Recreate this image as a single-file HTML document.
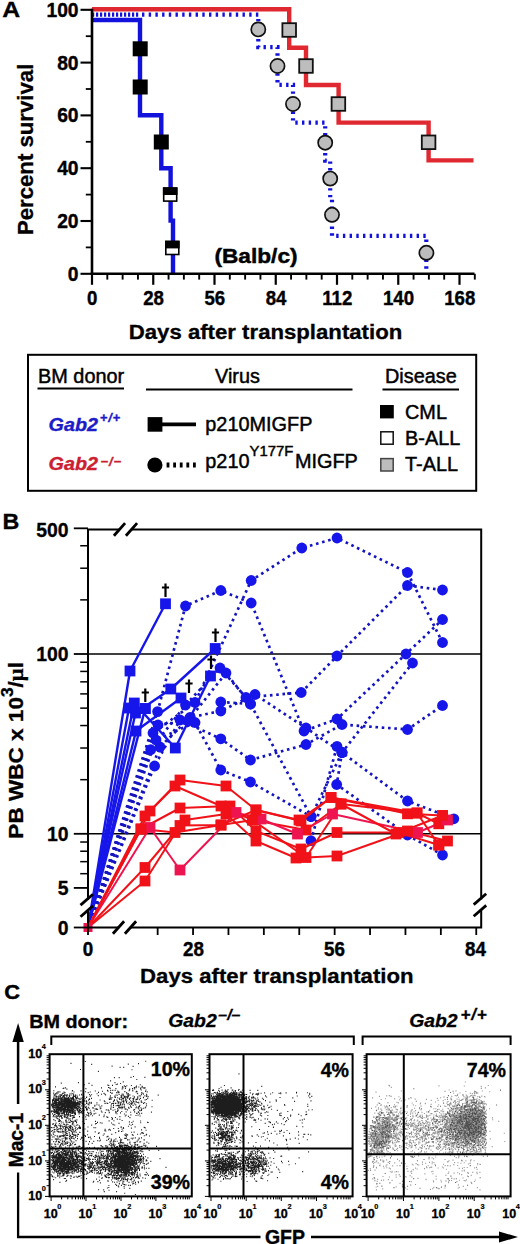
<!DOCTYPE html>
<html><head><meta charset="utf-8"><title>Figure</title>
<style>
html,body{margin:0;padding:0;background:#fff;}
body{width:520px;height:1244px;overflow:hidden;font-family:"Liberation Sans",sans-serif;}
svg{display:block;font-family:"Liberation Sans",sans-serif;}
</style></head><body>
<svg width="520" height="1244" viewBox="0 0 520 1244">
<rect x="0" y="0" width="520" height="1244" fill="#fff"/>
<g id="panelA">
<text transform="translate(2.3,17.4) scale(1.17,1)" font-size="21.2" font-weight="bold" text-anchor="start" fill="#000" stroke="#000" stroke-width="0.3" >A</text>
<path d="M92.0,20 H140 V115.3 H161.3 V168.2 H170.6 V220.6 H173 V273.8" fill="none" stroke="#1212dc" stroke-width="4.4" stroke-linejoin="miter"/>
<path d="M92.0,14.6 H140" fill="none" stroke="#1212dc" stroke-width="4.4" stroke-dasharray="2.2 1.8"/>
<path d="M142,14.6 H258.3 V47.2 H277.5 V84.9 H293 V122.6 H325.2 V160.6 H330.2 V199 H332 V235.8 H426.3 V273.8" fill="none" stroke="#1212dc" stroke-width="4.2" stroke-dasharray="2.4 4.3"/>
<path d="M92.0,9.3 H289.2 V47.8 H306 V85 H338.6 V122.6 H428.6 V160.4 H473.5" fill="none" stroke="#e02830" stroke-width="4.4" stroke-linejoin="miter"/>
<rect x="132.7" y="41.3" width="15" height="15" fill="#000" stroke="#000" stroke-width="0"/>
<rect x="132.7" y="79.5" width="15" height="15" fill="#000" stroke="#000" stroke-width="0"/>
<rect x="153.8" y="134.5" width="15" height="15" fill="#000" stroke="#000" stroke-width="0"/>
<rect x="163.7" y="188.1" width="13" height="13" fill="#fff" stroke="#000" stroke-width="1.6"/>
<rect x="162.9" y="187.3" width="14.6" height="7.7" fill="#000"/>
<rect x="165.8" y="241.5" width="13" height="13" fill="#fff" stroke="#000" stroke-width="1.6"/>
<rect x="165.0" y="240.7" width="14.6" height="7.7" fill="#000"/>
<rect x="282.4" y="23.2" width="13.6" height="13.6" fill="#bdbdbd" stroke="#111" stroke-width="1.8"/>
<rect x="299.2" y="59.2" width="13.6" height="13.6" fill="#bdbdbd" stroke="#111" stroke-width="1.8"/>
<rect x="331.6" y="97.2" width="13.6" height="13.6" fill="#bdbdbd" stroke="#111" stroke-width="1.8"/>
<rect x="421.8" y="135.5" width="13.6" height="13.6" fill="#bdbdbd" stroke="#111" stroke-width="1.8"/>
<circle cx="258.3" cy="29.4" r="7.1" fill="#bdbdbd" stroke="#111" stroke-width="1.7"/>
<circle cx="277.5" cy="66" r="7.1" fill="#bdbdbd" stroke="#111" stroke-width="1.7"/>
<circle cx="293" cy="104" r="7.1" fill="#bdbdbd" stroke="#111" stroke-width="1.7"/>
<circle cx="325.2" cy="142.7" r="7.1" fill="#bdbdbd" stroke="#111" stroke-width="1.7"/>
<circle cx="330.2" cy="178.6" r="7.1" fill="#bdbdbd" stroke="#111" stroke-width="1.7"/>
<circle cx="332" cy="214.8" r="7.1" fill="#bdbdbd" stroke="#111" stroke-width="1.7"/>
<circle cx="426.4" cy="252.8" r="7.1" fill="#bdbdbd" stroke="#111" stroke-width="1.7"/>
<line x1="92.0" y1="8.8" x2="92.0" y2="275.1" stroke="#000" stroke-width="2.6" />
<line x1="90.7" y1="273.8" x2="474.5" y2="273.8" stroke="#000" stroke-width="2.6" />
<line x1="80.5" y1="273.8" x2="92.0" y2="273.8" stroke="#000" stroke-width="2.1" />
<text transform="translate(78.6,280.7) scale(0.95,1)" font-size="20.3" font-weight="bold" text-anchor="end" fill="#000" stroke="#000" stroke-width="0.4" >0</text>
<line x1="85.8" y1="247.4" x2="92.0" y2="247.4" stroke="#000" stroke-width="1.8" />
<line x1="80.5" y1="221.0" x2="92.0" y2="221.0" stroke="#000" stroke-width="2.1" />
<text transform="translate(78.6,227.9) scale(0.95,1)" font-size="20.3" font-weight="bold" text-anchor="end" fill="#000" stroke="#000" stroke-width="0.4" >20</text>
<line x1="85.8" y1="194.60000000000002" x2="92.0" y2="194.60000000000002" stroke="#000" stroke-width="1.8" />
<line x1="80.5" y1="168.20000000000002" x2="92.0" y2="168.20000000000002" stroke="#000" stroke-width="2.1" />
<text transform="translate(78.6,175.10000000000002) scale(0.95,1)" font-size="20.3" font-weight="bold" text-anchor="end" fill="#000" stroke="#000" stroke-width="0.4" >40</text>
<line x1="85.8" y1="141.8" x2="92.0" y2="141.8" stroke="#000" stroke-width="1.8" />
<line x1="80.5" y1="115.4" x2="92.0" y2="115.4" stroke="#000" stroke-width="2.1" />
<text transform="translate(78.6,122.30000000000001) scale(0.95,1)" font-size="20.3" font-weight="bold" text-anchor="end" fill="#000" stroke="#000" stroke-width="0.4" >60</text>
<line x1="85.8" y1="89.0" x2="92.0" y2="89.0" stroke="#000" stroke-width="1.8" />
<line x1="80.5" y1="62.60000000000002" x2="92.0" y2="62.60000000000002" stroke="#000" stroke-width="2.1" />
<text transform="translate(78.6,69.50000000000003) scale(0.95,1)" font-size="20.3" font-weight="bold" text-anchor="end" fill="#000" stroke="#000" stroke-width="0.4" >80</text>
<line x1="85.8" y1="36.20000000000002" x2="92.0" y2="36.20000000000002" stroke="#000" stroke-width="1.8" />
<line x1="80.5" y1="9.800000000000011" x2="92.0" y2="9.800000000000011" stroke="#000" stroke-width="2.1" />
<text transform="translate(78.6,16.70000000000001) scale(0.95,1)" font-size="20.3" font-weight="bold" text-anchor="end" fill="#000" stroke="#000" stroke-width="0.4" >100</text>
<line x1="92.0" y1="273.8" x2="92.0" y2="284.8" stroke="#000" stroke-width="2.2" />
<text transform="translate(92.3,304.8) scale(0.92,1)" font-size="20.3" font-weight="bold" text-anchor="middle" fill="#000" stroke="#000" stroke-width="0.4" >0</text>
<line x1="107.3125" y1="273.8" x2="107.3125" y2="279.6" stroke="#000" stroke-width="1.9" />
<line x1="122.625" y1="273.8" x2="122.625" y2="279.6" stroke="#000" stroke-width="1.9" />
<line x1="137.9375" y1="273.8" x2="137.9375" y2="279.6" stroke="#000" stroke-width="1.9" />
<line x1="153.25" y1="273.8" x2="153.25" y2="284.8" stroke="#000" stroke-width="2.2" />
<text transform="translate(153.55,304.8) scale(0.92,1)" font-size="20.3" font-weight="bold" text-anchor="middle" fill="#000" stroke="#000" stroke-width="0.4" >28</text>
<line x1="168.5625" y1="273.8" x2="168.5625" y2="279.6" stroke="#000" stroke-width="1.9" />
<line x1="183.875" y1="273.8" x2="183.875" y2="279.6" stroke="#000" stroke-width="1.9" />
<line x1="199.1875" y1="273.8" x2="199.1875" y2="279.6" stroke="#000" stroke-width="1.9" />
<line x1="214.5" y1="273.8" x2="214.5" y2="284.8" stroke="#000" stroke-width="2.2" />
<text transform="translate(214.8,304.8) scale(0.92,1)" font-size="20.3" font-weight="bold" text-anchor="middle" fill="#000" stroke="#000" stroke-width="0.4" >56</text>
<line x1="229.8125" y1="273.8" x2="229.8125" y2="279.6" stroke="#000" stroke-width="1.9" />
<line x1="245.125" y1="273.8" x2="245.125" y2="279.6" stroke="#000" stroke-width="1.9" />
<line x1="260.4375" y1="273.8" x2="260.4375" y2="279.6" stroke="#000" stroke-width="1.9" />
<line x1="275.75" y1="273.8" x2="275.75" y2="284.8" stroke="#000" stroke-width="2.2" />
<text transform="translate(276.05,304.8) scale(0.92,1)" font-size="20.3" font-weight="bold" text-anchor="middle" fill="#000" stroke="#000" stroke-width="0.4" >84</text>
<line x1="291.0625" y1="273.8" x2="291.0625" y2="279.6" stroke="#000" stroke-width="1.9" />
<line x1="306.375" y1="273.8" x2="306.375" y2="279.6" stroke="#000" stroke-width="1.9" />
<line x1="321.6875" y1="273.8" x2="321.6875" y2="279.6" stroke="#000" stroke-width="1.9" />
<line x1="337.0" y1="273.8" x2="337.0" y2="284.8" stroke="#000" stroke-width="2.2" />
<text transform="translate(337.3,304.8) scale(0.92,1)" font-size="20.3" font-weight="bold" text-anchor="middle" fill="#000" stroke="#000" stroke-width="0.4" >112</text>
<line x1="352.3125" y1="273.8" x2="352.3125" y2="279.6" stroke="#000" stroke-width="1.9" />
<line x1="367.625" y1="273.8" x2="367.625" y2="279.6" stroke="#000" stroke-width="1.9" />
<line x1="382.9375" y1="273.8" x2="382.9375" y2="279.6" stroke="#000" stroke-width="1.9" />
<line x1="398.25" y1="273.8" x2="398.25" y2="284.8" stroke="#000" stroke-width="2.2" />
<text transform="translate(398.55,304.8) scale(0.92,1)" font-size="20.3" font-weight="bold" text-anchor="middle" fill="#000" stroke="#000" stroke-width="0.4" >140</text>
<line x1="413.5625" y1="273.8" x2="413.5625" y2="279.6" stroke="#000" stroke-width="1.9" />
<line x1="428.875" y1="273.8" x2="428.875" y2="279.6" stroke="#000" stroke-width="1.9" />
<line x1="444.1875" y1="273.8" x2="444.1875" y2="279.6" stroke="#000" stroke-width="1.9" />
<line x1="459.5" y1="273.8" x2="459.5" y2="284.8" stroke="#000" stroke-width="2.2" />
<text transform="translate(459.8,304.8) scale(0.92,1)" font-size="20.3" font-weight="bold" text-anchor="middle" fill="#000" stroke="#000" stroke-width="0.4" >168</text>
<line x1="474.8125" y1="273.8" x2="474.8125" y2="279.6" stroke="#000" stroke-width="1.9" />
<text transform="translate(33.0,149.4) rotate(-90)" font-size="22.2" stroke="#000" stroke-width="0.3" font-weight="bold" text-anchor="middle">Percent survival</text>
<text transform="translate(265.5,338.6) scale(1.072,1)" font-size="20.7" font-weight="bold" text-anchor="middle" fill="#000" stroke="#000" stroke-width="0.3" >Days after transplantation</text>
<text transform="translate(256,263.2) scale(1.09,1)" font-size="20.8" font-weight="bold" text-anchor="middle" fill="#000" stroke="#000" stroke-width="0.45" >(Balb/c)</text>
</g>
<g id="legend">
<rect x="28" y="354.8" width="448.2" height="136" fill="none" stroke="#000" stroke-width="2"/>
<text transform="translate(38,382.5) scale(1.02,1)" font-size="19.5" font-weight="normal" text-anchor="start" fill="#000" stroke="#000" stroke-width="0.45" >BM donor</text>
<line x1="37.5" y1="388.6" x2="124" y2="388.6" stroke="#000" stroke-width="2" />
<text transform="translate(215,382.5) scale(1.02,1)" font-size="19.5" font-weight="normal" text-anchor="start" fill="#000" stroke="#000" stroke-width="0.45" >Virus</text>
<line x1="146" y1="389.4" x2="352.5" y2="389.4" stroke="#000" stroke-width="2" />
<text transform="translate(385,382.5) scale(1.02,1)" font-size="19.5" font-weight="normal" text-anchor="start" fill="#000" stroke="#000" stroke-width="0.45" >Disease</text>
<line x1="382.5" y1="389.4" x2="459" y2="389.4" stroke="#000" stroke-width="2" />
<text transform="translate(48.6,430.8) scale(1.04,1)" font-size="19" font-weight="bold" font-style="italic" fill="#1c1cc8" stroke="#1c1cc8" stroke-width="0.35">Gab2<tspan dy="-8.7" dx="1.8" font-size="12.5" letter-spacing="0.7">+/+</tspan></text>
<text transform="translate(48.6,470.2) scale(1.04,1)" font-size="19" font-weight="bold" font-style="italic" fill="#cc2030" stroke="#cc2030" stroke-width="0.35">Gab2<tspan dy="-4.2" dx="2.4" font-size="12.5" letter-spacing="0.9">&#8722;/&#8722;</tspan></text>
<rect x="147.6" y="417.1" width="14.8" height="14.6" fill="#000"/>
<line x1="160" y1="424.3" x2="196" y2="424.3" stroke="#000" stroke-width="3.8" />
<text transform="translate(205.3,430.8) scale(1.02,1)" font-size="19.5" font-weight="normal" text-anchor="start" fill="#000" stroke="#000" stroke-width="0.45" >p210MIGFP</text>
<circle cx="154.9" cy="465" r="7.6" fill="#000"/>
<line x1="166.6" y1="465.1" x2="196.2" y2="465.1" stroke="#000" stroke-width="5" stroke-dasharray="2.8 3.8"/>
<text transform="translate(205.3,468.3) scale(1.02,1)" font-size="19.5" font-weight="normal" stroke="#000" stroke-width="0.45">p210<tspan dy="-12.8" font-size="14.6">Y177F</tspan><tspan dy="12.8" dx="1.5">MIGFP</tspan></text>
<rect x="380" y="405" width="13.8" height="13.4" fill="#000"/>
<text transform="translate(405,418.8) scale(1.02,1)" font-size="19.5" font-weight="normal" text-anchor="start" fill="#000" stroke="#000" stroke-width="0.45" >CML</text>
<rect x="380.8" y="431.8" width="12.4" height="12.4" fill="#fff" stroke="#111" stroke-width="1.5"/>
<text transform="translate(405,445) scale(1.02,1)" font-size="19.5" font-weight="normal" text-anchor="start" fill="#000" stroke="#000" stroke-width="0.45" >B-ALL</text>
<rect x="380.8" y="458.6" width="12.4" height="12.4" fill="#bdbdbd" stroke="#444" stroke-width="1.5"/>
<text transform="translate(405,470.7) scale(1.02,1)" font-size="19.5" font-weight="normal" text-anchor="start" fill="#000" stroke="#000" stroke-width="0.45" >T-ALL</text>
</g>
<g id="panelB">
<text transform="translate(2.6,528.6) scale(1.1,1)" font-size="21.2" font-weight="bold" text-anchor="start" fill="#000" stroke="#000" stroke-width="0.3" >B</text>
<line x1="88.0" y1="654.0" x2="481.2" y2="654.0" stroke="#000" stroke-width="1.5" />
<line x1="88.0" y1="833.8" x2="481.2" y2="833.8" stroke="#000" stroke-width="1.5" />
<path d="M88.0,927.5 L157.6,711.6 L185.5,606.0 L220.8,590.5 L251.2,603.0 L304.0,731.0 L337.0,719.0 L406.0,654.0 L442.5,619.5" fill="none" stroke="#1414c0" stroke-width="2.7" stroke-dasharray="2.6 3.7" stroke-linejoin="round"/>
<path d="M88.0,927.5 L153.0,733.0 L195.0,702.5 L251.2,580.5 L301.8,548.0 L337.0,538.0 L407.5,572.5 L442.5,642.5" fill="none" stroke="#1414c0" stroke-width="2.7" stroke-dasharray="2.6 3.7" stroke-linejoin="round"/>
<path d="M88.0,927.5 L150.7,749.7 L185.5,705.0 L220.0,668.0 L246.0,697.5 L301.2,692.5 L337.0,656.0 L407.5,585.5 L442.5,590.0" fill="none" stroke="#1414c0" stroke-width="2.7" stroke-dasharray="2.6 3.7" stroke-linejoin="round"/>
<path d="M88.0,927.5 L160.0,747.0 L190.0,717.5 L220.8,711.0 L255.0,694.5 L306.0,728.0 L342.0,752.5 L412.5,663.0" fill="none" stroke="#1414c0" stroke-width="2.7" stroke-dasharray="2.6 3.7" stroke-linejoin="round"/>
<path d="M88.0,927.5 L154.6,766.0 L180.0,720.0 L220.8,738.8 L250.5,760.0 L306.0,744.5 L342.0,724.5 L407.5,729.5 L442.5,705.5" fill="none" stroke="#1414c0" stroke-width="2.7" stroke-dasharray="2.6 3.7" stroke-linejoin="round"/>
<path d="M88.0,927.5 L156.0,740.0 L195.0,722.5 L220.8,770.0 L250.5,782.0 L311.0,816.5 L342.0,752.5 L407.5,801.0 L453.8,818.8" fill="none" stroke="#1414c0" stroke-width="2.7" stroke-dasharray="2.6 3.7" stroke-linejoin="round"/>
<path d="M88.0,927.5 L158.0,725.0 L188.0,721.0 L226.0,673.0 L250.5,704.0 L311.0,816.5" fill="none" stroke="#1414c0" stroke-width="2.7" stroke-dasharray="2.6 3.7" stroke-linejoin="round"/>
<path d="M311.0,840.7 L337.0,746.4" fill="none" stroke="#1414c0" stroke-width="2.7" stroke-dasharray="2.6 3.7" stroke-linejoin="round"/>
<path d="M342.0,752.5 L336.7,784.5 L407.5,835.0 L442.5,855.0" fill="none" stroke="#1414c0" stroke-width="2.7" stroke-dasharray="2.6 3.7" stroke-linejoin="round"/>
<path d="M220.8,702.0 L250.5,704.0" fill="none" stroke="#1414c0" stroke-width="2.7" stroke-dasharray="2.6 3.7" stroke-linejoin="round"/>
<circle cx="157.6" cy="711.6" r="5.4" fill="#1616ea"/>
<circle cx="185.5" cy="606.0" r="5.4" fill="#1616ea"/>
<circle cx="220.8" cy="590.5" r="5.4" fill="#1616ea"/>
<circle cx="251.2" cy="603.0" r="5.4" fill="#1616ea"/>
<circle cx="304.0" cy="731.0" r="5.4" fill="#1616ea"/>
<circle cx="337.0" cy="719.0" r="5.4" fill="#1616ea"/>
<circle cx="406.0" cy="654.0" r="5.4" fill="#1616ea"/>
<circle cx="442.5" cy="619.5" r="5.4" fill="#1616ea"/>
<circle cx="153.0" cy="733.0" r="5.4" fill="#1616ea"/>
<circle cx="195.0" cy="702.5" r="5.4" fill="#1616ea"/>
<circle cx="251.2" cy="580.5" r="5.4" fill="#1616ea"/>
<circle cx="301.8" cy="548.0" r="5.4" fill="#1616ea"/>
<circle cx="337.0" cy="538.0" r="5.4" fill="#1616ea"/>
<circle cx="407.5" cy="572.5" r="5.4" fill="#1616ea"/>
<circle cx="442.5" cy="642.5" r="5.4" fill="#1616ea"/>
<circle cx="150.7" cy="749.7" r="5.4" fill="#1616ea"/>
<circle cx="185.5" cy="705.0" r="5.4" fill="#1616ea"/>
<circle cx="220.0" cy="668.0" r="5.4" fill="#1616ea"/>
<circle cx="246.0" cy="697.5" r="5.4" fill="#1616ea"/>
<circle cx="301.2" cy="692.5" r="5.4" fill="#1616ea"/>
<circle cx="337.0" cy="656.0" r="5.4" fill="#1616ea"/>
<circle cx="407.5" cy="585.5" r="5.4" fill="#1616ea"/>
<circle cx="442.5" cy="590.0" r="5.4" fill="#1616ea"/>
<circle cx="160.0" cy="747.0" r="5.4" fill="#1616ea"/>
<circle cx="190.0" cy="717.5" r="5.4" fill="#1616ea"/>
<circle cx="220.8" cy="711.0" r="5.4" fill="#1616ea"/>
<circle cx="255.0" cy="694.5" r="5.4" fill="#1616ea"/>
<circle cx="306.0" cy="728.0" r="5.4" fill="#1616ea"/>
<circle cx="342.0" cy="752.5" r="5.4" fill="#1616ea"/>
<circle cx="412.5" cy="663.0" r="5.4" fill="#1616ea"/>
<circle cx="154.6" cy="766.0" r="5.4" fill="#1616ea"/>
<circle cx="180.0" cy="720.0" r="5.4" fill="#1616ea"/>
<circle cx="220.8" cy="738.8" r="5.4" fill="#1616ea"/>
<circle cx="250.5" cy="760.0" r="5.4" fill="#1616ea"/>
<circle cx="306.0" cy="744.5" r="5.4" fill="#1616ea"/>
<circle cx="342.0" cy="724.5" r="5.4" fill="#1616ea"/>
<circle cx="407.5" cy="729.5" r="5.4" fill="#1616ea"/>
<circle cx="442.5" cy="705.5" r="5.4" fill="#1616ea"/>
<circle cx="156.0" cy="740.0" r="5.4" fill="#1616ea"/>
<circle cx="195.0" cy="722.5" r="5.4" fill="#1616ea"/>
<circle cx="220.8" cy="770.0" r="5.4" fill="#1616ea"/>
<circle cx="250.5" cy="782.0" r="5.4" fill="#1616ea"/>
<circle cx="311.0" cy="816.5" r="5.4" fill="#1616ea"/>
<circle cx="342.0" cy="752.5" r="5.4" fill="#1616ea"/>
<circle cx="407.5" cy="801.0" r="5.4" fill="#1616ea"/>
<circle cx="453.8" cy="818.8" r="5.4" fill="#1616ea"/>
<circle cx="158.0" cy="725.0" r="5.4" fill="#1616ea"/>
<circle cx="188.0" cy="721.0" r="5.4" fill="#1616ea"/>
<circle cx="226.0" cy="673.0" r="5.4" fill="#1616ea"/>
<circle cx="250.5" cy="704.0" r="5.4" fill="#1616ea"/>
<circle cx="311.0" cy="816.5" r="5.4" fill="#1616ea"/>
<circle cx="311.0" cy="840.7" r="5.4" fill="#1616ea"/>
<circle cx="337.0" cy="746.4" r="5.4" fill="#1616ea"/>
<circle cx="342.0" cy="752.5" r="5.4" fill="#1616ea"/>
<circle cx="336.7" cy="784.5" r="5.4" fill="#1616ea"/>
<circle cx="407.5" cy="835.0" r="5.4" fill="#1616ea"/>
<circle cx="442.5" cy="855.0" r="5.4" fill="#1616ea"/>
<circle cx="220.8" cy="702.0" r="5.4" fill="#1616ea"/>
<circle cx="250.5" cy="704.0" r="5.4" fill="#1616ea"/>
<path d="M88.0,927.5 L130.0,671.0 L165.5,603.8" fill="none" stroke="#1616ea" stroke-width="2.4" stroke-linejoin="round"/>
<path d="M88.0,927.5 L129.0,708.0 L145.2,708.6" fill="none" stroke="#1616ea" stroke-width="2.4" stroke-linejoin="round"/>
<path d="M88.0,927.5 L145.2,708.6" fill="none" stroke="#1616ea" stroke-width="2.4" stroke-linejoin="round"/>
<path d="M88.0,927.5 L134.3,703.0 L175.3,748.0 L210.5,676.0" fill="none" stroke="#1616ea" stroke-width="2.4" stroke-linejoin="round"/>
<path d="M88.0,927.5 L135.5,713.0 L170.8,689.0 L215.2,648.5" fill="none" stroke="#1616ea" stroke-width="2.4" stroke-linejoin="round"/>
<path d="M88.0,927.5 L136.0,731.0 L181.0,698.0" fill="none" stroke="#1616ea" stroke-width="2.4" stroke-linejoin="round"/>
<rect x="124.6" y="665.6" width="10.8" height="10.8" fill="#1616ea"/>
<rect x="160.1" y="598.4" width="10.8" height="10.8" fill="#1616ea"/>
<rect x="123.6" y="702.6" width="10.8" height="10.8" fill="#1616ea"/>
<rect x="139.8" y="703.2" width="10.8" height="10.8" fill="#1616ea"/>
<rect x="139.8" y="703.2" width="10.8" height="10.8" fill="#1616ea"/>
<rect x="128.9" y="697.6" width="10.8" height="10.8" fill="#1616ea"/>
<rect x="169.9" y="742.6" width="10.8" height="10.8" fill="#1616ea"/>
<rect x="205.1" y="670.6" width="10.8" height="10.8" fill="#1616ea"/>
<rect x="130.1" y="707.6" width="10.8" height="10.8" fill="#1616ea"/>
<rect x="165.4" y="683.6" width="10.8" height="10.8" fill="#1616ea"/>
<rect x="209.8" y="643.1" width="10.8" height="10.8" fill="#1616ea"/>
<rect x="130.6" y="725.6" width="10.8" height="10.8" fill="#1616ea"/>
<rect x="175.6" y="692.6" width="10.8" height="10.8" fill="#1616ea"/>
<path d="M165.5,583.5 V597.0 M161.9,587.5 H169.1" fill="none" stroke="#000" stroke-width="2.2"/>
<path d="M215.5,628.5 V642.0 M211.9,632.5 H219.1" fill="none" stroke="#000" stroke-width="2.2"/>
<path d="M211,655.5 V669.0 M207.4,659.5 H214.6" fill="none" stroke="#000" stroke-width="2.2"/>
<path d="M189,679.5 V693.0 M185.4,683.5 H192.6" fill="none" stroke="#000" stroke-width="2.2"/>
<path d="M145.3,688.5 V702.0 M141.70000000000002,692.5 H148.9" fill="none" stroke="#000" stroke-width="2.2"/>
<path d="M88.0,927.5 L150.0,811.0 L180.0,780.0 L226.0,786.0 L256.0,810.0 L301.0,821.0 L331.0,797.5 L407.5,813.8 L442.5,815.5" fill="none" stroke="#f01218" stroke-width="2.0" stroke-linejoin="round"/>
<path d="M88.0,927.5 L145.0,816.0 L175.0,786.0 L221.0,806.0 L252.5,820.0 L306.0,830.0 L341.0,804.0 L417.0,813.0 L438.8,823.8" fill="none" stroke="#f01218" stroke-width="2.0" stroke-linejoin="round"/>
<path d="M88.0,927.5 L141.0,829.0 L180.0,808.0 L230.0,806.0 L256.0,831.0 L301.0,849.0 L337.0,832.5 L398.8,832.5 L438.8,845.0" fill="none" stroke="#f01218" stroke-width="2.0" stroke-linejoin="round"/>
<path d="M88.0,927.5 L150.0,827.5 L180.0,870.0 L236.0,812.5 L261.0,819.0 L297.5,834.0 L332.5,814.0 L417.5,832.5 L447.5,820.0" fill="none" stroke="#ee1450" stroke-width="2.0" stroke-linejoin="round"/>
<path d="M88.0,927.5 L145.0,867.5 L185.0,820.0 L226.0,814.0 L256.0,841.0 L296.0,858.0 L337.0,856.0 L407.5,831.0 L447.5,841.0" fill="none" stroke="#f01218" stroke-width="2.0" stroke-linejoin="round"/>
<path d="M88.0,927.5 L145.0,881.0 L180.0,825.5 L221.0,825.0 L252.5,820.0 L306.0,857.5 L341.0,804.0 L396.0,834.0 L442.5,815.5" fill="none" stroke="#f01218" stroke-width="2.0" stroke-linejoin="round"/>
<path d="M88.0,927.5 L141.0,829.0 L175.0,832.5 L221.0,825.0 L256.0,810.0 L299.0,820.0 L331.0,797.5 L417.0,813.0 L438.8,845.0" fill="none" stroke="#f01218" stroke-width="2.0" stroke-linejoin="round"/>
<rect x="144.6" y="805.6" width="10.8" height="10.8" fill="#f01218"/>
<rect x="174.6" y="774.6" width="10.8" height="10.8" fill="#f01218"/>
<rect x="220.6" y="780.6" width="10.8" height="10.8" fill="#f01218"/>
<rect x="250.6" y="804.6" width="10.8" height="10.8" fill="#f01218"/>
<rect x="295.6" y="815.6" width="10.8" height="10.8" fill="#f01218"/>
<rect x="325.6" y="792.1" width="10.8" height="10.8" fill="#f01218"/>
<rect x="402.1" y="808.4" width="10.8" height="10.8" fill="#f01218"/>
<rect x="437.1" y="810.1" width="10.8" height="10.8" fill="#f01218"/>
<rect x="139.6" y="810.6" width="10.8" height="10.8" fill="#f01218"/>
<rect x="169.6" y="780.6" width="10.8" height="10.8" fill="#f01218"/>
<rect x="215.6" y="800.6" width="10.8" height="10.8" fill="#f01218"/>
<rect x="247.1" y="814.6" width="10.8" height="10.8" fill="#f01218"/>
<rect x="300.6" y="824.6" width="10.8" height="10.8" fill="#f01218"/>
<rect x="335.6" y="798.6" width="10.8" height="10.8" fill="#f01218"/>
<rect x="411.6" y="807.6" width="10.8" height="10.8" fill="#f01218"/>
<rect x="433.4" y="818.4" width="10.8" height="10.8" fill="#f01218"/>
<rect x="135.6" y="823.6" width="10.8" height="10.8" fill="#f01218"/>
<rect x="174.6" y="802.6" width="10.8" height="10.8" fill="#f01218"/>
<rect x="224.6" y="800.6" width="10.8" height="10.8" fill="#f01218"/>
<rect x="250.6" y="825.6" width="10.8" height="10.8" fill="#f01218"/>
<rect x="295.6" y="843.6" width="10.8" height="10.8" fill="#f01218"/>
<rect x="331.6" y="827.1" width="10.8" height="10.8" fill="#f01218"/>
<rect x="393.4" y="827.1" width="10.8" height="10.8" fill="#f01218"/>
<rect x="433.4" y="839.6" width="10.8" height="10.8" fill="#f01218"/>
<rect x="144.6" y="822.1" width="10.8" height="10.8" fill="#ee1450"/>
<rect x="174.6" y="864.6" width="10.8" height="10.8" fill="#ee1450"/>
<rect x="230.6" y="807.1" width="10.8" height="10.8" fill="#ee1450"/>
<rect x="255.6" y="813.6" width="10.8" height="10.8" fill="#ee1450"/>
<rect x="292.1" y="828.6" width="10.8" height="10.8" fill="#ee1450"/>
<rect x="327.1" y="808.6" width="10.8" height="10.8" fill="#ee1450"/>
<rect x="412.1" y="827.1" width="10.8" height="10.8" fill="#ee1450"/>
<rect x="442.1" y="814.6" width="10.8" height="10.8" fill="#ee1450"/>
<rect x="139.6" y="862.1" width="10.8" height="10.8" fill="#f01218"/>
<rect x="179.6" y="814.6" width="10.8" height="10.8" fill="#f01218"/>
<rect x="220.6" y="808.6" width="10.8" height="10.8" fill="#f01218"/>
<rect x="250.6" y="835.6" width="10.8" height="10.8" fill="#f01218"/>
<rect x="290.6" y="852.6" width="10.8" height="10.8" fill="#f01218"/>
<rect x="331.6" y="850.6" width="10.8" height="10.8" fill="#f01218"/>
<rect x="402.1" y="825.6" width="10.8" height="10.8" fill="#f01218"/>
<rect x="442.1" y="835.6" width="10.8" height="10.8" fill="#f01218"/>
<rect x="139.6" y="875.6" width="10.8" height="10.8" fill="#f01218"/>
<rect x="174.6" y="820.1" width="10.8" height="10.8" fill="#f01218"/>
<rect x="215.6" y="819.6" width="10.8" height="10.8" fill="#f01218"/>
<rect x="247.1" y="814.6" width="10.8" height="10.8" fill="#f01218"/>
<rect x="300.6" y="852.1" width="10.8" height="10.8" fill="#f01218"/>
<rect x="335.6" y="798.6" width="10.8" height="10.8" fill="#f01218"/>
<rect x="390.6" y="828.6" width="10.8" height="10.8" fill="#f01218"/>
<rect x="437.1" y="810.1" width="10.8" height="10.8" fill="#f01218"/>
<rect x="135.6" y="823.6" width="10.8" height="10.8" fill="#f01218"/>
<rect x="169.6" y="827.1" width="10.8" height="10.8" fill="#f01218"/>
<rect x="215.6" y="819.6" width="10.8" height="10.8" fill="#f01218"/>
<rect x="250.6" y="804.6" width="10.8" height="10.8" fill="#f01218"/>
<rect x="293.6" y="814.6" width="10.8" height="10.8" fill="#f01218"/>
<rect x="325.6" y="792.1" width="10.8" height="10.8" fill="#f01218"/>
<rect x="411.6" y="807.6" width="10.8" height="10.8" fill="#f01218"/>
<rect x="433.4" y="839.6" width="10.8" height="10.8" fill="#f01218"/>
<rect x="83.5" y="923.0" width="9" height="9" fill="#ee1450"/>
<path d="M88.0,927.5 V529.4 H481.2 V927.5 H87.0" fill="none" stroke="#000" stroke-width="2"/>
<rect x="119.5" y="527.4" width="12" height="4" fill="#fff"/>
<line x1="113.9" y1="535.6999999999999" x2="125.1" y2="523.1" stroke="#000" stroke-width="2.8" />
<line x1="125.9" y1="535.6999999999999" x2="137.1" y2="523.1" stroke="#000" stroke-width="2.8" />
<rect x="118.5" y="925.5" width="12" height="4" fill="#fff"/>
<line x1="112.9" y1="933.8" x2="124.1" y2="921.2" stroke="#000" stroke-width="2.8" />
<line x1="124.9" y1="933.8" x2="136.1" y2="921.2" stroke="#000" stroke-width="2.8" />
<rect x="86.0" y="900.0" width="4" height="11" fill="#fff"/>
<line x1="80.5" y1="905.1" x2="93.0" y2="894.3000000000001" stroke="#000" stroke-width="2.8" />
<line x1="80.5" y1="916.6999999999999" x2="93.0" y2="905.9" stroke="#000" stroke-width="2.8" />
<rect x="479.2" y="899.5" width="4" height="11" fill="#fff"/>
<line x1="473.7" y1="904.6" x2="486.2" y2="893.8000000000001" stroke="#000" stroke-width="2.8" />
<line x1="473.7" y1="916.1999999999999" x2="486.2" y2="905.4" stroke="#000" stroke-width="2.8" />
<line x1="73.8" y1="528.3251932203839" x2="88.0" y2="528.3251932203839" stroke="#000" stroke-width="1.8" />
<text transform="translate(68.6,537.0251932203839) scale(0.98,1)" font-size="19.8" font-weight="bold" text-anchor="end" fill="#000" stroke="#000" stroke-width="0.3" >500</text>
<line x1="73.8" y1="654.0" x2="88.0" y2="654.0" stroke="#000" stroke-width="1.8" />
<text transform="translate(68.6,661.2) scale(0.98,1)" font-size="19.8" font-weight="bold" text-anchor="end" fill="#000" stroke="#000" stroke-width="0.3" >100</text>
<line x1="73.8" y1="833.8" x2="88.0" y2="833.8" stroke="#000" stroke-width="1.8" />
<text transform="translate(68.6,841.0) scale(0.98,1)" font-size="19.8" font-weight="bold" text-anchor="end" fill="#000" stroke="#000" stroke-width="0.3" >10</text>
<line x1="73.8" y1="887.9251932203838" x2="88.0" y2="887.9251932203838" stroke="#000" stroke-width="1.8" />
<text transform="translate(68.6,895.1251932203838) scale(0.98,1)" font-size="19.8" font-weight="bold" text-anchor="end" fill="#000" stroke="#000" stroke-width="0.3" >5</text>
<line x1="80.2" y1="545.7496135592323" x2="88.0" y2="545.7496135592323" stroke="#000" stroke-width="1.5" />
<line x1="80.2" y1="568.2135984014046" x2="88.0" y2="568.2135984014046" stroke="#000" stroke-width="1.5" />
<line x1="80.2" y1="599.8748067796162" x2="88.0" y2="599.8748067796162" stroke="#000" stroke-width="1.5" />
<line x1="80.2" y1="662.2271968028094" x2="88.0" y2="662.2271968028094" stroke="#000" stroke-width="1.5" />
<line x1="80.2" y1="671.4244203388486" x2="88.0" y2="671.4244203388486" stroke="#000" stroke-width="1.5" />
<line x1="80.2" y1="681.8513724054366" x2="88.0" y2="681.8513724054366" stroke="#000" stroke-width="1.5" />
<line x1="80.2" y1="693.8884051810209" x2="88.0" y2="693.8884051810209" stroke="#000" stroke-width="1.5" />
<line x1="80.2" y1="708.1251932203838" x2="88.0" y2="708.1251932203838" stroke="#000" stroke-width="1.5" />
<line x1="80.2" y1="725.5496135592323" x2="88.0" y2="725.5496135592323" stroke="#000" stroke-width="1.5" />
<line x1="80.2" y1="748.0135984014047" x2="88.0" y2="748.0135984014047" stroke="#000" stroke-width="1.5" />
<line x1="80.2" y1="779.6748067796161" x2="88.0" y2="779.6748067796161" stroke="#000" stroke-width="1.5" />
<line x1="80.2" y1="842.0271968028094" x2="88.0" y2="842.0271968028094" stroke="#000" stroke-width="1.5" />
<line x1="80.2" y1="851.2244203388486" x2="88.0" y2="851.2244203388486" stroke="#000" stroke-width="1.5" />
<line x1="80.2" y1="861.6513724054366" x2="88.0" y2="861.6513724054366" stroke="#000" stroke-width="1.5" />
<line x1="80.2" y1="873.6884051810209" x2="88.0" y2="873.6884051810209" stroke="#000" stroke-width="1.5" />
<line x1="73.8" y1="927.5" x2="88.0" y2="927.5" stroke="#000" stroke-width="1.8" />
<text transform="translate(68.6,934.7) scale(0.98,1)" font-size="19.8" font-weight="bold" text-anchor="end" fill="#000" stroke="#000" stroke-width="0.3" >0</text>
<line x1="88" y1="927.5" x2="88" y2="935.0" stroke="#000" stroke-width="1.8" />
<text transform="translate(88,955.8) scale(0.95,1)" font-size="19.8" font-weight="bold" text-anchor="middle" fill="#000" stroke="#000" stroke-width="0.4" >0</text>
<line x1="476.25" y1="927.5" x2="476.25" y2="935.0" stroke="#000" stroke-width="1.8" />
<line x1="440.85" y1="927.5" x2="440.85" y2="935.0" stroke="#000" stroke-width="1.8" />
<line x1="405.45" y1="927.5" x2="405.45" y2="935.0" stroke="#000" stroke-width="1.8" />
<line x1="370.05" y1="927.5" x2="370.05" y2="935.0" stroke="#000" stroke-width="1.8" />
<line x1="334.65" y1="927.5" x2="334.65" y2="935.0" stroke="#000" stroke-width="1.8" />
<line x1="299.25" y1="927.5" x2="299.25" y2="935.0" stroke="#000" stroke-width="1.8" />
<line x1="263.85" y1="927.5" x2="263.85" y2="935.0" stroke="#000" stroke-width="1.8" />
<line x1="228.45000000000002" y1="927.5" x2="228.45000000000002" y2="935.0" stroke="#000" stroke-width="1.8" />
<line x1="193.05" y1="927.5" x2="193.05" y2="935.0" stroke="#000" stroke-width="1.8" />
<line x1="157.65000000000003" y1="927.5" x2="157.65000000000003" y2="935.0" stroke="#000" stroke-width="1.8" />
<text transform="translate(193.5,955.8) scale(0.95,1)" font-size="19.8" font-weight="bold" text-anchor="middle" fill="#000" stroke="#000" stroke-width="0.4" >28</text>
<text transform="translate(334.5,955.8) scale(0.95,1)" font-size="19.8" font-weight="bold" text-anchor="middle" fill="#000" stroke="#000" stroke-width="0.4" >56</text>
<text transform="translate(475.5,955.8) scale(0.95,1)" font-size="19.8" font-weight="bold" text-anchor="middle" fill="#000" stroke="#000" stroke-width="0.4" >84</text>
<text transform="translate(276.8,983) scale(1.072,1)" font-size="20.7" font-weight="bold" text-anchor="middle" fill="#000" stroke="#000" stroke-width="0.3" >Days after transplantation</text>
<text transform="translate(22.6,750.3) rotate(-90) scale(1.085,1)" font-size="20.8" font-weight="bold" text-anchor="middle" stroke="#000" stroke-width="0.3">PB WBC x 10<tspan dy="-9.5" font-size="16">3</tspan><tspan dy="9.5">/</tspan><tspan font-family="Liberation Serif, serif" font-size="21">&#956;</tspan><tspan>l</tspan></text>
</g>
<g id="panelC">
<text transform="translate(4.3,999) scale(1.04,1)" font-size="21" font-weight="bold" text-anchor="start" fill="#000" stroke="#000" stroke-width="0.4" >C</text>
<text transform="translate(29.2,1027.6) scale(1.03,1)" font-size="19.2" font-weight="bold" text-anchor="start" fill="#000" stroke="#000" stroke-width="0.35" >BM donor:</text>
<text transform="translate(168.3,1027.2) scale(1.03,1)" font-size="18.8" font-weight="bold" font-style="italic" stroke="#000" stroke-width="0.3">Gab2<tspan dy="-7" dx="1.5" font-size="15.5">&#8211;/&#8211;</tspan></text>
<text transform="translate(409.2,1026.8) scale(1.03,1)" font-size="18.8" font-weight="bold" font-style="italic" stroke="#000" stroke-width="0.3">Gab2<tspan dy="-7.3" dx="2.8" font-size="16.5" letter-spacing="0.8">+/+</tspan></text>
<path d="M51.3,1045 V1036.5 H353.8 V1045" fill="none" stroke="#000" stroke-width="2"/>
<path d="M362.6,1045 V1036.5 H510.6 V1045" fill="none" stroke="#000" stroke-width="2"/>
<path d="M53.4 1107.1h1M74.5 1102.2h1M52.4 1104.6h1M69.5 1111.0h1M53.4 1097.9h1M71.7 1107.6h1M79.6 1110.4h1M64.0 1103.5h1M89.4 1103.4h1M57.5 1098.7h1M65.9 1105.8h1M61.7 1104.7h1M67.6 1108.8h1M75.4 1106.2h1M51.5 1104.1h1M51.0 1105.0h1M57.6 1106.2h1M96.4 1104.7h1M73.0 1097.7h1M62.3 1108.6h1M64.1 1107.0h1M66.0 1099.5h1M70.4 1100.5h1M82.8 1102.2h1M71.5 1105.0h1M74.0 1101.7h1M74.5 1104.3h1M77.0 1108.4h1M66.3 1100.7h1M72.3 1107.6h1M80.6 1102.9h1M70.3 1107.8h1M67.7 1106.1h1M66.7 1101.7h1M55.4 1102.8h1M70.6 1113.3h1M74.3 1110.8h1M72.4 1108.8h1M66.7 1109.2h1M81.8 1103.2h1M58.4 1115.8h1M67.3 1110.3h1M73.3 1098.8h1M88.1 1114.8h1M66.7 1109.1h1M66.2 1100.1h1M63.9 1107.1h1M75.6 1108.9h1M65.6 1112.5h1M57.8 1109.4h1M75.6 1103.4h1M67.3 1107.9h1M79.7 1099.5h1M65.0 1108.6h1M63.5 1092.0h1M72.7 1117.7h1M74.5 1100.0h1M61.1 1106.2h1M88.6 1108.4h1M66.1 1113.6h1M64.2 1115.2h1M58.5 1102.4h1M71.8 1112.8h1M71.2 1106.7h1M59.2 1102.1h1M70.6 1103.2h1M72.5 1105.5h1M61.8 1105.6h1M69.1 1109.7h1M60.5 1103.7h1M52.0 1113.8h1M78.8 1104.0h1M60.5 1098.2h1M66.6 1106.1h1M85.7 1106.4h1M57.6 1091.6h1M78.4 1106.0h1M75.6 1108.1h1M63.3 1093.2h1M63.8 1096.4h1M70.7 1093.2h1M56.4 1111.7h1M80.6 1098.5h1M73.1 1099.6h1M58.4 1101.2h1M53.7 1101.3h1M76.9 1108.8h1M84.5 1104.5h1M63.7 1099.6h1M63.8 1097.8h1M78.7 1109.6h1M77.7 1106.4h1M58.2 1105.5h1M61.4 1098.9h1M64.9 1105.8h1M60.5 1112.9h1M66.7 1108.2h1M76.6 1100.5h1M58.5 1112.2h1M68.2 1110.5h1M72.3 1093.6h1M71.8 1101.3h1M57.8 1102.6h1M72.3 1109.9h1M74.6 1095.9h1M59.4 1091.9h1M64.0 1108.3h1M57.7 1106.3h1M67.2 1110.5h1M57.2 1100.4h1M57.7 1114.6h1M75.4 1104.3h1M67.1 1105.6h1M66.9 1103.9h1M61.8 1098.1h1M58.9 1114.1h1M70.1 1105.4h1M63.0 1105.3h1M68.4 1101.4h1M66.9 1106.3h1M57.9 1100.7h1M55.5 1099.2h1M73.5 1092.0h1M62.5 1101.6h1M59.1 1105.5h1M75.7 1105.4h1M63.7 1101.6h1M63.8 1110.0h1M61.3 1098.7h1M53.0 1098.9h1M51.8 1111.0h1M68.4 1103.7h1M78.9 1101.4h1M72.2 1109.4h1M56.2 1110.0h1M77.3 1098.2h1M75.0 1102.9h1M61.3 1102.0h1M61.9 1095.0h1M55.5 1098.2h1M69.7 1116.5h1M91.0 1103.1h1M56.1 1115.9h1M70.4 1101.0h1M73.9 1107.9h1M62.7 1105.1h1M66.3 1103.1h1M66.8 1101.8h1M56.5 1113.3h1M68.4 1107.4h1M72.8 1097.9h1M75.4 1102.9h1M68.8 1104.3h1M67.1 1111.6h1M61.2 1113.6h1M57.6 1099.9h1M71.8 1099.1h1M61.5 1110.0h1M76.5 1095.2h1M69.8 1115.4h1M76.4 1103.7h1M59.3 1103.4h1M54.0 1103.5h1M63.2 1104.2h1M76.2 1103.7h1M51.2 1110.8h1M54.8 1102.5h1M63.7 1103.1h1M55.5 1103.6h1M85.7 1101.7h1M63.7 1111.2h1M72.1 1109.2h1M73.2 1094.2h1M56.8 1105.7h1M69.7 1112.1h1M69.5 1103.7h1M65.4 1103.8h1M67.3 1108.7h1M61.8 1100.5h1M56.9 1111.0h1M77.2 1110.5h1M73.1 1109.6h1M65.0 1108.7h1M55.0 1103.9h1M58.0 1109.0h1M59.5 1104.4h1M68.8 1112.5h1M57.5 1099.8h1M72.8 1098.9h1M69.3 1101.9h1M64.0 1095.0h1M71.8 1102.2h1M56.5 1116.4h1M71.8 1124.3h1M68.9 1103.1h1M66.0 1113.8h1M64.7 1107.5h1M69.9 1100.0h1M66.2 1102.2h1M53.2 1109.8h1M71.3 1105.4h1M56.4 1094.0h1M69.6 1104.5h1M66.4 1107.0h1M67.1 1105.9h1M54.2 1102.9h1M60.1 1103.7h1M67.6 1108.4h1M80.5 1090.9h1M68.8 1103.9h1M86.6 1110.1h1M60.1 1110.5h1M55.0 1104.4h1M63.8 1104.5h1M59.5 1094.9h1M69.4 1110.5h1M64.4 1099.4h1M66.9 1108.1h1M63.3 1104.9h1M78.4 1098.8h1M59.7 1094.5h1M58.4 1100.9h1M55.9 1101.2h1M82.1 1103.9h1M63.9 1117.1h1M64.4 1095.5h1M68.8 1099.8h1M80.6 1098.1h1M59.5 1096.2h1M65.9 1099.4h1M64.4 1102.9h1M59.2 1110.2h1M73.9 1105.3h1M56.4 1099.1h1M67.6 1118.1h1M60.7 1100.7h1M58.4 1099.0h1M55.8 1103.9h1M78.6 1105.0h1M60.1 1096.1h1M67.0 1104.9h1M53.3 1099.0h1M64.6 1110.6h1M71.0 1106.1h1M61.9 1106.8h1M64.9 1117.0h1M54.2 1103.0h1M77.0 1103.5h1M78.5 1104.8h1M66.4 1103.0h1M51.9 1099.7h1M86.0 1108.5h1M70.8 1110.2h1M70.4 1110.6h1M62.5 1103.8h1M74.3 1103.1h1M52.4 1103.8h1M59.8 1108.4h1M58.2 1099.2h1M61.8 1113.5h1M64.5 1105.9h1M65.1 1106.6h1M73.8 1112.7h1M65.0 1103.2h1M87.8 1104.1h1M83.5 1110.3h1M55.2 1107.7h1M72.0 1104.3h1M63.2 1098.9h1M82.3 1103.7h1M61.3 1103.4h1M57.6 1100.7h1M65.9 1106.7h1M60.2 1104.5h1M51.8 1107.9h1M57.9 1106.2h1M56.4 1102.2h1M67.0 1098.3h1M88.5 1104.8h1M64.3 1101.0h1M80.2 1112.6h1M67.8 1097.5h1M60.2 1108.4h1M60.1 1098.5h1M53.7 1100.8h1M65.1 1101.4h1M65.2 1120.4h1M81.8 1099.3h1M68.3 1105.5h1M63.7 1110.7h1M61.8 1103.2h1M61.4 1104.4h1M77.2 1109.3h1M52.3 1102.6h1M57.4 1109.5h1M67.1 1109.9h1M64.4 1094.5h1M69.3 1106.3h1M69.8 1097.8h1M65.8 1101.2h1M58.5 1106.9h1M68.3 1100.1h1M59.5 1111.2h1M64.5 1092.6h1M56.8 1107.3h1M80.9 1111.4h1M68.5 1106.1h1M54.9 1102.5h1M61.8 1100.7h1M65.6 1102.8h1M68.2 1112.9h1M72.0 1107.3h1M62.7 1096.6h1M63.9 1108.0h1M55.4 1111.9h1M61.8 1107.0h1M61.9 1098.1h1M84.6 1098.6h1M73.7 1101.9h1M67.7 1100.6h1M61.0 1110.1h1M83.5 1100.3h1M65.1 1110.2h1M59.0 1108.9h1M57.5 1108.3h1M69.1 1111.7h1M68.5 1098.4h1M71.3 1098.9h1M72.1 1113.3h1M70.7 1102.0h1M76.3 1105.9h1M53.2 1103.0h1M78.5 1103.3h1M66.2 1103.1h1M68.4 1106.1h1M63.3 1093.3h1M76.6 1109.0h1M74.7 1112.2h1M60.8 1101.7h1M68.0 1114.2h1M58.2 1108.1h1M78.9 1103.4h1M53.2 1105.3h1M62.3 1096.5h1M73.4 1102.1h1M71.5 1097.8h1M75.4 1097.1h1M75.0 1095.0h1M78.1 1102.9h1M68.2 1099.6h1M60.3 1106.5h1M63.4 1088.1h1M60.9 1107.3h1M67.8 1110.5h1M58.4 1119.0h1M72.6 1106.7h1M75.3 1110.2h1M66.0 1101.6h1M74.7 1107.3h1M69.4 1105.6h1M67.7 1108.5h1M66.4 1113.7h1M59.4 1102.8h1M68.1 1109.1h1M72.5 1113.2h1M60.5 1111.4h1M69.4 1099.3h1M63.7 1116.5h1M72.5 1102.4h1M58.3 1105.4h1M86.9 1109.1h1M68.0 1099.9h1M53.7 1103.9h1M60.6 1121.5h1M61.2 1101.6h1M75.7 1105.4h1M53.3 1112.1h1M62.0 1097.7h1M68.1 1107.7h1M61.8 1108.8h1M72.8 1100.1h1M63.8 1111.8h1M74.5 1112.7h1M82.6 1105.1h1M75.0 1096.6h1M71.5 1107.2h1M64.1 1102.6h1M54.4 1105.8h1M77.1 1103.0h1M70.0 1101.3h1M67.4 1099.5h1M68.6 1103.8h1M68.0 1101.7h1M53.8 1103.2h1M74.8 1113.7h1M61.9 1109.4h1M72.2 1107.2h1M55.8 1111.5h1M72.5 1108.4h1M71.6 1098.0h1M74.2 1105.4h1M63.3 1101.1h1M55.3 1102.6h1M94.3 1106.1h1M67.0 1101.4h1M59.1 1102.0h1M56.6 1109.8h1M62.4 1109.8h1M54.0 1110.1h1M64.7 1108.7h1M64.0 1100.1h1M76.5 1102.6h1M63.6 1100.1h1M66.9 1102.9h1M67.7 1106.9h1M58.5 1097.2h1M69.1 1110.0h1M71.6 1098.7h1M70.7 1107.1h1M67.7 1107.4h1M61.9 1106.2h1M73.8 1102.2h1M51.3 1104.4h1M66.9 1094.9h1M58.6 1108.2h1M63.6 1105.5h1M53.0 1110.0h1M81.7 1103.9h1M58.0 1098.6h1M73.5 1105.6h1M57.5 1111.7h1M72.3 1108.3h1M70.9 1098.3h1M73.8 1112.9h1M74.8 1101.0h1M58.3 1110.2h1M74.4 1111.8h1M76.4 1104.5h1M61.1 1094.8h1M72.4 1117.5h1M60.6 1102.4h1M71.2 1107.1h1M52.0 1101.1h1M54.6 1116.1h1M58.2 1109.7h1M83.2 1115.4h1M78.5 1114.0h1M53.3 1103.1h1M58.1 1103.4h1M89.9 1095.8h1M70.3 1098.2h1M77.7 1112.1h1M60.1 1116.4h1M65.7 1112.2h1M68.0 1101.9h1M61.4 1104.4h1M70.9 1105.7h1M87.4 1103.9h1M60.6 1101.0h1M57.6 1097.1h1M55.6 1110.0h1M65.6 1104.1h1M68.3 1110.9h1M70.8 1109.3h1M59.7 1103.6h1M57.6 1104.5h1M57.2 1103.0h1M63.3 1103.8h1M62.5 1102.3h1M77.4 1103.1h1M55.4 1106.1h1M54.7 1099.1h1M65.8 1095.8h1M74.8 1095.8h1M56.5 1108.2h1M53.6 1103.9h1M63.6 1106.7h1M61.9 1093.3h1M63.6 1097.6h1M65.1 1100.3h1M62.0 1103.8h1M72.3 1109.2h1M55.5 1104.9h1M78.9 1107.7h1M58.1 1104.3h1M61.7 1110.2h1M65.3 1107.1h1M86.0 1097.4h1M55.4 1095.5h1M67.8 1114.0h1M78.7 1110.7h1M73.4 1109.8h1M65.3 1104.9h1M65.3 1109.6h1M63.5 1106.8h1M78.8 1098.8h1M57.9 1108.1h1M62.5 1104.1h1M84.9 1107.3h1M61.0 1111.0h1M88.9 1098.9h1M58.6 1105.6h1M59.0 1116.9h1M70.0 1102.8h1M69.7 1100.6h1M59.3 1105.6h1M87.7 1092.6h1M69.0 1112.4h1M72.0 1115.6h1M69.3 1105.8h1M63.8 1100.3h1M80.5 1098.5h1M63.8 1102.1h1M57.5 1092.8h1M61.4 1105.8h1M66.4 1109.6h1M63.5 1101.5h1M67.9 1108.7h1M56.4 1096.6h1M55.3 1110.8h1M74.5 1100.1h1M66.1 1109.6h1M77.6 1101.4h1M62.7 1112.7h1M87.9 1113.4h1M54.2 1107.5h1M62.2 1104.7h1M58.7 1102.4h1M64.9 1114.9h1M71.6 1107.3h1M65.3 1100.9h1M62.8 1111.8h1M72.9 1115.8h1M67.5 1104.9h1M59.0 1105.0h1M52.2 1102.3h1M56.2 1111.2h1M67.4 1098.5h1M60.4 1098.9h1M70.6 1104.0h1M66.1 1101.8h1M59.6 1102.5h1M68.8 1095.5h1M66.0 1111.3h1M67.2 1112.1h1M62.5 1105.0h1M52.7 1100.0h1M67.3 1107.9h1M76.1 1105.7h1M55.6 1107.4h1M63.6 1114.8h1M83.6 1110.3h1M54.2 1102.1h1M66.8 1101.1h1M70.0 1108.8h1M73.0 1106.3h1M56.6 1100.4h1M63.8 1112.3h1M80.0 1110.4h1M68.4 1108.7h1M72.8 1112.1h1M73.1 1096.6h1M74.1 1107.1h1M60.6 1107.9h1M67.7 1104.7h1M70.3 1104.7h1M71.8 1106.0h1M69.0 1103.1h1M58.7 1107.9h1M61.6 1106.0h1M95.9 1108.9h1M66.3 1096.1h1M65.9 1109.2h1M58.3 1103.7h1M59.3 1108.8h1M78.0 1104.1h1M74.4 1106.4h1M63.1 1103.5h1M56.9 1112.1h1M73.4 1099.5h1M73.0 1101.0h1M50.7 1111.6h1M52.8 1111.5h1M66.9 1110.0h1M69.9 1111.4h1M68.3 1108.2h1M67.4 1111.0h1M61.3 1110.6h1M79.3 1104.7h1M69.2 1102.2h1M62.3 1106.4h1M61.8 1100.1h1M64.7 1106.1h1M68.1 1108.9h1M63.4 1100.8h1M61.5 1107.4h1M73.3 1103.0h1M66.5 1096.2h1M66.6 1104.4h1M60.9 1109.9h1M82.0 1110.7h1M57.6 1113.4h1M61.8 1104.8h1M59.5 1107.5h1M70.3 1105.8h1M63.0 1104.2h1M61.2 1110.3h1M60.1 1104.2h1M63.0 1100.9h1M62.8 1096.9h1M68.9 1108.0h1M62.2 1113.5h1M57.2 1108.0h1M69.5 1102.1h1M62.7 1109.9h1M65.6 1106.5h1M78.2 1106.2h1M72.9 1104.3h1M54.8 1094.2h1M68.1 1113.2h1M53.2 1093.1h1M69.7 1102.0h1M62.2 1103.2h1M56.5 1107.4h1M73.7 1107.0h1M59.7 1110.7h1M64.0 1108.2h1M56.2 1108.6h1M72.0 1112.0h1M65.3 1107.4h1M59.6 1109.8h1M72.3 1110.9h1M61.4 1098.3h1M64.4 1103.9h1M58.0 1108.3h1M73.9 1107.2h1M75.5 1107.2h1M55.8 1101.8h1M61.7 1108.7h1M73.7 1105.7h1M74.5 1100.5h1M63.9 1113.1h1M69.2 1110.7h1M56.9 1110.5h1M80.3 1101.7h1M55.8 1099.5h1M56.7 1108.0h1M62.1 1115.2h1M71.8 1101.3h1M67.2 1104.2h1M72.4 1109.9h1M61.8 1109.9h1M70.4 1104.5h1M67.4 1108.7h1M62.0 1101.4h1M76.9 1105.0h1M59.5 1107.5h1M51.2 1105.3h1M52.3 1102.7h1M73.4 1104.0h1M53.7 1114.4h1M59.2 1113.0h1M60.1 1097.1h1M82.3 1102.7h1M72.1 1111.5h1M52.8 1105.4h1M59.7 1108.3h1M64.9 1098.2h1M65.6 1109.2h1M62.3 1108.1h1M60.1 1104.8h1M68.3 1105.8h1M76.9 1110.1h1M72.9 1108.9h1M66.5 1098.8h1M75.0 1114.4h1M67.2 1103.7h1M64.7 1111.5h1M67.7 1099.7h1M63.5 1100.9h1M63.2 1100.2h1M56.9 1113.0h1M74.8 1096.4h1M56.0 1102.6h1M61.5 1097.6h1M73.3 1096.4h1M71.5 1108.8h1M61.7 1101.5h1M65.6 1105.8h1M70.0 1104.5h1M61.2 1099.7h1M58.5 1100.9h1M91.0 1098.3h1M79.3 1107.6h1M67.1 1106.1h1M61.5 1113.7h1M69.8 1104.9h1M63.9 1106.1h1M54.5 1103.3h1M59.3 1108.4h1M70.7 1095.0h1M63.0 1110.4h1M53.1 1098.7h1M74.4 1104.3h1M60.9 1098.5h1M66.7 1102.1h1M67.1 1107.3h1M71.6 1103.3h1M60.2 1105.2h1M64.2 1106.0h1M60.2 1103.8h1M59.6 1101.9h1M66.5 1111.2h1M60.1 1108.2h1M68.3 1105.6h1M71.4 1102.0h1M70.3 1106.7h1M70.6 1115.6h1M55.2 1105.6h1M68.3 1099.8h1M76.2 1107.5h1M57.7 1098.6h1M61.2 1117.8h1M85.1 1091.7h1M64.1 1101.6h1M70.7 1105.6h1M67.7 1106.5h1M54.9 1112.1h1M60.8 1111.1h1M71.5 1105.2h1M66.4 1104.8h1M69.1 1096.3h1M51.2 1110.9h1M72.6 1096.7h1M69.4 1104.8h1M74.2 1103.3h1M63.0 1101.0h1M66.7 1104.4h1M59.0 1103.2h1M58.0 1108.4h1M55.4 1096.6h1M56.1 1110.9h1M60.3 1108.5h1M71.9 1102.3h1M72.1 1107.8h1M64.7 1101.2h1M64.5 1098.1h1M62.5 1101.9h1M69.2 1106.9h1M59.1 1109.7h1M76.2 1105.4h1M58.1 1107.8h1M70.5 1115.9h1M58.1 1113.3h1M86.9 1115.2h1M66.8 1110.5h1M63.4 1101.7h1M62.9 1113.2h1M72.9 1103.4h1M68.6 1109.7h1M70.4 1104.8h1M58.9 1101.0h1M60.9 1102.0h1M73.3 1098.9h1M52.7 1104.8h1M78.6 1111.9h1M61.1 1099.4h1M60.0 1100.1h1M59.9 1107.6h1M55.0 1100.8h1M62.6 1104.9h1M57.8 1100.7h1M54.4 1100.9h1M70.0 1103.7h1M64.4 1100.2h1M62.6 1088.5h1M85.2 1116.9h1M58.1 1105.2h1M72.4 1098.3h1M81.5 1101.1h1M68.4 1098.7h1M68.5 1104.9h1M75.3 1098.7h1M64.9 1115.0h1M53.7 1106.9h1M69.2 1102.3h1M62.5 1112.8h1M75.8 1108.1h1M67.6 1098.8h1M65.9 1114.9h1M75.0 1097.5h1M66.6 1102.0h1M62.1 1106.9h1M73.5 1106.2h1M76.9 1097.2h1M69.5 1107.3h1M50.9 1111.9h1M90.4 1112.1h1M68.6 1112.5h1M75.9 1098.8h1M69.6 1112.7h1M63.5 1105.4h1M60.6 1109.0h1M59.7 1101.8h1M53.3 1099.9h1M67.1 1107.6h1M61.3 1099.2h1M68.2 1107.0h1M77.2 1102.3h1M61.1 1107.8h1M79.6 1104.7h1M64.2 1099.8h1M61.4 1110.2h1M73.1 1111.2h1M56.2 1108.3h1M56.6 1112.1h1M66.2 1112.2h1M60.8 1115.9h1M60.8 1115.5h1M60.3 1099.6h1M73.6 1102.8h1M64.5 1097.5h1M61.7 1105.6h1M58.3 1107.2h1M61.1 1113.2h1M61.7 1101.4h1M60.7 1106.5h1M70.7 1102.4h1M57.4 1107.4h1M72.9 1095.3h1M54.9 1101.3h1M81.4 1111.9h1M72.7 1107.8h1M54.3 1111.3h1M60.8 1100.6h1M83.6 1097.0h1M78.3 1106.1h1M56.2 1106.0h1M56.9 1106.1h1M58.8 1098.4h1M90.6 1102.2h1M74.5 1104.7h1M71.5 1098.0h1M55.0 1086.8h1M74.7 1107.5h1M53.7 1109.7h1M70.7 1121.3h1M67.3 1110.1h1M70.9 1109.3h1M64.8 1102.7h1M71.9 1111.9h1M53.8 1098.7h1M64.6 1115.0h1M63.0 1095.6h1M72.8 1109.2h1M83.7 1106.1h1M84.0 1101.0h1M73.7 1105.8h1M53.6 1103.5h1M77.8 1111.2h1M61.4 1111.2h1M73.7 1110.0h1M67.8 1106.7h1M57.1 1104.6h1M66.2 1100.9h1M62.3 1105.9h1M67.1 1110.9h1M55.2 1102.8h1M67.6 1102.9h1M68.2 1102.4h1M76.4 1103.8h1M54.1 1109.2h1M81.1 1094.3h1M63.8 1105.4h1M75.0 1113.4h1M63.5 1096.4h1M71.5 1110.6h1M69.5 1105.5h1M57.2 1118.6h1M53.5 1096.7h1M74.4 1106.6h1M71.5 1107.0h1M81.3 1113.0h1M59.8 1110.6h1M53.8 1095.5h1M76.6 1102.6h1M58.7 1107.9h1M64.5 1100.8h1M58.2 1109.3h1M56.1 1105.8h1M55.6 1107.5h1M82.2 1108.2h1M75.8 1107.5h1M55.8 1103.4h1M65.7 1107.5h1M59.3 1108.4h1M58.2 1105.4h1M65.0 1098.6h1M74.7 1105.3h1M66.1 1104.9h1M56.5 1110.6h1M59.5 1108.4h1M55.2 1100.4h1M60.6 1110.9h1M69.0 1105.8h1M64.9 1109.4h1M67.8 1099.4h1M71.1 1100.7h1M61.8 1113.1h1M88.5 1113.1h1M69.2 1100.7h1M57.8 1114.3h1M68.2 1097.3h1M80.1 1108.3h1M77.7 1107.3h1M63.7 1104.1h1M79.5 1101.3h1M64.1 1104.7h1M64.2 1099.3h1M53.3 1090.7h1M68.2 1103.9h1M67.0 1099.2h1M65.1 1099.6h1M55.4 1106.9h1M71.2 1108.3h1M64.6 1102.9h1M78.4 1111.9h1M59.0 1099.0h1M68.6 1106.8h1M56.3 1117.7h1M67.4 1110.5h1M78.8 1112.8h1M62.6 1105.2h1M56.6 1107.2h1M55.0 1093.8h1M52.4 1111.2h1M77.3 1110.6h1M71.3 1111.3h1M67.6 1109.8h1M69.5 1109.4h1M55.3 1101.4h1M55.5 1109.6h1M69.9 1100.7h1M55.6 1101.8h1M73.4 1104.4h1M62.8 1101.2h1M63.9 1113.9h1M58.5 1103.1h1M81.3 1109.0h1M54.2 1111.1h1M53.0 1108.1h1M73.8 1101.7h1M58.1 1105.3h1M65.1 1102.4h1M58.6 1115.0h1M79.4 1106.9h1M54.1 1102.1h1M62.3 1107.7h1M80.4 1102.2h1M66.5 1102.7h1M66.4 1101.2h1M68.7 1111.5h1M61.3 1103.2h1M66.2 1097.8h1M82.4 1097.6h1M61.6 1100.1h1M79.4 1102.3h1M60.2 1115.5h1M63.9 1100.7h1M65.0 1106.1h1M57.9 1104.0h1M63.1 1109.0h1M72.4 1109.7h1M63.9 1109.5h1M63.0 1111.5h1M68.9 1102.7h1M76.9 1096.7h1M55.8 1100.6h1M63.8 1098.2h1M53.6 1094.6h1M66.2 1100.8h1M86.0 1109.3h1M54.1 1112.4h1M66.1 1111.0h1M54.5 1111.5h1M75.6 1102.7h1M56.9 1102.9h1M67.6 1118.4h1M82.4 1113.3h1M63.0 1103.2h1M68.6 1103.5h1M60.6 1103.9h1M73.2 1104.7h1M67.3 1103.6h1M63.2 1103.2h1M77.1 1106.3h1M79.4 1104.1h1M75.2 1097.4h1M61.2 1104.7h1M59.0 1104.4h1M56.2 1104.1h1M58.7 1105.0h1M62.2 1099.5h1M61.2 1105.2h1M52.9 1105.6h1M77.0 1103.8h1M70.3 1108.5h1M57.4 1112.4h1M89.1 1099.4h1M85.6 1101.1h1M79.0 1095.0h1M75.9 1105.8h1M52.8 1100.5h1M55.1 1100.1h1M68.7 1104.0h1M69.5 1105.5h1M81.2 1094.9h1M67.4 1105.2h1M72.0 1097.6h1M52.6 1104.1h1M65.8 1095.0h1M68.6 1105.0h1M72.1 1090.6h1M69.9 1100.1h1M60.5 1109.4h1M81.2 1105.9h1M64.0 1112.3h1M56.5 1104.2h1M60.2 1099.6h1M66.9 1116.3h1M67.4 1107.8h1M64.8 1111.3h1M66.8 1100.2h1M66.0 1113.0h1M64.3 1111.7h1M64.4 1116.3h1M67.8 1108.7h1M62.3 1109.7h1M62.9 1096.9h1M68.0 1098.4h1M79.2 1109.4h1M65.2 1108.9h1M58.9 1108.7h1M89.6 1096.1h1M61.1 1106.9h1M69.1 1095.7h1M56.2 1113.3h1M59.3 1108.1h1M52.0 1100.0h1M76.1 1105.6h1M62.5 1106.4h1M69.5 1103.4h1M70.4 1115.8h1M86.3 1101.9h1M53.0 1115.6h1M74.5 1111.8h1M70.9 1103.8h1M74.4 1111.2h1M76.3 1099.0h1M74.9 1103.1h1M61.7 1107.0h1M61.8 1117.9h1M70.5 1106.5h1M63.3 1106.4h1M62.9 1108.3h1M73.3 1109.7h1M53.1 1103.2h1M65.9 1098.3h1M68.7 1104.3h1M65.6 1107.2h1M59.1 1113.7h1M75.0 1102.0h1M69.5 1109.2h1M57.8 1103.1h1M71.8 1090.8h1M52.5 1106.9h1M71.0 1099.9h1M73.3 1117.3h1M67.1 1104.8h1M65.8 1099.5h1M70.4 1106.1h1M72.2 1113.0h1M65.5 1106.1h1M68.2 1114.7h1M51.2 1105.0h1M59.1 1105.8h1M73.1 1105.4h1M72.1 1106.1h1M58.3 1101.4h1M51.9 1106.3h1M61.3 1109.7h1M74.3 1100.2h1M54.7 1108.4h1M56.7 1106.2h1M70.9 1102.9h1M82.1 1100.8h1M69.2 1102.8h1M63.6 1108.3h1M63.8 1101.0h1M60.2 1103.4h1M72.3 1103.5h1M76.9 1109.8h1M58.0 1110.8h1M55.8 1104.5h1M76.1 1105.1h1M63.5 1112.1h1M57.8 1100.5h1M74.4 1108.5h1M51.5 1105.9h1M72.6 1104.2h1M61.3 1105.8h1M67.1 1101.2h1M73.1 1096.4h1M64.4 1116.9h1M55.0 1104.9h1M54.1 1105.4h1M60.4 1115.2h1M56.3 1104.9h1M67.2 1108.6h1M73.6 1096.4h1M86.0 1103.4h1M58.3 1096.0h1M60.9 1095.3h1M66.9 1101.8h1M68.2 1100.7h1M65.8 1117.3h1M76.3 1105.9h1M55.7 1113.1h1M77.4 1101.7h1M78.0 1108.2h1M85.8 1114.9h1M70.7 1101.6h1M70.7 1112.8h1M66.4 1089.1h1M61.5 1103.0h1M64.5 1103.1h1M76.0 1098.0h1M69.3 1094.1h1M57.9 1100.1h1M58.4 1108.4h1M70.6 1105.5h1M66.9 1101.2h1M55.7 1097.2h1M61.1 1098.8h1M61.9 1109.0h1M70.3 1112.3h1M56.2 1092.9h1M54.5 1116.0h1M71.7 1102.6h1M77.6 1102.7h1M79.9 1159.9h1M60.2 1167.1h1M53.1 1161.4h1M82.5 1165.4h1M53.5 1160.9h1M63.8 1157.6h1M67.9 1170.6h1M64.5 1168.3h1M66.8 1163.4h1M56.9 1168.8h1M76.9 1159.6h1M55.7 1165.9h1M65.0 1169.8h1M68.7 1161.7h1M50.8 1166.5h1M64.9 1154.3h1M69.9 1159.7h1M57.9 1161.8h1M64.3 1160.3h1M71.0 1169.2h1M61.9 1172.8h1M62.8 1156.9h1M65.5 1153.2h1M61.1 1155.6h1M59.9 1163.8h1M66.5 1161.1h1M70.8 1164.7h1M60.5 1155.9h1M70.9 1167.4h1M52.7 1167.9h1M58.5 1154.3h1M78.3 1165.4h1M66.2 1164.1h1M62.3 1162.7h1M72.5 1165.4h1M59.6 1163.1h1M81.8 1158.9h1M51.4 1163.2h1M53.1 1179.6h1M69.9 1166.3h1M67.5 1175.3h1M54.2 1162.1h1M63.2 1174.0h1M61.3 1155.7h1M57.2 1167.7h1M56.1 1164.1h1M57.0 1157.8h1M58.6 1173.1h1M53.7 1164.5h1M71.6 1157.6h1M80.5 1160.8h1M52.5 1168.1h1M63.5 1157.1h1M60.2 1146.8h1M56.1 1154.5h1M51.3 1166.3h1M66.4 1173.5h1M55.8 1171.1h1M73.8 1163.2h1M64.8 1157.5h1M58.9 1159.5h1M70.9 1176.1h1M75.7 1165.7h1M71.8 1151.3h1M54.2 1168.0h1M60.2 1151.8h1M63.7 1154.0h1M63.9 1172.7h1M53.0 1159.4h1M69.1 1162.2h1M65.6 1156.8h1M60.6 1146.7h1M62.1 1170.8h1M53.1 1161.2h1M70.6 1170.4h1M75.0 1156.5h1M59.8 1173.9h1M59.3 1164.3h1M55.7 1158.0h1M54.4 1171.3h1M71.1 1165.0h1M58.8 1153.2h1M68.4 1156.9h1M62.7 1168.6h1M62.0 1162.2h1M54.2 1169.2h1M68.9 1167.0h1M79.4 1151.6h1M64.0 1166.6h1M67.0 1164.4h1M68.3 1152.3h1M63.0 1170.0h1M63.2 1161.0h1M71.9 1150.8h1M67.6 1172.3h1M61.3 1156.9h1M68.8 1159.3h1M55.9 1163.4h1M52.2 1158.7h1M70.7 1162.1h1M66.3 1171.4h1M78.4 1176.1h1M58.5 1168.4h1M76.3 1157.5h1M68.2 1167.9h1M62.2 1158.1h1M78.3 1153.6h1M65.3 1168.6h1M66.0 1172.8h1M78.0 1165.4h1M80.8 1167.3h1M51.9 1160.2h1M66.4 1163.6h1M68.1 1163.7h1M78.6 1163.8h1M67.4 1167.1h1M56.7 1153.8h1M59.3 1169.1h1M61.0 1170.6h1M58.5 1167.3h1M64.1 1167.9h1M63.9 1163.7h1M59.3 1170.6h1M63.5 1165.7h1M70.1 1156.5h1M55.8 1162.1h1M76.1 1155.4h1M54.0 1155.9h1M60.0 1155.3h1M55.9 1165.9h1M53.3 1162.3h1M52.5 1161.1h1M68.8 1149.2h1M64.3 1163.9h1M63.2 1164.1h1M67.8 1153.8h1M62.6 1166.6h1M76.3 1153.4h1M58.1 1153.4h1M63.6 1155.3h1M54.4 1167.5h1M85.4 1148.8h1M79.6 1156.3h1M70.4 1164.7h1M75.7 1161.0h1M55.9 1162.0h1M71.4 1156.5h1M67.8 1162.3h1M65.6 1162.5h1M69.6 1167.7h1M61.1 1160.1h1M53.5 1157.8h1M68.9 1168.9h1M75.5 1156.8h1M66.1 1169.4h1M55.7 1160.9h1M52.1 1158.2h1M70.7 1163.0h1M60.3 1158.7h1M78.4 1167.4h1M52.0 1176.6h1M59.9 1161.4h1M59.2 1158.7h1M70.0 1152.9h1M64.2 1160.3h1M80.6 1165.0h1M68.0 1165.9h1M69.6 1163.2h1M60.8 1167.0h1M66.9 1158.8h1M55.3 1155.8h1M66.6 1161.7h1M55.4 1160.0h1M67.2 1158.1h1M62.7 1158.4h1M64.5 1167.7h1M76.4 1157.7h1M69.6 1164.2h1M64.6 1167.9h1M72.3 1154.1h1M78.0 1161.3h1M57.5 1157.9h1M61.7 1155.1h1M74.3 1165.2h1M55.3 1167.8h1M66.2 1163.0h1M73.1 1161.8h1M61.4 1165.7h1M68.7 1169.4h1M57.6 1160.6h1M69.6 1172.2h1M80.8 1168.6h1M70.0 1163.4h1M52.5 1155.2h1M65.1 1152.1h1M80.8 1166.4h1M67.4 1165.6h1M66.2 1162.9h1M70.7 1158.1h1M66.5 1163.5h1M71.3 1155.2h1M66.3 1161.6h1M69.9 1166.0h1M65.7 1165.5h1M68.2 1171.4h1M66.8 1165.9h1M55.0 1161.1h1M71.3 1169.3h1M54.6 1162.2h1M61.3 1162.8h1M59.3 1159.7h1M63.3 1163.3h1M73.6 1156.9h1M54.8 1167.6h1M68.7 1161.2h1M52.9 1169.3h1M53.7 1169.8h1M66.3 1161.5h1M62.3 1167.8h1M64.0 1151.1h1M57.3 1148.5h1M67.7 1168.5h1M73.7 1153.7h1M84.2 1174.3h1M62.9 1149.5h1M55.6 1169.3h1M83.6 1158.9h1M82.2 1162.4h1M70.0 1167.7h1M59.4 1161.1h1M64.7 1160.2h1M58.7 1158.7h1M58.3 1170.5h1M67.7 1169.1h1M81.4 1147.5h1M63.3 1168.7h1M61.9 1158.5h1M67.7 1159.0h1M55.9 1160.4h1M64.4 1162.5h1M72.5 1162.6h1M59.4 1182.3h1M61.7 1160.7h1M62.5 1157.9h1M77.8 1150.6h1M56.7 1165.2h1M57.4 1165.9h1M63.4 1155.3h1M61.8 1159.1h1M69.1 1145.9h1M67.8 1171.1h1M65.3 1164.0h1M58.8 1164.6h1M62.5 1154.1h1M52.6 1147.3h1M68.0 1163.6h1M74.3 1164.1h1M70.5 1153.7h1M60.8 1164.8h1M62.6 1161.3h1M64.3 1164.1h1M65.8 1164.5h1M59.1 1161.8h1M61.3 1165.2h1M56.7 1153.3h1M73.0 1157.0h1M52.6 1146.7h1M60.2 1173.4h1M56.8 1157.1h1M74.8 1163.0h1M62.9 1171.3h1M52.7 1162.0h1M68.7 1163.7h1M52.7 1156.4h1M80.8 1161.8h1M61.4 1169.4h1M54.5 1163.2h1M55.1 1163.3h1M66.9 1162.5h1M60.9 1164.1h1M61.6 1159.2h1M69.9 1168.0h1M51.1 1155.9h1M56.5 1164.4h1M64.3 1163.5h1M72.2 1157.6h1M67.5 1165.1h1M76.2 1155.6h1M77.1 1166.3h1M66.3 1169.4h1M61.6 1161.2h1M71.9 1160.2h1M74.2 1171.4h1M66.0 1163.6h1M57.8 1156.5h1M77.6 1155.8h1M64.8 1164.4h1M55.5 1158.1h1M57.3 1176.3h1M67.5 1171.5h1M83.3 1169.1h1M76.5 1159.6h1M57.5 1171.9h1M77.9 1155.9h1M74.9 1164.4h1M71.6 1168.8h1M82.1 1158.5h1M64.1 1170.7h1M61.6 1166.1h1M63.4 1151.5h1M58.9 1168.3h1M58.9 1152.6h1M59.4 1163.2h1M68.8 1164.7h1M69.1 1155.7h1M58.4 1157.6h1M60.0 1165.5h1M76.8 1161.1h1M74.2 1169.8h1M53.3 1157.3h1M65.6 1153.7h1M81.9 1150.5h1M52.6 1167.7h1M57.1 1167.2h1M54.9 1169.5h1M58.7 1167.3h1M73.7 1152.9h1M55.8 1151.3h1M53.7 1168.6h1M63.9 1168.2h1M77.7 1169.4h1M71.1 1159.9h1M60.6 1164.7h1M72.5 1169.7h1M67.1 1160.8h1M63.5 1173.5h1M66.9 1175.7h1M57.5 1168.4h1M66.4 1167.6h1M57.2 1164.9h1M63.7 1160.9h1M53.0 1153.5h1M61.1 1166.3h1M66.8 1164.3h1M67.4 1154.0h1M74.4 1163.2h1M57.2 1159.2h1M73.7 1164.0h1M72.4 1156.2h1M76.1 1170.9h1M74.2 1167.0h1M67.4 1164.1h1M59.3 1164.5h1M76.5 1162.1h1M83.0 1152.7h1M64.7 1153.1h1M61.3 1159.2h1M54.4 1161.2h1M59.4 1154.7h1M68.3 1150.7h1M68.4 1164.5h1M69.4 1163.6h1M71.9 1161.1h1M54.1 1165.2h1M56.9 1160.4h1M65.5 1156.8h1M73.7 1152.8h1M76.0 1162.6h1M80.4 1169.9h1M70.8 1164.7h1M65.5 1153.9h1M59.1 1156.7h1M57.6 1161.9h1M56.9 1163.7h1M62.0 1159.7h1M68.1 1165.8h1M51.7 1160.7h1M92.0 1162.9h1M68.7 1157.0h1M73.6 1172.7h1M69.9 1161.9h1M64.7 1150.5h1M70.0 1160.8h1M68.1 1165.2h1M66.4 1176.4h1M73.1 1158.6h1M70.2 1166.9h1M64.8 1171.9h1M60.9 1151.5h1M54.3 1165.3h1M55.1 1163.8h1M62.0 1156.9h1M59.1 1161.0h1M73.0 1164.3h1M62.5 1163.8h1M72.8 1165.8h1M80.9 1158.1h1M72.1 1163.6h1M58.4 1166.6h1M72.3 1169.1h1M68.9 1157.1h1M66.0 1165.2h1M80.1 1163.6h1M65.8 1172.9h1M65.0 1159.9h1M67.1 1167.7h1M65.8 1152.0h1M60.6 1169.2h1M57.4 1168.3h1M66.0 1157.6h1M71.9 1148.9h1M69.4 1161.0h1M70.3 1162.3h1M65.6 1159.4h1M60.7 1169.1h1M71.6 1154.2h1M69.8 1175.8h1M71.5 1156.7h1M71.4 1164.2h1M61.4 1169.0h1M76.0 1159.4h1M65.5 1160.2h1M64.4 1173.0h1M60.3 1166.4h1M66.8 1163.3h1M53.8 1166.8h1M54.1 1167.4h1M63.6 1163.7h1M60.1 1157.3h1M54.8 1162.8h1M63.6 1164.6h1M61.7 1167.7h1M65.7 1163.6h1M62.1 1162.7h1M70.5 1158.3h1M53.1 1165.2h1M68.3 1163.0h1M66.7 1154.4h1M55.3 1162.8h1M64.1 1154.8h1M68.7 1150.6h1M76.0 1156.0h1M59.1 1156.1h1M51.8 1160.7h1M66.0 1160.8h1M64.2 1153.5h1M74.3 1164.8h1M70.2 1169.7h1M73.8 1171.1h1M57.1 1175.1h1M70.8 1162.7h1M62.0 1149.2h1M65.3 1157.4h1M77.0 1167.5h1M63.6 1160.2h1M74.7 1159.3h1M74.6 1164.1h1M61.7 1165.1h1M80.7 1152.5h1M71.3 1167.5h1M61.9 1172.1h1M70.6 1166.2h1M54.9 1166.4h1M52.3 1166.0h1M84.5 1157.0h1M78.9 1155.8h1M65.0 1167.3h1M50.8 1164.8h1M57.1 1158.8h1M72.2 1162.2h1M68.1 1162.8h1M67.9 1172.7h1M65.5 1160.9h1M64.6 1167.3h1M68.6 1149.0h1M63.6 1165.5h1M88.8 1158.9h1M61.8 1155.3h1M63.7 1151.4h1M56.5 1162.2h1M57.9 1170.8h1M79.3 1176.3h1M65.6 1167.0h1M86.5 1158.6h1M80.3 1156.9h1M74.2 1152.7h1M60.6 1161.5h1M61.9 1150.2h1M65.5 1160.8h1M78.3 1166.5h1M74.3 1162.1h1M57.7 1153.9h1M60.8 1156.7h1M61.7 1160.6h1M76.3 1156.4h1M67.4 1155.7h1M66.9 1169.3h1M58.9 1155.1h1M64.6 1162.9h1M58.3 1165.4h1M65.0 1167.1h1M51.4 1167.6h1M76.2 1157.4h1M82.9 1164.2h1M52.1 1155.8h1M57.3 1158.5h1M62.1 1164.6h1M62.4 1160.6h1M55.2 1149.5h1M57.6 1154.8h1M72.6 1147.1h1M75.1 1144.3h1M62.4 1162.8h1M53.8 1156.4h1M72.5 1155.7h1M63.4 1163.0h1M70.5 1154.5h1M76.7 1161.7h1M73.8 1153.6h1M74.6 1162.1h1M71.6 1158.6h1M72.4 1162.9h1M58.0 1165.7h1M62.4 1159.8h1M60.7 1168.6h1M73.1 1168.7h1M67.9 1170.0h1M64.2 1163.6h1M57.6 1175.6h1M61.2 1169.8h1M56.6 1161.7h1M60.6 1162.0h1M59.5 1166.8h1M70.5 1152.3h1M60.1 1154.2h1M74.4 1154.6h1M68.7 1163.7h1M63.8 1150.1h1M80.4 1161.7h1M70.7 1169.5h1M54.8 1156.3h1M80.6 1175.3h1M56.5 1162.2h1M73.3 1161.7h1M76.8 1166.6h1M63.6 1167.1h1M59.8 1170.9h1M58.0 1171.2h1M88.1 1151.3h1M80.4 1153.1h1M63.6 1174.6h1M74.6 1167.1h1M67.9 1163.9h1M68.7 1161.4h1M61.6 1154.7h1M80.9 1162.6h1M82.4 1167.6h1M68.6 1155.6h1M61.9 1163.0h1M63.2 1160.8h1M61.9 1159.6h1M61.3 1152.6h1M56.2 1172.3h1M55.4 1159.3h1M56.5 1161.7h1M59.4 1175.8h1M54.4 1171.6h1M59.9 1165.6h1M88.4 1162.6h1M64.3 1144.1h1M61.1 1161.3h1M65.6 1164.3h1M53.9 1156.6h1M71.7 1161.0h1M64.7 1167.1h1M65.4 1163.7h1M54.1 1162.8h1M57.1 1173.7h1M59.7 1161.9h1M76.8 1164.1h1M66.1 1161.0h1M61.9 1158.0h1M57.1 1151.1h1M63.0 1157.7h1M77.8 1176.6h1M82.6 1155.1h1M61.0 1162.0h1M71.3 1164.7h1M82.9 1166.0h1M61.6 1164.6h1M60.0 1165.9h1M52.0 1166.2h1M61.7 1160.0h1M60.8 1162.0h1M62.6 1174.5h1M64.4 1169.0h1M64.2 1162.0h1M52.9 1159.8h1M58.9 1147.1h1M61.7 1158.2h1M67.4 1169.6h1M61.6 1170.6h1M76.4 1167.8h1M61.4 1163.5h1M80.1 1173.0h1M75.4 1151.6h1M71.4 1171.7h1M70.1 1160.9h1M68.9 1162.6h1M78.8 1168.4h1M55.5 1157.9h1M74.2 1168.6h1M67.3 1165.1h1M52.7 1157.3h1M69.6 1150.9h1M69.3 1166.7h1M70.8 1168.4h1M82.8 1164.8h1M56.8 1151.8h1M73.1 1152.0h1M66.3 1158.2h1M62.2 1164.3h1M65.0 1155.2h1M71.8 1162.0h1M79.7 1160.4h1M79.9 1152.6h1M62.2 1171.4h1M77.2 1166.3h1M74.8 1160.2h1M71.5 1169.2h1M73.7 1165.4h1M72.7 1165.8h1M70.4 1152.8h1M70.4 1156.8h1M61.0 1163.3h1M67.0 1154.3h1M59.5 1164.5h1M60.7 1163.1h1M66.8 1164.3h1M59.4 1164.1h1M70.1 1154.6h1M72.1 1156.4h1M68.1 1166.9h1M70.7 1155.2h1M55.8 1155.2h1M70.1 1163.8h1M75.9 1159.5h1M63.8 1164.5h1M54.9 1160.1h1M69.9 1160.6h1M64.5 1163.6h1M81.0 1164.6h1M67.8 1159.8h1M76.4 1163.3h1M64.3 1171.5h1M77.4 1156.8h1M61.6 1171.2h1M60.1 1173.1h1M63.0 1175.6h1M55.3 1150.2h1M50.7 1175.8h1M57.6 1160.0h1M59.1 1158.0h1M66.0 1163.7h1M58.6 1159.4h1M77.3 1169.1h1M74.0 1171.0h1M62.7 1168.6h1M80.3 1157.5h1M77.5 1146.8h1M55.0 1156.5h1M59.8 1168.2h1M57.5 1160.4h1M52.1 1152.4h1M62.7 1157.9h1M72.9 1163.6h1M53.0 1160.2h1M54.5 1157.4h1M58.7 1155.0h1M57.4 1161.0h1M71.3 1167.4h1M81.4 1152.2h1M60.7 1170.7h1M53.6 1161.7h1M71.3 1172.8h1M69.9 1164.9h1M62.9 1166.8h1M65.3 1165.0h1M58.2 1161.9h1M56.0 1155.6h1M56.3 1157.3h1M58.0 1159.0h1M67.3 1172.8h1M55.1 1157.0h1M64.9 1157.2h1M57.0 1167.5h1M62.5 1152.2h1M73.3 1177.3h1M75.0 1161.6h1M77.2 1162.2h1M61.0 1164.3h1M76.6 1163.4h1M61.4 1153.7h1M66.1 1155.7h1M63.4 1153.7h1M56.0 1156.4h1M57.9 1155.3h1M76.0 1167.8h1M61.1 1155.9h1M74.7 1161.1h1M69.7 1169.2h1M60.4 1165.5h1M68.5 1159.9h1M62.6 1158.6h1M80.0 1169.3h1M90.1 1163.2h1M72.7 1158.6h1M57.2 1157.0h1M68.6 1167.7h1M72.9 1167.8h1M52.1 1164.0h1M67.4 1154.0h1M53.5 1177.0h1M57.9 1159.5h1M77.1 1165.2h1M56.2 1162.9h1M67.7 1166.5h1M54.8 1165.1h1M57.9 1159.4h1M56.2 1157.5h1M68.9 1151.2h1M66.1 1180.3h1M55.8 1160.8h1M63.6 1172.8h1M50.7 1166.3h1M63.3 1175.4h1M62.3 1175.6h1M55.1 1165.0h1M53.8 1158.8h1M52.4 1160.0h1M78.9 1159.2h1M87.6 1173.1h1M67.1 1162.7h1M67.2 1157.8h1M69.8 1163.2h1M69.7 1163.0h1M67.1 1162.7h1M59.6 1169.4h1M77.5 1160.7h1M71.8 1155.6h1M76.0 1157.3h1M64.6 1168.8h1M59.5 1162.9h1M73.7 1159.1h1M67.4 1169.7h1M66.6 1157.6h1M60.5 1161.0h1M64.3 1166.7h1M66.1 1172.3h1M72.6 1162.3h1M74.5 1162.3h1M58.1 1162.3h1M75.8 1167.3h1M66.0 1163.5h1M74.3 1166.6h1M66.5 1167.3h1M65.1 1155.5h1M72.6 1170.3h1M77.2 1162.2h1M52.9 1165.2h1M58.7 1150.6h1M65.6 1157.7h1M64.8 1159.5h1M71.8 1168.1h1M68.9 1170.1h1M59.2 1177.7h1M73.8 1160.1h1M65.3 1155.0h1M60.1 1164.5h1M52.3 1150.2h1M60.8 1157.3h1M55.2 1161.5h1M51.3 1169.6h1M74.9 1162.8h1M58.7 1162.2h1M63.2 1157.6h1M58.1 1165.3h1M55.7 1158.5h1M60.0 1156.2h1M66.5 1154.5h1M72.7 1167.1h1M63.9 1168.0h1M74.3 1160.1h1M63.6 1158.7h1M60.7 1160.1h1M64.9 1165.8h1M84.5 1164.7h1M72.9 1161.1h1M79.4 1163.3h1M62.5 1160.8h1M64.4 1160.1h1M65.8 1173.7h1M64.7 1157.8h1M54.8 1157.7h1M65.4 1164.7h1M68.4 1169.8h1M55.3 1158.4h1M56.0 1156.2h1M58.0 1157.2h1M70.4 1155.8h1M84.3 1149.5h1M71.7 1152.6h1M59.6 1154.8h1M64.1 1165.5h1M60.2 1158.3h1M54.9 1157.2h1M56.1 1158.2h1M64.5 1168.0h1M57.5 1149.7h1M60.5 1167.6h1M54.5 1164.7h1M53.3 1154.4h1M65.9 1150.7h1M60.1 1145.3h1M54.2 1164.7h1M59.2 1157.9h1M68.7 1156.6h1M53.2 1159.7h1M63.1 1163.2h1M62.1 1169.8h1M68.9 1161.4h1M84.9 1152.5h1M66.0 1157.4h1M83.4 1164.1h1M71.3 1164.8h1M77.2 1158.9h1M72.0 1151.5h1M68.9 1169.4h1M71.7 1166.0h1M60.6 1171.8h1M68.6 1166.4h1M75.7 1165.6h1M51.1 1157.2h1M61.9 1154.2h1M68.2 1159.6h1M60.8 1170.4h1M62.7 1160.7h1M74.0 1160.0h1M68.4 1173.1h1M51.1 1153.3h1M57.1 1160.9h1M53.5 1163.8h1M56.5 1169.4h1M68.3 1166.5h1M65.6 1163.5h1M53.2 1156.5h1M59.4 1176.1h1M53.4 1172.8h1M64.9 1178.5h1M61.6 1158.8h1M63.4 1158.7h1M57.0 1166.7h1M59.4 1167.8h1M69.1 1168.1h1M78.1 1168.9h1M54.9 1170.7h1M74.8 1155.5h1M75.4 1150.4h1M72.9 1159.7h1M61.0 1161.1h1M58.4 1166.9h1M63.2 1161.9h1M64.1 1159.9h1M54.3 1166.0h1M71.3 1154.8h1M72.4 1170.2h1M65.2 1171.5h1M56.8 1164.1h1M55.2 1177.7h1M59.9 1166.5h1M67.6 1161.5h1M56.7 1171.6h1M62.1 1160.0h1M69.6 1163.8h1M62.0 1166.4h1M62.9 1165.6h1M75.4 1163.8h1M64.3 1158.7h1M76.7 1168.4h1M68.6 1164.2h1M56.0 1162.8h1M66.5 1155.0h1M54.9 1161.6h1M81.4 1164.6h1M71.9 1166.8h1M58.7 1161.6h1M83.9 1169.3h1M106.0 1150.8h1M55.3 1158.1h1M70.4 1170.7h1M71.7 1163.9h1M76.2 1169.7h1M56.3 1163.2h1M66.3 1154.8h1M61.6 1168.8h1M67.4 1162.5h1M87.6 1166.3h1M72.6 1156.9h1M75.0 1159.6h1M62.1 1159.7h1M52.0 1166.0h1M52.4 1167.6h1M56.3 1170.4h1M66.9 1169.8h1M53.6 1166.0h1M70.7 1164.1h1M62.8 1158.7h1M52.1 1155.8h1M67.3 1145.6h1M56.7 1166.7h1M64.1 1161.0h1M56.6 1163.5h1M71.3 1156.6h1M62.6 1160.0h1M52.2 1149.9h1M55.7 1157.5h1M54.2 1162.0h1M66.7 1166.4h1M67.2 1155.0h1M76.7 1164.6h1M70.7 1154.3h1M73.9 1177.0h1M68.7 1169.5h1M58.5 1163.5h1M63.4 1166.7h1M65.4 1164.1h1M55.4 1154.9h1M63.8 1178.5h1M54.7 1165.8h1M76.3 1158.4h1M63.5 1156.9h1M78.0 1167.0h1M63.8 1153.7h1M75.6 1169.7h1M71.7 1172.9h1M54.3 1156.1h1M72.1 1165.3h1M63.5 1159.4h1M73.5 1164.1h1M72.1 1155.2h1M64.5 1165.2h1M73.5 1151.8h1M62.0 1158.3h1M64.0 1161.6h1M67.9 1167.5h1M66.5 1162.0h1M72.2 1171.5h1M64.6 1157.4h1M80.5 1168.4h1M84.4 1159.9h1M60.3 1161.4h1M63.1 1153.1h1M71.9 1152.9h1M54.0 1164.2h1M53.1 1153.8h1M61.3 1176.2h1M70.3 1158.4h1M76.7 1164.1h1M64.3 1158.6h1M58.9 1156.4h1M65.6 1167.6h1M53.9 1170.5h1M56.1 1160.7h1M79.7 1166.4h1M64.4 1150.1h1M64.8 1160.2h1M61.9 1169.6h1M58.8 1174.1h1M64.5 1163.6h1M61.1 1163.1h1M76.8 1164.1h1M54.6 1157.5h1M75.0 1166.1h1M56.0 1161.7h1M64.9 1166.2h1M55.0 1163.2h1M51.8 1157.5h1M61.9 1171.3h1M63.2 1173.2h1M67.6 1170.9h1M62.5 1150.9h1M80.8 1161.5h1M59.3 1166.5h1M60.5 1160.1h1M65.9 1165.1h1M58.5 1157.3h1M79.2 1156.9h1M55.5 1161.3h1M62.7 1164.4h1M78.8 1171.0h1M63.6 1163.3h1M73.2 1161.7h1M65.6 1155.4h1M67.8 1162.0h1M85.0 1164.7h1M56.5 1170.8h1M67.4 1163.8h1M78.3 1168.4h1M83.8 1157.4h1M59.9 1162.0h1M65.9 1154.9h1M66.7 1153.5h1M58.7 1160.9h1M66.4 1164.6h1M56.9 1164.7h1M66.9 1161.9h1M64.3 1159.2h1M81.1 1171.4h1M66.4 1171.1h1M55.7 1159.2h1M60.9 1165.4h1M60.9 1156.6h1M72.9 1165.6h1M50.7 1174.5h1M59.4 1159.5h1M62.4 1162.8h1M60.4 1162.3h1M71.3 1168.4h1M57.6 1161.4h1M56.9 1159.7h1M63.1 1160.5h1M69.6 1156.5h1M67.7 1167.3h1M61.1 1160.4h1M69.7 1160.1h1M60.9 1163.8h1M66.3 1166.3h1M51.0 1159.8h1M68.2 1166.1h1M58.4 1159.6h1M78.4 1164.2h1M75.7 1153.8h1M68.0 1159.0h1M59.3 1170.7h1M54.1 1156.4h1M57.4 1160.9h1M64.3 1165.2h1M75.7 1165.5h1M80.6 1169.4h1M69.2 1161.6h1M77.0 1160.6h1M73.3 1162.7h1M58.8 1166.8h1M70.5 1164.5h1M74.3 1163.3h1M57.1 1163.0h1M81.6 1156.3h1M54.4 1171.2h1M65.5 1156.5h1M63.5 1156.5h1M68.6 1168.5h1M75.4 1169.3h1M63.9 1170.1h1M68.6 1154.3h1M76.8 1156.8h1M58.5 1152.5h1M56.2 1148.9h1M52.4 1157.1h1M52.8 1160.0h1M71.5 1160.5h1M68.1 1169.6h1M58.3 1172.0h1M63.6 1162.2h1M67.4 1171.2h1M52.6 1168.5h1M59.5 1163.1h1M54.5 1146.2h1M75.0 1167.4h1M54.1 1156.6h1M52.7 1162.2h1M83.2 1161.6h1M55.5 1152.3h1M67.7 1162.5h1M65.6 1167.1h1M73.0 1149.1h1M65.6 1169.9h1M75.7 1155.8h1M67.7 1161.2h1M71.7 1161.4h1M52.0 1155.3h1M61.8 1167.9h1M77.9 1156.1h1M68.2 1162.1h1M53.1 1154.9h1M78.7 1159.7h1M63.2 1165.4h1M67.4 1167.0h1M56.4 1160.0h1M66.4 1164.7h1M57.1 1151.5h1M72.1 1168.0h1M72.9 1161.7h1M83.1 1164.5h1M66.4 1152.0h1M57.9 1168.8h1M67.1 1161.7h1M75.8 1167.1h1M69.2 1161.4h1M68.0 1169.2h1M67.0 1154.4h1M62.3 1160.7h1M67.9 1170.7h1M63.3 1159.7h1M71.0 1165.5h1M56.6 1165.5h1M65.8 1164.7h1M73.2 1168.9h1M51.8 1172.0h1M53.3 1157.3h1M84.4 1154.2h1M70.6 1167.8h1M74.5 1166.8h1M66.4 1172.4h1M63.3 1163.1h1M67.8 1160.3h1M62.7 1170.3h1M79.3 1166.4h1M63.0 1159.3h1M60.4 1160.2h1M59.9 1162.0h1M61.9 1169.5h1M50.7 1159.9h1M71.7 1159.9h1M60.2 1166.1h1M63.3 1156.3h1M65.5 1166.6h1M51.7 1164.0h1M63.7 1169.2h1M63.4 1159.8h1M57.0 1163.9h1M61.8 1168.2h1M68.0 1170.6h1M70.8 1163.7h1M63.5 1166.6h1M71.3 1154.0h1M67.9 1160.3h1M67.1 1167.7h1M73.5 1151.4h1M66.2 1162.7h1M58.8 1168.4h1M72.8 1162.7h1M77.4 1172.0h1M66.1 1168.0h1M72.4 1173.7h1M71.8 1167.0h1M65.3 1167.3h1M79.0 1162.1h1M63.2 1156.4h1M88.4 1160.1h1M59.5 1159.0h1M75.4 1165.0h1M81.5 1162.4h1M65.4 1181.3h1M62.0 1161.3h1M70.3 1178.3h1M68.4 1152.3h1M62.9 1161.3h1M71.4 1160.4h1M65.6 1154.5h1M52.4 1163.1h1M79.7 1156.5h1M68.0 1167.9h1M62.7 1164.3h1M63.5 1162.7h1M81.2 1160.2h1M60.6 1162.8h1M62.7 1173.6h1M62.9 1165.3h1M52.8 1166.3h1M70.5 1167.0h1M63.4 1173.3h1M82.5 1169.4h1M58.4 1161.4h1M71.8 1150.1h1M77.5 1172.3h1M72.6 1160.9h1M67.8 1152.5h1M55.4 1159.9h1M57.3 1173.5h1M68.7 1147.2h1M75.2 1166.0h1M62.2 1158.1h1M83.9 1164.3h1M66.9 1152.4h1M58.9 1168.6h1M65.6 1159.8h1M61.5 1152.5h1M50.6 1152.6h1M67.3 1168.8h1M61.1 1169.9h1M64.8 1142.5h1M79.7 1155.7h1M79.3 1160.9h1M63.7 1159.7h1M54.8 1166.6h1M80.1 1171.1h1M59.1 1166.0h1M74.3 1166.5h1M52.0 1176.0h1M57.3 1157.4h1M65.7 1164.2h1M59.0 1154.2h1M52.7 1162.7h1M70.5 1164.1h1M66.3 1157.1h1M59.0 1168.5h1M59.4 1173.0h1M74.0 1167.2h1M62.1 1156.7h1M62.9 1156.5h1M60.8 1160.4h1M59.0 1170.1h1M55.9 1157.8h1M75.5 1164.4h1M69.0 1158.6h1M67.4 1171.2h1M64.5 1165.5h1M75.9 1166.6h1M76.0 1155.0h1M68.4 1158.3h1M76.7 1159.2h1M58.0 1158.2h1M71.1 1165.6h1M65.6 1171.6h1M56.5 1154.9h1M64.3 1162.4h1M65.2 1165.4h1M67.6 1168.1h1M66.4 1157.3h1M62.4 1153.8h1M62.7 1161.2h1M58.6 1166.2h1M76.7 1162.5h1M60.4 1155.4h1M57.3 1158.0h1M62.8 1167.8h1M66.1 1172.4h1M68.0 1164.2h1M66.8 1153.0h1M63.7 1158.1h1M121.6 1160.9h1M121.1 1160.7h1M125.8 1163.7h1M118.2 1168.5h1M123.6 1164.1h1M136.3 1174.5h1M139.5 1159.3h1M126.3 1165.1h1M124.0 1160.0h1M129.4 1170.3h1M139.7 1156.9h1M126.7 1155.2h1M121.2 1142.3h1M139.1 1148.5h1M124.0 1147.0h1M120.7 1153.0h1M107.5 1152.8h1M121.5 1160.2h1M108.6 1166.3h1M120.8 1152.1h1M134.5 1155.6h1M124.9 1173.3h1M123.6 1160.3h1M130.4 1157.7h1M123.7 1160.0h1M120.3 1167.2h1M125.2 1172.5h1M126.1 1149.9h1M126.1 1158.9h1M121.3 1168.9h1M126.3 1148.4h1M138.2 1160.1h1M110.9 1158.5h1M126.8 1152.2h1M116.7 1146.8h1M125.2 1156.9h1M134.5 1163.3h1M125.0 1156.3h1M130.5 1150.2h1M125.2 1165.0h1M117.3 1151.6h1M131.8 1175.7h1M126.1 1175.8h1M126.6 1159.6h1M120.1 1151.4h1M130.0 1156.6h1M118.3 1164.1h1M126.8 1155.2h1M124.7 1159.9h1M124.1 1160.0h1M120.0 1141.7h1M118.6 1170.6h1M120.6 1162.5h1M127.6 1153.1h1M123.6 1159.0h1M125.8 1165.9h1M123.7 1159.4h1M130.2 1162.1h1M112.0 1171.1h1M126.5 1156.4h1M122.7 1153.5h1M124.1 1149.3h1M130.6 1164.8h1M115.6 1165.1h1M112.2 1156.8h1M115.6 1166.6h1M128.3 1150.3h1M124.4 1165.1h1M120.5 1180.5h1M111.3 1171.7h1M134.3 1158.3h1M114.6 1170.7h1M104.5 1160.8h1M112.3 1160.9h1M118.8 1150.7h1M127.2 1170.3h1M112.8 1166.3h1M123.8 1155.6h1M119.1 1165.5h1M131.5 1158.8h1M104.6 1167.4h1M126.0 1145.5h1M119.1 1160.9h1M120.8 1163.4h1M116.4 1166.1h1M102.4 1163.8h1M118.6 1160.0h1M127.9 1171.9h1M115.3 1160.2h1M115.3 1161.3h1M118.6 1151.4h1M131.4 1163.8h1M123.0 1171.6h1M110.7 1164.1h1M135.0 1158.1h1M116.4 1154.6h1M132.2 1169.5h1M125.4 1168.4h1M117.9 1157.8h1M129.2 1153.4h1M124.6 1160.7h1M116.5 1162.6h1M113.3 1155.8h1M108.0 1150.7h1M116.3 1163.8h1M123.0 1150.8h1M121.0 1178.9h1M123.5 1164.1h1M107.0 1156.8h1M131.4 1149.3h1M116.1 1154.9h1M121.9 1165.6h1M109.7 1166.3h1M103.0 1153.5h1M125.9 1151.5h1M116.4 1156.5h1M134.8 1152.7h1M130.0 1176.5h1M119.9 1154.2h1M122.7 1152.6h1M119.9 1152.1h1M111.5 1147.8h1M129.6 1155.2h1M114.0 1169.2h1M121.3 1157.9h1M116.9 1160.6h1M120.3 1157.1h1M121.3 1166.8h1M121.2 1171.1h1M130.0 1152.3h1M115.3 1150.2h1M116.9 1166.4h1M120.0 1156.6h1M123.3 1143.0h1M125.0 1159.0h1M127.6 1158.1h1M130.1 1169.1h1M120.3 1165.1h1M115.8 1154.8h1M114.3 1158.8h1M113.3 1151.7h1M120.9 1148.7h1M127.0 1153.0h1M120.7 1158.0h1M130.2 1165.3h1M120.7 1155.7h1M129.0 1159.3h1M114.6 1161.5h1M127.3 1160.2h1M122.9 1172.3h1M118.5 1166.6h1M134.3 1174.1h1M113.8 1164.7h1M123.5 1179.7h1M132.1 1168.6h1M131.5 1165.0h1M114.6 1178.5h1M109.7 1166.7h1M128.4 1162.1h1M130.2 1160.3h1M128.6 1162.5h1M117.0 1168.4h1M118.3 1165.6h1M114.7 1162.4h1M126.7 1169.8h1M114.3 1156.2h1M122.5 1152.2h1M127.1 1179.6h1M127.7 1165.6h1M116.3 1165.1h1M126.6 1176.4h1M119.9 1170.5h1M119.9 1158.3h1M119.4 1162.8h1M111.3 1157.6h1M133.8 1146.0h1M129.3 1166.8h1M119.4 1154.3h1M131.2 1157.8h1M124.9 1158.8h1M114.1 1169.0h1M127.6 1153.0h1M131.0 1150.5h1M112.9 1167.5h1M119.4 1160.6h1M134.7 1151.9h1M127.3 1157.3h1M123.4 1158.8h1M116.6 1161.0h1M115.6 1160.7h1M115.4 1158.4h1M123.6 1149.3h1M122.1 1166.2h1M123.5 1168.1h1M115.1 1165.3h1M125.0 1138.4h1M122.6 1167.7h1M122.1 1160.9h1M121.6 1159.3h1M114.7 1155.1h1M106.0 1177.4h1M122.5 1162.4h1M127.4 1164.7h1M122.1 1147.9h1M113.6 1174.2h1M125.8 1165.9h1M114.7 1156.7h1M124.6 1154.3h1M131.6 1154.5h1M119.4 1151.3h1M125.3 1171.0h1M124.2 1160.5h1M119.9 1167.0h1M122.6 1174.7h1M120.6 1157.5h1M118.7 1145.2h1M124.3 1161.6h1M110.6 1151.2h1M114.5 1158.0h1M114.9 1166.7h1M131.6 1155.4h1M122.8 1152.0h1M132.6 1151.8h1M116.7 1160.6h1M116.5 1182.1h1M121.2 1158.6h1M115.1 1159.9h1M118.0 1157.2h1M130.1 1155.8h1M125.8 1155.5h1M130.2 1154.5h1M115.3 1158.6h1M132.0 1157.3h1M116.0 1159.4h1M117.3 1162.7h1M117.5 1163.1h1M129.3 1164.5h1M133.9 1163.0h1M136.5 1170.8h1M120.6 1166.8h1M117.1 1159.0h1M122.0 1154.3h1M124.9 1159.9h1M137.6 1166.8h1M120.8 1155.2h1M118.6 1155.1h1M117.0 1160.7h1M112.5 1158.1h1M126.3 1155.9h1M114.2 1156.6h1M129.0 1154.5h1M134.2 1147.3h1M116.6 1165.4h1M132.7 1159.0h1M110.2 1158.3h1M115.8 1155.1h1M119.8 1155.8h1M122.3 1161.7h1M120.4 1146.3h1M121.2 1139.7h1M123.1 1157.2h1M115.7 1177.3h1M135.0 1171.3h1M124.2 1156.7h1M126.1 1173.6h1M121.9 1159.4h1M118.2 1160.0h1M128.9 1153.3h1M130.5 1161.7h1M139.3 1162.1h1M132.1 1152.7h1M140.7 1161.3h1M122.0 1172.6h1M123.8 1150.8h1M127.2 1165.0h1M122.5 1156.9h1M110.6 1174.0h1M119.4 1163.5h1M118.9 1155.0h1M124.8 1153.6h1M129.7 1147.9h1M127.1 1170.1h1M119.4 1162.4h1M128.9 1157.2h1M121.0 1159.2h1M143.0 1154.2h1M121.4 1157.1h1M118.6 1153.3h1M117.8 1161.9h1M131.4 1173.6h1M113.1 1152.9h1M122.5 1152.9h1M116.9 1158.9h1M118.5 1154.0h1M124.3 1154.5h1M120.7 1163.2h1M128.1 1162.3h1M130.8 1161.9h1M111.7 1172.4h1M144.0 1167.1h1M134.7 1169.5h1M119.5 1165.7h1M117.6 1156.2h1M126.9 1161.4h1M117.8 1149.5h1M128.7 1160.7h1M123.8 1153.7h1M117.0 1160.4h1M108.9 1170.3h1M122.9 1169.4h1M129.9 1156.2h1M126.6 1151.9h1M116.0 1171.3h1M118.8 1154.6h1M126.3 1161.0h1M130.0 1150.6h1M120.9 1152.2h1M123.0 1158.6h1M115.8 1146.9h1M112.7 1168.2h1M120.0 1152.1h1M124.1 1151.9h1M129.6 1167.7h1M123.1 1156.2h1M109.2 1164.6h1M137.9 1162.3h1M118.8 1167.1h1M119.9 1151.1h1M122.0 1165.5h1M109.2 1169.0h1M134.9 1160.6h1M119.2 1149.5h1M126.8 1158.6h1M131.9 1173.2h1M132.1 1162.2h1M109.2 1171.3h1M119.2 1157.0h1M130.8 1164.6h1M115.0 1158.1h1M120.7 1159.6h1M114.0 1172.6h1M121.8 1166.0h1M130.7 1178.0h1M128.2 1155.0h1M119.6 1167.7h1M135.1 1149.2h1M137.1 1156.3h1M121.4 1157.4h1M127.2 1159.3h1M122.5 1153.5h1M133.7 1163.7h1M122.5 1177.7h1M127.7 1171.8h1M120.8 1162.0h1M121.7 1167.7h1M125.0 1147.4h1M127.1 1159.1h1M124.7 1168.5h1M120.8 1165.9h1M123.0 1160.2h1M119.1 1160.0h1M120.6 1167.1h1M105.8 1165.4h1M122.3 1152.6h1M128.7 1160.6h1M127.0 1171.5h1M124.5 1148.3h1M111.0 1160.4h1M113.9 1177.9h1M122.2 1146.7h1M106.7 1156.6h1M104.9 1164.7h1M105.7 1167.8h1M119.3 1169.8h1M114.2 1157.3h1M131.0 1148.1h1M127.9 1172.4h1M115.5 1159.7h1M135.3 1172.7h1M135.0 1160.1h1M120.2 1159.6h1M120.1 1167.4h1M129.2 1165.0h1M117.8 1167.1h1M126.6 1162.8h1M132.1 1157.9h1M123.9 1169.7h1M117.4 1168.0h1M128.5 1172.9h1M132.6 1156.4h1M136.3 1157.3h1M114.1 1158.7h1M120.4 1153.9h1M130.3 1165.0h1M127.6 1150.1h1M136.6 1164.7h1M131.7 1163.8h1M125.8 1167.1h1M124.2 1172.0h1M119.2 1144.9h1M120.4 1160.9h1M126.1 1161.8h1M126.2 1164.6h1M121.8 1165.4h1M127.2 1154.9h1M110.0 1162.8h1M126.7 1169.6h1M131.4 1163.4h1M131.7 1156.5h1M119.6 1171.7h1M114.2 1160.9h1M115.3 1151.5h1M138.9 1147.1h1M136.3 1157.5h1M117.5 1147.9h1M124.7 1166.0h1M127.4 1153.9h1M135.3 1162.7h1M127.0 1165.8h1M127.3 1158.5h1M125.7 1155.4h1M125.0 1153.5h1M112.5 1156.4h1M122.0 1155.7h1M120.9 1156.8h1M123.4 1174.9h1M127.4 1167.8h1M130.5 1167.9h1M126.2 1167.8h1M131.1 1159.8h1M121.1 1161.0h1M122.7 1164.8h1M119.8 1157.8h1M124.8 1165.0h1M122.4 1149.4h1M121.3 1167.7h1M121.4 1170.9h1M119.4 1159.2h1M129.0 1170.2h1M120.9 1172.6h1M124.5 1164.2h1M136.4 1167.7h1M121.6 1160.6h1M116.4 1169.9h1M125.8 1175.8h1M132.2 1161.3h1M118.7 1158.7h1M132.4 1160.2h1M131.6 1170.8h1M134.2 1163.1h1M128.4 1151.2h1M125.7 1161.4h1M130.0 1147.4h1M120.9 1179.2h1M124.4 1157.5h1M123.9 1160.1h1M120.7 1165.9h1M125.2 1170.1h1M141.7 1166.9h1M125.8 1172.7h1M113.0 1175.3h1M114.8 1157.5h1M123.6 1150.7h1M118.6 1162.5h1M126.2 1150.3h1M101.2 1166.4h1M111.0 1163.9h1M126.7 1167.5h1M119.1 1156.5h1M145.9 1160.4h1M115.7 1150.9h1M121.3 1174.6h1M128.3 1154.2h1M113.0 1156.3h1M123.0 1163.5h1M126.8 1169.9h1M113.4 1149.1h1M122.5 1165.8h1M119.1 1163.3h1M122.5 1170.3h1M121.6 1157.5h1M126.9 1169.0h1M118.4 1160.3h1M117.8 1152.3h1M141.1 1156.4h1M120.8 1158.5h1M117.1 1160.1h1M122.5 1164.1h1M119.0 1150.1h1M122.2 1166.7h1M132.5 1160.5h1M121.2 1155.3h1M134.2 1156.5h1M119.4 1160.8h1M121.5 1161.7h1M126.2 1174.5h1M126.9 1164.5h1M112.3 1178.6h1M127.0 1168.1h1M120.8 1160.5h1M120.4 1159.8h1M120.2 1167.4h1M131.1 1160.8h1M121.0 1167.8h1M121.6 1165.5h1M118.4 1172.2h1M119.7 1165.6h1M135.8 1164.4h1M121.2 1167.1h1M134.4 1143.8h1M120.3 1160.1h1M129.5 1149.4h1M129.1 1161.7h1M127.3 1153.2h1M132.7 1181.7h1M124.1 1165.9h1M115.4 1138.9h1M122.6 1159.5h1M128.2 1161.7h1M113.3 1143.6h1M131.3 1168.9h1M122.2 1159.3h1M128.3 1157.0h1M113.6 1171.1h1M112.9 1158.0h1M132.8 1165.0h1M131.3 1173.0h1M124.6 1149.6h1M110.4 1143.7h1M128.7 1149.8h1M122.2 1162.0h1M125.7 1161.0h1M132.7 1163.9h1M131.1 1160.6h1M123.4 1162.5h1M126.8 1167.4h1M119.5 1166.1h1M143.8 1139.8h1M127.9 1160.3h1M121.5 1156.5h1M114.4 1163.2h1M117.8 1173.8h1M125.6 1175.2h1M124.1 1149.8h1M126.4 1162.9h1M129.5 1142.1h1M123.7 1172.8h1M123.8 1144.9h1M126.3 1165.1h1M133.6 1165.7h1M115.7 1170.6h1M128.5 1170.8h1M121.9 1169.5h1M107.5 1150.5h1M127.7 1174.0h1M127.4 1162.6h1M122.0 1157.9h1M131.5 1146.9h1M125.2 1173.3h1M110.7 1143.2h1M115.8 1161.2h1M127.3 1156.6h1M129.1 1157.1h1M111.1 1169.4h1M123.2 1155.9h1M110.8 1140.9h1M115.2 1167.0h1M116.3 1150.4h1M117.3 1166.0h1M127.7 1171.1h1M116.6 1173.3h1M135.2 1164.7h1M131.1 1174.6h1M126.1 1154.3h1M127.2 1164.2h1M128.5 1182.4h1M123.6 1159.4h1M132.6 1161.6h1M113.9 1163.9h1M130.8 1148.2h1M136.1 1176.8h1M114.8 1163.3h1M126.2 1165.8h1M125.4 1167.0h1M117.4 1159.3h1M122.6 1164.8h1M138.0 1168.4h1M115.4 1164.3h1M137.7 1177.8h1M136.1 1162.1h1M129.0 1162.8h1M114.8 1161.8h1M120.2 1151.0h1M122.2 1158.2h1M121.4 1167.2h1M115.2 1162.0h1M126.1 1163.6h1M125.3 1162.0h1M111.4 1144.5h1M118.9 1158.1h1M116.3 1155.0h1M120.2 1175.1h1M122.5 1167.8h1M128.4 1162.7h1M130.6 1156.7h1M121.9 1151.8h1M122.3 1168.5h1M116.6 1160.6h1M121.3 1160.8h1M120.2 1163.6h1M113.9 1162.3h1M135.9 1152.4h1M129.4 1155.6h1M119.0 1175.9h1M128.4 1166.3h1M135.7 1166.5h1M122.5 1142.7h1M128.6 1175.0h1M119.9 1151.5h1M110.3 1166.0h1M105.1 1164.3h1M129.4 1157.5h1M115.3 1159.0h1M135.0 1151.9h1M117.2 1165.5h1M118.5 1171.8h1M117.7 1151.4h1M111.9 1159.4h1M131.6 1161.3h1M118.8 1148.9h1M125.1 1155.7h1M140.7 1151.6h1M112.9 1150.8h1M124.6 1165.9h1M124.9 1170.7h1M128.5 1156.4h1M135.9 1154.9h1M124.8 1161.5h1M131.8 1160.9h1M125.7 1145.4h1M122.6 1162.3h1M134.6 1147.2h1M114.1 1168.0h1M140.7 1162.4h1M107.2 1146.8h1M120.3 1154.0h1M126.9 1169.7h1M129.1 1153.6h1M117.9 1159.6h1M126.3 1165.7h1M120.2 1169.5h1M128.6 1158.7h1M124.7 1174.0h1M128.1 1158.8h1M120.7 1168.9h1M126.1 1162.3h1M117.7 1159.1h1M124.4 1175.4h1M113.4 1162.2h1M116.1 1150.1h1M140.5 1150.9h1M132.4 1169.5h1M126.7 1161.6h1M122.9 1165.2h1M126.1 1165.8h1M128.0 1148.0h1M113.5 1160.9h1M122.9 1150.3h1M130.4 1165.1h1M125.5 1169.6h1M127.9 1160.3h1M118.6 1170.5h1M119.5 1155.2h1M116.0 1166.8h1M125.2 1159.9h1M130.4 1154.5h1M129.5 1157.0h1M122.0 1159.6h1M124.9 1172.4h1M118.7 1169.5h1M132.6 1159.9h1M118.3 1152.0h1M122.7 1184.4h1M121.8 1162.2h1M116.1 1164.7h1M125.2 1169.1h1M139.0 1169.4h1M116.9 1160.1h1M113.4 1157.8h1M112.5 1170.3h1M106.7 1166.0h1M124.2 1148.8h1M129.1 1171.7h1M136.6 1159.1h1M128.9 1162.8h1M134.1 1161.1h1M131.6 1153.0h1M118.2 1152.4h1M121.8 1151.0h1M124.3 1156.6h1M112.6 1163.1h1M131.8 1165.3h1M125.8 1159.3h1M121.8 1148.3h1M138.0 1147.7h1M116.4 1152.8h1M115.0 1162.4h1M117.5 1156.7h1M125.8 1151.4h1M114.7 1164.8h1M119.4 1146.3h1M127.7 1149.5h1M123.0 1161.2h1M125.3 1163.3h1M120.0 1160.9h1M110.6 1163.2h1M108.8 1166.9h1M117.5 1168.1h1M122.6 1165.2h1M119.6 1159.1h1M126.7 1166.3h1M120.1 1139.0h1M124.1 1166.8h1M132.7 1159.0h1M131.1 1132.2h1M120.0 1155.9h1M138.7 1159.1h1M142.7 1161.4h1M119.8 1156.3h1M116.7 1162.1h1M124.2 1153.0h1M136.5 1169.6h1M120.7 1165.3h1M121.8 1157.0h1M116.6 1155.7h1M136.5 1174.8h1M122.1 1158.5h1M131.7 1154.2h1M128.7 1148.7h1M126.1 1167.1h1M129.4 1173.9h1M132.3 1157.6h1M112.7 1142.1h1M115.0 1159.9h1M118.8 1183.9h1M126.5 1164.6h1M124.0 1159.5h1M125.9 1170.3h1M123.6 1168.9h1M134.0 1162.9h1M128.5 1164.0h1M132.3 1168.4h1M124.9 1171.0h1M132.5 1163.1h1M114.0 1175.6h1M125.2 1167.3h1M124.8 1158.9h1M114.4 1161.5h1M121.8 1165.7h1M121.2 1161.0h1M129.1 1161.4h1M118.8 1165.3h1M121.1 1153.0h1M115.2 1154.3h1M118.8 1143.0h1M112.3 1156.4h1M120.2 1159.9h1M127.6 1152.5h1M135.0 1164.2h1M104.8 1160.8h1M115.7 1165.5h1M136.7 1149.8h1M124.0 1152.4h1M111.9 1166.5h1M129.6 1155.7h1M120.2 1151.2h1M118.1 1159.2h1M121.9 1167.0h1M124.7 1160.8h1M124.0 1166.3h1M127.5 1150.1h1M121.7 1164.5h1M117.2 1149.3h1M115.5 1151.2h1M121.5 1159.9h1M127.3 1145.5h1M126.7 1167.8h1M143.4 1158.7h1M128.9 1146.9h1M131.4 1174.6h1M125.2 1156.2h1M134.7 1153.3h1M136.8 1152.4h1M126.8 1163.7h1M124.6 1156.4h1M115.3 1172.5h1M126.7 1153.9h1M113.1 1167.4h1M133.5 1160.7h1M119.8 1165.9h1M127.0 1171.2h1M122.0 1155.4h1M122.6 1150.1h1M114.8 1156.7h1M121.9 1161.7h1M112.3 1158.2h1M138.3 1147.0h1M120.3 1157.2h1M127.9 1154.6h1M140.5 1156.6h1M125.1 1162.4h1M133.7 1164.7h1M112.5 1161.6h1M118.4 1170.6h1M127.2 1164.1h1M122.4 1155.3h1M131.2 1168.6h1M140.5 1159.0h1M131.7 1152.4h1M127.4 1161.2h1M115.0 1156.1h1M124.0 1159.3h1M121.0 1158.8h1M123.1 1157.5h1M110.1 1162.1h1M136.3 1159.7h1M124.3 1154.4h1M117.0 1153.4h1M112.9 1161.4h1M116.1 1163.7h1M123.9 1149.5h1M139.9 1158.2h1M124.1 1157.3h1M114.2 1160.8h1M127.1 1144.0h1M123.4 1162.1h1M137.0 1145.1h1M117.7 1170.2h1M117.5 1166.2h1M115.5 1151.7h1M128.8 1156.6h1M114.8 1161.3h1M132.0 1160.2h1M140.2 1150.6h1M135.7 1163.5h1M129.7 1167.1h1M120.9 1158.6h1M112.9 1155.2h1M117.6 1169.1h1M119.6 1163.8h1M122.4 1180.0h1M116.9 1153.4h1M127.9 1146.7h1M123.3 1152.9h1M116.6 1159.2h1M138.7 1168.2h1M129.3 1164.7h1M126.9 1155.5h1M124.3 1160.1h1M127.8 1168.0h1M114.2 1150.3h1M134.0 1152.0h1M132.2 1183.8h1M131.1 1163.6h1M122.0 1162.4h1M129.9 1185.4h1M129.8 1159.6h1M135.3 1161.0h1M133.0 1163.2h1M124.7 1167.2h1M122.0 1155.7h1M122.5 1161.7h1M120.2 1167.1h1M125.6 1163.4h1M120.4 1162.8h1M128.3 1158.6h1M121.2 1163.1h1M124.9 1156.2h1M129.4 1164.6h1M137.3 1151.7h1M113.3 1163.2h1M137.5 1168.7h1M123.1 1155.0h1M125.4 1157.0h1M116.9 1161.7h1M117.8 1158.5h1M117.5 1159.3h1M126.7 1161.4h1M125.0 1152.5h1M112.0 1160.1h1M122.8 1166.2h1M112.5 1168.3h1M122.1 1152.2h1M118.5 1157.2h1M133.2 1157.3h1M125.4 1153.8h1M112.6 1155.0h1M110.6 1158.3h1M121.2 1174.9h1M119.3 1169.8h1M127.7 1167.4h1M124.4 1159.7h1M126.5 1170.3h1M116.7 1150.8h1M118.4 1149.2h1M119.5 1158.2h1M117.1 1159.2h1M131.9 1161.3h1M131.3 1159.6h1M123.7 1149.8h1M132.2 1163.3h1M133.9 1160.2h1M118.2 1177.6h1M114.5 1144.8h1M128.8 1152.4h1M114.0 1163.0h1M116.8 1175.2h1M138.7 1178.3h1M118.7 1168.3h1M118.0 1156.6h1M121.0 1159.3h1M125.4 1158.2h1M133.4 1149.7h1M125.9 1148.0h1M126.8 1170.6h1M134.5 1166.0h1M124.2 1155.7h1M119.9 1162.2h1M117.2 1150.2h1M132.6 1165.1h1M126.4 1157.5h1M128.0 1157.5h1M126.1 1161.3h1M123.2 1155.8h1M128.1 1154.4h1M135.0 1168.3h1M121.1 1164.8h1M129.4 1161.2h1M114.5 1163.2h1M120.3 1159.4h1M138.7 1161.3h1M112.3 1166.8h1M131.0 1154.4h1M122.7 1155.4h1M125.1 1170.3h1M142.9 1159.1h1M124.2 1172.3h1M121.2 1168.3h1M118.2 1186.8h1M116.8 1167.0h1M135.5 1169.0h1M135.1 1168.7h1M123.4 1166.9h1M129.8 1162.9h1M129.8 1158.9h1M116.9 1172.5h1M124.6 1174.4h1M137.4 1157.7h1M135.7 1164.5h1M126.3 1147.2h1M119.9 1159.2h1M118.6 1151.6h1M110.2 1162.2h1M126.0 1168.1h1M112.2 1148.4h1M138.6 1160.0h1M122.4 1169.3h1M114.8 1159.6h1M129.3 1164.6h1M129.6 1157.7h1M134.5 1149.4h1M106.3 1159.4h1M124.0 1160.8h1M107.3 1150.3h1M120.4 1168.1h1M132.0 1174.5h1M113.7 1156.8h1M109.9 1151.2h1M113.6 1159.9h1M116.6 1163.4h1M133.6 1158.8h1M119.8 1161.1h1M121.6 1159.2h1M117.9 1162.0h1M118.9 1164.6h1M124.3 1169.5h1M127.2 1165.2h1M122.3 1157.4h1M127.4 1154.2h1M126.0 1174.4h1M117.9 1166.4h1M127.7 1161.0h1M131.1 1157.4h1M113.8 1165.2h1M126.6 1163.4h1M129.9 1152.4h1M116.7 1175.5h1M120.9 1169.4h1M126.2 1145.7h1M118.9 1183.3h1M124.5 1167.1h1M113.4 1160.1h1M114.8 1158.8h1M124.1 1155.0h1M112.7 1165.8h1M127.4 1157.1h1M117.8 1168.1h1M122.0 1170.5h1M128.1 1158.9h1M130.7 1146.4h1M116.0 1161.5h1M130.0 1167.8h1M127.1 1154.5h1M122.6 1176.0h1M128.3 1169.6h1M123.9 1151.5h1M120.3 1171.4h1M117.2 1171.2h1M126.8 1147.2h1M123.6 1156.9h1M121.6 1172.8h1M112.6 1148.2h1M120.5 1162.0h1M125.1 1162.1h1M116.6 1159.3h1M138.9 1165.1h1M129.4 1163.9h1M124.8 1149.0h1M126.8 1181.1h1M109.8 1165.8h1M113.5 1166.4h1M125.5 1160.2h1M113.9 1156.6h1M133.0 1158.8h1M122.7 1165.4h1M118.7 1159.4h1M111.8 1177.3h1M125.1 1165.9h1M118.7 1152.7h1M128.6 1157.1h1M123.4 1152.7h1M139.8 1160.3h1M125.5 1168.2h1M114.7 1162.5h1M113.4 1154.3h1M129.4 1170.3h1M126.4 1153.6h1M122.3 1167.1h1M120.0 1158.5h1M124.5 1167.6h1M118.4 1148.8h1M118.9 1159.8h1M121.4 1163.2h1M131.3 1160.8h1M126.0 1155.9h1M122.3 1165.4h1M114.3 1168.9h1M116.7 1158.7h1M127.1 1165.6h1M123.6 1156.0h1M137.3 1160.2h1M123.3 1161.5h1M124.0 1158.9h1M118.7 1152.7h1M114.6 1166.5h1M135.4 1162.5h1M124.1 1159.1h1M120.1 1176.0h1M124.4 1165.2h1M130.7 1138.2h1M127.9 1160.6h1M123.7 1161.9h1M127.9 1165.8h1M135.2 1157.7h1M126.2 1168.3h1M118.8 1159.6h1M127.6 1162.8h1M122.4 1163.1h1M143.0 1157.6h1M115.1 1162.5h1M109.6 1156.0h1M108.7 1170.6h1M128.8 1159.3h1M106.5 1151.6h1M115.2 1184.4h1M111.8 1160.9h1M129.2 1165.5h1M120.2 1156.5h1M130.4 1159.5h1M111.1 1155.3h1M118.5 1172.5h1M121.6 1147.2h1M120.2 1167.6h1M115.9 1156.7h1M113.4 1162.8h1M123.2 1156.6h1M123.9 1165.0h1M117.9 1160.4h1M127.6 1158.7h1M110.9 1165.4h1M122.4 1164.2h1M124.4 1173.4h1M112.4 1176.7h1M126.6 1166.6h1M116.2 1161.2h1M122.0 1164.6h1M110.5 1160.5h1M108.3 1177.9h1M117.9 1155.7h1M119.0 1165.8h1M130.0 1166.1h1M109.9 1158.0h1M124.6 1161.9h1M128.9 1156.9h1M120.6 1144.8h1M122.1 1165.9h1M124.2 1154.3h1M122.7 1161.0h1M116.0 1156.7h1M124.2 1166.1h1M137.4 1153.4h1M120.6 1167.5h1M119.3 1167.2h1M108.9 1174.6h1M130.1 1161.8h1M113.2 1157.7h1M117.0 1172.1h1M119.1 1163.0h1M127.3 1158.1h1M118.1 1143.3h1M129.1 1172.8h1M124.2 1153.7h1M126.5 1158.8h1M102.3 1158.4h1M107.9 1158.4h1M114.2 1167.7h1M111.2 1162.1h1M121.9 1148.3h1M123.3 1155.5h1M115.4 1149.3h1M122.9 1156.0h1M121.8 1160.6h1M133.7 1158.9h1M123.3 1171.9h1M119.3 1170.4h1M126.4 1145.6h1M133.9 1159.7h1M114.2 1158.7h1M124.1 1162.7h1M138.5 1147.1h1M125.3 1156.5h1M119.5 1157.3h1M117.2 1173.7h1M124.1 1160.5h1M125.2 1148.6h1M121.6 1156.7h1M115.7 1171.7h1M124.3 1165.7h1M118.5 1161.7h1M122.6 1165.7h1M123.8 1164.6h1M117.2 1164.8h1M126.0 1164.9h1M120.6 1162.8h1M122.3 1163.3h1M122.7 1156.9h1M119.0 1161.8h1M114.7 1141.3h1M122.1 1157.8h1M124.5 1165.5h1M125.3 1158.8h1M124.0 1147.3h1M127.0 1153.7h1M116.9 1164.7h1M118.1 1153.5h1M120.8 1152.7h1M128.6 1152.0h1M122.0 1169.3h1M124.9 1178.7h1M130.3 1163.4h1M113.8 1165.7h1M131.9 1168.2h1M127.0 1165.8h1M121.9 1163.9h1M125.7 1161.0h1M132.4 1154.0h1M132.1 1156.4h1M115.2 1158.4h1M116.6 1158.8h1M127.4 1170.5h1M128.6 1139.8h1M131.6 1155.0h1M125.7 1170.8h1M130.8 1174.5h1M123.2 1153.2h1M116.0 1176.0h1M120.2 1162.3h1M119.1 1153.7h1M133.9 1171.6h1M124.2 1166.0h1M117.4 1159.9h1M118.9 1168.6h1M132.1 1156.5h1M110.1 1167.3h1M138.0 1153.1h1M136.4 1163.3h1M124.9 1148.5h1M121.4 1149.4h1M127.6 1178.8h1M124.5 1155.3h1M118.3 1159.9h1M124.0 1172.2h1M123.6 1161.8h1M115.3 1153.5h1M124.5 1160.0h1M121.6 1164.8h1M134.7 1153.6h1M127.9 1168.4h1M119.1 1150.7h1M113.7 1162.1h1M123.7 1163.8h1M127.9 1169.0h1M132.7 1174.0h1M122.7 1162.2h1M116.3 1151.6h1M122.7 1152.3h1M132.7 1154.9h1M135.2 1155.2h1M121.8 1169.4h1M125.9 1171.9h1M116.6 1166.8h1M119.9 1164.7h1M112.8 1154.1h1M120.7 1164.4h1M115.1 1153.6h1M109.6 1156.5h1M134.9 1156.1h1M108.6 1150.0h1M114.7 1157.3h1M124.8 1167.8h1M119.1 1165.7h1M122.3 1166.0h1M130.6 1167.2h1M110.6 1166.6h1M120.3 1142.8h1M126.1 1158.9h1M113.7 1145.7h1M126.5 1163.2h1M127.7 1161.6h1M137.6 1155.6h1M123.4 1161.6h1M134.8 1171.0h1M118.7 1170.3h1M118.0 1167.5h1M111.2 1146.7h1M130.2 1164.3h1M120.0 1147.3h1M118.8 1156.3h1M128.3 1162.0h1M108.2 1154.7h1M114.4 1155.3h1M113.7 1169.9h1M131.4 1159.3h1M117.3 1153.3h1M122.6 1178.4h1M130.0 1164.8h1M131.7 1156.2h1M119.0 1164.5h1M114.3 1170.5h1M118.6 1150.9h1M129.8 1158.6h1M120.8 1171.9h1M133.6 1155.6h1M131.8 1149.3h1M133.6 1162.6h1M123.3 1173.1h1M126.2 1146.9h1M125.6 1168.2h1M130.7 1173.6h1M120.3 1151.2h1M111.3 1157.1h1M118.5 1162.4h1M135.4 1157.1h1M113.4 1161.3h1M124.5 1166.6h1M133.4 1164.9h1M125.3 1155.2h1M125.7 1169.0h1M120.3 1174.2h1M123.1 1167.2h1M110.7 1169.9h1M122.1 1157.1h1M124.6 1163.0h1M117.7 1150.8h1M126.1 1166.6h1M124.4 1159.0h1M121.4 1146.1h1M119.3 1155.2h1M121.9 1143.0h1M113.2 1157.0h1M109.1 1150.1h1M133.9 1159.1h1M119.2 1161.3h1M115.2 1161.7h1M119.3 1152.7h1M123.3 1166.3h1M123.0 1150.6h1M123.6 1155.8h1M119.5 1162.3h1M126.2 1167.6h1M120.1 1180.6h1M130.1 1166.9h1M136.0 1170.2h1M134.8 1170.5h1M120.2 1167.9h1M131.6 1167.5h1M133.0 1166.2h1M117.1 1159.7h1M116.1 1150.8h1M138.2 1168.0h1M132.5 1150.9h1M129.1 1157.6h1M128.5 1167.2h1M132.8 1155.0h1M132.7 1169.4h1M126.0 1152.7h1M114.0 1148.0h1M111.3 1167.5h1M111.1 1155.0h1M125.4 1157.3h1M126.8 1170.8h1M119.4 1166.5h1M131.1 1161.0h1M130.7 1160.9h1M124.6 1168.5h1M121.6 1159.9h1M127.4 1169.6h1M115.4 1170.3h1M124.9 1163.1h1M133.7 1154.0h1M116.7 1152.5h1M124.5 1165.2h1M112.3 1165.1h1M114.4 1163.2h1M139.0 1170.3h1M123.5 1168.9h1M129.2 1142.8h1M117.5 1167.5h1M127.6 1153.2h1M126.9 1164.8h1M122.7 1161.5h1M137.6 1167.6h1M130.1 1148.0h1M120.7 1168.0h1M125.3 1160.0h1M116.5 1164.1h1M122.5 1148.8h1M142.5 1160.2h1M109.9 1149.9h1M118.8 1157.9h1M117.1 1160.7h1M134.4 1153.2h1M131.7 1167.9h1M115.0 1150.2h1M129.0 1169.4h1M129.1 1166.3h1M118.5 1166.7h1M115.4 1166.2h1M130.0 1167.3h1M133.4 1166.6h1M131.4 1163.1h1M136.1 1161.3h1M134.6 1156.3h1M115.0 1163.4h1M123.1 1157.8h1M117.7 1168.2h1M126.9 1168.8h1M120.6 1164.5h1M116.2 1156.5h1M129.5 1168.0h1M124.5 1171.3h1M118.0 1172.6h1M122.6 1160.7h1M116.5 1172.6h1M116.3 1172.7h1M134.1 1147.1h1M123.1 1152.6h1M119.8 1161.4h1M121.4 1167.0h1M126.9 1147.6h1M114.3 1151.1h1M113.3 1165.8h1M122.2 1162.1h1M107.8 1158.7h1M106.8 1161.3h1M118.7 1165.0h1M127.3 1168.1h1M121.7 1164.6h1M115.9 1179.3h1M124.5 1152.8h1M123.8 1170.3h1M117.8 1170.6h1M121.0 1172.0h1M123.6 1154.5h1M124.7 1171.2h1M109.1 1153.7h1M126.2 1152.8h1M109.8 1161.5h1M119.6 1159.1h1M120.3 1163.7h1M116.7 1148.8h1M121.3 1159.0h1M121.8 1161.8h1M117.9 1148.8h1M126.6 1173.1h1M127.0 1162.4h1M127.7 1158.5h1M112.6 1146.0h1M123.9 1152.2h1M116.2 1164.5h1M130.4 1172.6h1M110.4 1159.3h1M117.5 1161.8h1M122.8 1165.0h1M121.3 1151.7h1M107.6 1175.4h1M118.4 1166.6h1M124.0 1167.4h1M123.1 1170.6h1M115.6 1165.4h1M126.6 1154.6h1M116.0 1155.0h1M132.6 1157.5h1M129.4 1157.8h1M124.8 1166.1h1M124.6 1157.4h1M119.3 1176.0h1M133.8 1165.8h1M118.8 1164.5h1M137.0 1155.7h1M123.9 1165.1h1M120.2 1159.9h1M129.3 1158.6h1M122.0 1163.5h1M113.4 1161.8h1M131.1 1169.9h1M109.1 1159.8h1M136.3 1153.2h1M116.6 1163.8h1M118.0 1154.8h1M117.6 1162.7h1M125.1 1164.0h1M112.0 1147.8h1M128.9 1160.3h1M123.9 1164.3h1M134.0 1170.1h1M118.9 1167.3h1M126.9 1172.7h1M129.7 1179.5h1M140.0 1163.7h1M116.1 1165.6h1M117.5 1161.0h1M130.8 1156.1h1M108.4 1156.5h1M115.4 1148.1h1M127.6 1165.6h1M125.1 1170.3h1M121.8 1178.0h1M124.9 1168.7h1M117.6 1164.9h1M120.8 1152.0h1M125.0 1153.9h1M130.3 1148.0h1M108.5 1171.8h1M127.8 1158.5h1M108.6 1155.9h1M125.0 1177.0h1M118.4 1175.0h1M110.1 1174.4h1M128.2 1155.5h1M133.4 1161.9h1M117.3 1158.3h1M129.7 1156.8h1M117.7 1160.0h1M121.9 1151.2h1M133.8 1176.0h1M122.3 1165.3h1M121.7 1152.8h1M125.7 1153.1h1M111.7 1156.7h1M126.2 1157.6h1M129.5 1166.9h1M130.6 1172.7h1M119.2 1167.3h1M128.2 1164.3h1M119.2 1165.8h1M124.5 1167.3h1M122.4 1157.0h1M112.2 1160.6h1M136.7 1163.0h1M123.4 1153.0h1M127.5 1163.7h1M125.6 1159.5h1M110.1 1152.0h1M115.6 1151.0h1M109.7 1166.1h1M123.3 1156.5h1M121.3 1175.9h1M108.2 1170.3h1M97.4 1181.6h1M129.3 1188.4h1M145.8 1164.3h1M131.2 1167.9h1M98.6 1174.0h1M133.0 1172.6h1M126.7 1148.6h1M114.9 1117.5h1M126.1 1153.4h1M115.8 1175.5h1M123.1 1128.3h1M135.5 1144.9h1M107.8 1150.0h1M138.5 1146.4h1M127.2 1169.6h1M96.1 1179.1h1M114.0 1182.2h1M117.6 1180.1h1M149.1 1136.0h1M107.8 1155.0h1M135.0 1182.4h1M124.6 1168.1h1M132.8 1150.8h1M115.1 1163.9h1M139.9 1153.5h1M131.2 1153.0h1M108.1 1163.7h1M125.1 1163.3h1M113.2 1155.7h1M134.6 1144.9h1M115.0 1148.3h1M123.9 1177.8h1M118.2 1154.0h1M118.4 1163.0h1M116.8 1150.7h1M126.9 1180.5h1M125.6 1154.0h1M139.5 1162.7h1M128.1 1160.5h1M128.5 1146.5h1M122.4 1160.2h1M120.1 1164.2h1M158.2 1150.4h1M119.0 1146.3h1M124.0 1155.7h1M135.3 1160.8h1M121.3 1162.8h1M148.0 1175.3h1M128.0 1175.4h1M119.9 1142.8h1M105.1 1168.6h1M127.3 1155.0h1M110.7 1172.4h1M117.3 1147.5h1M132.2 1163.8h1M107.3 1180.8h1M115.6 1155.6h1M113.4 1157.9h1M141.8 1158.2h1M132.0 1153.8h1M138.0 1177.5h1M133.3 1183.3h1M125.8 1138.2h1M106.9 1154.4h1M133.0 1163.7h1M126.3 1165.0h1M118.6 1161.1h1M115.7 1162.2h1M131.5 1182.0h1M140.6 1160.6h1M117.1 1157.0h1M99.6 1173.5h1M134.0 1167.1h1M123.4 1170.5h1M134.9 1177.8h1M103.8 1191.6h1M114.5 1178.9h1M108.9 1177.5h1M156.4 1174.7h1M123.3 1181.7h1M122.0 1164.0h1M116.7 1160.5h1M124.8 1153.8h1M137.8 1166.6h1M107.6 1153.2h1M122.1 1158.2h1M141.8 1149.7h1M123.0 1160.7h1M120.9 1169.9h1M130.3 1155.6h1M116.2 1167.0h1M122.2 1156.0h1M102.6 1166.3h1M117.2 1168.6h1M114.9 1161.4h1M119.8 1140.2h1M123.4 1165.8h1M121.7 1163.3h1M141.0 1137.9h1M110.3 1154.0h1M112.9 1156.0h1M106.3 1157.8h1M129.0 1153.8h1M131.2 1172.4h1M133.3 1165.1h1M98.5 1160.5h1M91.7 1143.4h1M130.9 1128.1h1M131.2 1154.8h1M131.3 1178.8h1M122.1 1149.8h1M130.7 1146.4h1M123.3 1161.3h1M136.7 1141.1h1M125.4 1184.9h1M120.9 1185.3h1M134.8 1142.4h1M129.8 1166.4h1M114.2 1159.4h1M99.9 1182.8h1M129.3 1158.2h1M133.7 1180.1h1M121.5 1161.3h1M130.7 1160.1h1M145.3 1174.7h1M125.7 1157.1h1M96.5 1148.7h1M150.3 1161.3h1M138.6 1138.1h1M107.1 1173.2h1M137.2 1144.5h1M103.4 1148.8h1M124.3 1134.9h1M144.2 1148.5h1M127.5 1172.1h1M121.9 1162.0h1M117.7 1185.8h1M137.3 1159.9h1M116.9 1161.4h1M94.8 1155.6h1M116.4 1178.4h1M128.6 1149.9h1M105.0 1169.9h1M128.0 1171.8h1M123.5 1166.3h1M124.0 1184.6h1M122.9 1149.8h1M134.3 1171.5h1M119.0 1178.5h1M130.3 1153.1h1M112.1 1181.9h1M135.0 1147.6h1M108.4 1185.5h1M157.3 1176.0h1M122.2 1157.8h1M133.8 1180.7h1M128.2 1159.8h1M104.9 1145.9h1M108.7 1138.2h1M128.6 1156.8h1M145.7 1174.9h1M123.6 1186.5h1M134.9 1158.8h1M123.9 1153.8h1M116.6 1161.6h1M118.2 1157.2h1M120.5 1163.2h1M140.1 1159.7h1M118.3 1169.3h1M126.1 1148.4h1M119.7 1160.6h1M113.7 1172.1h1M127.5 1155.2h1M137.8 1166.5h1M123.7 1165.3h1M134.1 1170.6h1M114.2 1166.2h1M121.9 1158.3h1M119.0 1175.5h1M124.2 1193.2h1M115.7 1173.2h1M137.4 1157.5h1M124.5 1175.6h1M146.5 1160.7h1M121.2 1166.3h1M132.4 1157.4h1M134.4 1168.1h1M124.0 1150.5h1M132.6 1135.3h1M110.9 1140.1h1M118.5 1159.3h1M118.8 1153.7h1M132.6 1138.1h1M103.9 1166.0h1M138.6 1166.7h1M108.0 1139.3h1M130.5 1165.4h1M124.2 1145.5h1M91.3 1171.9h1M145.8 1172.4h1M130.1 1167.8h1M120.8 1158.7h1M124.0 1151.7h1M127.8 1146.4h1M122.2 1183.2h1M142.3 1151.6h1M134.2 1169.2h1M135.4 1167.4h1M119.9 1176.4h1M136.9 1147.3h1M124.1 1158.1h1M110.1 1163.2h1M119.0 1137.3h1M147.9 1163.1h1M121.4 1164.7h1M111.7 1151.9h1M144.9 1156.7h1M101.7 1166.1h1M134.6 1152.8h1M115.5 1177.9h1M134.7 1146.7h1M117.5 1157.1h1M120.8 1145.9h1M120.7 1148.9h1M132.3 1164.2h1M116.9 1158.2h1M117.1 1173.0h1M129.3 1169.6h1M96.8 1170.3h1M121.9 1156.5h1M105.4 1175.8h1M142.6 1162.0h1M121.1 1153.1h1M133.7 1162.9h1M114.3 1177.6h1M129.7 1165.3h1M122.4 1158.6h1M113.0 1155.5h1M116.4 1172.6h1M111.0 1180.0h1M137.0 1154.1h1M113.3 1140.8h1M133.9 1170.5h1M143.7 1165.4h1M128.3 1158.0h1M107.6 1169.8h1M118.9 1161.2h1M113.5 1167.9h1M101.9 1146.8h1M136.7 1169.1h1M111.0 1164.8h1M127.8 1174.3h1M136.8 1174.2h1M116.0 1185.4h1M123.4 1170.3h1M130.7 1179.9h1M136.6 1141.6h1M105.3 1160.3h1M113.4 1173.7h1M142.3 1177.8h1M110.2 1168.2h1M135.0 1170.7h1M134.9 1194.5h1M133.4 1167.1h1M130.4 1165.8h1M118.3 1161.9h1M111.7 1149.9h1M124.2 1151.1h1M115.5 1153.8h1M108.9 1129.2h1M131.2 1178.3h1M125.8 1153.3h1M137.2 1166.4h1M105.9 1160.9h1M123.8 1151.2h1M129.8 1144.2h1M123.3 1170.7h1M99.4 1168.9h1M133.9 1151.6h1M108.6 1159.5h1M123.0 1159.5h1M119.1 1148.0h1M100.3 1152.9h1M134.7 1171.0h1M131.9 1159.3h1M115.5 1155.5h1M125.0 1145.0h1M127.4 1167.0h1M115.2 1172.7h1M131.8 1134.6h1M117.9 1160.3h1M94.0 1169.3h1M134.9 1168.1h1M121.1 1179.2h1M123.9 1165.5h1M128.9 1175.5h1M101.8 1172.9h1M127.2 1178.9h1M125.6 1160.8h1M114.5 1162.4h1M115.7 1168.1h1M123.5 1152.8h1M131.5 1161.1h1M118.1 1178.5h1M128.5 1167.2h1M113.7 1177.3h1M130.2 1147.6h1M119.4 1177.0h1M134.9 1160.7h1M125.7 1164.2h1M93.8 1170.6h1M141.0 1155.3h1M124.4 1173.6h1M126.1 1174.5h1M123.4 1159.0h1M114.4 1160.9h1M106.8 1147.6h1M124.1 1151.0h1M124.7 1160.8h1M121.0 1168.5h1M117.2 1149.4h1M119.6 1159.5h1M139.5 1174.1h1M106.3 1140.3h1M107.6 1168.6h1M99.9 1172.6h1M118.9 1175.4h1M125.8 1150.7h1M117.8 1164.2h1M137.3 1158.6h1M115.6 1163.3h1M113.2 1168.0h1M127.6 1172.5h1M112.1 1175.6h1M158.2 1178.8h1M124.0 1160.6h1M103.5 1167.5h1M148.4 1168.4h1M127.6 1161.1h1M108.5 1190.2h1M118.6 1181.2h1M123.4 1161.0h1M111.9 1163.5h1M125.3 1157.7h1M121.7 1159.7h1M111.9 1153.5h1M156.0 1146.4h1M131.5 1145.3h1M111.0 1173.2h1M104.7 1171.1h1M141.1 1159.3h1M132.5 1174.1h1M96.9 1156.9h1M117.6 1172.9h1M117.2 1146.6h1M106.1 1162.7h1M123.7 1167.2h1M108.9 1167.8h1M121.4 1150.0h1M106.9 1188.0h1M130.2 1157.5h1M130.0 1153.3h1M144.1 1168.8h1M94.5 1157.3h1M119.7 1163.4h1M108.0 1173.6h1M124.9 1179.5h1M125.5 1179.7h1M142.6 1163.4h1M126.5 1173.4h1M128.8 1160.9h1M152.4 1176.5h1M129.2 1147.6h1M109.3 1159.9h1M108.8 1144.6h1M130.7 1170.5h1M115.7 1161.9h1M137.0 1172.9h1M145.8 1159.8h1M118.4 1171.9h1M146.1 1160.3h1M118.8 1159.2h1M137.1 1176.6h1M110.6 1175.0h1M132.7 1177.7h1M117.0 1161.5h1M129.6 1168.6h1M110.8 1171.3h1M130.6 1159.4h1M128.3 1175.9h1M123.2 1163.2h1M110.1 1161.5h1M114.3 1150.3h1M135.1 1167.8h1M127.2 1164.6h1M140.2 1141.7h1M142.6 1156.7h1M111.8 1152.7h1M112.2 1160.5h1M132.7 1152.4h1M133.1 1156.1h1M123.0 1179.1h1M118.9 1148.7h1M124.0 1166.9h1M118.4 1157.3h1M130.9 1151.0h1M121.4 1152.6h1M130.7 1157.1h1M127.5 1161.8h1M122.1 1151.9h1M138.8 1155.9h1M121.4 1147.0h1M124.0 1152.3h1M109.7 1174.3h1M132.6 1165.6h1M125.5 1169.1h1M122.9 1164.7h1M110.8 1157.6h1M121.0 1131.5h1M108.0 1151.9h1M148.3 1143.2h1M99.6 1170.4h1M110.6 1168.0h1M122.4 1181.8h1M122.9 1172.5h1M120.9 1162.8h1M123.2 1161.5h1M140.8 1181.1h1M123.4 1159.5h1M125.4 1174.2h1M132.1 1163.0h1M103.2 1189.9h1M141.3 1168.0h1M127.2 1178.4h1M143.9 1163.5h1M127.0 1160.0h1M147.4 1157.9h1M117.8 1174.9h1M130.9 1162.2h1M133.8 1165.9h1M123.0 1166.5h1M130.4 1165.0h1M129.3 1164.3h1M129.9 1151.2h1M144.4 1174.6h1M127.2 1169.5h1M145.9 1168.2h1M107.4 1167.1h1M98.6 1160.3h1M141.3 1149.5h1M104.1 1158.3h1M128.2 1185.4h1M120.2 1161.7h1M108.3 1187.5h1M121.4 1167.9h1M136.2 1160.9h1M112.4 1156.9h1M122.3 1172.6h1M136.2 1156.3h1M118.9 1145.9h1M123.7 1188.1h1M128.9 1158.7h1M142.2 1167.8h1M137.7 1181.5h1M108.0 1163.2h1M120.5 1177.1h1M122.1 1164.0h1M98.2 1156.7h1M116.0 1150.4h1M125.3 1158.9h1M125.8 1173.2h1M128.4 1162.7h1M127.3 1149.1h1M118.5 1155.7h1M146.8 1147.4h1M118.6 1168.8h1M117.2 1170.1h1M108.9 1174.2h1M125.8 1136.4h1M105.6 1147.3h1M120.0 1158.1h1M127.3 1169.8h1M130.6 1167.8h1M113.0 1144.7h1M108.1 1166.7h1M111.0 1147.9h1M112.3 1166.9h1M106.7 1159.9h1M132.1 1172.1h1M101.9 1161.8h1M116.1 1191.6h1M120.0 1145.5h1M115.3 1161.9h1M117.2 1170.7h1M118.2 1162.7h1M165.5 1167.4h1M133.5 1162.5h1M92.7 1182.2h1M117.4 1170.3h1M105.5 1163.6h1M136.6 1149.1h1M146.9 1173.9h1M127.9 1158.9h1M134.8 1137.9h1M138.7 1138.6h1M116.7 1178.0h1M127.2 1139.7h1M102.3 1146.9h1M116.4 1152.0h1M135.1 1157.9h1M144.9 1178.2h1M107.6 1177.4h1M139.5 1148.3h1M118.9 1152.1h1M110.5 1161.4h1M126.9 1152.3h1M102.9 1169.7h1M139.7 1175.8h1M105.3 1156.0h1M119.1 1153.9h1M136.3 1151.3h1M119.3 1166.5h1M123.9 1165.1h1M121.3 1168.3h1M127.0 1162.7h1M130.0 1167.0h1M131.9 1167.8h1M128.7 1166.4h1M112.4 1156.3h1M119.3 1154.0h1M117.1 1154.1h1M114.4 1166.0h1M160.4 1185.1h1M123.0 1162.9h1M119.8 1159.3h1M130.2 1167.2h1M126.6 1173.1h1M117.5 1170.9h1M125.1 1150.4h1M138.7 1151.0h1M132.9 1153.5h1M114.4 1175.5h1M128.1 1162.0h1M113.3 1141.6h1M116.9 1160.0h1M134.1 1161.9h1M135.5 1155.6h1M134.4 1172.0h1M120.0 1171.9h1M143.8 1145.7h1M106.8 1154.0h1M116.0 1150.7h1M124.9 1145.7h1M145.5 1161.0h1M125.6 1159.8h1M116.0 1163.4h1M121.3 1166.4h1M132.3 1152.3h1M101.1 1154.1h1M126.1 1138.0h1M128.6 1163.3h1M106.6 1164.6h1M134.6 1160.9h1M129.1 1168.9h1M137.6 1176.1h1M113.9 1159.4h1M123.5 1150.2h1M124.6 1166.4h1M127.0 1139.8h1M115.2 1132.6h1M124.3 1161.7h1M132.8 1172.6h1M111.4 1160.9h1M125.1 1171.2h1M137.4 1159.8h1M104.9 1171.4h1M120.5 1140.6h1M125.3 1151.9h1M123.5 1176.2h1M122.3 1152.5h1M128.3 1158.6h1M124.3 1173.8h1M125.9 1167.7h1M122.4 1163.4h1M110.3 1153.0h1M135.8 1177.5h1M109.6 1169.9h1M134.0 1152.6h1M131.7 1168.8h1M137.9 1182.6h1M123.4 1166.6h1M112.2 1165.3h1M123.5 1159.5h1M124.8 1172.3h1M134.7 1171.0h1M145.3 1145.3h1M121.4 1161.1h1M118.4 1156.8h1M106.0 1158.3h1M138.3 1156.9h1M122.9 1167.1h1M123.2 1150.8h1M117.0 1175.8h1M114.9 1147.6h1M146.7 1163.7h1M109.7 1141.4h1M114.0 1146.7h1M121.5 1173.0h1M132.9 1157.8h1M131.2 1157.1h1M91.9 1170.3h1M113.3 1150.8h1M135.5 1162.7h1M134.0 1173.4h1M132.6 1160.7h1M148.7 1150.3h1M135.2 1184.1h1M121.2 1155.0h1M133.7 1175.0h1M130.3 1154.6h1M125.3 1145.0h1M136.6 1175.4h1M121.1 1169.1h1M119.8 1162.8h1M125.4 1159.7h1M159.5 1158.6h1M136.0 1151.7h1M126.8 1161.7h1M113.2 1171.9h1M133.0 1177.6h1M128.6 1150.1h1M133.5 1165.7h1M146.1 1134.4h1M121.4 1163.3h1M136.3 1148.3h1M137.3 1165.6h1M98.1 1189.7h1M97.1 1150.0h1M113.0 1167.5h1M117.7 1161.1h1M114.0 1167.9h1M105.1 1176.7h1M77.9 1157.3h1M88.2 1159.5h1M93.6 1168.0h1M87.9 1158.0h1M110.2 1173.8h1M117.4 1178.9h1M86.5 1173.6h1M103.9 1162.4h1M102.8 1158.0h1M82.1 1161.1h1M77.4 1159.9h1M96.3 1155.2h1M86.6 1147.7h1M81.5 1162.4h1M87.6 1164.2h1M87.7 1159.1h1M75.7 1176.2h1M92.4 1170.0h1M86.1 1153.9h1M98.6 1159.6h1M94.5 1168.0h1M102.5 1169.2h1M97.7 1148.0h1M101.1 1174.9h1M100.0 1171.1h1M101.2 1167.2h1M102.5 1151.3h1M70.0 1163.6h1M102.7 1167.3h1M92.1 1159.3h1M83.0 1165.7h1M99.3 1168.7h1M94.0 1173.0h1M86.8 1171.8h1M85.9 1174.2h1M106.9 1155.3h1M101.8 1155.3h1M117.1 1171.6h1M96.5 1166.0h1M94.9 1159.4h1M82.3 1162.5h1M107.5 1165.8h1M109.0 1171.1h1M101.8 1156.0h1M83.8 1160.1h1M69.2 1150.8h1M96.4 1173.7h1M121.6 1164.5h1M106.9 1165.9h1M84.9 1170.5h1M95.0 1168.0h1M73.3 1160.5h1M107.2 1161.4h1M95.4 1170.0h1M113.0 1174.0h1M97.1 1158.9h1M106.9 1158.1h1M80.9 1156.8h1M94.9 1157.5h1M85.7 1171.0h1M81.9 1153.6h1M96.2 1168.2h1M89.3 1155.5h1M124.7 1159.9h1M127.6 1157.4h1M111.1 1153.6h1M115.3 1167.6h1M98.9 1158.9h1M114.9 1174.1h1M96.7 1165.2h1M88.1 1168.8h1M92.5 1167.9h1M72.7 1167.1h1M108.4 1165.0h1M115.2 1157.6h1M110.3 1164.8h1M97.4 1167.3h1M112.7 1149.8h1M97.1 1163.0h1M105.9 1163.7h1M91.0 1165.7h1M106.5 1158.4h1M98.6 1162.8h1M89.5 1163.8h1M120.2 1160.0h1M103.4 1168.0h1M110.9 1161.1h1M81.7 1169.5h1M72.2 1165.8h1M108.2 1168.6h1M97.5 1162.0h1M90.4 1170.7h1M76.5 1154.3h1M90.1 1162.1h1M102.4 1161.5h1M97.0 1159.4h1M109.0 1170.2h1M76.3 1172.2h1M100.3 1164.4h1M106.4 1167.3h1M98.5 1167.1h1M75.1 1166.9h1M98.1 1155.2h1M89.7 1168.1h1M90.8 1155.8h1M93.3 1159.2h1M97.5 1172.9h1M120.6 1163.6h1M101.9 1155.8h1M104.5 1167.6h1M88.6 1169.2h1M88.9 1164.7h1M99.4 1164.2h1M100.0 1167.1h1M89.2 1165.3h1M104.6 1171.4h1M86.1 1160.4h1M90.9 1153.5h1M101.3 1178.4h1M89.0 1161.1h1M91.3 1163.0h1M86.1 1178.6h1M84.0 1168.9h1M107.7 1164.7h1M113.3 1150.4h1M61.3 1168.7h1M100.8 1162.5h1M98.9 1157.6h1M84.2 1157.5h1M96.4 1168.2h1M119.1 1161.6h1M76.2 1170.7h1M91.3 1155.6h1M104.3 1148.9h1M80.7 1178.0h1M89.8 1167.4h1M111.5 1153.9h1M97.7 1172.6h1M106.3 1174.5h1M125.8 1179.5h1M104.4 1158.7h1M106.2 1158.4h1M74.5 1152.1h1M96.4 1163.1h1M89.3 1172.2h1M94.3 1157.7h1M95.8 1163.2h1M103.2 1163.2h1M106.8 1160.1h1M94.3 1168.1h1M86.7 1165.2h1M98.1 1171.6h1M66.7 1173.6h1M91.9 1164.1h1M112.7 1167.6h1M79.2 1161.2h1M104.7 1161.3h1M100.3 1170.4h1M119.3 1158.2h1M76.9 1157.7h1M90.4 1171.3h1M98.9 1173.5h1M98.2 1153.0h1M100.6 1158.4h1M99.6 1150.8h1M105.1 1155.4h1M91.0 1170.4h1M93.1 1156.5h1M113.4 1160.9h1M107.5 1162.8h1M74.4 1162.0h1M100.4 1162.3h1M115.7 1150.3h1M87.2 1168.5h1M109.3 1170.3h1M84.5 1166.2h1M101.9 1177.7h1M121.6 1167.4h1M103.5 1169.5h1M94.6 1165.8h1M100.4 1164.7h1M103.9 1163.7h1M89.1 1172.4h1M107.0 1157.8h1M103.0 1156.8h1M99.7 1158.0h1M88.7 1166.9h1M85.0 1169.5h1M115.0 1161.6h1M86.9 1166.7h1M93.1 1151.7h1M121.6 1159.7h1M117.8 1170.5h1M103.9 1166.7h1M92.0 1168.5h1M88.8 1166.7h1M85.5 1163.9h1M61.6 1159.3h1M100.3 1164.2h1M99.5 1167.7h1M116.4 1159.5h1M52.9 1167.6h1M98.3 1163.6h1M104.4 1176.0h1M99.4 1156.3h1M104.6 1158.1h1M77.8 1155.2h1M95.9 1152.7h1M91.3 1167.1h1M68.6 1173.2h1M119.6 1162.3h1M94.7 1161.6h1M60.5 1165.0h1M77.7 1162.3h1M83.0 1156.6h1M87.0 1155.3h1M69.5 1172.7h1M82.7 1170.6h1M104.6 1161.1h1M96.2 1163.9h1M101.7 1166.7h1M92.3 1163.1h1M107.8 1157.1h1M75.8 1147.1h1M91.3 1171.0h1M120.3 1158.8h1M97.6 1156.7h1M96.9 1162.1h1M106.3 1169.6h1M100.7 1164.1h1M106.0 1161.9h1M110.9 1175.0h1M105.6 1176.8h1M88.3 1167.3h1M98.8 1157.8h1M99.6 1162.3h1M101.2 1164.6h1M104.0 1161.0h1M95.7 1170.6h1M111.0 1164.8h1M75.0 1170.6h1M103.2 1155.1h1M72.2 1151.1h1M76.7 1177.4h1M90.4 1162.3h1M104.4 1175.0h1M97.5 1162.9h1M107.9 1173.8h1M98.8 1159.2h1M83.0 1170.2h1M84.2 1159.1h1M70.0 1153.9h1M102.9 1159.0h1M104.7 1162.2h1M89.2 1170.7h1M97.1 1160.9h1M113.5 1155.8h1M82.2 1163.7h1M95.2 1148.7h1M92.0 1161.5h1M85.2 1165.1h1M70.2 1166.8h1M107.7 1181.1h1M80.0 1170.9h1M85.9 1150.7h1M95.2 1157.0h1M88.4 1156.8h1M101.0 1162.1h1M100.4 1165.2h1M100.6 1163.8h1M81.2 1168.7h1M90.9 1163.9h1M97.1 1164.4h1M87.5 1158.8h1M84.5 1161.0h1M103.9 1156.3h1M98.7 1177.0h1M78.5 1163.9h1M99.1 1161.5h1M88.8 1169.1h1M94.0 1165.2h1M82.1 1173.1h1M118.5 1161.2h1M100.4 1159.2h1M110.0 1166.8h1M98.2 1162.6h1M84.0 1165.2h1M99.7 1149.1h1M96.8 1148.9h1M113.7 1164.4h1M101.3 1157.4h1M117.1 1166.4h1M96.8 1162.1h1M85.6 1160.5h1M91.6 1154.0h1M108.5 1151.1h1M100.3 1173.3h1M98.4 1166.2h1M90.5 1155.3h1M116.2 1152.0h1M100.5 1154.7h1M102.0 1168.4h1M109.3 1163.6h1M95.9 1160.9h1M95.8 1162.8h1M105.2 1161.9h1M93.2 1181.3h1M81.6 1164.3h1M124.9 1153.2h1M112.4 1165.0h1M108.0 1168.7h1M78.2 1170.7h1M91.6 1151.6h1M101.3 1155.3h1M93.4 1165.7h1M78.0 1169.6h1M104.6 1164.3h1M106.3 1162.7h1M113.4 1160.0h1M98.0 1168.8h1M101.2 1151.3h1M91.9 1172.4h1M89.4 1151.7h1M100.7 1155.7h1M110.5 1158.3h1M67.1 1153.6h1M82.7 1157.8h1M98.9 1163.8h1M106.1 1156.9h1M89.6 1166.2h1M101.1 1169.8h1M77.7 1164.7h1M100.4 1167.3h1M91.8 1165.2h1M75.1 1155.3h1M108.8 1156.4h1M99.1 1180.4h1M76.2 1155.3h1M96.9 1165.5h1M97.0 1164.4h1M81.0 1160.7h1M106.9 1154.8h1M92.9 1163.0h1M105.9 1157.9h1M110.9 1165.5h1M98.5 1161.4h1M87.7 1153.8h1M104.2 1163.0h1M105.0 1169.1h1M84.9 1164.1h1M87.4 1148.6h1M106.8 1164.0h1M96.4 1172.7h1M81.9 1172.2h1M89.4 1165.9h1M96.1 1156.6h1M78.3 1171.4h1M90.3 1166.2h1M89.8 1165.0h1M93.0 1162.6h1M105.0 1176.1h1M83.6 1158.6h1M99.7 1160.5h1M94.3 1169.3h1M95.2 1155.1h1M105.5 1164.5h1M100.6 1164.4h1M73.6 1172.9h1M86.5 1172.2h1M81.0 1163.9h1M98.6 1158.5h1M100.5 1167.4h1M89.0 1168.2h1M96.3 1168.3h1M85.9 1158.4h1M89.8 1159.3h1M90.7 1167.4h1M99.5 1157.4h1M93.0 1166.9h1M57.7 1129.5h1M60.8 1123.0h1M55.1 1125.1h1M71.7 1129.2h1M68.9 1127.3h1M50.7 1127.5h1M73.5 1134.2h1M60.1 1136.5h1M65.0 1127.6h1M59.3 1136.4h1M61.0 1116.6h1M68.1 1120.0h1M62.4 1144.0h1M68.3 1129.8h1M63.0 1131.7h1M51.6 1147.4h1M56.8 1136.7h1M65.1 1151.3h1M81.2 1138.2h1M62.6 1145.4h1M73.8 1115.7h1M65.7 1126.3h1M77.9 1150.2h1M57.4 1129.6h1M56.9 1139.2h1M74.1 1117.3h1M67.6 1124.7h1M69.3 1145.4h1M80.1 1139.2h1M59.2 1142.4h1M70.4 1127.8h1M80.0 1148.6h1M87.1 1134.7h1M62.1 1131.3h1M66.4 1124.5h1M51.8 1152.2h1M72.8 1138.2h1M75.4 1127.5h1M62.4 1131.5h1M79.2 1132.4h1M68.2 1128.9h1M69.8 1139.9h1M65.6 1129.4h1M84.0 1123.5h1M58.4 1141.2h1M55.6 1123.1h1M69.9 1143.3h1M87.8 1154.2h1M70.1 1154.0h1M53.5 1131.8h1M50.7 1148.6h1M59.8 1135.7h1M61.7 1135.9h1M62.3 1140.9h1M75.7 1129.7h1M65.1 1130.7h1M57.6 1150.8h1M71.3 1144.9h1M54.1 1131.9h1M85.6 1119.4h1M62.4 1142.7h1M73.6 1131.7h1M68.7 1132.6h1M61.3 1148.0h1M66.4 1131.4h1M65.7 1135.3h1M70.0 1145.1h1M65.4 1138.5h1M62.5 1127.6h1M84.5 1129.0h1M82.7 1117.7h1M82.5 1121.5h1M64.8 1134.4h1M65.7 1133.5h1M58.5 1142.3h1M62.6 1122.2h1M73.7 1138.8h1M59.0 1119.6h1M75.3 1134.8h1M63.8 1126.3h1M54.2 1148.4h1M69.5 1125.5h1M71.5 1136.6h1M67.0 1114.9h1M70.6 1140.8h1M54.8 1139.1h1M63.3 1135.7h1M55.3 1141.8h1M65.6 1132.6h1M68.4 1122.3h1M70.0 1152.0h1M71.9 1133.3h1M56.7 1135.8h1M65.0 1130.3h1M60.4 1132.4h1M71.8 1134.3h1M69.1 1136.4h1M72.6 1132.0h1M65.6 1144.0h1M70.9 1150.0h1M51.2 1135.1h1M58.7 1136.2h1M68.8 1138.0h1M56.2 1141.1h1M75.2 1135.4h1M66.7 1149.7h1M74.8 1128.6h1M77.0 1138.6h1M56.3 1126.8h1M65.7 1143.4h1M64.9 1128.9h1M62.6 1126.8h1M61.2 1152.5h1M66.4 1121.7h1M64.6 1126.2h1M54.9 1124.2h1M83.1 1124.0h1M57.7 1131.9h1M76.2 1157.0h1M71.3 1138.3h1M62.0 1131.6h1M79.0 1126.2h1M71.9 1123.6h1M64.3 1131.8h1M74.0 1113.8h1M66.6 1141.9h1M51.4 1144.1h1M71.2 1131.3h1M79.0 1127.5h1M76.2 1148.0h1M64.3 1135.8h1M61.1 1135.9h1M70.2 1128.7h1M65.2 1137.3h1M53.2 1134.4h1M66.9 1150.2h1M70.3 1130.2h1M64.5 1140.3h1M55.7 1138.7h1M57.4 1144.2h1M75.9 1125.2h1M73.4 1142.1h1M53.6 1130.0h1M64.7 1143.8h1M58.9 1146.0h1M75.8 1132.2h1M62.8 1136.3h1M69.8 1139.4h1M51.6 1127.7h1M50.9 1146.3h1M74.4 1132.0h1M71.9 1122.1h1M65.6 1139.0h1M54.1 1144.0h1M64.4 1129.8h1M55.2 1144.4h1M66.8 1127.6h1M59.9 1125.0h1M77.0 1128.9h1M82.6 1129.7h1M56.4 1130.9h1M64.2 1141.6h1M89.3 1153.4h1M71.9 1118.8h1M80.6 1153.4h1M51.2 1131.3h1M69.5 1156.8h1M75.0 1135.6h1M53.4 1127.5h1M51.5 1139.7h1M85.0 1136.3h1M74.4 1126.3h1M53.5 1137.0h1M66.4 1122.9h1M70.2 1158.1h1M73.9 1148.6h1M57.4 1131.5h1M65.0 1139.1h1M54.2 1126.0h1M75.5 1140.6h1M83.0 1151.3h1M69.5 1126.6h1M58.9 1123.5h1M74.2 1144.6h1M80.0 1128.3h1M77.9 1127.8h1M65.8 1127.5h1M70.0 1135.6h1M66.2 1109.6h1M69.7 1143.8h1M74.8 1120.3h1M65.6 1129.4h1M54.8 1125.8h1M54.2 1125.5h1M69.7 1114.6h1M82.2 1147.2h1M67.0 1143.3h1M79.9 1127.2h1M61.2 1143.6h1M68.6 1152.5h1M53.3 1119.6h1M63.3 1134.2h1M60.2 1140.1h1M58.5 1139.4h1M53.8 1151.2h1M73.8 1135.4h1M57.1 1129.7h1M55.9 1117.8h1M55.4 1146.3h1M61.7 1144.1h1M66.8 1128.2h1M53.7 1129.5h1M65.6 1125.1h1M58.1 1121.4h1M79.0 1116.6h1M69.9 1120.4h1M61.4 1153.0h1M57.6 1138.1h1M54.0 1152.7h1M77.9 1149.7h1M57.5 1116.1h1M52.6 1116.7h1M76.7 1136.1h1M62.9 1124.1h1M69.3 1130.1h1M59.7 1135.9h1M54.5 1117.0h1M75.6 1152.5h1M61.1 1143.4h1M64.8 1151.4h1M56.3 1109.1h1M72.6 1121.4h1M89.8 1137.1h1M75.3 1121.4h1M63.6 1135.5h1M66.6 1138.8h1M60.0 1155.0h1M79.4 1111.7h1M58.7 1120.2h1M53.7 1127.6h1M77.6 1148.0h1M69.9 1128.1h1M82.5 1140.5h1M78.0 1134.3h1M71.3 1141.8h1M54.7 1114.2h1M65.3 1121.9h1M74.3 1121.1h1M69.7 1118.7h1M84.9 1135.7h1M52.6 1133.0h1M66.1 1105.6h1M53.4 1136.7h1M56.1 1129.0h1M79.5 1146.6h1M66.5 1137.8h1M81.1 1137.2h1M52.1 1124.2h1M65.2 1132.4h1M63.8 1141.5h1M62.3 1135.5h1M72.1 1127.5h1M62.1 1129.7h1M53.1 1123.8h1M69.3 1134.1h1M72.2 1143.3h1M77.3 1134.4h1M70.7 1131.0h1M54.4 1132.0h1M69.3 1135.9h1M58.3 1125.2h1M58.5 1128.5h1M61.7 1138.8h1M63.5 1108.7h1M72.1 1127.8h1M84.5 1153.2h1M74.8 1130.6h1M63.9 1117.1h1M79.4 1127.8h1M74.9 1137.3h1M83.9 1135.2h1M65.1 1127.6h1M57.6 1144.0h1M77.0 1136.2h1M88.0 1137.3h1M73.3 1125.0h1M71.8 1132.3h1M79.5 1132.5h1M76.4 1119.8h1M64.6 1137.5h1M73.0 1122.8h1M56.8 1127.6h1M60.0 1126.5h1M66.9 1117.9h1M68.9 1122.4h1M59.4 1125.9h1M72.9 1134.9h1M59.4 1137.1h1M54.6 1135.5h1M66.7 1133.6h1M51.9 1137.0h1M70.5 1137.3h1M60.1 1144.3h1M83.2 1146.3h1M67.7 1151.5h1M57.2 1114.0h1M56.2 1125.7h1M58.6 1131.5h1M68.0 1129.7h1M54.6 1129.5h1M69.7 1122.2h1M61.3 1169.3h1M67.6 1126.5h1M61.5 1126.1h1M72.2 1156.9h1M69.3 1126.8h1M67.0 1162.1h1M55.9 1126.0h1M59.9 1128.3h1M61.9 1141.4h1M54.7 1120.6h1M61.5 1118.4h1M68.3 1128.2h1M69.1 1138.6h1M72.7 1130.4h1M70.0 1126.8h1M66.7 1142.3h1M82.1 1137.7h1M60.1 1127.0h1M53.2 1141.6h1M77.2 1124.8h1M60.4 1131.3h1M70.1 1125.7h1M70.7 1137.1h1M78.8 1125.7h1M79.1 1128.3h1M65.1 1147.1h1M59.9 1120.5h1M71.8 1129.5h1M58.0 1141.6h1M64.1 1124.4h1M65.9 1118.0h1M76.1 1122.0h1M65.4 1159.5h1M62.4 1133.0h1M51.4 1150.0h1M67.2 1135.4h1M63.3 1128.2h1M58.2 1108.8h1M53.9 1156.5h1M68.4 1142.2h1M52.6 1146.9h1M59.7 1129.1h1M66.6 1131.5h1M71.3 1121.3h1M65.9 1120.1h1M88.3 1116.1h1M78.6 1146.4h1M62.5 1131.2h1M63.4 1138.2h1M70.6 1138.0h1M72.5 1136.6h1M56.1 1139.7h1M59.0 1121.4h1M68.4 1130.6h1M64.9 1137.8h1M51.9 1130.5h1M58.6 1132.2h1M76.0 1122.7h1M61.0 1128.7h1M68.2 1115.6h1M71.3 1126.4h1M78.8 1146.1h1M61.6 1126.1h1M60.4 1125.2h1M74.4 1154.1h1M52.3 1124.0h1M66.2 1135.3h1M69.1 1119.0h1M72.8 1129.2h1M132.6 1100.4h1M110.3 1108.2h1M123.4 1097.9h1M110.7 1099.1h1M139.2 1110.4h1M133.5 1098.0h1M127.5 1103.6h1M119.2 1099.4h1M128.2 1095.4h1M122.9 1094.2h1M118.8 1098.4h1M130.0 1105.9h1M118.1 1102.8h1M141.9 1086.8h1M124.3 1091.6h1M139.3 1105.3h1M131.2 1104.3h1M107.7 1110.1h1M122.7 1100.8h1M109.4 1102.4h1M107.5 1091.1h1M151.7 1100.2h1M150.9 1112.1h1M140.1 1088.1h1M144.2 1102.6h1M119.4 1116.6h1M135.4 1107.9h1M114.0 1099.8h1M133.0 1101.4h1M104.4 1103.2h1M125.3 1099.8h1M129.4 1098.3h1M140.8 1090.0h1M117.8 1105.8h1M136.7 1113.2h1M137.2 1093.7h1M135.7 1099.4h1M141.4 1108.8h1M116.3 1100.0h1M127.8 1093.6h1M109.1 1099.3h1M134.0 1111.8h1M131.1 1103.3h1M121.3 1111.5h1M110.6 1105.7h1M137.8 1111.8h1M116.8 1095.2h1M121.7 1107.5h1M131.0 1101.7h1M136.0 1101.8h1M123.9 1114.0h1M121.8 1104.1h1M118.0 1105.5h1M119.3 1107.0h1M123.4 1101.7h1M151.5 1106.7h1M136.5 1099.4h1M122.3 1107.6h1M135.3 1104.9h1M138.3 1087.0h1M126.9 1109.9h1M133.1 1110.1h1M115.6 1105.7h1M117.2 1091.0h1M145.2 1107.0h1M143.0 1097.4h1M125.1 1097.2h1M139.7 1098.2h1M119.5 1099.3h1M120.5 1097.5h1M146.1 1094.2h1M116.2 1092.6h1M138.7 1095.8h1M134.2 1112.0h1M130.4 1114.9h1M119.4 1119.4h1M135.6 1091.9h1M132.8 1099.4h1M142.3 1093.1h1M136.5 1091.5h1M132.2 1090.1h1M98.5 1105.1h1M112.5 1110.2h1M127.0 1097.6h1M137.6 1115.1h1M121.2 1097.1h1M126.5 1093.8h1M121.6 1094.7h1M142.9 1094.1h1M141.0 1109.6h1M122.4 1101.3h1M115.2 1113.0h1M119.8 1103.5h1M120.8 1102.1h1M132.6 1105.4h1M138.1 1102.2h1M132.3 1090.9h1M121.6 1089.0h1M135.8 1101.9h1M111.5 1097.6h1M130.2 1112.2h1M120.0 1104.6h1M112.0 1118.6h1M112.8 1107.5h1M124.5 1096.4h1M139.6 1116.0h1M136.8 1102.5h1M137.3 1097.7h1M121.6 1094.0h1M121.0 1099.8h1M127.9 1096.6h1M120.1 1083.5h1M143.1 1108.2h1M131.6 1103.1h1M111.8 1093.0h1M121.6 1098.3h1M130.2 1097.7h1M99.5 1106.9h1M119.5 1105.1h1M124.0 1106.9h1M133.3 1098.2h1M128.7 1102.4h1M126.2 1092.6h1M118.5 1101.8h1M122.4 1087.3h1M134.4 1101.9h1M122.7 1095.6h1M117.3 1102.0h1M141.0 1110.3h1M126.0 1102.6h1M128.2 1107.4h1M137.6 1107.9h1M125.5 1109.1h1M104.4 1094.2h1M130.8 1107.5h1M117.2 1108.6h1M123.3 1100.8h1M125.0 1098.7h1M137.2 1098.9h1M118.0 1107.2h1M113.2 1101.6h1M116.9 1101.0h1M108.7 1098.8h1M107.3 1103.5h1M127.6 1094.9h1M109.9 1095.8h1M115.8 1112.1h1M134.0 1096.8h1M134.2 1103.9h1M112.3 1090.4h1M117.7 1092.7h1M117.1 1097.7h1M129.3 1089.0h1M147.2 1098.3h1M114.4 1096.0h1M114.5 1109.7h1M115.7 1084.5h1M116.8 1105.5h1M112.9 1101.2h1M140.4 1107.7h1M112.7 1107.2h1M125.7 1099.2h1M147.6 1096.6h1M133.3 1098.7h1M117.6 1091.8h1M131.0 1103.5h1M144.4 1095.8h1M140.0 1098.3h1M111.4 1103.5h1M135.4 1099.8h1M139.1 1113.8h1M143.0 1103.4h1M116.5 1113.7h1M129.1 1099.0h1M113.0 1105.4h1M146.1 1105.7h1M115.5 1103.2h1M121.6 1105.0h1M145.5 1090.0h1M129.0 1099.2h1M129.0 1099.4h1M115.2 1111.6h1M122.3 1098.9h1M137.8 1107.2h1M137.2 1096.9h1M122.4 1106.8h1M118.6 1094.4h1M114.9 1097.4h1M109.7 1097.4h1M120.1 1107.9h1M114.0 1100.4h1M120.5 1095.8h1M113.2 1101.1h1M132.7 1101.8h1M110.4 1109.4h1M126.4 1101.0h1M109.6 1099.0h1M145.9 1103.8h1M124.8 1116.0h1M139.0 1099.7h1M115.5 1095.0h1M123.9 1097.2h1M132.5 1096.0h1M136.8 1093.2h1M107.6 1109.9h1M114.9 1103.3h1M132.2 1102.8h1M139.0 1106.6h1M126.0 1101.7h1M140.7 1101.8h1M136.0 1107.0h1M119.1 1105.7h1M157.7 1095.1h1M135.7 1087.6h1M122.9 1098.8h1M131.5 1103.0h1M111.3 1093.3h1M124.7 1097.1h1M123.2 1102.8h1M125.6 1111.8h1M129.3 1104.3h1M117.1 1111.5h1M138.3 1103.0h1M123.9 1104.8h1M138.3 1108.8h1M118.9 1107.9h1M125.8 1097.0h1M122.4 1107.3h1M146.1 1099.5h1M120.3 1102.6h1M129.1 1124.2h1M141.1 1129.9h1M115.4 1088.6h1M103.8 1100.9h1M125.4 1133.8h1M143.4 1087.5h1M111.0 1123.0h1M133.6 1132.1h1M96.6 1093.7h1M139.7 1110.7h1M122.1 1086.9h1M137.9 1106.8h1M129.1 1089.9h1M130.4 1103.3h1M97.1 1109.4h1M147.1 1122.4h1M85.4 1088.6h1M135.5 1115.5h1M109.6 1142.7h1M145.2 1146.3h1M87.8 1107.3h1M141.1 1132.9h1M99.9 1140.1h1M143.3 1145.1h1M133.7 1088.1h1M89.0 1141.6h1M110.7 1107.0h1M131.3 1122.5h1M105.8 1109.9h1M110.2 1145.7h1M93.8 1113.8h1M113.7 1139.8h1M127.1 1134.9h1M113.1 1103.6h1M100.9 1145.9h1M94.0 1136.5h1M88.1 1100.1h1M100.4 1145.6h1M129.5 1117.5h1M146.7 1091.8h1M132.7 1121.2h1M118.4 1102.4h1M109.9 1092.3h1M87.5 1127.0h1M140.9 1094.6h1M114.2 1125.0h1M132.4 1098.5h1M108.8 1112.6h1M146.3 1095.3h1M137.1 1134.2h1M101.5 1123.1h1M110.2 1090.3h1M107.0 1090.4h1M126.2 1134.9h1M89.8 1110.2h1M140.2 1122.7h1M141.4 1087.7h1M122.3 1145.4h1M97.9 1133.3h1M103.7 1133.8h1M111.3 1117.6h1M129.4 1117.7h1M141.2 1113.3h1M95.8 1109.5h1M124.5 1108.9h1M123.8 1085.8h1M88.3 1137.5h1M114.4 1097.1h1M121.9 1086.8h1M90.2 1112.9h1M104.7 1103.3h1M90.1 1114.7h1M104.4 1130.6h1M142.8 1133.5h1M92.1 1115.7h1M94.4 1105.4h1M124.9 1088.3h1M92.5 1148.0h1M106.3 1145.8h1M86.0 1100.8h1M94.7 1131.8h1M98.0 1092.3h1M142.3 1132.6h1M113.2 1128.5h1M145.6 1130.2h1M140.0 1096.0h1M130.9 1085.5h1M141.5 1146.4h1M127.9 1126.2h1M99.2 1141.0h1M125.9 1147.9h1M146.1 1096.4h1M112.0 1085.4h1M132.0 1088.5h1M114.6 1090.4h1M123.0 1098.6h1M93.0 1108.0h1M93.5 1127.6h1M99.0 1137.4h1M89.1 1094.5h1M111.7 1144.4h1M145.1 1091.4h1M118.4 1130.8h1M117.7 1110.1h1M144.6 1087.9h1M124.8 1086.6h1M143.6 1143.4h1M138.3 1112.4h1M103.4 1116.6h1M117.2 1110.4h1M107.5 1136.4h1M96.4 1102.9h1M101.5 1112.1h1M112.4 1124.2h1M111.3 1145.3h1M123.2 1100.9h1M147.7 1122.5h1M140.7 1100.9h1M104.8 1112.6h1M123.5 1104.2h1M142.9 1097.7h1M117.8 1128.5h1M143.8 1135.7h1M111.3 1134.3h1M125.2 1100.7h1M85.6 1141.3h1M111.6 1119.5h1M102.2 1146.7h1M141.0 1092.8h1M118.7 1092.2h1M108.5 1110.8h1M140.4 1146.6h1M101.0 1094.2h1M100.8 1111.0h1M86.1 1110.0h1M106.3 1116.8h1M124.1 1107.1h1M109.3 1087.8h1M121.1 1095.8h1M98.8 1115.1h1M125.6 1115.1h1M118.5 1123.3h1M97.8 1095.6h1M128.9 1121.8h1M109.9 1130.1h1M93.6 1110.8h1M85.7 1107.9h1M127.9 1116.4h1M134.0 1087.5h1M121.6 1120.5h1M112.7 1124.7h1M99.8 1122.7h1M135.3 1087.0h1M88.8 1102.4h1M116.7 1141.2h1M124.2 1138.4h1M108.3 1129.9h1M145.6 1135.1h1M94.6 1108.9h1M99.1 1138.5h1M129.4 1094.9h1M122.3 1131.0h1M131.9 1139.0h1M137.7 1139.9h1M120.6 1127.4h1M123.8 1096.3h1M102.7 1135.2h1M106.5 1103.1h1M106.5 1136.8h1M108.0 1087.5h1M122.9 1127.6h1M132.1 1124.3h1M89.7 1092.0h1M115.9 1147.4h1M140.1 1121.0h1M98.7 1132.8h1M126.3 1085.7h1M87.2 1131.1h1M142.1 1133.0h1M103.5 1093.4h1M95.3 1113.2h1M144.7 1107.8h1M124.4 1091.7h1M93.5 1113.9h1M110.9 1104.2h1M127.3 1098.2h1M99.7 1108.7h1M128.5 1108.4h1M94.1 1147.4h1M120.9 1107.1h1M107.4 1085.1h1M122.3 1088.7h1M134.6 1126.8h1M105.3 1131.0h1M103.7 1115.1h1M126.9 1096.1h1M113.4 1120.7h1M133.2 1147.1h1M104.6 1129.4h1M91.0 1113.9h1M113.1 1107.3h1M117.6 1103.8h1M95.0 1123.8h1M110.7 1139.0h1M143.5 1139.7h1M100.4 1108.1h1M101.3 1105.8h1M99.6 1100.0h1M89.1 1147.5h1M130.1 1100.7h1M136.1 1113.4h1M120.7 1126.7h1M136.0 1091.3h1M134.1 1109.6h1M87.1 1112.4h1M130.5 1106.7h1M128.6 1090.7h1M130.6 1125.2h1M86.2 1097.0h1M90.5 1138.8h1M121.6 1129.1h1M91.1 1094.7h1M141.6 1086.2h1M96.1 1123.5h1M116.8 1119.1h1M125.2 1135.5h1M108.6 1120.9h1M93.3 1141.4h1M140.1 1089.0h1M102.0 1091.2h1M118.3 1092.1h1M121.4 1108.7h1M91.5 1085.4h1M97.0 1122.3h1M92.2 1107.8h1M107.3 1117.3h1M146.4 1142.1h1M123.7 1146.9h1M91.2 1125.1h1M136.0 1086.1h1M144.7 1127.9h1M144.6 1099.9h1M95.2 1127.7h1M95.0 1121.4h1M105.1 1094.8h1M97.3 1140.6h1M94.8 1091.0h1M110.1 1098.8h1M118.1 1131.4h1M143.7 1127.4h1M104.4 1101.5h1M112.5 1103.3h1M120.0 1112.8h1M139.9 1134.0h1M123.6 1145.2h1M141.4 1102.3h1M139.3 1142.0h1M133.7 1142.5h1M88.1 1144.1h1M126.3 1096.8h1M125.2 1086.7h1M109.7 1088.5h1M118.7 1077.6h1M134.2 1089.0h1M133.0 1076.5h1M119.6 1067.4h1M70.5 1063.3h1M88.5 1083.4h1M116.9 1084.1h1M80.0 1069.5h1M138.0 1063.6h1M139.8 1084.7h1M83.8 1084.7h1M144.4 1077.4h1M127.8 1064.1h1M145.2 1061.2h1M114.5 1082.6h1M123.2 1067.3h1M111.6 1066.1h1M77.9 1082.6h1M132.6 1066.4h1M130.5 1077.3h1M97.9 1071.3h1M113.9 1077.6h1M65.1 1087.8h1M136.3 1079.5h1M108.3 1085.5h1M110.1 1080.8h1M91.2 1064.4h1M143.5 1088.3h1M122.8 1081.8h1M60.8 1083.1h1M131.5 1069.7h1M84.8 1061.5h1M101.0 1087.8h1" stroke="#111" stroke-width="1.15" stroke-opacity="0.95" fill="none"/>
<path d="M231.2 1104.7h1M255.7 1108.5h1M228.6 1108.1h1M222.7 1101.4h1M231.5 1102.9h1M233.8 1104.3h1M212.1 1097.9h1M219.8 1094.0h1M226.3 1103.8h1M234.8 1100.5h1M225.1 1108.8h1M233.2 1099.6h1M239.8 1101.9h1M237.0 1103.8h1M223.5 1098.3h1M225.9 1119.3h1M221.7 1114.4h1M238.1 1103.3h1M236.4 1113.5h1M224.5 1102.4h1M236.4 1107.6h1M244.8 1108.0h1M217.4 1105.2h1M217.1 1109.9h1M232.9 1103.1h1M219.6 1110.7h1M223.8 1112.6h1M218.8 1103.9h1M222.5 1099.5h1M249.9 1115.2h1M221.8 1110.1h1M211.9 1112.8h1M236.2 1103.5h1M224.1 1106.9h1M230.9 1103.4h1M219.9 1104.0h1M223.4 1110.1h1M227.8 1106.9h1M213.1 1103.3h1M223.8 1102.6h1M226.1 1103.8h1M214.3 1111.0h1M234.8 1102.6h1M232.4 1100.2h1M216.5 1104.4h1M240.2 1105.0h1M214.3 1107.0h1M222.4 1101.5h1M230.2 1095.6h1M212.1 1097.2h1M236.4 1106.2h1M222.2 1101.7h1M232.8 1112.9h1M221.2 1107.2h1M247.2 1109.2h1M224.6 1107.7h1M228.3 1109.6h1M230.4 1102.9h1M226.4 1108.0h1M221.6 1106.2h1M219.7 1112.9h1M240.5 1100.8h1M234.6 1106.8h1M228.2 1104.3h1M229.7 1111.6h1M217.1 1111.7h1M225.2 1099.5h1M227.0 1109.5h1M226.7 1107.5h1M224.6 1102.7h1M235.9 1100.4h1M235.8 1107.8h1M225.1 1104.5h1M225.0 1105.6h1M227.1 1105.0h1M211.3 1093.7h1M230.3 1102.2h1M222.7 1104.8h1M218.2 1114.7h1M227.4 1104.8h1M218.7 1110.9h1M233.5 1114.3h1M234.9 1101.2h1M216.9 1113.6h1M221.8 1105.2h1M226.2 1108.7h1M232.1 1099.9h1M222.1 1095.9h1M232.1 1104.9h1M213.5 1111.8h1M227.6 1100.1h1M224.1 1102.5h1M228.4 1107.0h1M222.7 1108.3h1M232.9 1111.3h1M234.1 1099.9h1M213.5 1103.9h1M246.3 1107.3h1M221.4 1096.3h1M228.7 1103.3h1M231.6 1106.9h1M233.9 1102.4h1M217.6 1099.2h1M216.5 1118.2h1M239.0 1102.3h1M238.7 1099.8h1M222.9 1101.5h1M225.8 1109.5h1M244.1 1109.9h1M226.5 1106.7h1M225.5 1107.8h1M220.2 1107.2h1M231.1 1111.1h1M220.6 1108.1h1M229.7 1101.2h1M211.1 1102.6h1M234.5 1104.1h1M246.0 1108.9h1M221.4 1105.2h1M231.1 1108.4h1M225.4 1108.3h1M251.6 1110.9h1M228.7 1103.1h1M212.7 1106.7h1M224.0 1105.4h1M222.8 1110.1h1M236.1 1101.8h1M216.1 1107.5h1M238.6 1108.0h1M231.2 1097.8h1M222.8 1109.0h1M230.3 1105.6h1M232.0 1110.5h1M228.0 1101.7h1M215.8 1106.9h1M225.9 1104.7h1M236.3 1102.0h1M225.1 1109.3h1M220.0 1093.6h1M222.8 1110.2h1M222.4 1104.3h1M212.2 1112.4h1M213.0 1101.9h1M225.8 1116.6h1M228.2 1101.7h1M215.1 1103.9h1M217.3 1102.2h1M227.6 1112.5h1M218.3 1113.3h1M211.5 1116.5h1M222.0 1103.6h1M223.4 1107.0h1M226.8 1103.8h1M221.6 1102.6h1M227.7 1102.7h1M221.6 1097.6h1M227.4 1108.4h1M218.9 1111.2h1M226.9 1106.2h1M213.4 1109.1h1M237.4 1116.4h1M222.3 1105.3h1M233.2 1108.6h1M222.1 1106.0h1M235.1 1108.8h1M226.8 1111.5h1M215.2 1108.1h1M221.9 1103.6h1M233.8 1115.3h1M230.9 1106.4h1M240.5 1109.9h1M221.9 1102.0h1M215.2 1109.3h1M228.7 1115.3h1M225.0 1106.4h1M221.3 1111.4h1M237.5 1115.0h1M235.6 1102.6h1M237.1 1100.8h1M222.4 1104.7h1M244.2 1101.9h1M219.5 1107.1h1M236.9 1108.9h1M231.9 1101.2h1M224.3 1112.9h1M228.3 1102.3h1M224.7 1113.2h1M241.2 1108.1h1M221.0 1115.0h1M222.4 1106.4h1M230.9 1105.8h1M226.1 1114.7h1M230.1 1098.0h1M222.8 1113.1h1M226.2 1100.3h1M234.8 1108.5h1M227.9 1109.0h1M224.6 1106.9h1M232.2 1102.8h1M237.5 1100.1h1M244.1 1106.3h1M230.6 1099.2h1M233.8 1101.3h1M231.5 1106.0h1M221.1 1115.6h1M228.9 1103.1h1M224.7 1107.7h1M228.0 1110.6h1M223.1 1107.1h1M223.7 1102.1h1M234.1 1101.5h1M214.7 1109.5h1M223.5 1109.0h1M231.8 1108.7h1M228.3 1114.4h1M219.3 1112.3h1M226.5 1107.6h1M224.3 1110.7h1M231.5 1103.5h1M228.1 1108.6h1M226.6 1119.5h1M232.2 1103.9h1M235.8 1107.5h1M223.6 1104.1h1M215.1 1110.1h1M239.7 1105.6h1M221.4 1096.6h1M218.1 1106.0h1M222.7 1105.2h1M221.1 1105.1h1M226.0 1107.0h1M228.5 1107.1h1M221.3 1104.5h1M218.1 1103.3h1M227.4 1108.4h1M217.1 1100.8h1M223.5 1099.4h1M225.4 1104.9h1M222.0 1114.8h1M224.3 1107.3h1M213.7 1110.5h1M230.2 1107.0h1M210.8 1105.6h1M222.3 1108.1h1M227.4 1103.1h1M224.0 1112.6h1M236.3 1096.6h1M224.1 1109.3h1M224.3 1107.6h1M225.1 1114.8h1M233.3 1104.9h1M238.8 1109.5h1M240.9 1103.4h1M215.7 1110.2h1M227.9 1096.4h1M228.1 1101.5h1M223.9 1106.5h1M216.6 1112.7h1M217.3 1106.1h1M227.6 1103.2h1M221.4 1110.5h1M214.9 1105.8h1M240.3 1101.7h1M215.4 1103.1h1M218.2 1101.3h1M220.4 1109.0h1M227.7 1100.2h1M237.6 1100.5h1M239.0 1103.1h1M220.1 1103.3h1M238.7 1106.4h1M227.1 1096.7h1M227.1 1104.0h1M224.4 1101.4h1M214.7 1112.6h1M219.6 1109.0h1M231.8 1106.6h1M228.4 1109.2h1M224.5 1105.3h1M229.9 1106.7h1M224.8 1091.0h1M227.0 1098.9h1M236.6 1112.5h1M229.2 1107.1h1M211.1 1104.7h1M221.1 1115.7h1M216.7 1118.0h1M225.9 1094.5h1M241.7 1104.5h1M230.2 1111.8h1M214.7 1103.1h1M228.3 1112.7h1M225.9 1108.9h1M213.3 1108.6h1M219.9 1103.8h1M228.1 1110.6h1M221.9 1108.1h1M224.9 1109.2h1M223.7 1113.4h1M219.1 1100.0h1M237.5 1101.8h1M232.6 1109.6h1M213.9 1104.1h1M223.5 1105.0h1M215.5 1106.7h1M228.9 1099.7h1M227.5 1106.9h1M213.7 1105.3h1M234.5 1109.8h1M218.6 1101.5h1M227.4 1107.9h1M233.8 1106.1h1M233.6 1102.0h1M241.9 1104.7h1M219.6 1102.5h1M212.8 1101.5h1M224.6 1108.3h1M236.1 1100.9h1M221.2 1109.4h1M235.3 1109.7h1M229.1 1099.2h1M222.7 1097.0h1M221.4 1112.3h1M239.5 1104.0h1M231.8 1112.9h1M218.5 1098.0h1M221.8 1093.9h1M232.4 1104.9h1M224.6 1105.7h1M230.8 1105.3h1M217.1 1108.9h1M222.6 1107.0h1M221.3 1105.4h1M214.3 1106.0h1M224.4 1111.2h1M220.3 1100.5h1M232.3 1094.5h1M231.7 1104.8h1M223.0 1105.8h1M224.4 1100.3h1M232.4 1100.4h1M227.6 1104.2h1M220.7 1101.8h1M228.9 1103.3h1M237.3 1109.9h1M223.1 1110.7h1M216.2 1098.2h1M235.4 1096.3h1M220.7 1107.0h1M233.8 1101.3h1M238.3 1100.3h1M238.0 1107.5h1M227.6 1103.9h1M218.7 1111.0h1M217.2 1105.2h1M232.3 1107.8h1M232.0 1101.8h1M216.4 1106.5h1M225.3 1111.1h1M210.9 1105.1h1M229.7 1102.6h1M213.6 1105.3h1M234.8 1101.4h1M219.2 1099.7h1M218.6 1095.4h1M251.6 1104.0h1M236.0 1111.7h1M222.1 1108.4h1M241.2 1112.6h1M234.7 1101.3h1M221.6 1105.6h1M239.1 1101.4h1M232.2 1111.7h1M233.3 1105.4h1M221.7 1109.2h1M224.2 1107.5h1M222.8 1102.5h1M223.2 1099.9h1M234.3 1097.9h1M229.9 1103.0h1M230.8 1096.4h1M226.9 1105.7h1M238.2 1111.0h1M229.9 1105.1h1M227.3 1111.1h1M237.4 1108.8h1M236.6 1097.3h1M234.6 1116.4h1M228.0 1102.4h1M238.2 1095.4h1M236.7 1099.2h1M231.0 1099.3h1M239.0 1106.0h1M222.5 1105.5h1M238.1 1114.0h1M229.1 1104.5h1M239.3 1106.5h1M222.8 1116.2h1M214.7 1107.5h1M240.3 1108.3h1M229.6 1111.0h1M219.9 1105.9h1M227.4 1111.5h1M231.4 1106.5h1M237.7 1113.4h1M218.3 1120.1h1M230.9 1103.6h1M241.5 1092.8h1M218.4 1107.7h1M222.7 1099.8h1M225.9 1114.4h1M228.5 1110.8h1M234.0 1106.2h1M228.5 1102.7h1M230.0 1110.6h1M226.7 1106.1h1M232.1 1106.7h1M230.7 1096.3h1M231.3 1097.5h1M233.2 1105.5h1M224.7 1099.7h1M235.4 1104.0h1M224.7 1096.1h1M240.3 1103.4h1M221.6 1112.5h1M232.5 1093.0h1M227.3 1114.4h1M226.2 1102.3h1M234.5 1110.3h1M221.2 1102.6h1M223.7 1103.4h1M218.1 1102.5h1M233.2 1097.8h1M236.0 1108.9h1M233.8 1110.3h1M221.6 1097.8h1M236.8 1105.9h1M231.3 1111.3h1M217.7 1105.8h1M227.6 1100.9h1M221.1 1106.1h1M230.6 1112.9h1M234.8 1113.8h1M224.2 1107.4h1M227.4 1104.4h1M223.7 1113.2h1M239.4 1106.3h1M221.2 1115.1h1M236.3 1104.7h1M233.5 1107.8h1M227.0 1105.4h1M220.5 1100.5h1M226.5 1100.2h1M230.6 1104.4h1M221.1 1107.9h1M221.8 1104.1h1M220.4 1109.4h1M228.7 1104.9h1M226.0 1108.5h1M224.0 1096.3h1M240.9 1106.5h1M233.5 1101.3h1M215.3 1100.0h1M232.1 1103.8h1M226.2 1103.3h1M215.4 1114.6h1M220.1 1100.6h1M218.7 1107.5h1M237.1 1106.9h1M230.7 1104.5h1M237.9 1107.2h1M230.7 1100.3h1M237.0 1109.5h1M223.8 1102.2h1M230.9 1099.2h1M228.3 1101.6h1M219.4 1111.7h1M219.4 1096.2h1M239.0 1102.4h1M235.9 1105.9h1M220.0 1097.2h1M225.9 1107.3h1M222.4 1103.8h1M221.2 1105.1h1M228.4 1104.6h1M211.7 1101.5h1M224.2 1103.1h1M212.7 1102.5h1M215.2 1096.7h1M230.1 1100.5h1M235.7 1111.4h1M212.3 1106.7h1M215.0 1108.5h1M235.3 1112.8h1M236.7 1098.0h1M228.9 1097.4h1M230.4 1109.8h1M225.7 1110.0h1M220.5 1102.9h1M217.8 1095.8h1M227.7 1105.5h1M218.9 1100.9h1M215.1 1109.2h1M231.4 1102.7h1M223.9 1103.1h1M220.0 1107.4h1M234.5 1094.6h1M233.7 1100.6h1M224.1 1097.8h1M222.8 1104.7h1M224.6 1119.2h1M223.7 1104.0h1M224.4 1107.8h1M232.5 1109.3h1M226.6 1106.5h1M219.1 1106.8h1M222.4 1108.4h1M224.6 1108.7h1M210.9 1110.8h1M216.0 1114.0h1M215.6 1105.5h1M219.1 1106.1h1M235.0 1100.6h1M229.5 1109.9h1M218.9 1109.9h1M222.5 1108.5h1M218.5 1122.0h1M225.9 1094.5h1M230.5 1103.6h1M214.5 1103.5h1M217.2 1106.1h1M219.4 1099.7h1M228.2 1107.1h1M226.7 1107.0h1M226.2 1106.9h1M236.2 1110.4h1M231.3 1113.7h1M213.7 1110.6h1M211.8 1101.5h1M219.6 1108.1h1M238.0 1101.9h1M212.4 1110.4h1M225.5 1097.7h1M243.5 1107.5h1M228.1 1106.1h1M224.2 1108.6h1M227.5 1111.8h1M214.9 1105.3h1M235.2 1099.2h1M232.7 1101.2h1M234.5 1112.4h1M231.9 1105.4h1M221.0 1101.9h1M229.1 1105.4h1M219.5 1106.2h1M218.0 1112.1h1M233.4 1105.5h1M235.7 1104.2h1M238.1 1106.2h1M216.8 1095.0h1M241.6 1096.6h1M226.4 1110.3h1M224.6 1100.7h1M225.4 1106.6h1M228.4 1108.3h1M218.3 1111.6h1M229.3 1109.8h1M234.1 1108.3h1M217.8 1101.6h1M221.0 1100.1h1M222.2 1096.2h1M227.2 1105.3h1M235.3 1102.8h1M240.5 1105.1h1M224.6 1105.9h1M238.3 1111.0h1M229.6 1105.6h1M223.5 1098.4h1M225.7 1103.7h1M239.9 1103.1h1M237.4 1106.0h1M224.3 1109.1h1M241.2 1107.5h1M230.1 1104.5h1M228.1 1104.9h1M226.2 1106.6h1M229.2 1108.5h1M219.1 1103.3h1M240.1 1103.6h1M229.7 1106.5h1M224.3 1115.4h1M231.9 1095.6h1M235.6 1098.8h1M212.7 1101.7h1M233.6 1096.4h1M234.2 1100.8h1M236.6 1109.5h1M221.1 1092.7h1M226.7 1093.8h1M233.1 1102.9h1M236.3 1102.3h1M219.1 1107.9h1M218.7 1105.6h1M225.9 1101.3h1M216.3 1108.6h1M239.7 1103.9h1M219.7 1103.7h1M217.3 1094.9h1M234.9 1106.1h1M224.1 1114.8h1M226.7 1105.1h1M233.5 1102.1h1M229.3 1107.4h1M232.4 1107.3h1M237.9 1109.7h1M232.5 1110.0h1M222.3 1100.5h1M224.7 1111.3h1M216.8 1107.3h1M221.1 1102.9h1M220.4 1095.7h1M237.9 1103.9h1M226.9 1105.7h1M239.5 1104.9h1M228.9 1109.0h1M231.8 1110.3h1M232.2 1104.4h1M231.1 1099.2h1M226.1 1111.5h1M237.7 1108.1h1M232.8 1102.7h1M233.5 1104.6h1M219.5 1112.2h1M227.5 1107.0h1M217.7 1105.5h1M229.6 1108.4h1M230.9 1107.8h1M233.8 1112.0h1M235.3 1100.8h1M228.4 1112.4h1M234.2 1104.0h1M226.9 1104.9h1M228.6 1094.7h1M210.6 1102.4h1M215.5 1100.0h1M219.2 1105.8h1M225.6 1112.5h1M227.3 1104.0h1M226.0 1104.2h1M219.1 1098.7h1M237.1 1101.5h1M220.0 1098.7h1M221.3 1098.0h1M220.5 1095.8h1M214.7 1116.1h1M227.9 1107.1h1M236.6 1107.7h1M229.5 1103.3h1M234.1 1101.2h1M224.5 1102.7h1M235.9 1105.2h1M227.7 1113.2h1M238.1 1107.7h1M229.2 1103.1h1M226.9 1109.9h1M230.8 1112.7h1M230.5 1099.9h1M221.1 1094.2h1M230.2 1100.6h1M231.1 1103.3h1M228.5 1103.4h1M225.4 1107.8h1M223.4 1104.5h1M223.2 1103.4h1M222.6 1099.8h1M225.3 1108.3h1M227.2 1101.9h1M218.2 1116.2h1M236.4 1099.5h1M217.0 1097.5h1M234.8 1096.6h1M227.1 1099.8h1M227.4 1100.0h1M225.3 1105.0h1M233.6 1112.4h1M230.1 1106.8h1M239.0 1097.2h1M240.9 1103.9h1M223.6 1112.6h1M223.7 1105.3h1M233.0 1111.9h1M217.7 1108.8h1M229.7 1104.5h1M239.1 1118.2h1M232.7 1109.0h1M221.1 1104.1h1M223.4 1107.7h1M229.1 1101.8h1M225.4 1099.5h1M223.7 1105.4h1M228.0 1104.9h1M228.0 1104.7h1M220.6 1109.5h1M222.2 1102.7h1M234.4 1105.4h1M229.5 1114.3h1M221.0 1099.2h1M242.9 1102.2h1M221.2 1116.5h1M229.1 1104.3h1M210.9 1104.7h1M221.1 1108.4h1M211.6 1106.4h1M238.7 1106.1h1M221.8 1092.2h1M223.2 1102.1h1M219.4 1098.3h1M236.6 1112.5h1M218.4 1101.2h1M220.4 1099.4h1M229.7 1108.0h1M234.0 1105.6h1M229.1 1112.7h1M230.5 1107.2h1M213.0 1104.4h1M224.3 1105.7h1M236.2 1102.4h1M238.5 1100.8h1M239.2 1099.8h1M226.8 1094.5h1M217.0 1092.4h1M231.2 1103.9h1M222.1 1098.6h1M224.1 1106.6h1M226.1 1105.8h1M231.5 1110.8h1M216.4 1108.2h1M215.6 1100.4h1M214.1 1101.4h1M235.7 1106.9h1M239.3 1102.2h1M237.5 1092.8h1M232.0 1110.9h1M232.3 1102.3h1M221.9 1105.1h1M242.7 1110.8h1M225.8 1096.0h1M235.1 1101.2h1M234.5 1097.5h1M218.3 1107.2h1M229.4 1111.2h1M228.1 1104.3h1M232.1 1104.3h1M220.3 1105.4h1M237.8 1107.2h1M230.5 1110.6h1M231.4 1100.3h1M224.6 1108.0h1M241.5 1106.6h1M220.2 1105.9h1M227.5 1098.8h1M229.7 1119.4h1M220.9 1108.2h1M235.3 1104.8h1M212.2 1107.6h1M223.4 1102.2h1M229.8 1106.1h1M235.1 1112.7h1M220.1 1110.3h1M226.5 1107.1h1M238.8 1104.8h1M222.7 1098.3h1M241.2 1108.6h1M231.0 1102.6h1M240.0 1094.5h1M235.3 1116.2h1M239.8 1108.0h1M231.4 1105.0h1M225.5 1105.9h1M224.4 1105.1h1M221.8 1105.7h1M231.4 1113.1h1M227.3 1108.7h1M225.2 1110.7h1M222.2 1099.0h1M216.2 1101.5h1M225.4 1113.7h1M230.3 1106.4h1M216.4 1102.3h1M223.1 1121.0h1M238.0 1112.1h1M216.6 1103.5h1M224.4 1106.4h1M215.8 1108.6h1M226.3 1095.4h1M223.9 1111.7h1M233.2 1109.5h1M214.6 1110.2h1M229.1 1106.5h1M216.9 1098.6h1M237.9 1109.2h1M236.2 1114.2h1M223.5 1102.7h1M216.1 1112.8h1M229.1 1105.0h1M223.4 1106.6h1M246.0 1102.5h1M213.4 1110.7h1M226.7 1116.1h1M229.8 1109.8h1M214.0 1103.9h1M223.2 1105.9h1M231.6 1106.2h1M224.6 1113.3h1M233.7 1116.7h1M222.9 1101.7h1M213.1 1100.8h1M226.5 1113.6h1M217.5 1097.6h1M225.5 1103.8h1M230.6 1102.6h1M223.9 1103.7h1M230.6 1095.5h1M231.3 1097.5h1M235.4 1102.0h1M231.0 1102.0h1M230.8 1108.5h1M215.7 1111.1h1M228.0 1100.9h1M229.4 1093.9h1M217.4 1110.7h1M224.9 1110.8h1M228.9 1110.1h1M234.0 1108.1h1M228.5 1102.1h1M230.9 1117.1h1M223.5 1108.9h1M228.1 1106.8h1M236.2 1099.3h1M243.2 1103.0h1M213.2 1096.1h1M226.9 1114.3h1M228.7 1102.6h1M246.0 1098.5h1M228.0 1108.7h1M231.1 1107.7h1M219.2 1113.8h1M228.0 1109.4h1M220.9 1096.4h1M241.1 1105.8h1M224.0 1101.2h1M224.3 1105.9h1M226.5 1105.6h1M226.9 1098.9h1M229.5 1108.9h1M221.3 1103.2h1M227.8 1098.2h1M227.5 1102.8h1M232.4 1118.1h1M225.5 1099.8h1M229.8 1105.5h1M223.7 1103.7h1M225.0 1109.0h1M224.9 1106.6h1M232.2 1113.0h1M231.5 1111.1h1M240.7 1103.9h1M237.6 1110.7h1M218.3 1102.1h1M233.0 1092.3h1M217.4 1113.3h1M229.9 1112.2h1M237.5 1099.1h1M217.4 1114.9h1M212.3 1099.8h1M229.8 1099.8h1M224.4 1107.8h1M230.2 1103.6h1M232.9 1107.8h1M230.8 1108.5h1M224.6 1100.9h1M231.9 1101.2h1M237.1 1097.9h1M226.2 1112.6h1M224.8 1102.5h1M242.8 1108.0h1M232.2 1105.8h1M237.4 1113.2h1M221.4 1100.2h1M230.8 1115.5h1M225.3 1109.7h1M224.0 1100.2h1M216.2 1101.5h1M234.5 1107.3h1M214.8 1111.3h1M228.7 1099.7h1M216.0 1111.3h1M226.8 1103.9h1M232.9 1095.3h1M224.4 1113.5h1M220.8 1106.1h1M236.2 1108.2h1M226.0 1099.9h1M223.8 1102.8h1M233.3 1097.6h1M223.2 1105.6h1M235.1 1105.6h1M227.0 1107.1h1M219.6 1117.1h1M215.0 1104.6h1M220.8 1107.5h1M232.3 1111.6h1M223.5 1099.3h1M216.6 1107.2h1M232.5 1117.8h1M230.1 1103.0h1M235.0 1098.8h1M240.5 1107.5h1M229.6 1101.2h1M230.0 1111.5h1M231.4 1106.2h1M224.7 1100.4h1M212.9 1112.7h1M229.0 1101.1h1M229.2 1106.0h1M221.8 1099.5h1M236.9 1105.0h1M216.1 1099.1h1M217.6 1105.0h1M221.1 1110.5h1M224.4 1099.4h1M226.9 1100.2h1M221.0 1101.5h1M214.3 1101.9h1M228.6 1106.4h1M228.2 1109.4h1M233.3 1111.1h1M218.6 1107.2h1M227.5 1102.8h1M239.4 1101.0h1M226.6 1114.7h1M227.3 1105.3h1M219.8 1112.6h1M224.5 1108.4h1M225.5 1109.9h1M225.3 1099.1h1M214.0 1118.2h1M221.5 1111.3h1M245.8 1096.5h1M220.0 1108.0h1M219.6 1101.0h1M217.3 1103.6h1M228.7 1108.6h1M221.6 1104.1h1M224.8 1105.9h1M224.0 1108.0h1M229.6 1108.8h1M223.6 1109.4h1M229.8 1106.7h1M220.1 1095.8h1M240.5 1106.1h1M230.8 1096.8h1M227.1 1103.0h1M222.6 1115.8h1M213.2 1104.4h1M226.5 1116.2h1M230.8 1103.4h1M223.9 1085.5h1M232.6 1106.7h1M237.3 1100.8h1M223.9 1108.1h1M229.0 1104.5h1M229.2 1105.5h1M222.4 1111.1h1M214.4 1100.2h1M210.9 1112.1h1M223.6 1110.1h1M234.1 1105.2h1M224.0 1105.6h1M230.0 1099.2h1M234.7 1099.2h1M224.8 1106.4h1M221.6 1110.7h1M220.6 1109.6h1M227.4 1109.4h1M239.5 1100.8h1M216.8 1113.0h1M237.0 1109.4h1M225.8 1110.0h1M216.5 1105.5h1M225.3 1109.5h1M215.4 1112.0h1M241.7 1100.0h1M224.5 1091.3h1M242.9 1108.4h1M225.6 1106.6h1M231.1 1116.0h1M225.3 1103.5h1M219.6 1116.9h1M247.4 1105.1h1M241.3 1097.6h1M233.6 1101.3h1M226.7 1112.4h1M236.8 1107.2h1M226.0 1109.2h1M216.3 1109.0h1M223.1 1105.8h1M232.6 1105.0h1M213.7 1100.5h1M223.4 1100.1h1M229.7 1103.9h1M223.0 1104.9h1M220.3 1105.4h1M231.3 1100.2h1M229.0 1108.6h1M233.5 1110.1h1M238.5 1096.2h1M227.1 1103.2h1M223.0 1102.4h1M229.7 1107.4h1M227.4 1103.5h1M231.8 1101.9h1M214.9 1114.0h1M230.7 1110.7h1M233.9 1099.3h1M227.3 1108.0h1M231.6 1098.5h1M231.8 1104.4h1M224.4 1113.9h1M218.0 1119.5h1M225.7 1108.1h1M223.6 1105.6h1M213.1 1114.1h1M222.3 1100.7h1M219.4 1096.7h1M245.9 1110.3h1M233.7 1102.2h1M230.6 1113.8h1M223.2 1104.7h1M219.4 1101.5h1M225.5 1104.8h1M218.6 1103.8h1M235.3 1098.9h1M224.9 1098.5h1M228.7 1115.8h1M225.7 1119.3h1M218.9 1104.5h1M219.8 1109.3h1M222.3 1105.4h1M225.0 1106.3h1M223.3 1104.5h1M227.3 1106.7h1M224.9 1105.4h1M215.3 1106.5h1M232.2 1109.0h1M224.3 1111.2h1M224.1 1110.4h1M228.0 1104.7h1M242.3 1099.9h1M218.2 1098.4h1M226.0 1099.8h1M229.0 1107.8h1M217.4 1100.5h1M221.6 1090.1h1M224.1 1112.7h1M224.4 1116.5h1M237.0 1108.5h1M231.0 1102.6h1M235.2 1104.6h1M233.8 1105.4h1M233.3 1102.6h1M234.8 1094.6h1M215.2 1101.4h1M227.3 1093.5h1M231.4 1098.3h1M225.0 1098.3h1M226.9 1106.6h1M230.6 1104.3h1M222.5 1107.2h1M227.6 1108.9h1M223.0 1104.7h1M234.1 1099.8h1M230.7 1108.2h1M225.9 1091.4h1M225.6 1106.1h1M226.8 1112.6h1M218.3 1112.0h1M248.6 1110.9h1M237.0 1109.5h1M210.8 1105.2h1M220.2 1107.8h1M216.3 1115.4h1M224.0 1100.8h1M220.3 1108.1h1M243.2 1113.7h1M239.5 1094.8h1M224.3 1105.3h1M231.7 1107.6h1M220.2 1106.2h1M243.5 1102.9h1M220.4 1107.2h1M221.4 1109.9h1M223.7 1106.6h1M233.6 1098.1h1M233.7 1105.5h1M214.1 1109.3h1M212.4 1111.2h1M226.7 1101.0h1M225.3 1099.7h1M232.2 1104.0h1M227.3 1110.3h1M230.6 1106.8h1M233.0 1100.0h1M230.7 1096.5h1M221.8 1101.3h1M231.9 1102.1h1M229.4 1104.2h1M211.0 1096.2h1M219.6 1104.5h1M218.6 1106.3h1M231.4 1110.5h1M229.7 1111.6h1M217.0 1103.7h1M226.6 1104.6h1M233.8 1108.0h1M239.0 1109.8h1M225.8 1101.8h1M220.8 1104.3h1M220.5 1112.1h1M223.6 1105.7h1M236.9 1108.0h1M233.4 1099.2h1M217.4 1104.1h1M213.6 1105.3h1M219.0 1103.9h1M226.4 1110.9h1M217.2 1106.5h1M234.6 1107.3h1M234.6 1103.1h1M227.9 1097.7h1M237.0 1104.1h1M235.4 1109.7h1M247.3 1101.5h1M222.6 1101.2h1M224.9 1103.6h1M230.7 1096.2h1M221.3 1114.2h1M240.8 1099.2h1M233.9 1098.5h1M217.1 1105.6h1M220.5 1106.8h1M223.7 1105.9h1M215.2 1107.7h1M223.1 1116.5h1M241.7 1097.5h1M212.8 1100.4h1M230.7 1107.5h1M232.8 1108.9h1M234.5 1106.0h1M234.3 1101.2h1M235.2 1109.4h1M217.7 1100.1h1M230.5 1109.0h1M219.5 1109.8h1M231.2 1099.9h1M222.8 1099.3h1M224.2 1107.2h1M242.4 1101.1h1M225.1 1098.3h1M229.1 1102.0h1M236.0 1107.8h1M224.4 1108.1h1M221.8 1119.8h1M227.1 1103.7h1M225.6 1115.0h1M224.0 1101.9h1M211.5 1100.8h1M245.9 1106.4h1M225.4 1109.1h1M218.0 1106.5h1M231.0 1108.6h1M225.2 1101.2h1M234.8 1108.2h1M211.4 1104.1h1M220.5 1098.9h1M235.2 1100.5h1M217.2 1102.0h1M215.0 1109.9h1M212.2 1098.6h1M235.1 1112.4h1M229.2 1112.0h1M225.6 1106.5h1M230.6 1098.6h1M223.0 1112.3h1M229.7 1103.6h1M223.3 1115.6h1M243.0 1105.2h1M224.4 1109.5h1M228.9 1107.7h1M231.1 1111.2h1M226.7 1105.1h1M229.9 1115.1h1M228.1 1101.1h1M232.3 1104.8h1M229.6 1110.6h1M229.0 1116.4h1M213.1 1098.2h1M238.1 1095.4h1M219.2 1099.7h1M219.5 1106.1h1M224.8 1102.9h1M232.3 1119.6h1M219.2 1108.3h1M221.7 1102.2h1M228.1 1114.3h1M214.6 1113.2h1M219.7 1104.6h1M218.9 1111.1h1M241.6 1112.1h1M233.1 1112.7h1M237.6 1106.3h1M231.9 1113.5h1M229.6 1118.6h1M227.7 1099.7h1M229.3 1099.8h1M218.1 1112.1h1M230.2 1100.3h1M225.8 1102.5h1M239.0 1095.2h1M234.9 1104.4h1M225.0 1097.2h1M228.8 1107.6h1M214.7 1092.8h1M223.5 1098.6h1M232.0 1104.4h1M230.7 1104.9h1M229.5 1101.7h1M227.2 1099.9h1M236.2 1103.0h1M227.5 1102.4h1M231.6 1102.3h1M227.6 1101.4h1M230.9 1106.9h1M226.1 1105.6h1M227.1 1107.2h1M228.9 1111.7h1M232.8 1112.6h1M226.0 1110.9h1M216.2 1106.3h1M224.2 1106.0h1M222.2 1099.8h1M232.2 1111.9h1M238.0 1105.7h1M223.5 1113.2h1M236.3 1109.6h1M226.7 1105.6h1M223.2 1105.2h1M231.2 1101.8h1M230.1 1110.7h1M220.8 1100.3h1M224.1 1097.8h1M238.2 1105.1h1M217.1 1116.5h1M220.6 1106.6h1M239.6 1105.8h1M223.5 1103.8h1M231.3 1104.5h1M218.1 1101.5h1M219.9 1107.7h1M220.5 1100.4h1M223.0 1109.7h1M218.6 1105.5h1M218.9 1115.4h1M213.1 1090.5h1M232.2 1114.4h1M221.6 1102.3h1M212.8 1104.8h1M221.3 1104.5h1M223.7 1115.1h1M230.4 1107.1h1M222.3 1098.5h1M232.4 1100.9h1M216.7 1118.4h1M223.3 1113.7h1M234.0 1108.5h1M217.5 1106.6h1M241.9 1108.1h1M239.7 1103.4h1M233.9 1094.2h1M242.3 1103.6h1M223.7 1106.6h1M225.1 1106.8h1M231.3 1102.9h1M223.4 1101.9h1M228.5 1102.1h1M235.0 1109.9h1M235.4 1104.2h1M211.4 1105.4h1M216.2 1100.7h1M219.8 1103.7h1M217.7 1107.4h1M231.0 1108.8h1M233.9 1112.1h1M216.7 1107.6h1M217.0 1111.2h1M227.6 1103.3h1M241.4 1108.7h1M231.5 1121.9h1M223.8 1109.4h1M237.1 1107.5h1M224.8 1104.5h1M226.7 1103.8h1M242.9 1108.0h1M227.6 1100.7h1M223.5 1103.3h1M218.9 1091.4h1M226.2 1106.5h1M234.6 1106.1h1M212.0 1090.3h1M239.4 1099.8h1M217.4 1099.5h1M224.1 1103.3h1M229.6 1100.4h1M238.7 1117.6h1M228.4 1103.1h1M224.9 1105.3h1M229.9 1101.0h1M215.4 1108.3h1M226.6 1103.8h1M220.8 1102.4h1M220.2 1115.5h1M222.0 1097.2h1M226.5 1110.9h1M217.5 1104.8h1M211.5 1106.9h1M228.3 1108.2h1M216.6 1104.9h1M230.7 1101.7h1M232.0 1105.3h1M220.4 1107.2h1M229.9 1109.1h1M222.9 1108.1h1M230.5 1114.2h1M221.5 1117.0h1M225.8 1106.7h1M234.3 1115.2h1M220.4 1107.6h1M219.5 1108.7h1M226.6 1091.6h1M223.4 1095.9h1M222.8 1110.9h1M243.9 1105.9h1M237.6 1100.7h1M223.0 1109.8h1M220.6 1103.0h1M221.7 1106.0h1M234.0 1094.0h1M221.9 1094.3h1M235.5 1102.8h1M239.0 1107.4h1M220.1 1107.5h1M226.1 1112.6h1M231.6 1101.8h1M219.3 1102.7h1M231.7 1099.8h1M229.9 1105.0h1M233.9 1104.2h1M228.5 1099.7h1M223.4 1116.7h1M223.3 1103.5h1M219.8 1101.0h1M236.5 1104.6h1M217.4 1100.5h1M235.8 1105.9h1M236.2 1103.3h1M226.8 1109.6h1M222.9 1111.0h1M224.8 1112.0h1M228.8 1107.6h1M234.5 1107.8h1M229.9 1109.4h1M229.5 1110.6h1M226.4 1104.6h1M222.1 1115.8h1M245.9 1109.2h1M232.5 1108.7h1M239.5 1101.7h1M226.8 1111.5h1M221.3 1111.6h1M240.1 1107.7h1M212.4 1109.6h1M230.5 1107.8h1M232.5 1098.2h1M218.2 1110.9h1M232.7 1106.8h1M238.0 1117.8h1M241.4 1098.6h1M225.1 1110.0h1M238.1 1098.6h1M230.0 1097.2h1M226.1 1104.5h1M224.4 1110.3h1M230.9 1101.8h1M218.4 1099.8h1M219.7 1107.6h1M223.6 1110.8h1M221.9 1105.3h1M229.7 1101.7h1M225.2 1106.4h1M223.2 1113.3h1M214.8 1099.5h1M223.0 1101.4h1M241.3 1104.2h1M225.2 1093.6h1M229.1 1099.6h1M235.9 1104.8h1M222.6 1107.4h1M230.4 1111.4h1M226.7 1100.0h1M226.9 1101.6h1M254.1 1107.1h1M231.3 1112.0h1M222.4 1108.5h1M236.6 1109.9h1M219.9 1105.1h1M215.9 1096.1h1M221.5 1112.6h1M226.9 1102.8h1M225.6 1096.6h1M227.7 1104.2h1M236.6 1103.2h1M217.5 1106.8h1M229.8 1102.1h1M228.7 1106.7h1M226.5 1105.9h1M223.3 1102.4h1M223.1 1101.9h1M227.9 1110.5h1M235.0 1108.6h1M231.3 1111.3h1M229.9 1108.4h1M214.8 1100.6h1M223.8 1103.9h1M214.2 1106.9h1M219.7 1096.0h1M225.4 1092.8h1M229.4 1111.3h1M225.4 1105.3h1M232.1 1106.4h1M222.0 1114.8h1M228.6 1112.9h1M211.8 1106.8h1M230.4 1107.6h1M231.4 1108.8h1M224.1 1109.7h1M224.0 1107.4h1M231.8 1106.5h1M230.3 1098.3h1M218.2 1097.2h1M224.9 1103.0h1M218.2 1104.8h1M230.4 1095.6h1M226.3 1098.8h1M220.1 1105.1h1M224.7 1105.9h1M220.2 1104.2h1M243.1 1098.3h1M235.8 1110.0h1M221.9 1113.5h1M243.9 1099.6h1M226.0 1110.2h1M214.3 1103.2h1M235.0 1107.9h1M213.5 1102.6h1M233.5 1099.0h1M221.2 1101.1h1M226.6 1099.5h1M217.6 1110.9h1M234.5 1093.8h1M218.9 1100.3h1M243.5 1111.9h1M240.6 1108.7h1M237.1 1107.2h1M216.1 1111.9h1M236.5 1107.6h1M221.2 1102.4h1M218.3 1114.8h1M237.0 1099.9h1M222.7 1099.7h1M219.8 1096.6h1M228.6 1106.0h1M235.5 1103.1h1M225.8 1109.1h1M230.2 1111.4h1M232.3 1106.3h1M242.9 1102.9h1M232.0 1103.0h1M221.7 1116.0h1M228.9 1101.2h1M229.1 1102.6h1M239.0 1105.2h1M217.1 1113.7h1M220.1 1097.3h1M226.2 1103.9h1M242.0 1093.1h1M241.5 1113.8h1M244.4 1101.8h1M232.7 1097.4h1M238.9 1115.3h1M213.0 1107.6h1M222.5 1116.2h1M236.4 1105.8h1M234.8 1099.8h1M212.3 1102.2h1M229.0 1100.5h1M217.3 1099.8h1M228.1 1102.8h1M237.1 1107.1h1M219.9 1101.7h1M229.3 1110.4h1M226.4 1103.6h1M217.9 1102.9h1M245.9 1101.3h1M236.8 1096.5h1M224.4 1095.0h1M239.3 1099.8h1M225.3 1112.8h1M235.8 1107.4h1M212.6 1107.0h1M223.9 1108.0h1M227.8 1118.0h1M226.3 1097.8h1M236.3 1110.9h1M221.4 1113.6h1M234.0 1096.4h1M225.4 1105.6h1M231.5 1103.1h1M224.2 1103.8h1M224.2 1101.7h1M228.4 1111.9h1M213.3 1107.7h1M234.8 1103.9h1M227.9 1117.1h1M232.8 1104.8h1M225.1 1111.2h1M213.6 1102.9h1M214.6 1107.5h1M218.5 1103.4h1M227.4 1105.8h1M221.2 1114.1h1M222.7 1103.0h1M217.1 1095.6h1M232.8 1102.8h1M231.4 1104.0h1M248.1 1107.7h1M214.7 1100.8h1M225.3 1107.4h1M231.7 1108.0h1M230.7 1101.0h1M232.7 1106.5h1M231.1 1102.7h1M234.5 1100.3h1M232.3 1104.2h1M210.7 1109.0h1M231.7 1104.9h1M240.2 1114.1h1M229.3 1101.8h1M226.0 1099.9h1M217.1 1103.0h1M236.3 1103.0h1M228.8 1109.1h1M225.5 1107.3h1M231.8 1105.8h1M230.2 1113.0h1M233.8 1110.6h1M229.6 1104.4h1M237.5 1109.4h1M232.7 1104.6h1M216.4 1103.5h1M230.7 1106.5h1M230.4 1100.2h1M232.0 1100.0h1M230.2 1109.4h1M230.3 1106.0h1M220.7 1100.9h1M236.6 1105.0h1M224.8 1112.9h1M234.0 1103.3h1M214.6 1110.0h1M214.2 1103.1h1M222.6 1104.9h1M225.1 1098.3h1M225.2 1101.3h1M227.1 1109.2h1M222.8 1104.9h1M216.9 1113.2h1M229.1 1105.1h1M225.7 1099.5h1M230.4 1098.8h1M210.7 1098.9h1M227.3 1106.7h1M217.7 1113.0h1M235.0 1110.6h1M211.4 1105.7h1M226.8 1110.0h1M226.1 1110.9h1M227.1 1096.2h1M239.3 1105.0h1M219.4 1099.2h1M231.0 1111.2h1M233.9 1114.4h1M224.5 1099.0h1M226.1 1094.5h1M241.4 1112.9h1M239.8 1096.1h1M232.1 1107.6h1M227.4 1105.8h1M222.8 1107.8h1M219.3 1102.2h1M215.5 1103.0h1M228.6 1113.3h1M223.4 1106.9h1M217.8 1097.5h1M228.5 1111.1h1M219.9 1106.6h1M232.2 1106.3h1M230.4 1104.4h1M239.6 1108.3h1M217.6 1105.7h1M224.9 1107.7h1M226.6 1107.8h1M228.0 1105.1h1M232.6 1108.6h1M244.6 1102.6h1M220.4 1109.6h1M230.9 1109.6h1M239.8 1110.2h1M227.0 1100.0h1M221.9 1107.0h1M232.3 1102.9h1M229.4 1110.4h1M233.9 1094.6h1M223.6 1102.8h1M234.7 1094.0h1M214.9 1108.0h1M218.3 1105.2h1M226.7 1101.5h1M225.6 1100.8h1M219.8 1107.3h1M228.5 1103.4h1M233.5 1113.6h1M230.5 1113.9h1M216.7 1106.8h1M227.0 1105.8h1M244.9 1103.1h1M236.3 1110.2h1M219.0 1112.2h1M221.3 1105.2h1M219.9 1102.7h1M219.5 1094.4h1M228.1 1104.4h1M226.0 1105.9h1M226.8 1103.4h1M223.9 1097.7h1M226.8 1115.9h1M240.7 1103.9h1M239.8 1104.5h1M212.2 1099.4h1M222.6 1101.7h1M223.6 1107.6h1M227.0 1102.0h1M235.4 1105.4h1M219.4 1098.0h1M229.5 1100.8h1M237.0 1112.9h1M228.9 1112.4h1M231.4 1108.1h1M213.2 1113.6h1M217.2 1106.3h1M236.6 1104.3h1M244.7 1106.4h1M230.5 1102.9h1M237.3 1099.2h1M212.2 1102.0h1M227.3 1107.8h1M238.3 1102.9h1M229.8 1112.2h1M226.6 1113.4h1M225.6 1104.9h1M215.7 1103.1h1M237.0 1103.4h1M227.9 1104.9h1M228.8 1108.2h1M221.7 1113.6h1M227.3 1109.3h1M238.0 1107.7h1M228.4 1102.9h1M214.4 1108.8h1M219.5 1108.5h1M227.2 1103.1h1M228.9 1102.9h1M230.6 1087.8h1M214.7 1104.2h1M224.6 1092.1h1M220.9 1102.7h1M230.7 1106.0h1M231.8 1110.1h1M234.7 1112.6h1M218.1 1103.2h1M242.6 1102.8h1M226.6 1101.9h1M235.8 1105.1h1M223.2 1108.3h1M241.4 1103.8h1M227.6 1106.4h1M222.0 1111.5h1M225.3 1111.1h1M225.3 1102.9h1M228.4 1111.8h1M213.0 1102.8h1M217.6 1098.0h1M223.9 1103.7h1M218.7 1101.7h1M233.4 1103.1h1M218.4 1109.7h1M229.9 1111.1h1M215.0 1098.2h1M218.7 1112.4h1M233.4 1104.6h1M231.5 1108.3h1M234.1 1108.4h1M223.8 1101.3h1M239.6 1103.7h1M230.4 1110.2h1M218.1 1104.3h1M224.0 1106.5h1M221.1 1105.2h1M230.0 1098.1h1M221.2 1095.3h1M230.6 1100.2h1M223.2 1107.3h1M222.7 1108.8h1M220.4 1102.9h1M235.1 1112.7h1M227.8 1103.5h1M229.3 1111.7h1M224.5 1111.0h1M229.8 1101.4h1M222.4 1103.0h1M228.3 1104.8h1M227.5 1108.9h1M228.9 1095.8h1M225.3 1100.6h1M227.0 1110.4h1M217.7 1095.4h1M228.2 1116.8h1M225.3 1101.4h1M226.6 1101.6h1M226.7 1099.6h1M229.6 1114.0h1M230.1 1107.2h1M240.9 1099.4h1M224.1 1097.4h1M232.0 1109.8h1M237.2 1099.4h1M214.2 1100.8h1M214.9 1112.7h1M235.8 1115.6h1M226.5 1099.6h1M222.7 1105.1h1M221.0 1113.8h1M231.8 1111.8h1M225.0 1104.9h1M221.0 1102.6h1M226.4 1102.3h1M225.8 1114.4h1M231.1 1106.6h1M218.9 1107.7h1M233.9 1097.4h1M226.3 1106.9h1M229.6 1107.0h1M234.0 1106.3h1M227.1 1108.1h1M219.4 1107.7h1M231.9 1097.1h1M232.9 1105.7h1M233.1 1105.7h1M226.5 1104.3h1M232.0 1099.7h1M225.2 1098.3h1M215.8 1098.4h1M228.9 1093.7h1M233.6 1106.9h1M226.9 1096.0h1M231.9 1099.9h1M216.8 1104.5h1M218.6 1093.2h1M232.4 1102.4h1M227.1 1100.2h1M216.9 1103.3h1M227.7 1099.2h1M232.8 1092.1h1M229.4 1105.4h1M218.4 1103.3h1M214.7 1104.1h1M221.7 1104.3h1M235.4 1115.5h1M236.7 1103.3h1M228.4 1108.1h1M225.5 1108.0h1M230.8 1111.8h1M234.9 1109.8h1M226.8 1097.8h1M231.9 1117.9h1M229.2 1109.1h1M223.9 1119.0h1M218.7 1105.8h1M224.0 1105.5h1M237.6 1108.5h1M221.7 1106.7h1M242.2 1101.4h1M239.2 1103.9h1M226.0 1111.2h1M233.2 1110.1h1M234.8 1113.4h1M228.3 1102.9h1M218.7 1110.5h1M234.3 1110.4h1M226.8 1101.5h1M229.0 1102.4h1M213.8 1106.2h1M213.9 1106.8h1M223.7 1113.6h1M218.8 1102.1h1M239.6 1105.8h1M218.8 1108.7h1M229.9 1113.9h1M223.1 1107.5h1M214.4 1103.4h1M234.8 1091.9h1M230.9 1104.4h1M226.1 1098.1h1M226.1 1100.0h1M227.3 1110.1h1M215.6 1100.8h1M236.1 1101.8h1M224.9 1107.3h1M230.7 1106.6h1M239.0 1105.4h1M222.6 1101.0h1M213.4 1116.8h1M230.6 1101.9h1M248.0 1107.2h1M226.8 1109.8h1M232.9 1106.9h1M223.5 1117.6h1M235.5 1095.7h1M221.6 1103.8h1M222.9 1118.4h1M237.0 1110.9h1M219.7 1105.4h1M229.4 1117.0h1M212.4 1104.3h1M229.3 1101.6h1M225.4 1110.1h1M213.3 1096.0h1M234.2 1100.8h1M217.7 1111.9h1M220.3 1104.0h1M233.7 1113.7h1M241.5 1102.0h1M240.4 1106.9h1M231.4 1112.0h1M238.2 1104.8h1M228.8 1114.1h1M222.1 1104.5h1M226.1 1103.1h1M226.2 1101.4h1M226.9 1112.3h1M216.9 1109.4h1M225.8 1106.1h1M240.0 1109.0h1M233.5 1096.2h1M232.9 1104.0h1M231.7 1107.5h1M228.4 1114.1h1M221.9 1100.2h1M229.8 1108.5h1M228.2 1113.2h1M251.2 1104.1h1M225.4 1102.5h1M214.2 1097.7h1M238.1 1107.3h1M228.7 1104.8h1M224.4 1101.9h1M223.9 1112.4h1M230.3 1121.4h1M226.3 1105.6h1M236.2 1098.5h1M229.5 1104.6h1M224.9 1109.2h1M230.1 1107.8h1M219.8 1106.4h1M222.2 1109.5h1M235.8 1100.7h1M224.4 1112.8h1M229.0 1103.6h1M227.5 1104.9h1M233.6 1107.3h1M229.3 1106.7h1M239.4 1103.4h1M232.3 1105.9h1M222.8 1108.0h1M232.8 1099.8h1M217.0 1118.1h1M236.4 1110.9h1M232.2 1110.2h1M229.7 1114.5h1M224.7 1110.7h1M232.7 1112.4h1M229.6 1102.2h1M235.3 1098.1h1M227.3 1096.7h1M231.8 1099.4h1M235.6 1101.2h1M229.9 1105.0h1M216.1 1107.2h1M220.5 1105.7h1M225.8 1104.6h1M229.3 1117.4h1M225.3 1112.4h1M224.1 1106.8h1M231.5 1108.6h1M241.1 1111.8h1M233.1 1107.9h1M230.4 1108.7h1M225.9 1114.4h1M227.6 1110.6h1M235.5 1115.5h1M228.0 1110.7h1M228.7 1102.3h1M239.8 1101.2h1M228.4 1108.6h1M236.2 1100.4h1M235.9 1116.7h1M223.7 1109.9h1M233.1 1107.0h1M237.8 1108.1h1M224.7 1102.1h1M222.2 1101.3h1M232.6 1096.6h1M231.8 1108.7h1M219.7 1104.9h1M214.8 1104.9h1M238.1 1105.3h1M222.0 1102.2h1M226.5 1111.0h1M239.2 1104.9h1M235.9 1105.9h1M227.0 1117.7h1M226.6 1106.2h1M234.9 1112.0h1M227.3 1106.3h1M223.1 1111.8h1M226.5 1102.8h1M231.3 1104.9h1M229.4 1106.7h1M213.6 1097.5h1M225.1 1109.0h1M236.0 1105.5h1M228.8 1103.5h1M233.0 1114.2h1M219.6 1102.4h1M213.7 1100.6h1M220.1 1105.8h1M224.5 1106.3h1M227.7 1092.7h1M222.3 1098.6h1M225.8 1091.9h1M217.7 1102.1h1M221.7 1107.0h1M217.6 1102.7h1M233.4 1108.0h1M231.5 1110.1h1M255.6 1105.8h1M229.9 1100.6h1M230.6 1106.7h1M234.3 1103.3h1M230.0 1121.5h1M218.8 1093.1h1M218.7 1102.9h1M227.2 1109.8h1M241.6 1105.1h1M233.0 1103.8h1M216.8 1107.1h1M244.3 1106.7h1M213.3 1106.2h1M233.5 1097.9h1M221.7 1100.5h1M215.5 1115.2h1M240.3 1110.1h1M240.3 1106.6h1M241.7 1111.5h1M229.5 1104.7h1M228.9 1110.2h1M226.1 1107.2h1M221.7 1104.3h1M244.6 1112.5h1M222.3 1105.9h1M226.2 1105.9h1M227.8 1106.4h1M227.6 1105.3h1M242.8 1094.4h1M227.5 1092.7h1M212.6 1096.7h1M245.8 1105.1h1M220.2 1109.2h1M222.6 1103.9h1M228.3 1109.1h1M240.2 1103.9h1M227.5 1109.0h1M226.1 1110.5h1M225.8 1101.7h1M232.6 1101.4h1M228.2 1111.5h1M229.0 1106.5h1M230.7 1104.6h1M227.6 1115.6h1M232.2 1102.6h1M230.7 1107.2h1M221.4 1105.8h1M227.6 1095.1h1M232.7 1112.9h1M228.8 1096.2h1M230.0 1093.9h1M238.6 1100.8h1M227.4 1104.7h1M228.4 1101.6h1M233.1 1114.1h1M233.0 1102.3h1M234.6 1104.8h1M213.7 1104.1h1M221.7 1106.0h1M232.2 1111.3h1M227.0 1103.4h1M231.9 1103.0h1M223.0 1105.2h1M233.3 1103.9h1M227.8 1095.2h1M221.1 1102.9h1M224.0 1113.8h1M218.1 1105.8h1M226.8 1105.4h1M212.2 1104.2h1M218.5 1110.1h1M224.0 1102.2h1M223.9 1109.5h1M216.8 1106.0h1M235.5 1101.8h1M235.1 1112.9h1M231.0 1101.9h1M230.0 1103.2h1M235.3 1094.4h1M239.2 1108.0h1M238.1 1104.8h1M235.1 1110.9h1M228.8 1109.5h1M219.4 1111.7h1M223.9 1099.7h1M230.5 1104.6h1M216.4 1112.0h1M233.8 1107.1h1M218.9 1112.1h1M225.6 1104.7h1M225.2 1108.1h1M228.3 1102.7h1M220.6 1108.9h1M229.3 1098.5h1M234.6 1114.5h1M231.0 1107.7h1M236.6 1105.5h1M226.1 1104.1h1M233.9 1093.2h1M226.8 1099.1h1M231.1 1108.4h1M233.5 1105.2h1M226.3 1106.5h1M221.3 1101.6h1M227.0 1100.6h1M227.9 1107.0h1M213.5 1099.4h1M228.3 1111.3h1M224.7 1114.8h1M236.5 1100.3h1M211.1 1106.0h1M228.5 1108.8h1M235.4 1112.8h1M242.0 1111.3h1M236.0 1109.0h1M231.9 1109.2h1M245.2 1107.4h1M231.0 1113.9h1M232.2 1108.1h1M212.9 1089.8h1M230.8 1100.8h1M218.2 1090.3h1M223.1 1106.2h1M232.1 1105.4h1M227.0 1095.4h1M244.8 1097.0h1M228.1 1097.5h1M233.8 1110.4h1M230.1 1104.1h1M226.0 1101.1h1M222.4 1112.6h1M231.8 1107.2h1M234.4 1115.5h1M220.0 1100.4h1M219.9 1110.6h1M236.4 1102.8h1M229.2 1108.4h1M244.7 1103.5h1M224.4 1110.6h1M245.7 1111.2h1M249.2 1108.4h1M214.4 1102.8h1M235.0 1114.5h1M234.4 1107.3h1M223.4 1108.0h1M229.3 1099.3h1M227.5 1108.3h1M243.9 1107.7h1M220.2 1106.6h1M219.2 1108.7h1M219.2 1095.2h1M223.0 1105.2h1M224.4 1107.8h1M229.7 1104.8h1M234.2 1104.9h1M237.8 1113.9h1M236.7 1101.1h1M242.1 1099.5h1M232.8 1101.5h1M223.9 1099.2h1M229.0 1104.1h1M235.2 1111.6h1M218.2 1101.3h1M221.0 1097.6h1M225.9 1099.6h1M216.8 1112.8h1M235.7 1098.3h1M240.0 1108.6h1M221.9 1096.2h1M229.0 1116.5h1M240.3 1113.4h1M238.1 1105.9h1M218.7 1106.4h1M230.7 1102.1h1M229.1 1107.5h1M228.6 1103.7h1M252.2 1097.2h1M219.6 1113.1h1M222.9 1103.9h1M240.1 1111.5h1M221.6 1108.6h1M229.9 1117.7h1M237.7 1107.5h1M225.2 1102.9h1M222.0 1105.4h1M231.6 1103.4h1M226.7 1102.9h1M220.9 1107.3h1M229.6 1102.1h1M223.3 1102.5h1M237.5 1106.0h1M217.0 1103.8h1M223.3 1108.8h1M214.7 1106.0h1M221.8 1110.6h1M228.7 1099.8h1M229.8 1109.9h1M224.8 1102.9h1M235.8 1093.6h1M236.7 1101.9h1M231.2 1096.5h1M238.8 1104.7h1M219.5 1100.0h1M224.7 1099.2h1M235.7 1105.8h1M224.1 1113.5h1M227.5 1098.8h1M227.8 1100.9h1M230.0 1098.3h1M235.9 1113.3h1M229.4 1106.8h1M228.9 1105.3h1M244.4 1102.6h1M233.7 1108.3h1M216.8 1098.5h1M228.0 1109.2h1M227.4 1110.1h1M229.9 1113.5h1M225.1 1105.4h1M230.1 1111.3h1M217.9 1105.2h1M224.2 1110.6h1M236.0 1099.8h1M241.9 1109.8h1M243.7 1107.7h1M216.8 1102.9h1M232.5 1101.1h1M213.7 1119.4h1M217.3 1099.1h1M225.2 1096.2h1M214.2 1110.4h1M227.4 1100.9h1M231.8 1121.0h1M242.2 1109.6h1M225.5 1103.1h1M229.9 1104.3h1M229.9 1102.5h1M234.2 1095.7h1M212.2 1102.0h1M240.6 1105.1h1M226.6 1108.4h1M222.6 1108.6h1M223.8 1104.3h1M217.7 1108.7h1M222.1 1099.1h1M232.3 1098.5h1M220.9 1104.5h1M238.3 1103.8h1M235.0 1107.3h1M221.3 1096.5h1M221.1 1097.7h1M230.2 1106.2h1M215.8 1108.6h1M233.2 1102.3h1M226.5 1101.3h1M213.3 1108.0h1M220.3 1108.1h1M225.6 1108.6h1M226.7 1111.4h1M236.7 1111.6h1M242.0 1097.2h1M236.5 1099.0h1M215.4 1112.8h1M226.7 1110.6h1M236.2 1112.2h1M225.5 1111.7h1M231.6 1101.2h1M227.5 1109.4h1M218.9 1105.3h1M216.5 1111.6h1M228.5 1103.2h1M246.5 1108.4h1M218.9 1102.2h1M233.0 1105.5h1M216.6 1109.3h1M228.2 1103.4h1M222.6 1108.9h1M229.3 1106.2h1M218.0 1104.9h1M237.4 1104.6h1M232.9 1107.0h1M229.3 1110.5h1M215.9 1099.4h1M216.3 1099.8h1M231.7 1100.1h1M231.1 1100.5h1M240.1 1099.7h1M227.2 1108.1h1M241.9 1096.6h1M220.4 1102.3h1M227.4 1106.4h1M226.0 1116.2h1M237.0 1111.2h1M235.2 1099.6h1M214.8 1105.2h1M223.9 1112.6h1M226.7 1102.4h1M222.3 1108.0h1M215.5 1109.4h1M225.9 1109.6h1M240.8 1092.3h1M218.9 1102.4h1M228.0 1105.7h1M219.6 1101.4h1M233.3 1102.9h1M232.0 1102.2h1M236.0 1102.5h1M226.3 1108.9h1M223.3 1103.5h1M225.3 1115.6h1M228.9 1096.5h1M230.1 1114.9h1M230.7 1105.6h1M210.9 1098.9h1M217.0 1097.4h1M221.0 1113.8h1M226.5 1096.5h1M215.8 1096.9h1M226.5 1114.1h1M229.6 1106.2h1M218.9 1108.9h1M224.6 1105.7h1M212.7 1100.7h1M227.9 1104.9h1M229.5 1108.7h1M226.7 1106.4h1M233.3 1098.7h1M237.1 1105.6h1M233.0 1109.5h1M230.7 1103.3h1M227.0 1114.0h1M228.6 1106.6h1M223.8 1101.6h1M235.2 1110.0h1M238.9 1097.1h1M228.7 1117.1h1M223.0 1106.7h1M232.6 1105.7h1M216.6 1107.1h1M212.6 1107.7h1M228.4 1104.8h1M230.6 1110.7h1M219.4 1094.9h1M224.5 1103.4h1M225.4 1110.1h1M217.2 1093.5h1M235.1 1100.3h1M235.0 1101.2h1M229.1 1117.2h1M232.4 1101.4h1M224.3 1103.9h1M225.5 1108.4h1M216.7 1107.5h1M232.5 1104.4h1M231.6 1107.9h1M230.1 1112.2h1M232.7 1097.5h1M226.6 1114.1h1M223.6 1110.5h1M229.9 1099.5h1M226.3 1104.0h1M222.0 1103.8h1M216.2 1107.5h1M244.1 1106.5h1M223.2 1099.1h1M228.5 1109.6h1M226.1 1106.7h1M226.7 1106.5h1M240.3 1101.0h1M220.7 1106.4h1M215.7 1106.1h1M228.0 1114.0h1M230.3 1114.0h1M220.5 1103.8h1M235.9 1100.5h1M223.9 1105.4h1M228.3 1111.5h1M229.6 1111.7h1M236.9 1108.1h1M234.1 1108.4h1M222.3 1109.1h1M227.6 1098.1h1M229.5 1095.3h1M231.5 1104.3h1M230.8 1103.7h1M223.5 1105.1h1M234.5 1103.4h1M222.6 1107.8h1M231.1 1103.8h1M236.7 1106.0h1M215.3 1101.3h1M234.3 1110.0h1M232.3 1090.1h1M234.2 1115.1h1M224.0 1116.4h1M229.6 1102.2h1M232.0 1106.2h1M230.0 1098.2h1M228.6 1119.4h1M231.1 1099.5h1M225.9 1115.6h1M230.0 1094.8h1M238.4 1100.7h1M235.1 1107.2h1M239.7 1109.5h1M223.5 1112.6h1M221.5 1102.5h1M230.5 1110.5h1M224.8 1104.2h1M231.7 1090.1h1M234.5 1107.1h1M235.6 1101.6h1M229.8 1099.2h1M235.1 1108.6h1M223.1 1100.1h1M242.7 1111.5h1M225.2 1120.2h1M224.5 1112.4h1M239.5 1111.2h1M216.8 1104.3h1M231.1 1100.0h1M237.4 1107.7h1M226.2 1104.6h1M223.1 1103.7h1M228.0 1110.3h1M236.3 1097.9h1M225.7 1103.6h1M227.1 1100.7h1M229.0 1110.1h1M212.3 1104.8h1M220.5 1102.1h1M226.9 1115.9h1M222.4 1105.9h1M229.8 1100.4h1M225.0 1117.1h1M227.4 1107.0h1M234.4 1097.9h1M223.4 1093.5h1M219.2 1108.5h1M214.8 1106.6h1M224.0 1099.8h1M227.6 1115.1h1M220.8 1111.0h1M227.5 1109.0h1M218.9 1106.5h1M223.6 1101.9h1M219.1 1107.6h1M226.2 1103.7h1M248.7 1106.5h1M214.0 1104.6h1M241.9 1093.8h1M221.7 1105.2h1M232.4 1107.4h1M234.6 1090.6h1M238.6 1101.4h1M234.6 1114.0h1M238.4 1108.2h1M220.9 1097.4h1M226.6 1100.0h1M234.0 1102.1h1M255.8 1102.9h1M238.7 1110.4h1M217.5 1096.5h1M236.4 1095.3h1M236.0 1094.2h1M231.8 1104.6h1M222.2 1100.2h1M227.6 1112.9h1M229.7 1095.5h1M222.2 1096.9h1M221.1 1103.5h1M227.6 1098.2h1M224.9 1101.7h1M235.9 1112.1h1M216.8 1107.3h1M222.1 1095.1h1M215.1 1105.3h1M227.7 1101.1h1M229.1 1114.4h1M237.9 1108.4h1M223.2 1112.1h1M229.5 1111.4h1M232.1 1111.1h1M229.9 1094.7h1M234.5 1109.1h1M227.2 1097.8h1M219.7 1098.8h1M214.9 1107.7h1M223.3 1100.1h1M234.6 1099.9h1M230.7 1110.2h1M227.6 1100.3h1M230.8 1098.8h1M224.8 1100.6h1M225.5 1100.1h1M222.6 1102.7h1M225.9 1113.7h1M224.3 1096.6h1M221.9 1103.7h1M218.7 1101.4h1M224.5 1112.0h1M221.5 1116.7h1M219.8 1094.5h1M230.9 1098.2h1M234.8 1112.7h1M226.5 1103.9h1M228.0 1100.0h1M226.0 1107.8h1M216.5 1110.4h1M217.9 1107.0h1M231.1 1113.1h1M219.1 1093.5h1M216.7 1099.2h1M239.5 1092.4h1M229.9 1106.5h1M229.1 1110.4h1M221.6 1109.3h1M238.8 1107.3h1M232.7 1105.7h1M216.7 1108.3h1M226.2 1107.7h1M221.3 1103.1h1M225.6 1110.5h1M225.8 1106.6h1M222.8 1104.8h1M220.9 1102.1h1M240.8 1105.7h1M232.6 1106.9h1M244.2 1099.6h1M226.0 1107.9h1M222.4 1111.1h1M220.0 1104.1h1M232.1 1115.7h1M210.6 1097.2h1M211.2 1103.3h1M216.8 1104.7h1M218.2 1102.9h1M231.9 1107.1h1M239.1 1097.5h1M235.3 1099.6h1M226.9 1103.7h1M222.9 1099.3h1M225.4 1108.2h1M225.6 1108.2h1M249.1 1101.9h1M211.3 1101.9h1M212.3 1102.9h1M228.3 1108.3h1M235.4 1100.2h1M234.8 1100.6h1M223.9 1096.4h1M230.2 1110.5h1M238.8 1099.9h1M221.1 1109.5h1M217.4 1111.8h1M226.8 1108.5h1M233.1 1106.5h1M220.0 1107.7h1M233.4 1115.3h1M224.3 1110.5h1M221.5 1104.0h1M218.3 1108.2h1M213.3 1107.7h1M235.0 1114.0h1M219.8 1105.3h1M210.6 1104.3h1M230.3 1104.1h1M224.8 1106.7h1M229.8 1108.1h1M229.2 1102.7h1M229.8 1112.9h1M246.2 1116.5h1M230.3 1097.9h1M238.1 1110.1h1M226.2 1103.9h1M222.6 1103.1h1M222.1 1100.1h1M222.4 1107.0h1M232.1 1111.2h1M220.6 1087.2h1M226.8 1108.0h1M229.5 1105.4h1M228.9 1109.9h1M239.4 1116.5h1M213.0 1109.9h1M226.8 1108.7h1M240.6 1107.5h1M221.1 1108.3h1M243.0 1104.7h1M226.7 1100.8h1M223.3 1105.2h1M228.2 1104.9h1M217.8 1109.1h1M218.0 1106.9h1M225.0 1100.8h1M242.8 1110.6h1M229.6 1111.5h1M222.8 1118.9h1M212.7 1093.8h1M225.8 1112.3h1M221.4 1112.1h1M224.2 1108.7h1M226.5 1111.4h1M228.1 1099.8h1M234.6 1104.9h1M233.2 1100.9h1M221.1 1104.5h1M216.1 1105.4h1M236.0 1097.7h1M231.5 1103.7h1M230.7 1099.3h1M232.9 1091.7h1M227.3 1094.2h1M224.4 1107.0h1M222.8 1101.8h1M233.7 1103.3h1M226.6 1108.3h1M220.1 1108.5h1M233.1 1109.6h1M221.1 1104.6h1M235.8 1106.9h1M231.5 1097.5h1M231.5 1106.3h1M228.0 1108.6h1M224.3 1108.7h1M226.4 1106.4h1M225.9 1109.4h1M232.0 1104.3h1M226.5 1112.0h1M220.9 1102.4h1M227.9 1109.3h1M223.7 1097.1h1M218.8 1107.6h1M226.3 1096.5h1M231.1 1110.4h1M230.5 1104.4h1M228.5 1106.4h1M231.2 1122.1h1M216.4 1104.6h1M213.9 1110.4h1M219.9 1099.0h1M236.3 1107.6h1M218.9 1103.2h1M226.1 1106.2h1M210.8 1109.9h1M221.0 1104.1h1M233.5 1102.9h1M228.9 1105.8h1M239.6 1110.7h1M231.8 1111.3h1M244.9 1098.3h1M239.1 1111.2h1M235.3 1107.0h1M228.1 1106.9h1M227.1 1114.2h1M232.3 1105.7h1M237.5 1104.2h1M229.5 1104.9h1M232.2 1109.4h1M222.3 1101.1h1M224.0 1099.0h1M235.9 1092.6h1M223.5 1105.9h1M231.8 1106.1h1M238.6 1103.4h1M224.6 1098.8h1M219.6 1095.2h1M225.4 1113.0h1M221.1 1108.4h1M220.2 1108.8h1M224.3 1114.6h1M243.7 1098.3h1M231.8 1107.3h1M234.3 1102.6h1M216.1 1094.3h1M226.8 1109.0h1M215.6 1106.6h1M218.1 1101.8h1M228.9 1099.6h1M231.8 1094.2h1M217.4 1112.3h1M217.5 1105.7h1M230.3 1099.4h1M219.6 1105.8h1M220.0 1109.5h1M224.6 1104.4h1M244.5 1111.3h1M213.1 1112.2h1M242.3 1110.9h1M216.6 1113.7h1M212.1 1099.9h1M219.6 1105.3h1M217.7 1093.7h1M236.9 1110.4h1M231.5 1111.8h1M219.4 1107.5h1M222.1 1099.1h1M228.9 1111.7h1M233.9 1108.3h1M225.7 1113.4h1M223.6 1111.4h1M225.4 1102.7h1M215.0 1096.0h1M225.6 1102.9h1M225.5 1104.5h1M237.9 1106.3h1M223.3 1106.0h1M222.6 1099.8h1M238.1 1105.0h1M235.7 1101.8h1M233.0 1113.3h1M238.9 1101.5h1M214.3 1098.5h1M226.6 1090.9h1M221.4 1112.1h1M222.7 1097.1h1M229.9 1110.5h1M225.1 1109.1h1M227.7 1107.7h1M219.7 1095.2h1M237.0 1106.8h1M217.1 1097.1h1M235.2 1110.4h1M226.7 1105.1h1M231.6 1111.8h1M212.8 1107.1h1M218.3 1097.5h1M223.1 1107.1h1M236.4 1116.6h1M220.1 1106.2h1M230.0 1106.0h1M230.2 1104.8h1M221.0 1110.3h1M232.5 1111.9h1M211.1 1107.2h1M225.3 1109.9h1M229.2 1105.3h1M230.2 1107.6h1M223.5 1105.6h1M227.4 1106.1h1M249.2 1104.3h1M211.3 1111.9h1M215.0 1102.3h1M232.3 1114.3h1M216.1 1104.3h1M225.8 1111.6h1M225.1 1101.2h1M238.5 1101.3h1M235.6 1105.0h1M240.0 1109.5h1M218.7 1111.4h1M224.7 1108.3h1M215.2 1103.3h1M246.4 1108.6h1M234.3 1108.1h1M231.5 1106.4h1M231.1 1108.3h1M227.8 1104.8h1M226.9 1109.6h1M223.5 1107.2h1M229.0 1113.3h1M222.7 1110.0h1M227.6 1113.1h1M246.3 1117.3h1M235.4 1109.0h1M242.3 1090.1h1M224.4 1101.1h1M211.4 1102.7h1M245.4 1099.0h1M230.8 1115.0h1M217.9 1109.7h1M227.9 1101.8h1M216.7 1109.3h1M230.8 1117.7h1M226.9 1105.8h1M228.0 1096.4h1M234.6 1117.5h1M222.6 1103.3h1M220.5 1098.6h1M235.3 1105.9h1M232.3 1101.2h1M223.0 1096.1h1M226.6 1112.6h1M226.2 1108.7h1M225.8 1103.6h1M221.8 1112.3h1M228.8 1109.1h1M220.2 1107.8h1M217.8 1097.0h1M230.5 1098.0h1M230.9 1109.8h1M228.0 1114.4h1M227.8 1100.9h1M223.4 1100.8h1M224.2 1112.5h1M226.8 1101.6h1M237.9 1102.0h1M237.0 1106.7h1M223.8 1104.7h1M234.1 1114.5h1M227.0 1114.0h1M225.9 1108.2h1M229.7 1109.3h1M242.2 1099.2h1M228.7 1105.8h1M221.2 1099.9h1M227.1 1109.1h1M235.7 1111.9h1M234.0 1103.4h1M210.7 1107.2h1M219.3 1100.5h1M230.7 1110.2h1M230.1 1100.1h1M228.0 1104.6h1M224.1 1102.2h1M221.4 1112.1h1M211.2 1108.2h1M225.2 1102.3h1M229.6 1117.2h1M214.4 1112.0h1M228.3 1103.2h1M224.2 1105.1h1M229.3 1102.7h1M228.7 1100.3h1M230.8 1126.1h1M231.2 1109.9h1M225.7 1105.6h1M232.2 1115.3h1M234.6 1104.5h1M218.8 1105.8h1M236.4 1117.0h1M221.8 1104.4h1M233.5 1103.9h1M216.3 1106.1h1M219.3 1105.3h1M239.2 1115.5h1M226.9 1104.5h1M235.7 1102.6h1M217.4 1109.6h1M227.0 1105.5h1M228.5 1118.8h1M224.7 1103.5h1M231.5 1111.9h1M219.9 1113.6h1M221.8 1108.1h1M220.3 1102.9h1M224.8 1109.8h1M235.2 1108.3h1M221.5 1103.3h1M225.1 1118.9h1M217.9 1098.4h1M225.7 1096.3h1M221.9 1102.0h1M237.6 1106.9h1M238.8 1106.9h1M220.3 1106.5h1M233.0 1111.6h1M234.6 1099.5h1M215.0 1111.6h1M223.0 1108.5h1M222.3 1103.1h1M219.9 1113.2h1M223.2 1108.0h1M235.5 1112.1h1M216.1 1109.3h1M226.9 1099.8h1M226.7 1104.4h1M215.8 1109.0h1M213.8 1101.1h1M237.1 1103.8h1M238.6 1112.0h1M222.0 1105.9h1M236.7 1107.1h1M233.6 1109.5h1M224.1 1115.9h1M228.4 1112.7h1M221.9 1109.5h1M236.5 1101.4h1M211.8 1111.1h1M217.9 1108.4h1M222.8 1107.3h1M226.9 1109.9h1M223.7 1114.5h1M230.6 1105.5h1M224.0 1099.9h1M252.0 1094.7h1M213.8 1109.0h1M239.6 1107.0h1M231.0 1108.7h1M225.9 1109.8h1M221.2 1108.6h1M212.4 1110.3h1M224.2 1106.0h1M222.9 1096.7h1M228.0 1111.2h1M213.6 1102.5h1M218.4 1107.4h1M218.2 1110.8h1M240.1 1101.9h1M224.7 1104.6h1M225.8 1096.3h1M232.3 1107.9h1M218.7 1097.4h1M227.2 1114.4h1M238.3 1105.3h1M230.9 1096.8h1M217.6 1103.4h1M225.0 1098.5h1M228.7 1105.5h1M225.2 1101.8h1M233.8 1103.5h1M219.0 1109.2h1M235.0 1100.7h1M227.3 1112.7h1M231.2 1103.7h1M236.7 1108.1h1M229.9 1109.2h1M238.9 1108.6h1M221.1 1112.7h1M227.4 1109.2h1M223.2 1093.6h1M219.3 1106.0h1M220.0 1100.5h1M222.1 1112.1h1M232.9 1100.7h1M230.3 1098.8h1M220.2 1107.8h1M228.0 1098.4h1M216.7 1107.2h1M218.1 1111.0h1M231.9 1101.9h1M222.7 1103.1h1M230.5 1099.5h1M227.1 1098.4h1M224.1 1107.1h1M224.4 1105.1h1M231.7 1100.1h1M217.5 1113.9h1M226.1 1107.6h1M230.0 1095.2h1M224.8 1102.8h1M227.4 1106.0h1M233.7 1105.7h1M232.9 1103.1h1M229.8 1110.9h1M227.7 1117.5h1M227.4 1098.0h1M221.9 1104.2h1M217.4 1099.7h1M225.0 1099.7h1M228.3 1105.6h1M227.0 1106.6h1M237.6 1100.6h1M229.6 1107.5h1M227.3 1098.6h1M211.6 1113.1h1M233.6 1104.7h1M228.3 1114.3h1M251.2 1098.7h1M233.9 1103.5h1M235.1 1110.3h1M221.7 1099.3h1M234.2 1119.0h1M230.3 1100.4h1M222.9 1110.6h1M222.2 1114.6h1M220.6 1107.5h1M238.3 1103.7h1M223.9 1093.5h1M234.0 1108.5h1M235.9 1104.8h1M242.8 1109.9h1M229.0 1114.2h1M225.1 1093.7h1M218.0 1111.8h1M230.6 1109.5h1M214.1 1098.4h1M235.3 1106.0h1M241.2 1096.5h1M247.0 1108.7h1M227.2 1112.1h1M232.0 1107.2h1M228.8 1105.4h1M221.8 1104.3h1M232.2 1109.0h1M231.2 1102.1h1M227.4 1092.2h1M230.8 1101.1h1M232.1 1106.4h1M219.1 1104.0h1M230.9 1105.1h1M226.9 1109.3h1M231.2 1101.9h1M219.8 1095.6h1M229.3 1117.4h1M228.2 1109.7h1M239.5 1097.6h1M225.2 1100.5h1M219.7 1103.7h1M233.3 1110.9h1M224.6 1103.3h1M226.2 1099.6h1M235.0 1099.4h1M219.2 1107.2h1M220.4 1109.7h1M214.2 1111.0h1M218.6 1088.5h1M235.5 1093.2h1M222.1 1105.8h1M224.5 1103.7h1M216.9 1110.6h1M233.0 1114.3h1M229.4 1116.3h1M226.9 1108.8h1M225.7 1094.1h1M231.4 1103.9h1M234.2 1092.4h1M221.0 1097.0h1M240.7 1110.4h1M230.9 1106.8h1M212.4 1099.7h1M223.9 1095.8h1M239.1 1106.0h1M243.5 1106.5h1M231.2 1095.5h1M226.9 1108.0h1M230.2 1107.9h1M230.5 1100.1h1M256.4 1103.8h1M217.1 1102.0h1M238.2 1100.0h1M242.6 1097.9h1M243.6 1099.4h1M237.3 1110.8h1M237.6 1101.7h1M251.4 1100.5h1M235.4 1098.0h1M239.1 1099.5h1M227.8 1097.3h1M221.3 1102.9h1M225.6 1097.0h1M225.8 1108.1h1M228.5 1096.5h1M232.8 1105.1h1M231.5 1097.4h1M240.7 1094.6h1M227.7 1095.3h1M225.2 1109.5h1M229.4 1094.9h1M224.8 1110.8h1M243.3 1103.8h1M222.1 1099.9h1M227.8 1103.3h1M218.2 1106.8h1M231.2 1113.8h1M221.9 1104.2h1M224.5 1112.3h1M228.3 1103.2h1M236.6 1099.6h1M227.5 1103.2h1M234.5 1104.1h1M232.3 1093.3h1M219.6 1102.5h1M236.8 1102.6h1M244.5 1103.0h1M220.8 1104.1h1M216.3 1103.1h1M229.1 1093.7h1M229.1 1109.3h1M217.0 1107.6h1M235.1 1103.8h1M216.9 1108.5h1M230.8 1101.4h1M240.5 1091.4h1M228.4 1101.2h1M220.2 1104.1h1M224.3 1108.0h1M236.0 1106.3h1M210.8 1101.6h1M212.0 1102.5h1M243.2 1106.9h1M234.5 1099.7h1M227.2 1104.4h1M221.3 1095.5h1M221.0 1095.2h1M233.6 1096.3h1M226.4 1107.4h1M222.6 1102.7h1M230.0 1093.0h1M235.0 1101.9h1M238.4 1101.2h1M217.0 1100.6h1M229.9 1098.7h1M239.2 1105.7h1M241.8 1098.0h1M219.2 1106.5h1M246.5 1108.9h1M229.5 1095.0h1M235.6 1101.2h1M233.4 1098.9h1M230.0 1097.7h1M231.0 1109.8h1M238.4 1101.7h1M218.4 1099.0h1M236.6 1094.8h1M248.1 1097.9h1M231.7 1099.4h1M245.8 1096.6h1M229.2 1104.9h1M229.0 1105.7h1M241.5 1095.0h1M233.3 1101.0h1M233.7 1095.8h1M233.3 1104.1h1M226.7 1105.7h1M230.8 1100.7h1M234.1 1099.6h1M223.3 1098.4h1M223.0 1099.9h1M237.3 1103.2h1M237.5 1108.5h1M231.8 1103.2h1M220.3 1108.0h1M231.1 1092.4h1M215.7 1098.7h1M232.0 1104.2h1M236.9 1103.3h1M221.4 1096.7h1M230.3 1094.5h1M216.5 1101.7h1M231.3 1099.5h1M252.4 1111.1h1M222.2 1105.5h1M231.5 1093.2h1M236.4 1101.1h1M226.9 1097.2h1M236.7 1109.2h1M235.1 1097.2h1M222.1 1105.1h1M238.1 1094.4h1M236.4 1098.7h1M225.0 1104.9h1M237.2 1100.8h1M233.0 1104.3h1M239.6 1102.7h1M249.8 1092.9h1M234.9 1099.0h1M232.4 1101.9h1M228.1 1102.1h1M224.1 1102.3h1M228.3 1098.2h1M217.4 1105.1h1M242.2 1102.4h1M222.9 1094.7h1M233.5 1104.7h1M225.8 1102.7h1M214.5 1108.6h1M226.9 1099.0h1M217.3 1104.2h1M242.8 1103.9h1M228.4 1104.9h1M240.7 1099.5h1M220.3 1104.7h1M231.1 1094.7h1M225.4 1101.9h1M242.0 1108.2h1M245.0 1108.3h1M225.2 1100.2h1M237.5 1103.2h1M225.4 1103.4h1M235.7 1099.3h1M227.0 1096.0h1M223.1 1106.4h1M235.4 1107.6h1M230.7 1097.7h1M219.2 1101.1h1M221.4 1106.9h1M218.3 1100.2h1M244.2 1094.2h1M236.5 1098.1h1M227.3 1101.8h1M239.9 1099.3h1M244.3 1106.3h1M237.8 1109.7h1M227.9 1099.8h1M227.1 1102.8h1M233.4 1106.5h1M244.9 1103.5h1M227.2 1100.3h1M233.3 1107.0h1M231.8 1104.6h1M234.4 1101.3h1M215.5 1092.8h1M237.4 1097.9h1M213.8 1092.5h1M231.3 1093.8h1M219.2 1099.5h1M228.6 1105.0h1M212.8 1100.5h1M236.8 1107.3h1M228.5 1100.5h1M224.6 1098.6h1M230.6 1113.3h1M235.3 1101.4h1M226.5 1104.1h1M220.9 1100.0h1M227.7 1101.1h1M231.8 1102.0h1M234.1 1100.0h1M246.2 1094.5h1M234.3 1098.4h1M238.0 1112.2h1M244.3 1098.6h1M231.6 1101.0h1M211.0 1095.2h1M227.5 1089.6h1M223.3 1098.7h1M236.4 1102.0h1M233.2 1101.2h1M243.9 1095.5h1M235.7 1098.9h1M258.1 1101.3h1M216.7 1112.4h1M226.3 1100.3h1M233.8 1094.7h1M226.4 1108.6h1M225.3 1103.9h1M218.8 1101.8h1M232.4 1103.2h1M224.2 1101.1h1M230.5 1096.7h1M236.6 1101.9h1M239.2 1094.1h1M230.0 1101.2h1M221.6 1105.3h1M220.9 1099.3h1M229.1 1110.4h1M241.6 1094.9h1M240.8 1098.7h1M218.2 1096.0h1M228.6 1105.5h1M211.7 1098.4h1M242.1 1100.1h1M245.2 1100.8h1M232.1 1109.9h1M222.1 1094.5h1M235.7 1096.3h1M224.7 1100.2h1M235.2 1102.8h1M237.6 1106.6h1M249.6 1090.4h1M232.5 1096.6h1M232.4 1107.1h1M218.6 1106.6h1M228.0 1106.5h1M248.9 1101.6h1M227.3 1099.2h1M226.2 1106.4h1M224.7 1103.3h1M241.8 1103.2h1M220.4 1095.7h1M219.9 1098.2h1M239.7 1092.1h1M246.7 1104.6h1M224.3 1104.7h1M231.2 1099.2h1M225.5 1093.0h1M223.1 1092.4h1M229.5 1094.8h1M224.6 1106.6h1M238.8 1099.0h1M220.3 1110.3h1M220.3 1111.0h1M236.1 1100.4h1M236.3 1097.3h1M235.7 1104.1h1M233.2 1099.4h1M217.1 1101.0h1M266.1 1097.0h1M225.6 1096.5h1M231.0 1100.2h1M225.5 1095.7h1M236.2 1106.7h1M228.7 1101.8h1M220.3 1100.4h1M244.0 1106.7h1M239.0 1093.8h1M234.8 1098.9h1M234.1 1107.9h1M216.1 1097.4h1M241.1 1103.3h1M224.5 1094.9h1M223.5 1099.9h1M240.9 1095.5h1M241.6 1095.7h1M229.5 1101.9h1M222.1 1114.2h1M231.4 1097.8h1M247.8 1100.7h1M236.3 1103.8h1M223.7 1102.3h1M230.8 1103.3h1M238.4 1102.5h1M224.9 1090.1h1M216.0 1098.2h1M230.7 1096.3h1M221.2 1096.7h1M235.3 1098.0h1M237.7 1097.5h1M232.1 1108.7h1M236.3 1103.2h1M233.1 1105.6h1M235.9 1100.3h1M223.0 1108.8h1M238.8 1106.4h1M236.2 1107.2h1M232.0 1101.4h1M231.6 1100.7h1M236.8 1101.6h1M230.3 1100.9h1M237.5 1104.2h1M228.3 1101.6h1M236.8 1104.0h1M240.4 1100.3h1M222.2 1103.7h1M234.4 1105.6h1M227.8 1100.5h1M230.7 1101.8h1M226.2 1101.6h1M228.5 1099.8h1M229.5 1100.6h1M231.3 1104.6h1M232.9 1095.5h1M220.3 1101.1h1M219.4 1108.1h1M236.5 1105.9h1M223.5 1098.2h1M226.8 1099.8h1M249.2 1099.6h1M253.2 1097.4h1M233.1 1093.9h1M222.0 1094.7h1M231.3 1106.5h1M235.8 1103.0h1M213.7 1097.4h1M238.7 1100.7h1M224.2 1104.2h1M237.1 1098.9h1M225.6 1101.7h1M223.8 1103.9h1M221.7 1097.8h1M234.9 1093.7h1M233.8 1109.8h1M218.5 1094.7h1M251.2 1102.3h1M229.3 1099.4h1M232.9 1093.0h1M251.1 1097.3h1M235.0 1096.9h1M230.9 1110.7h1M238.1 1098.7h1M220.5 1098.8h1M231.1 1099.8h1M246.7 1101.8h1M233.4 1100.3h1M229.9 1117.1h1M232.7 1097.4h1M236.6 1094.1h1M223.4 1098.6h1M243.8 1098.4h1M238.4 1106.4h1M216.0 1096.0h1M219.7 1107.5h1M248.9 1096.2h1M232.2 1098.6h1M219.6 1103.7h1M230.7 1109.2h1M238.1 1110.8h1M226.5 1095.5h1M242.4 1099.1h1M219.5 1103.6h1M237.6 1097.1h1M227.1 1099.8h1M238.0 1090.1h1M225.1 1101.0h1M237.9 1102.4h1M228.7 1110.0h1M245.7 1101.6h1M231.1 1095.1h1M228.0 1106.7h1M234.7 1107.7h1M214.6 1106.8h1M232.2 1094.9h1M211.1 1110.9h1M231.7 1102.4h1M224.5 1101.6h1M225.5 1095.9h1M222.2 1102.0h1M236.3 1099.2h1M238.1 1103.6h1M219.2 1093.6h1M215.8 1100.2h1M239.8 1106.4h1M233.8 1104.8h1M217.6 1113.4h1M231.1 1096.1h1M223.8 1103.9h1M232.6 1103.2h1M222.2 1104.8h1M222.8 1099.1h1M229.9 1097.5h1M228.6 1105.0h1M227.2 1097.4h1M231.1 1107.0h1M231.7 1103.3h1M224.8 1099.2h1M243.8 1095.1h1M226.2 1108.7h1M232.3 1098.8h1M237.1 1109.2h1M224.1 1107.4h1M228.6 1106.2h1M218.9 1094.5h1M225.8 1098.5h1M212.1 1103.5h1M216.9 1096.2h1M228.0 1103.9h1M231.9 1101.5h1M230.3 1096.7h1M227.5 1108.7h1M225.8 1101.2h1M230.8 1114.9h1M240.6 1099.6h1M237.0 1101.5h1M241.5 1094.1h1M255.3 1099.1h1M224.2 1100.8h1M225.8 1096.5h1M232.7 1099.8h1M235.4 1102.1h1M249.6 1103.2h1M229.6 1101.7h1M241.5 1099.2h1M225.5 1099.5h1M220.0 1101.0h1M238.7 1098.1h1M238.4 1107.1h1M226.9 1095.4h1M231.7 1104.0h1M216.8 1104.0h1M222.5 1110.2h1M246.7 1101.0h1M237.3 1105.3h1M240.0 1110.2h1M242.4 1111.0h1M236.5 1103.8h1M217.0 1103.0h1M220.7 1103.4h1M226.4 1106.7h1M240.9 1097.2h1M229.3 1096.9h1M234.9 1103.4h1M240.7 1106.5h1M235.4 1110.3h1M216.2 1102.3h1M235.0 1105.1h1M231.4 1098.8h1M226.3 1101.6h1M217.8 1102.3h1M229.2 1096.0h1M221.1 1099.8h1M229.8 1101.4h1M228.6 1109.4h1M235.7 1097.7h1M238.2 1099.2h1M216.6 1106.3h1M234.3 1110.0h1M239.9 1113.8h1M220.4 1108.6h1M217.7 1095.9h1M224.9 1099.9h1M218.4 1099.1h1M223.9 1106.6h1M232.6 1101.2h1M233.0 1113.3h1M212.0 1098.4h1M244.2 1099.2h1M217.2 1103.2h1M222.5 1097.4h1M253.5 1102.9h1M244.2 1101.3h1M219.9 1102.1h1M233.2 1101.8h1M219.2 1096.0h1M224.7 1105.2h1M229.6 1107.3h1M222.7 1101.1h1M232.5 1097.1h1M213.9 1104.7h1M219.2 1096.7h1M245.6 1094.5h1M236.9 1106.7h1M243.1 1098.7h1M233.3 1096.4h1M231.1 1106.0h1M225.5 1099.7h1M212.2 1100.5h1M218.1 1099.4h1M213.8 1096.6h1M223.1 1105.3h1M223.3 1104.5h1M238.9 1099.6h1M215.4 1101.3h1M225.4 1095.7h1M229.6 1105.9h1M242.5 1093.2h1M226.5 1164.0h1M211.5 1163.0h1M221.9 1167.2h1M222.1 1173.6h1M216.5 1158.1h1M219.0 1154.4h1M218.6 1162.9h1M230.7 1162.4h1M226.4 1170.0h1M215.2 1161.2h1M223.0 1160.0h1M226.2 1175.6h1M233.3 1169.7h1M218.1 1162.4h1M229.0 1158.7h1M226.3 1158.2h1M214.8 1157.6h1M214.0 1169.6h1M212.8 1172.5h1M223.6 1163.2h1M246.1 1169.5h1M210.8 1167.2h1M225.3 1162.6h1M240.3 1169.8h1M225.6 1148.9h1M217.0 1156.5h1M214.1 1165.3h1M224.9 1171.7h1M232.1 1160.8h1M219.0 1170.1h1M214.6 1171.6h1M242.7 1162.9h1M210.6 1156.1h1M221.6 1166.0h1M220.3 1173.4h1M219.4 1166.5h1M239.4 1166.3h1M237.5 1158.8h1M234.0 1171.4h1M216.6 1157.4h1M230.0 1178.7h1M224.8 1171.5h1M218.9 1161.2h1M230.4 1164.2h1M233.4 1168.0h1M213.9 1166.6h1M237.5 1164.2h1M229.1 1156.7h1M220.6 1172.1h1M214.2 1169.1h1M210.8 1158.9h1M216.2 1167.3h1M223.2 1163.9h1M219.1 1164.1h1M215.6 1169.9h1M219.5 1158.9h1M227.0 1161.7h1M220.8 1158.0h1M228.4 1163.9h1M225.3 1169.1h1M219.0 1164.1h1M233.1 1158.5h1M212.9 1161.0h1M224.7 1166.9h1M238.6 1167.7h1M228.1 1162.2h1M224.6 1164.8h1M229.7 1164.3h1M234.7 1156.8h1M233.7 1159.2h1M212.7 1164.9h1M221.6 1166.2h1M237.8 1162.9h1M232.8 1164.0h1M230.9 1168.1h1M234.6 1162.9h1M231.0 1167.1h1M234.5 1161.5h1M225.9 1172.5h1M222.9 1179.4h1M231.4 1174.2h1M225.4 1158.6h1M237.0 1164.1h1M226.3 1165.7h1M213.3 1160.6h1M226.7 1156.3h1M230.7 1163.5h1M230.8 1157.3h1M224.5 1167.4h1M221.5 1162.5h1M215.5 1166.1h1M254.7 1171.0h1M223.7 1176.6h1M231.5 1176.2h1M229.2 1152.8h1M213.8 1175.6h1M215.8 1169.8h1M220.5 1171.3h1M230.2 1157.3h1M225.8 1164.6h1M218.4 1163.5h1M241.1 1179.0h1M224.8 1163.7h1M213.1 1166.6h1M226.2 1178.7h1M237.5 1164.5h1M214.8 1159.8h1M229.5 1165.3h1M218.0 1162.9h1M229.4 1167.7h1M228.4 1171.9h1M221.2 1160.5h1M228.3 1164.5h1M223.1 1169.6h1M212.1 1165.5h1M213.5 1176.1h1M231.8 1167.0h1M217.9 1160.1h1M221.9 1164.4h1M230.2 1168.9h1M225.3 1154.7h1M232.8 1157.6h1M225.7 1154.9h1M219.7 1158.5h1M225.4 1162.7h1M232.8 1155.0h1M220.9 1169.6h1M228.8 1165.7h1M218.3 1162.7h1M211.5 1180.0h1M222.3 1168.9h1M225.5 1161.6h1M251.4 1167.5h1M235.6 1168.1h1M238.5 1164.7h1M238.1 1158.1h1M224.1 1170.3h1M242.0 1162.4h1M216.3 1163.9h1M229.0 1164.2h1M247.4 1170.6h1M227.8 1164.8h1M210.8 1165.3h1M233.1 1164.7h1M243.3 1165.1h1M216.7 1164.9h1M221.6 1154.4h1M221.1 1166.5h1M212.1 1161.4h1M237.3 1166.2h1M234.7 1167.7h1M243.6 1166.9h1M239.6 1175.0h1M221.7 1165.0h1M218.5 1167.4h1M236.8 1152.0h1M244.5 1157.4h1M216.8 1166.7h1M218.3 1161.6h1M227.5 1166.0h1M228.3 1162.6h1M221.7 1168.2h1M230.2 1168.5h1M232.3 1166.2h1M234.9 1164.6h1M230.8 1166.7h1M231.4 1172.0h1M230.9 1159.1h1M224.5 1161.1h1M243.9 1169.0h1M221.9 1163.4h1M222.2 1163.6h1M235.1 1172.7h1M224.0 1167.2h1M233.2 1163.4h1M240.3 1169.9h1M219.1 1168.8h1M235.5 1170.7h1M223.4 1167.7h1M226.6 1158.7h1M232.7 1165.7h1M215.5 1160.0h1M227.2 1169.5h1M219.3 1161.4h1M234.9 1161.8h1M231.9 1159.6h1M228.4 1167.9h1M225.3 1169.4h1M228.2 1173.2h1M217.8 1168.4h1M233.3 1163.9h1M225.1 1162.8h1M236.3 1167.8h1M223.3 1161.4h1M219.7 1159.5h1M239.7 1168.8h1M220.6 1167.8h1M229.1 1162.9h1M229.0 1163.2h1M211.9 1176.7h1M226.5 1170.6h1M246.4 1157.4h1M226.5 1160.1h1M234.7 1159.6h1M242.4 1163.5h1M229.8 1170.8h1M221.9 1165.1h1M224.6 1170.5h1M251.3 1161.3h1M225.8 1175.4h1M219.1 1161.0h1M239.4 1167.2h1M232.6 1167.1h1M210.7 1161.4h1M215.0 1157.0h1M241.8 1158.0h1M227.5 1167.1h1M223.3 1160.1h1M240.8 1171.3h1M221.8 1158.8h1M224.1 1173.6h1M228.0 1162.5h1M241.6 1176.9h1M217.1 1170.1h1M229.5 1155.2h1M242.7 1174.4h1M230.7 1152.2h1M242.9 1161.8h1M225.2 1155.9h1M219.8 1163.1h1M230.3 1163.2h1M243.1 1180.2h1M219.0 1165.5h1M225.2 1161.6h1M251.8 1156.7h1M230.8 1167.0h1M232.4 1160.7h1M214.5 1165.6h1M222.4 1162.5h1M235.0 1173.3h1M229.7 1156.5h1M222.5 1158.4h1M220.8 1153.6h1M217.8 1165.8h1M220.8 1163.7h1M247.2 1159.7h1M217.6 1154.5h1M229.6 1166.3h1M245.0 1157.2h1M215.7 1161.5h1M227.9 1156.7h1M227.8 1164.0h1M226.4 1166.8h1M214.9 1174.8h1M241.8 1155.4h1M216.8 1164.5h1M229.7 1166.7h1M212.6 1169.7h1M247.4 1163.6h1M229.1 1166.7h1M216.1 1167.4h1M237.4 1167.1h1M224.9 1175.5h1M222.1 1175.9h1M230.3 1170.2h1M220.8 1162.1h1M228.2 1166.9h1M220.1 1166.5h1M217.9 1162.3h1M227.6 1164.0h1M219.2 1174.5h1M215.6 1154.6h1M221.6 1169.4h1M225.7 1168.4h1M232.8 1163.1h1M212.7 1172.9h1M219.1 1164.2h1M231.0 1160.2h1M230.7 1165.5h1M224.2 1165.8h1M235.2 1175.2h1M213.3 1171.3h1M240.2 1166.4h1M218.9 1162.2h1M243.2 1169.4h1M219.5 1168.7h1M218.9 1168.6h1M229.6 1158.2h1M222.1 1158.1h1M240.1 1173.8h1M249.0 1170.6h1M241.4 1157.8h1M224.8 1178.7h1M223.2 1171.1h1M228.0 1157.8h1M235.7 1162.6h1M219.4 1169.5h1M217.3 1162.8h1M213.2 1162.1h1M229.2 1167.3h1M217.1 1166.1h1M216.2 1165.4h1M225.7 1171.4h1M235.9 1171.9h1M235.5 1174.5h1M216.9 1166.2h1M227.0 1159.7h1M221.9 1161.7h1M218.8 1166.7h1M214.3 1159.5h1M217.6 1169.7h1M230.6 1166.7h1M235.4 1161.8h1M230.9 1177.5h1M238.4 1166.5h1M229.4 1164.6h1M244.4 1165.9h1M236.1 1164.7h1M213.9 1168.8h1M216.9 1174.6h1M227.5 1152.8h1M222.0 1171.3h1M212.0 1160.4h1M217.8 1159.4h1M217.7 1169.0h1M219.5 1171.5h1M235.6 1160.1h1M224.6 1170.6h1M217.5 1179.2h1M247.1 1157.5h1M214.9 1160.8h1M222.6 1162.4h1M223.3 1156.6h1M217.8 1170.8h1M226.8 1176.3h1M228.5 1163.2h1M247.9 1171.8h1M228.7 1157.3h1M225.3 1169.4h1M240.5 1160.1h1M217.0 1161.7h1M232.9 1155.6h1M221.5 1168.8h1M221.8 1158.5h1M213.2 1169.0h1M224.0 1170.5h1M215.9 1169.2h1M212.8 1177.6h1M216.0 1165.4h1M235.7 1166.8h1M239.5 1174.9h1M237.1 1164.6h1M232.8 1170.6h1M233.7 1166.3h1M232.9 1167.4h1M222.5 1162.9h1M215.1 1150.7h1M213.6 1165.0h1M233.2 1155.8h1M221.7 1169.1h1M235.9 1173.3h1M223.1 1164.6h1M225.3 1154.6h1M234.3 1158.3h1M225.4 1163.1h1M232.0 1169.1h1M213.8 1169.0h1M214.0 1157.8h1M224.9 1159.9h1M232.1 1168.5h1M240.9 1168.5h1M226.4 1164.2h1M215.1 1160.4h1M223.3 1163.2h1M220.2 1162.1h1M219.1 1158.0h1M225.1 1165.2h1M226.3 1163.7h1M231.4 1161.9h1M229.3 1167.4h1M218.7 1156.7h1M211.7 1169.0h1M217.9 1163.9h1M215.3 1166.8h1M230.8 1163.1h1M231.4 1162.2h1M222.7 1163.6h1M220.7 1160.3h1M219.5 1168.6h1M213.4 1173.4h1M217.9 1163.7h1M216.5 1165.1h1M211.1 1166.9h1M218.4 1169.0h1M219.0 1156.0h1M232.8 1152.3h1M238.1 1159.5h1M232.1 1158.8h1M248.0 1165.5h1M235.9 1172.2h1M238.5 1163.0h1M223.7 1166.6h1M216.7 1174.5h1M230.6 1164.9h1M214.9 1160.6h1M231.8 1163.2h1M225.9 1167.3h1M212.4 1166.7h1M235.4 1159.2h1M228.5 1166.6h1M241.2 1155.1h1M218.1 1163.3h1M217.2 1170.8h1M223.0 1170.3h1M228.2 1169.2h1M214.6 1167.9h1M230.9 1158.8h1M239.9 1169.4h1M239.9 1166.1h1M222.8 1167.2h1M230.3 1162.1h1M222.2 1157.0h1M239.2 1169.6h1M225.6 1172.8h1M223.9 1169.5h1M233.5 1167.2h1M235.7 1165.2h1M217.7 1173.2h1M228.4 1174.7h1M234.6 1176.4h1M225.1 1166.8h1M221.2 1163.7h1M235.5 1166.8h1M236.1 1163.7h1M217.0 1163.7h1M221.1 1160.2h1M228.0 1167.0h1M229.8 1165.0h1M211.0 1175.8h1M229.3 1160.3h1M247.5 1165.6h1M222.8 1168.2h1M229.6 1172.9h1M226.1 1168.0h1M239.9 1164.7h1M232.1 1165.4h1M223.3 1168.0h1M216.7 1168.7h1M234.9 1174.7h1M231.7 1165.8h1M230.5 1157.4h1M235.9 1168.2h1M243.7 1172.5h1M213.1 1173.7h1M234.8 1166.8h1M222.4 1161.6h1M229.9 1170.1h1M234.1 1161.0h1M232.7 1169.8h1M222.1 1172.3h1M236.1 1161.7h1M215.1 1170.5h1M220.8 1175.3h1M228.1 1169.0h1M217.4 1164.7h1M231.8 1169.6h1M230.8 1167.9h1M226.3 1169.5h1M218.6 1166.4h1M214.5 1162.4h1M231.3 1155.7h1M212.4 1179.0h1M224.0 1164.3h1M245.9 1159.9h1M255.4 1170.8h1M240.5 1164.1h1M216.2 1165.7h1M214.9 1168.0h1M239.8 1157.3h1M223.6 1164.3h1M222.7 1165.7h1M211.1 1160.2h1M225.1 1172.9h1M236.1 1165.5h1M230.7 1166.1h1M211.2 1172.7h1M240.6 1167.9h1M232.6 1175.8h1M227.8 1169.4h1M248.2 1158.7h1M224.3 1169.1h1M216.5 1166.0h1M229.2 1165.7h1M226.7 1163.8h1M225.7 1170.4h1M221.9 1168.3h1M217.0 1169.1h1M227.8 1165.9h1M232.2 1170.0h1M222.5 1161.9h1M238.9 1172.1h1M220.2 1159.5h1M234.9 1162.4h1M219.1 1164.2h1M249.5 1170.8h1M232.2 1162.8h1M224.1 1161.5h1M243.7 1165.4h1M224.9 1158.9h1M213.0 1168.2h1M221.1 1167.3h1M229.4 1165.2h1M221.9 1162.3h1M234.1 1162.5h1M215.7 1161.6h1M217.7 1167.3h1M224.6 1169.9h1M219.8 1169.9h1M213.6 1162.5h1M225.0 1173.2h1M232.4 1163.3h1M228.7 1178.8h1M223.3 1167.4h1M235.4 1162.0h1M214.6 1156.3h1M231.5 1173.5h1M228.1 1161.8h1M222.1 1173.5h1M229.4 1165.5h1M228.6 1153.3h1M219.2 1177.4h1M211.9 1170.6h1M221.3 1163.2h1M223.8 1160.9h1M216.4 1169.6h1M218.4 1169.3h1M226.9 1158.8h1M230.9 1154.8h1M216.0 1170.9h1M248.0 1158.9h1M211.3 1162.0h1M236.2 1161.4h1M239.1 1160.5h1M240.6 1172.0h1M220.9 1168.4h1M237.2 1157.5h1M224.6 1161.7h1M214.3 1169.2h1M212.9 1168.9h1M236.0 1159.5h1M231.8 1172.2h1M222.6 1167.0h1M233.8 1155.9h1M242.8 1171.5h1M212.4 1159.7h1M220.8 1163.8h1M230.7 1165.1h1M220.4 1172.4h1M219.1 1166.7h1M243.2 1163.1h1M233.2 1168.7h1M234.0 1158.6h1M222.8 1158.8h1M214.7 1168.0h1M214.4 1157.7h1M212.7 1160.7h1M220.4 1162.9h1M212.6 1154.9h1M231.2 1158.3h1M218.8 1154.9h1M212.9 1162.8h1M235.3 1176.6h1M224.6 1163.0h1M222.2 1167.5h1M231.5 1169.9h1M217.7 1163.4h1M245.6 1168.1h1M233.1 1169.7h1M233.1 1158.8h1M232.2 1155.3h1M235.1 1166.0h1M228.1 1153.6h1M233.9 1165.2h1M230.4 1165.9h1M232.8 1168.2h1M229.3 1172.0h1M221.2 1160.0h1M229.5 1157.8h1M223.0 1178.6h1M227.1 1161.6h1M226.0 1164.7h1M217.6 1171.6h1M233.3 1164.7h1M218.8 1159.5h1M217.7 1165.9h1M229.8 1159.7h1M213.4 1172.5h1M233.7 1159.0h1M218.2 1158.0h1M225.7 1164.6h1M223.7 1165.4h1M214.2 1169.3h1M215.8 1161.8h1M229.2 1165.1h1M218.8 1165.7h1M228.5 1169.4h1M224.0 1165.0h1M228.8 1158.6h1M221.6 1167.9h1M214.2 1160.6h1M221.6 1161.9h1M215.2 1164.8h1M218.0 1155.9h1M218.9 1166.7h1M228.0 1159.1h1M213.0 1166.6h1M227.4 1178.6h1M220.1 1159.6h1M234.6 1155.8h1M210.8 1172.3h1M232.9 1156.7h1M250.6 1162.1h1M222.8 1171.6h1M235.4 1153.6h1M219.2 1164.0h1M239.7 1164.1h1M240.3 1164.1h1M231.1 1171.8h1M219.0 1169.8h1M235.6 1163.9h1M215.1 1168.7h1M225.9 1171.3h1M216.2 1173.5h1M223.4 1163.8h1M217.9 1171.1h1M224.3 1163.3h1M213.1 1166.1h1M223.0 1169.3h1M219.9 1165.4h1M244.9 1162.7h1M219.8 1159.7h1M247.6 1164.7h1M217.0 1162.2h1M217.1 1169.9h1M223.1 1163.2h1M230.2 1163.8h1M225.2 1167.0h1M235.8 1159.5h1M220.5 1163.3h1M236.0 1159.8h1M221.1 1166.3h1M236.4 1176.3h1M229.6 1165.1h1M212.1 1157.3h1M224.8 1168.4h1M242.9 1163.5h1M227.4 1161.9h1M235.3 1169.0h1M221.0 1168.9h1M216.7 1174.4h1M222.7 1164.2h1M223.4 1173.1h1M229.7 1167.1h1M227.1 1166.5h1M228.5 1174.1h1M216.2 1167.4h1M222.7 1169.0h1M230.0 1159.2h1M221.4 1170.2h1M216.6 1165.0h1M226.7 1158.7h1M232.9 1159.4h1M235.4 1167.6h1M218.4 1167.9h1M233.0 1161.3h1M231.2 1161.8h1M230.6 1160.8h1M214.3 1173.4h1M221.9 1162.8h1M218.8 1166.8h1M230.3 1164.1h1M225.1 1177.4h1M235.1 1156.8h1M222.2 1164.0h1M218.2 1167.9h1M232.0 1172.4h1M245.2 1170.8h1M225.7 1172.5h1M233.4 1170.0h1M225.9 1163.0h1M212.7 1160.3h1M236.0 1161.4h1M249.9 1167.8h1M233.9 1157.3h1M227.4 1166.8h1M214.4 1169.1h1M226.9 1167.5h1M222.3 1159.9h1M232.4 1162.1h1M242.9 1165.2h1M235.6 1164.5h1M227.5 1163.5h1M212.5 1163.1h1M241.6 1169.2h1M236.5 1165.7h1M219.3 1169.8h1M216.9 1160.3h1M231.3 1166.3h1M224.5 1172.2h1M223.4 1173.8h1M220.8 1163.6h1M218.8 1155.8h1M231.2 1169.3h1M220.8 1160.5h1M225.6 1167.9h1M241.6 1161.1h1M216.7 1174.8h1M226.5 1168.9h1M215.4 1163.6h1M225.0 1152.4h1M235.4 1163.0h1M230.3 1174.1h1M230.2 1162.2h1M234.5 1167.3h1M221.0 1169.9h1M211.3 1157.6h1M230.0 1163.2h1M214.9 1160.3h1M214.9 1164.1h1M218.0 1161.5h1M242.8 1168.1h1M221.0 1160.0h1M229.8 1169.2h1M233.1 1154.9h1M222.2 1169.2h1M216.4 1167.8h1M223.7 1175.0h1M229.0 1164.6h1M230.2 1172.9h1M221.8 1170.5h1M216.2 1164.0h1M233.6 1169.4h1M219.7 1174.1h1M220.3 1169.3h1M228.7 1159.0h1M221.8 1162.5h1M226.9 1155.0h1M220.0 1172.1h1M219.0 1169.0h1M211.3 1168.8h1M235.0 1174.7h1M222.5 1167.6h1M220.8 1164.0h1M228.7 1167.9h1M222.5 1166.2h1M218.1 1169.9h1M218.0 1156.5h1M214.6 1178.0h1M227.8 1170.5h1M219.3 1159.7h1M224.9 1164.3h1M220.5 1168.9h1M224.1 1163.1h1M234.3 1162.5h1M216.0 1155.6h1M219.9 1159.5h1M211.6 1163.0h1M221.9 1169.9h1M236.5 1164.8h1M219.2 1167.7h1M225.5 1160.5h1M231.5 1159.6h1M227.1 1165.2h1M227.9 1170.9h1M235.4 1164.6h1M228.4 1174.6h1M221.7 1167.5h1M227.3 1168.9h1M229.0 1162.3h1M232.5 1174.4h1M217.0 1159.8h1M229.3 1157.6h1M218.8 1162.6h1M227.4 1161.1h1M228.9 1161.4h1M227.1 1170.2h1M222.7 1165.4h1M224.6 1150.3h1M215.7 1156.8h1M220.4 1161.3h1M233.5 1168.1h1M214.2 1161.8h1M222.2 1166.3h1M220.6 1166.5h1M231.1 1168.3h1M221.3 1169.6h1M242.0 1162.9h1M227.6 1153.0h1M220.1 1176.6h1M224.6 1164.0h1M255.0 1159.2h1M248.3 1153.6h1M246.5 1162.9h1M254.1 1173.5h1M258.5 1171.8h1M247.5 1162.2h1M253.4 1157.6h1M252.8 1167.6h1M262.3 1168.2h1M247.4 1155.1h1M252.9 1167.2h1M266.6 1160.3h1M255.6 1156.6h1M262.7 1166.9h1M260.5 1178.3h1M246.6 1160.1h1M249.2 1163.5h1M244.5 1165.4h1M243.2 1160.5h1M259.1 1161.2h1M243.2 1160.3h1M247.9 1166.3h1M251.8 1156.9h1M258.7 1161.8h1M247.4 1162.5h1M262.3 1172.8h1M254.9 1166.1h1M246.3 1174.1h1M258.8 1165.9h1M249.5 1168.1h1M253.6 1163.0h1M249.1 1158.1h1M261.9 1167.1h1M261.3 1158.5h1M242.4 1171.2h1M256.9 1164.6h1M252.0 1163.7h1M259.1 1171.6h1M256.7 1165.3h1M260.7 1164.6h1M254.6 1172.7h1M262.7 1160.1h1M252.1 1173.3h1M243.6 1174.6h1M251.9 1162.8h1M256.1 1165.7h1M253.4 1158.1h1M255.1 1158.9h1M264.3 1162.5h1M263.8 1164.9h1M257.6 1156.0h1M261.2 1153.1h1M257.2 1173.7h1M254.6 1173.6h1M257.7 1166.1h1M256.1 1162.8h1M254.5 1167.9h1M264.9 1160.7h1M252.2 1173.0h1M248.2 1158.0h1M248.0 1161.9h1M254.9 1165.7h1M249.9 1173.8h1M248.4 1170.8h1M247.8 1163.5h1M264.9 1157.1h1M247.3 1170.3h1M257.1 1155.2h1M268.1 1162.8h1M247.7 1159.0h1M256.6 1159.2h1M253.1 1169.5h1M261.6 1162.0h1M238.8 1163.5h1M259.6 1157.9h1M263.5 1160.1h1M262.1 1170.1h1M253.0 1161.0h1M257.6 1151.1h1M253.4 1169.7h1M263.5 1154.9h1M249.2 1158.5h1M257.1 1159.5h1M259.3 1168.8h1M249.4 1171.6h1M249.9 1156.3h1M253.8 1158.5h1M239.8 1162.8h1M242.2 1165.5h1M257.1 1158.4h1M262.5 1159.1h1M249.3 1154.7h1M265.3 1163.1h1M244.6 1161.2h1M262.8 1164.1h1M265.0 1169.0h1M247.8 1168.5h1M245.6 1163.8h1M255.6 1167.7h1M250.3 1161.7h1M255.0 1156.0h1M250.4 1151.9h1M253.3 1156.8h1M243.5 1154.2h1M242.3 1162.1h1M252.0 1152.2h1M252.8 1164.7h1M251.4 1151.8h1M249.6 1159.3h1M257.0 1167.5h1M265.3 1164.3h1M247.8 1166.3h1M252.1 1170.3h1M256.7 1164.6h1M253.4 1153.9h1M254.6 1163.7h1M260.5 1161.6h1M254.4 1166.0h1M257.9 1165.9h1M265.4 1170.3h1M258.6 1157.8h1M244.2 1167.7h1M261.9 1169.0h1M252.6 1154.0h1M251.2 1157.2h1M257.2 1159.2h1M262.4 1164.9h1M257.4 1159.8h1M248.3 1167.2h1M258.2 1163.9h1M251.0 1167.2h1M249.0 1166.8h1M246.9 1165.5h1M257.1 1158.2h1M246.3 1166.0h1M249.8 1176.2h1M257.9 1158.1h1M250.0 1171.7h1M241.7 1156.9h1M238.9 1174.3h1M264.3 1154.3h1M263.8 1163.7h1M260.4 1158.1h1M250.6 1166.7h1M260.3 1162.9h1M270.7 1161.8h1M263.3 1168.7h1M245.1 1161.6h1M254.6 1166.5h1M259.0 1164.7h1M255.2 1165.7h1M252.8 1162.8h1M260.6 1177.0h1M250.8 1169.0h1M256.1 1157.4h1M253.9 1165.9h1M247.9 1158.0h1M259.3 1160.7h1M256.1 1171.6h1M240.6 1161.2h1M255.6 1173.2h1M254.5 1159.1h1M255.3 1181.0h1M253.5 1163.0h1M248.7 1156.1h1M264.5 1171.3h1M243.8 1169.4h1M263.0 1169.4h1M246.1 1176.7h1M241.7 1168.3h1M264.3 1162.4h1M256.2 1181.4h1M243.2 1163.5h1M269.1 1168.2h1M240.5 1168.7h1M246.9 1166.6h1M263.4 1160.4h1M246.2 1158.9h1M251.1 1163.3h1M259.2 1166.0h1M251.1 1154.9h1M257.6 1158.4h1M263.4 1168.8h1M248.8 1164.1h1M247.8 1161.6h1M263.2 1162.0h1M251.8 1165.5h1M257.8 1169.4h1M262.9 1153.5h1M253.5 1171.3h1M254.0 1168.8h1M252.0 1171.3h1M265.5 1158.6h1M252.5 1159.2h1M251.3 1159.2h1M253.8 1166.1h1M237.0 1169.3h1M256.8 1157.8h1M273.1 1150.4h1M260.7 1155.2h1M258.5 1166.9h1M256.3 1166.6h1M273.2 1158.5h1M254.8 1161.5h1M270.2 1165.2h1M254.9 1151.8h1M246.6 1165.6h1M255.0 1171.2h1M273.6 1163.2h1M257.4 1162.0h1M258.8 1157.1h1M244.9 1156.8h1M249.7 1170.5h1M247.2 1148.7h1M254.5 1167.6h1M261.1 1165.4h1M246.0 1157.1h1M261.2 1178.2h1M247.8 1158.7h1M256.3 1156.8h1M253.2 1162.1h1M257.8 1160.9h1M257.8 1168.5h1M251.1 1168.0h1M251.7 1168.1h1M250.3 1171.6h1M250.1 1155.3h1M251.9 1172.0h1M251.8 1168.9h1M252.1 1163.3h1M243.1 1158.5h1M252.6 1161.0h1M249.7 1161.4h1M257.7 1167.3h1M252.5 1173.3h1M253.3 1165.2h1M256.9 1159.1h1M261.1 1165.7h1M246.1 1165.3h1M252.4 1158.7h1M252.8 1172.6h1M259.6 1158.7h1M251.1 1163.1h1M251.6 1162.3h1M276.9 1177.6h1M260.5 1162.5h1M250.6 1174.6h1M264.3 1158.7h1M242.0 1159.5h1M252.9 1146.1h1M237.0 1167.2h1M263.9 1155.1h1M252.3 1167.1h1M260.0 1146.1h1M258.6 1160.2h1M259.3 1165.6h1M249.4 1170.6h1M259.3 1164.8h1M251.5 1163.6h1M262.7 1159.8h1M254.3 1160.8h1M247.4 1160.5h1M246.6 1181.5h1M243.9 1166.0h1M245.3 1169.1h1M247.7 1155.2h1M251.8 1158.6h1M239.0 1151.3h1M260.5 1164.3h1M263.6 1170.1h1M255.1 1147.2h1M251.3 1156.9h1M253.2 1163.2h1M256.9 1151.5h1M254.0 1178.8h1M242.1 1165.3h1M252.6 1157.3h1M245.5 1158.6h1M251.6 1176.7h1M253.4 1168.4h1M247.8 1150.1h1M248.4 1163.2h1M248.3 1167.7h1M251.2 1170.7h1M265.9 1162.9h1M248.1 1160.0h1M260.8 1157.5h1M259.3 1162.2h1M247.3 1163.0h1M242.4 1153.2h1M264.5 1164.5h1M255.7 1168.2h1M250.1 1162.5h1M250.7 1155.1h1M253.6 1167.4h1M251.7 1151.1h1M247.5 1164.5h1M240.2 1160.7h1M260.9 1160.0h1M244.4 1167.2h1M260.7 1166.5h1M251.3 1165.5h1M249.2 1157.3h1M264.0 1164.3h1M249.9 1153.3h1M266.4 1164.0h1M265.7 1171.3h1M259.4 1156.0h1M251.5 1159.1h1M267.7 1166.4h1M258.4 1165.5h1M256.8 1158.4h1M242.7 1173.4h1M267.4 1175.5h1M263.5 1172.5h1M247.8 1167.4h1M245.0 1160.7h1M259.2 1166.3h1M252.4 1162.3h1M250.6 1167.8h1M241.2 1163.2h1M257.9 1166.9h1M259.6 1164.1h1M250.1 1170.4h1M250.8 1162.7h1M265.1 1168.8h1M262.5 1161.3h1M248.2 1167.4h1M257.5 1170.2h1M257.0 1158.5h1M262.3 1163.0h1M253.7 1166.7h1M255.9 1169.8h1M250.1 1166.2h1M269.5 1157.8h1M257.9 1163.4h1M256.6 1152.1h1M259.2 1161.2h1M257.9 1163.4h1M252.3 1163.7h1M255.2 1165.7h1M245.9 1157.4h1M261.3 1169.3h1M239.5 1169.4h1M257.4 1158.4h1M243.3 1169.3h1M251.8 1165.4h1M255.7 1154.6h1M258.0 1164.7h1M258.7 1170.6h1M268.2 1153.2h1M254.8 1172.4h1M241.6 1166.7h1M254.5 1169.8h1M250.4 1159.6h1M258.9 1162.4h1M254.9 1163.9h1M260.6 1161.2h1M248.7 1157.7h1M262.4 1152.4h1M254.7 1158.9h1M251.1 1173.4h1M265.5 1161.5h1M261.9 1166.2h1M253.1 1164.6h1M245.0 1163.4h1M261.6 1151.5h1M244.8 1151.7h1M255.8 1159.7h1M260.8 1156.2h1M266.4 1164.2h1M253.9 1175.3h1M255.8 1163.6h1M271.8 1172.0h1M266.0 1166.1h1M258.8 1165.5h1M251.0 1169.9h1M251.4 1153.6h1M259.6 1166.4h1M249.6 1158.9h1M250.2 1165.0h1M252.9 1161.0h1M254.6 1173.1h1M246.1 1169.0h1M252.2 1175.7h1M255.7 1168.6h1M253.5 1162.0h1M249.7 1155.8h1M255.9 1162.4h1M263.0 1157.9h1M257.1 1166.8h1M258.8 1150.6h1M246.5 1170.5h1M252.5 1170.8h1M248.1 1165.9h1M254.7 1164.9h1M254.5 1169.6h1M258.2 1160.3h1M247.0 1162.4h1M251.4 1163.9h1M244.3 1160.2h1M253.6 1150.6h1M254.9 1153.3h1M254.3 1148.7h1M248.2 1163.8h1M258.1 1168.0h1M257.1 1153.2h1M268.4 1174.2h1M266.6 1161.0h1M255.2 1158.7h1M258.8 1161.5h1M254.9 1155.8h1M254.5 1162.8h1M255.4 1166.6h1M240.0 1160.7h1M254.1 1162.6h1M256.7 1160.1h1M239.6 1165.7h1M256.0 1162.3h1M252.5 1165.7h1M213.8 1124.5h1M213.4 1142.4h1M230.8 1123.4h1M224.2 1154.2h1M218.9 1126.2h1M223.1 1144.8h1M238.1 1151.8h1M214.0 1134.7h1M227.5 1123.0h1M221.4 1137.6h1M219.3 1137.7h1M219.4 1131.8h1M217.9 1142.6h1M212.1 1138.4h1M214.8 1117.1h1M217.6 1144.7h1M223.4 1125.7h1M238.0 1127.5h1M234.6 1140.6h1M218.9 1125.9h1M234.7 1132.1h1M244.7 1122.0h1M240.1 1137.3h1M217.6 1135.4h1M226.4 1125.1h1M230.7 1127.2h1M218.5 1125.0h1M228.9 1132.1h1M226.3 1150.3h1M230.8 1142.4h1M240.9 1130.9h1M214.6 1140.3h1M222.5 1135.5h1M223.1 1118.5h1M226.8 1145.8h1M227.3 1139.0h1M228.2 1136.1h1M214.4 1122.1h1M221.4 1141.5h1M228.2 1137.2h1M217.9 1135.0h1M224.0 1124.9h1M219.1 1131.5h1M230.9 1136.7h1M239.2 1119.0h1M227.2 1137.6h1M227.7 1131.5h1M229.3 1149.0h1M226.1 1136.0h1M234.6 1146.1h1M231.2 1113.9h1M237.2 1152.8h1M217.7 1140.4h1M221.4 1129.5h1M216.4 1134.9h1M232.5 1138.0h1M237.2 1131.2h1M225.7 1141.7h1M226.9 1131.1h1M231.3 1146.5h1M227.3 1139.1h1M233.5 1132.5h1M235.3 1130.3h1M229.6 1137.8h1M227.0 1132.1h1M243.1 1139.7h1M229.2 1142.3h1M213.1 1132.9h1M220.6 1144.1h1M222.9 1126.0h1M218.1 1145.1h1M222.0 1138.4h1M220.3 1126.9h1M234.6 1134.0h1M236.2 1138.6h1M220.1 1140.7h1M242.0 1135.7h1M223.7 1136.7h1M220.1 1129.2h1M229.2 1140.4h1M230.2 1121.6h1M215.7 1139.6h1M211.3 1137.4h1M227.9 1130.5h1M230.5 1136.7h1M231.5 1131.7h1M216.8 1149.8h1M229.9 1132.0h1M219.6 1128.6h1M232.8 1127.7h1M235.8 1136.8h1M230.4 1140.1h1M222.9 1159.8h1M224.3 1143.6h1M216.8 1151.4h1M228.8 1145.9h1M236.0 1146.3h1M220.6 1126.8h1M220.0 1140.7h1M224.9 1144.6h1M233.0 1134.4h1M226.1 1127.4h1M236.2 1127.9h1M223.5 1154.4h1M232.6 1125.3h1M225.3 1146.5h1M218.0 1130.2h1M239.5 1142.9h1M221.9 1147.4h1M222.7 1146.6h1M226.5 1110.5h1M230.1 1123.3h1M231.0 1134.3h1M241.0 1130.4h1M227.7 1136.2h1M221.8 1138.9h1M217.2 1129.2h1M225.6 1147.0h1M211.7 1123.4h1M231.8 1123.4h1M232.0 1127.8h1M227.2 1139.5h1M229.6 1129.2h1M213.7 1139.1h1M221.1 1120.4h1M226.3 1134.0h1M213.7 1138.4h1M223.1 1129.3h1M233.7 1132.5h1M228.8 1128.7h1M231.8 1128.1h1M221.5 1131.8h1M215.3 1128.1h1M229.6 1139.4h1M211.7 1135.8h1M214.5 1138.6h1M225.6 1127.5h1M228.5 1135.3h1M236.1 1116.7h1M216.0 1133.5h1M223.8 1121.6h1M214.8 1132.5h1M236.2 1130.3h1M234.5 1119.8h1M236.3 1138.0h1M221.8 1138.4h1M219.2 1131.9h1M218.2 1134.3h1M225.9 1120.3h1M233.8 1138.9h1M224.6 1137.9h1M221.4 1117.5h1M223.9 1146.6h1M232.3 1126.6h1M223.6 1137.0h1M241.7 1136.8h1M217.7 1134.2h1M230.8 1125.9h1M217.8 1133.1h1M230.6 1132.2h1M231.4 1139.5h1M227.4 1128.8h1M232.5 1135.6h1M232.0 1132.2h1M231.5 1114.9h1M220.6 1141.6h1M229.1 1125.8h1M227.7 1136.5h1M232.1 1133.9h1M229.7 1153.9h1M225.5 1134.5h1M214.3 1140.2h1M227.9 1122.0h1M231.2 1142.1h1M218.5 1112.9h1M221.5 1120.9h1M221.8 1134.4h1M230.9 1122.7h1M216.2 1122.7h1M224.0 1148.6h1M234.0 1148.5h1M210.8 1132.3h1M221.6 1129.6h1M226.8 1139.9h1M228.9 1149.4h1M211.8 1123.8h1M241.4 1138.0h1M218.1 1124.2h1M226.2 1124.5h1M214.7 1156.1h1M230.9 1128.6h1M238.6 1123.6h1M234.3 1142.4h1M225.4 1142.2h1M222.2 1124.5h1M218.6 1129.0h1M220.3 1148.8h1M223.8 1126.8h1M217.7 1142.3h1M216.2 1145.7h1M231.3 1129.7h1M219.3 1124.0h1M231.4 1135.4h1M227.8 1131.2h1M228.6 1133.4h1M224.9 1128.2h1M236.0 1148.9h1M233.0 1130.5h1M226.5 1116.9h1M222.9 1136.6h1M213.5 1143.3h1M228.8 1135.3h1M225.0 1134.6h1M225.6 1134.7h1M222.5 1131.2h1M236.8 1146.4h1M218.3 1129.7h1M219.7 1134.4h1M239.8 1133.1h1M238.7 1139.7h1M226.4 1121.9h1M233.7 1131.8h1M225.3 1144.9h1M241.6 1141.8h1M236.3 1122.2h1M233.3 1121.4h1M232.1 1141.4h1M216.8 1135.2h1M225.9 1127.8h1M220.9 1135.7h1M211.9 1130.8h1M233.0 1120.7h1M215.6 1121.2h1M216.9 1119.8h1M224.5 1119.3h1M227.9 1135.6h1M234.2 1132.7h1M218.1 1126.4h1M220.4 1126.4h1M223.8 1148.2h1M224.8 1133.5h1M231.0 1132.9h1M226.0 1118.9h1M220.7 1127.8h1M238.2 1125.0h1M226.0 1123.3h1M227.5 1142.3h1M228.6 1146.8h1M219.9 1124.6h1M229.0 1135.7h1M217.7 1130.3h1M240.1 1140.4h1M239.7 1147.2h1M226.4 1140.8h1M223.4 1136.1h1M231.3 1127.5h1M216.0 1135.3h1M230.5 1122.1h1M228.7 1125.7h1M230.0 1146.0h1M222.0 1132.7h1M222.4 1134.0h1M220.6 1134.6h1M224.1 1132.0h1M236.3 1137.9h1M224.6 1145.9h1M230.1 1139.4h1M221.5 1140.5h1M226.7 1133.0h1M231.6 1137.1h1M220.7 1132.7h1M226.4 1140.7h1M219.5 1127.8h1M213.9 1138.5h1M217.0 1135.1h1M221.8 1140.0h1M224.8 1139.8h1M224.3 1138.0h1M217.8 1134.3h1M213.6 1135.9h1M226.1 1135.9h1M225.6 1137.7h1M218.7 1133.7h1M229.1 1139.5h1M222.5 1129.8h1M222.6 1139.3h1M228.0 1140.6h1M218.2 1133.7h1M224.2 1137.9h1M232.4 1137.7h1M214.4 1137.1h1M220.1 1133.5h1M229.3 1139.7h1M225.9 1131.5h1M225.9 1139.5h1M223.4 1132.1h1M228.2 1140.7h1M220.1 1137.2h1M215.1 1132.4h1M220.4 1130.4h1M223.2 1133.9h1M221.1 1137.5h1M222.7 1134.3h1M228.8 1138.6h1M217.8 1132.3h1M230.8 1141.4h1M221.6 1128.6h1M227.3 1143.4h1M227.5 1136.6h1M229.0 1136.9h1M223.0 1131.6h1M226.7 1134.9h1M220.6 1142.2h1M218.0 1135.6h1M226.0 1132.7h1M218.8 1143.2h1M219.8 1133.8h1M222.0 1134.8h1M226.7 1135.8h1M218.7 1138.6h1M225.5 1140.6h1M226.7 1140.1h1M229.9 1139.3h1M225.4 1133.0h1M221.4 1135.1h1M225.3 1138.6h1M221.8 1133.2h1M215.8 1139.9h1M221.4 1129.7h1M222.6 1138.0h1M218.3 1137.5h1M224.4 1136.4h1M223.7 1137.6h1M217.6 1142.7h1M224.1 1142.5h1M222.3 1135.3h1M222.7 1133.3h1M221.7 1138.3h1M222.1 1136.8h1M222.9 1133.9h1M226.6 1131.2h1M222.4 1135.7h1M220.7 1138.7h1M220.1 1137.8h1M226.3 1125.8h1M225.7 1135.2h1M219.5 1132.1h1M223.9 1135.6h1M221.8 1136.6h1M217.9 1143.5h1M230.7 1138.0h1M220.5 1137.0h1M227.0 1133.4h1M218.9 1138.1h1M225.3 1135.2h1M226.6 1139.7h1M229.6 1132.1h1M224.5 1137.3h1M224.0 1135.0h1M231.5 1139.3h1M228.4 1135.4h1M224.9 1136.1h1M222.8 1135.8h1M221.5 1135.8h1M227.3 1129.1h1M220.0 1138.2h1M221.1 1133.5h1M225.2 1129.2h1M213.9 1136.7h1M223.3 1132.6h1M221.4 1132.5h1M227.4 1136.6h1M220.1 1138.2h1M226.4 1143.5h1M221.0 1133.8h1M220.8 1132.0h1M219.5 1138.5h1M224.6 1131.8h1M225.8 1139.2h1M222.3 1138.3h1M223.5 1136.4h1M217.5 1142.4h1M224.4 1132.8h1M228.0 1136.4h1M225.0 1138.1h1M225.0 1134.9h1M230.8 1135.8h1M222.8 1137.9h1M224.4 1136.6h1M231.9 1134.5h1M244.2 1101.7h1M244.2 1106.1h1M252.7 1104.6h1M242.2 1106.6h1M252.2 1103.3h1M238.8 1105.0h1M241.5 1100.1h1M239.3 1097.3h1M252.3 1110.6h1M252.3 1107.2h1M270.6 1106.2h1M243.5 1100.5h1M249.8 1105.4h1M246.3 1114.6h1M259.4 1102.1h1M241.1 1105.2h1M253.5 1120.4h1M247.7 1111.0h1M250.0 1105.4h1M237.3 1108.0h1M255.5 1094.3h1M269.2 1107.3h1M250.5 1100.2h1M243.4 1105.4h1M254.2 1103.6h1M243.0 1097.6h1M252.1 1114.0h1M250.9 1101.0h1M250.1 1105.4h1M268.0 1107.7h1M241.2 1114.9h1M258.3 1112.1h1M235.4 1109.8h1M244.6 1107.9h1M255.8 1101.9h1M243.3 1103.3h1M240.9 1112.3h1M248.6 1112.0h1M238.6 1089.5h1M253.8 1106.2h1M238.8 1105.0h1M261.1 1103.3h1M231.8 1105.6h1M276.8 1110.3h1M251.0 1107.0h1M260.9 1108.8h1M246.1 1109.2h1M244.5 1110.1h1M248.8 1100.7h1M234.9 1106.5h1M255.1 1108.8h1M249.2 1113.6h1M243.1 1109.3h1M250.3 1114.9h1M260.1 1113.2h1M248.3 1110.5h1M232.7 1100.7h1M257.2 1104.9h1M256.9 1094.3h1M261.3 1086.3h1M252.8 1096.9h1M243.2 1110.1h1M240.2 1104.1h1M265.0 1095.8h1M246.3 1108.2h1M249.7 1117.3h1M236.0 1109.1h1M257.1 1100.7h1M260.6 1093.2h1M246.2 1119.4h1M249.9 1105.1h1M238.5 1111.8h1M264.6 1112.6h1M230.3 1103.1h1M246.2 1112.4h1M245.7 1102.9h1M252.0 1109.7h1M245.2 1109.8h1M243.7 1104.9h1M257.9 1110.9h1M241.8 1108.3h1M236.9 1103.9h1M241.1 1104.5h1M246.6 1109.6h1M250.6 1103.6h1M245.9 1098.0h1M257.3 1090.3h1M260.3 1105.4h1M258.5 1104.7h1M237.7 1110.2h1M261.1 1115.9h1M252.5 1108.7h1M252.0 1105.4h1M259.4 1101.7h1M232.8 1106.2h1M249.8 1109.2h1M244.3 1097.6h1M250.5 1105.5h1M267.4 1112.1h1M237.7 1107.6h1M243.4 1098.2h1M259.9 1115.1h1M255.3 1103.8h1M251.0 1106.9h1M251.8 1101.2h1M246.2 1098.8h1M242.6 1113.9h1M257.2 1098.0h1M245.4 1111.3h1M248.4 1097.1h1M255.8 1105.9h1M246.2 1097.2h1M246.0 1100.8h1M247.1 1106.3h1M252.6 1117.4h1M243.3 1118.9h1M261.7 1109.7h1M249.5 1116.8h1M254.4 1098.1h1M257.0 1110.0h1M239.9 1115.4h1M235.1 1090.7h1M255.1 1105.2h1M246.1 1099.4h1M244.4 1115.1h1M249.3 1105.7h1M253.1 1106.3h1M254.4 1110.3h1M255.9 1100.7h1M267.2 1105.2h1M240.8 1113.3h1M247.6 1101.7h1M252.6 1098.2h1M250.7 1108.7h1M242.7 1097.0h1M266.0 1111.7h1M252.3 1109.1h1M241.3 1109.0h1M242.2 1117.2h1M244.9 1118.2h1M247.6 1108.5h1M262.9 1099.3h1M250.6 1105.2h1M262.5 1108.9h1M255.2 1103.2h1M257.8 1106.5h1M254.1 1105.6h1M236.3 1096.8h1M261.0 1113.2h1M245.8 1102.8h1M248.6 1098.9h1M248.3 1104.4h1M258.8 1104.8h1M253.1 1100.0h1M261.0 1107.7h1M233.7 1112.6h1M251.3 1117.9h1M245.1 1098.6h1M252.6 1100.7h1M257.7 1099.6h1M263.6 1109.9h1M242.8 1106.1h1M256.4 1106.5h1M254.5 1107.5h1M255.0 1106.2h1M243.5 1101.3h1M230.4 1112.7h1M254.6 1103.1h1M252.4 1113.5h1M258.2 1093.4h1M272.2 1092.7h1M253.8 1119.3h1M267.4 1115.5h1M286.1 1120.6h1M296.3 1126.4h1M272.9 1127.4h1M286.0 1139.8h1M299.6 1120.2h1M276.4 1134.1h1M262.6 1133.2h1M283.9 1117.5h1M253.1 1106.6h1M310.5 1100.9h1M250.4 1109.7h1M280.2 1092.9h1M279.4 1115.4h1M273.9 1124.1h1M263.2 1106.4h1M266.8 1138.2h1M253.3 1107.0h1M302.3 1126.7h1M280.3 1131.4h1M277.4 1123.2h1M251.5 1135.7h1M252.5 1093.6h1M269.4 1122.1h1M265.0 1100.6h1M284.1 1104.5h1M270.0 1122.6h1M256.4 1093.9h1M284.3 1105.5h1M291.9 1109.8h1M311.3 1096.4h1M306.9 1092.7h1M296.1 1092.3h1M251.8 1108.6h1M303.8 1119.1h1M251.3 1126.7h1M258.0 1118.8h1M267.0 1131.8h1M275.9 1121.8h1M278.6 1093.4h1M307.2 1104.2h1M256.6 1093.6h1M268.2 1126.5h1M271.9 1124.6h1M258.1 1094.1h1M301.8 1119.9h1M290.2 1115.1h1M286.5 1130.5h1M301.7 1123.0h1M287.3 1111.5h1M305.7 1111.8h1M263.9 1132.8h1M290.1 1116.2h1M306.2 1114.4h1M304.3 1134.2h1M300.7 1115.7h1M298.2 1114.4h1M255.2 1119.7h1M308.3 1095.8h1M310.3 1134.9h1M289.1 1133.4h1M254.8 1120.5h1M289.7 1139.1h1M258.1 1136.2h1M280.3 1093.6h1M307.8 1134.3h1M309.2 1094.4h1M253.4 1100.9h1M268.4 1121.7h1M298.2 1135.1h1M285.6 1139.4h1M251.0 1114.7h1M270.1 1094.0h1M297.9 1139.0h1M264.7 1123.4h1M308.3 1110.0h1M279.3 1133.2h1M264.3 1109.1h1M257.2 1095.0h1M267.1 1119.1h1M281.0 1130.3h1M263.7 1106.8h1M309.4 1097.6h1M305.4 1114.6h1M294.1 1101.4h1M307.3 1106.4h1M287.1 1117.8h1M271.1 1109.2h1M264.6 1118.8h1M298.0 1131.9h1M256.7 1134.9h1M306.8 1139.7h1M255.4 1122.2h1M260.9 1137.0h1M263.4 1106.1h1M280.5 1113.1h1M259.0 1129.5h1M311.7 1109.7h1M275.6 1099.8h1M309.2 1093.3h1M288.0 1119.2h1M282.9 1135.9h1M267.7 1134.4h1M261.9 1098.2h1M302.8 1136.8h1M273.0 1127.0h1M251.5 1105.0h1M296.7 1096.0h1M251.7 1136.3h1M261.4 1104.0h1M285.1 1121.6h1M260.5 1120.2h1M255.1 1110.3h1M292.3 1097.9h1M270.8 1133.3h1M303.4 1134.3h1M279.5 1097.5h1M283.7 1124.6h1M294.8 1138.1h1M281.1 1123.7h1M285.6 1092.9h1M274.5 1131.2h1M282.8 1118.9h1M279.2 1113.8h1M280.6 1115.6h1M283.6 1132.3h1M275.8 1101.1h1M264.1 1092.9h1M253.5 1174.4h1M268.0 1170.6h1M288.6 1164.7h1M248.1 1151.0h1M281.0 1161.4h1M277.8 1169.0h1M286.1 1140.7h1M254.5 1158.5h1M278.6 1170.0h1M286.5 1144.4h1M269.0 1140.8h1M279.3 1172.3h1M263.2 1173.5h1M276.1 1167.1h1M245.7 1170.4h1M265.0 1163.7h1M270.6 1172.1h1M264.8 1140.0h1M280.3 1156.2h1M288.1 1161.3h1M256.8 1149.6h1M253.3 1159.3h1M260.6 1163.4h1M257.4 1149.3h1M262.7 1159.4h1M250.6 1154.4h1M253.4 1159.7h1M259.9 1152.3h1M261.4 1153.0h1M276.7 1145.0h1M274.4 1152.1h1M247.9 1142.8h1M281.8 1162.7h1M268.2 1147.2h1M281.2 1156.1h1M268.0 1148.4h1M255.8 1159.2h1M288.4 1149.8h1M273.3 1143.0h1M255.5 1142.5h1M219.1 1106.9h1M261.2 1152.4h1M267.1 1180.7h1M279.1 1131.1h1M261.7 1175.6h1M238.5 1073.9h1M296.0 1092.8h1M308.1 1151.9h1M262.3 1178.7h1M302.2 1171.6h1M226.0 1165.6h1M260.0 1163.9h1M220.4 1181.2h1M298.7 1143.4h1M262.7 1136.5h1M269.4 1102.1h1M294.9 1163.7h1M231.0 1153.8h1M287.2 1147.2h1M298.6 1157.8h1" stroke="#111" stroke-width="1.15" stroke-opacity="0.95" fill="none"/>
<path d="M461.8 1122.6h1M428.4 1148.9h1M476.5 1143.9h1M398.3 1116.0h1M479.6 1122.0h1M474.9 1117.1h1M442.5 1130.4h1M448.4 1114.3h1M450.4 1129.3h1M459.9 1123.2h1M473.7 1107.8h1M383.4 1124.5h1M375.2 1142.3h1M471.1 1141.1h1M382.8 1141.2h1M474.2 1135.1h1M382.7 1141.8h1M465.1 1139.1h1M482.6 1114.2h1M448.9 1120.4h1M378.9 1157.1h1M378.2 1125.4h1M456.7 1115.1h1M445.4 1106.5h1M470.5 1149.2h1M377.1 1143.2h1M453.9 1118.5h1M463.7 1117.7h1M463.6 1127.7h1M472.1 1133.2h1M476.7 1133.6h1M381.1 1131.7h1M457.0 1095.3h1M424.9 1122.7h1M394.2 1098.9h1M456.9 1132.1h1M484.7 1129.1h1M476.0 1130.3h1M466.3 1132.3h1M426.9 1142.7h1M422.2 1133.6h1M477.2 1163.5h1M480.7 1115.1h1M479.5 1133.4h1M390.5 1123.8h1M414.9 1113.2h1M470.4 1121.1h1M389.4 1127.2h1M475.8 1131.9h1M427.5 1142.5h1M483.7 1109.4h1M460.3 1125.8h1M457.5 1117.4h1M375.1 1148.4h1M437.3 1111.3h1M383.4 1136.5h1M475.2 1142.0h1M440.7 1137.0h1M471.8 1111.6h1M460.4 1127.8h1M467.6 1105.9h1M458.7 1147.5h1M381.4 1128.6h1M464.2 1131.0h1M459.9 1121.6h1M475.7 1132.0h1M451.9 1137.1h1M452.7 1119.1h1M390.4 1136.5h1M464.4 1146.0h1M464.5 1138.2h1M450.5 1114.6h1M472.9 1121.0h1M377.2 1129.7h1M468.6 1132.5h1M453.6 1178.9h1M451.6 1121.0h1M380.6 1131.9h1M391.8 1118.9h1M456.5 1137.5h1M471.7 1111.8h1M388.1 1120.1h1M455.3 1110.4h1M376.3 1137.8h1M478.7 1141.4h1M457.0 1130.7h1M465.6 1118.3h1M451.3 1136.6h1M451.7 1121.4h1M382.4 1134.1h1M485.8 1135.2h1M454.5 1138.0h1M464.2 1128.8h1M438.7 1116.4h1M472.1 1122.0h1M482.7 1120.1h1M383.4 1161.0h1M450.0 1143.1h1M448.3 1127.5h1M477.4 1108.4h1M472.1 1131.4h1M477.6 1109.9h1M422.0 1138.6h1M462.1 1115.4h1M479.3 1119.4h1M403.5 1126.8h1M406.7 1112.0h1M478.8 1113.1h1M390.9 1134.7h1M465.4 1120.1h1M478.0 1119.7h1M457.2 1104.6h1M390.6 1111.7h1M484.9 1129.3h1M469.5 1109.6h1M468.7 1111.7h1M373.0 1137.0h1M478.6 1136.9h1M477.0 1131.7h1M472.9 1148.5h1M470.2 1114.7h1M424.3 1117.7h1M473.6 1129.5h1M421.7 1127.7h1M381.3 1133.7h1M381.5 1145.6h1M447.1 1118.8h1M483.4 1129.9h1M446.1 1139.1h1M404.3 1124.0h1M457.9 1136.4h1M440.3 1115.8h1M427.5 1115.6h1M389.1 1129.8h1M478.1 1118.3h1M469.0 1138.8h1M470.2 1117.4h1M498.3 1121.4h1M378.2 1134.2h1M472.4 1113.1h1M475.0 1139.3h1M420.7 1136.4h1M453.2 1106.5h1M468.4 1134.6h1M370.2 1137.7h1M470.0 1160.8h1M467.0 1150.2h1M480.4 1121.8h1M475.2 1124.2h1M374.6 1139.5h1M466.9 1147.2h1M467.6 1104.9h1M473.5 1123.3h1M472.7 1120.7h1M474.8 1102.8h1M392.6 1137.9h1M463.0 1133.0h1M473.3 1133.0h1M470.7 1144.7h1M463.4 1111.6h1M476.0 1133.9h1M396.2 1149.3h1M378.7 1125.8h1M376.7 1128.1h1M393.6 1120.9h1M472.6 1140.4h1M432.3 1188.6h1M464.6 1125.0h1M458.8 1113.5h1M410.1 1122.5h1M378.5 1137.0h1M469.5 1126.1h1M503.8 1133.2h1M383.3 1147.0h1M470.7 1115.0h1M463.6 1128.9h1M466.5 1130.6h1M376.5 1137.7h1M462.1 1118.4h1M436.7 1149.0h1M467.9 1127.1h1M477.8 1102.0h1M458.1 1122.2h1M470.7 1106.3h1M479.5 1117.2h1M470.0 1108.9h1M396.4 1111.9h1M386.8 1135.5h1M477.6 1121.0h1M372.3 1139.2h1M481.9 1129.2h1M381.2 1129.4h1M447.7 1173.4h1M449.9 1155.4h1M455.7 1125.3h1M382.3 1118.5h1M445.0 1138.8h1M388.4 1129.1h1M468.1 1119.2h1M469.3 1151.0h1M475.5 1132.6h1M392.2 1110.0h1M451.7 1108.8h1M460.2 1129.4h1M432.1 1142.1h1M388.5 1132.0h1M469.4 1113.8h1M470.8 1120.1h1M476.7 1112.8h1M463.9 1137.8h1M473.4 1101.7h1M387.5 1118.3h1M384.9 1124.2h1M458.3 1119.4h1M400.5 1113.9h1M475.9 1103.1h1M476.0 1100.0h1M425.5 1179.3h1M375.1 1142.4h1M478.4 1119.5h1M459.3 1121.2h1M465.2 1119.1h1M380.7 1143.1h1M462.0 1123.5h1M462.4 1135.9h1M382.3 1127.8h1M446.0 1128.1h1M474.0 1142.1h1M477.8 1126.1h1M470.3 1122.4h1M460.4 1126.1h1M448.1 1181.8h1M469.1 1123.2h1M480.6 1144.5h1M383.8 1156.2h1M474.7 1112.1h1M411.7 1110.0h1M468.8 1115.1h1M474.7 1130.3h1M457.4 1117.5h1M373.7 1162.6h1M437.8 1135.1h1M383.1 1180.1h1M373.5 1135.9h1M390.6 1136.6h1M461.9 1122.1h1M444.8 1125.4h1M462.3 1126.6h1M381.1 1148.9h1M467.0 1149.7h1M474.5 1126.3h1M482.2 1141.4h1M471.0 1130.1h1M455.3 1149.3h1M473.3 1150.9h1M480.5 1120.2h1M398.5 1132.4h1M483.2 1133.8h1M449.5 1127.7h1M481.1 1138.4h1M456.8 1139.7h1M394.1 1133.8h1M460.4 1125.9h1M444.9 1119.2h1M456.9 1116.9h1M456.9 1125.3h1M472.0 1138.7h1M376.7 1181.3h1M453.4 1120.1h1M485.8 1127.0h1M454.9 1122.2h1M474.3 1128.4h1M375.6 1148.4h1M465.6 1107.1h1M379.1 1131.7h1M471.9 1117.7h1M431.2 1167.1h1M468.9 1119.8h1M401.7 1112.7h1M474.2 1132.9h1M464.6 1119.1h1M471.8 1126.2h1M389.1 1124.5h1M372.2 1143.1h1M388.9 1124.2h1M481.3 1113.1h1M381.3 1128.4h1M391.6 1171.2h1M374.3 1128.9h1M386.6 1128.0h1M473.8 1133.8h1M438.7 1129.0h1M437.3 1130.2h1M384.8 1122.9h1M469.6 1124.8h1M480.1 1128.7h1M471.9 1126.5h1M386.6 1136.3h1M470.0 1131.0h1M378.8 1147.5h1M457.0 1121.4h1M469.2 1126.2h1M472.9 1134.0h1M460.6 1132.3h1M476.0 1124.3h1M419.5 1147.6h1M378.5 1135.5h1M457.1 1108.3h1M461.6 1131.2h1M427.0 1136.1h1M472.5 1112.3h1M475.7 1105.0h1M465.2 1123.7h1M471.9 1111.3h1M468.7 1125.7h1M443.0 1164.2h1M477.6 1122.9h1M478.2 1139.6h1M460.6 1122.6h1M473.7 1133.0h1M385.4 1142.0h1M416.6 1126.0h1M470.8 1117.3h1M458.4 1129.5h1M475.8 1132.2h1M469.2 1146.8h1M475.2 1113.8h1M465.5 1097.0h1M445.3 1124.6h1M410.6 1111.3h1M449.5 1121.2h1M383.1 1112.8h1M459.3 1134.6h1M426.4 1111.9h1M406.9 1105.8h1M474.0 1136.4h1M440.0 1144.6h1M387.3 1109.9h1M472.0 1119.9h1M457.2 1137.2h1M393.7 1112.0h1M479.5 1121.2h1M444.3 1121.9h1M411.8 1123.7h1M472.2 1108.9h1M468.5 1137.4h1M474.4 1135.6h1M471.6 1114.6h1M403.2 1125.1h1M478.3 1117.1h1M474.8 1112.2h1M382.7 1141.4h1M394.6 1136.0h1M481.9 1124.1h1M465.0 1138.9h1M376.1 1110.6h1M397.0 1122.4h1M389.7 1126.7h1M391.4 1172.4h1M445.3 1135.8h1M375.9 1147.9h1M429.0 1132.2h1M436.6 1154.2h1M451.6 1119.0h1M473.7 1124.1h1M377.8 1144.7h1M395.3 1146.2h1M466.8 1148.4h1M480.7 1086.4h1M476.8 1116.4h1M385.0 1125.3h1M395.5 1121.9h1M376.7 1146.5h1M460.8 1121.6h1M473.2 1119.8h1M440.3 1124.6h1M378.6 1123.8h1M372.5 1136.9h1M476.8 1117.3h1M377.7 1151.0h1M438.2 1143.7h1M429.8 1128.5h1M455.2 1132.1h1M469.5 1111.8h1M465.7 1116.2h1M460.8 1115.8h1M373.0 1163.7h1M461.7 1127.8h1M421.3 1129.7h1M374.4 1122.4h1M472.6 1144.7h1M470.3 1128.1h1M480.5 1124.8h1M447.3 1104.9h1M415.1 1168.1h1M378.5 1135.2h1M458.9 1130.2h1M466.5 1131.5h1M465.3 1140.8h1M402.3 1140.2h1M475.1 1140.5h1M474.8 1180.0h1M470.8 1107.7h1M470.1 1116.9h1M466.6 1115.1h1M419.1 1107.6h1M483.3 1107.8h1M481.3 1137.2h1M427.5 1118.3h1M472.0 1110.2h1M464.9 1131.1h1M385.3 1123.7h1M463.1 1138.0h1M448.9 1116.1h1M476.4 1135.6h1M463.8 1154.2h1M470.1 1124.4h1M375.8 1137.2h1M477.1 1131.8h1M475.9 1111.6h1M375.6 1141.0h1M441.7 1135.8h1M476.2 1137.0h1M386.2 1141.7h1M466.0 1125.9h1M373.1 1143.6h1M446.3 1121.9h1M395.5 1133.7h1M465.5 1120.3h1M457.4 1144.4h1M476.5 1112.4h1M469.6 1123.5h1M477.2 1114.6h1M453.2 1143.8h1M467.8 1143.0h1M475.4 1118.8h1M477.6 1128.7h1M385.1 1130.3h1M474.5 1131.7h1M409.6 1124.7h1M426.1 1124.0h1M409.0 1128.5h1M457.1 1113.1h1M472.3 1104.7h1M404.6 1099.8h1M474.2 1129.0h1M382.8 1132.1h1M475.1 1102.7h1M394.1 1120.2h1M448.1 1122.1h1M398.8 1132.2h1M375.9 1127.1h1M475.0 1117.5h1M467.7 1127.8h1M464.8 1140.5h1M453.4 1120.8h1M410.6 1123.3h1M467.5 1118.4h1M393.4 1130.0h1M465.3 1134.6h1M472.7 1117.2h1M484.3 1137.0h1M464.6 1140.1h1M476.5 1120.2h1M448.1 1126.3h1M444.5 1159.5h1M473.6 1112.4h1M479.5 1131.0h1M434.6 1119.2h1M476.1 1113.7h1M454.2 1140.3h1M458.2 1136.7h1M482.0 1120.7h1M471.0 1124.9h1M389.8 1171.7h1M460.6 1121.5h1M381.6 1139.5h1M458.2 1113.2h1M453.4 1120.6h1M476.8 1110.8h1M443.5 1133.8h1M453.9 1138.1h1M481.8 1115.2h1M456.1 1119.9h1M379.4 1148.0h1M467.4 1143.7h1M476.1 1130.3h1M471.3 1138.2h1M384.2 1153.2h1M469.7 1125.4h1M476.8 1131.5h1M461.5 1120.5h1M391.4 1122.1h1M381.6 1150.0h1M474.5 1124.9h1M376.7 1104.8h1M474.1 1126.2h1M469.3 1115.1h1M473.0 1111.7h1M374.6 1170.1h1M466.4 1104.9h1M478.1 1119.0h1M460.5 1132.2h1M455.8 1095.8h1M486.0 1135.5h1M383.4 1137.2h1M389.3 1120.6h1M445.0 1116.8h1M368.7 1140.0h1M381.2 1113.4h1M384.5 1141.0h1M455.6 1136.5h1M435.8 1153.6h1M377.8 1128.5h1M474.6 1110.1h1M438.4 1117.5h1M378.4 1149.0h1M413.0 1140.8h1M466.3 1150.9h1M483.7 1128.2h1M477.9 1119.3h1M412.9 1129.4h1M374.7 1133.3h1M369.6 1138.3h1M373.8 1145.8h1M407.7 1126.7h1M478.5 1107.9h1M475.9 1131.2h1M467.2 1120.2h1M415.1 1110.6h1M442.7 1100.6h1M463.8 1086.0h1M373.5 1144.1h1M469.2 1109.5h1M482.3 1108.8h1M456.5 1127.3h1M457.2 1132.3h1M485.1 1111.6h1M460.0 1142.4h1M378.3 1139.4h1M475.8 1119.8h1M471.8 1106.3h1M434.3 1125.2h1M457.1 1122.4h1M389.9 1129.2h1M472.5 1115.4h1M452.7 1138.9h1M473.5 1121.2h1M469.7 1152.3h1M469.7 1131.1h1M383.8 1133.7h1M472.7 1128.8h1M376.5 1127.4h1M472.5 1141.7h1M456.5 1109.5h1M459.0 1146.6h1M471.1 1124.8h1M475.0 1115.1h1M471.7 1130.2h1M464.4 1110.3h1M468.7 1123.8h1M379.2 1141.2h1M476.4 1130.2h1M478.8 1130.3h1M400.5 1107.2h1M449.2 1151.0h1M384.8 1133.3h1M426.5 1167.7h1M446.1 1122.4h1M483.1 1130.8h1M463.8 1134.6h1M462.3 1120.7h1M389.0 1109.3h1M373.4 1135.4h1M473.4 1130.1h1M484.3 1126.8h1M477.7 1107.2h1M474.0 1114.8h1M380.5 1120.0h1M485.9 1104.7h1M381.3 1129.9h1M478.4 1123.9h1M458.7 1126.8h1M375.3 1144.4h1M390.0 1141.6h1M463.7 1113.1h1M486.0 1142.4h1M462.3 1117.2h1M475.0 1126.3h1M460.5 1120.8h1M474.4 1136.5h1M463.6 1180.5h1M447.7 1145.2h1M425.9 1115.1h1M478.3 1115.1h1M481.7 1129.6h1M478.7 1126.1h1M384.3 1141.8h1M441.8 1116.1h1M460.3 1117.5h1M451.1 1131.2h1M460.9 1126.1h1M460.4 1140.5h1M465.1 1118.9h1M439.3 1142.7h1M480.7 1131.4h1M428.8 1134.8h1M463.8 1118.7h1M387.3 1138.8h1M455.5 1090.9h1M380.8 1144.6h1M462.7 1137.3h1M445.9 1169.2h1M435.9 1126.9h1M476.5 1111.5h1M467.0 1129.6h1M393.2 1137.7h1M422.4 1131.6h1M447.4 1108.2h1M377.2 1150.3h1M468.0 1114.0h1M463.5 1118.5h1M471.9 1109.6h1M465.0 1121.8h1M453.4 1127.2h1M446.8 1126.0h1M475.3 1124.7h1M395.9 1120.4h1M479.9 1150.2h1M475.3 1125.6h1M385.0 1120.3h1M469.9 1137.6h1M378.0 1113.4h1M477.2 1100.9h1M453.4 1129.3h1M397.1 1129.8h1M470.6 1123.8h1M468.2 1115.5h1M386.0 1120.1h1M368.3 1152.8h1M473.7 1135.2h1M474.6 1147.8h1M377.2 1134.2h1M454.3 1137.3h1M374.3 1141.8h1M381.1 1121.8h1M435.8 1128.6h1M475.6 1103.4h1M478.3 1113.4h1M461.3 1145.3h1M456.7 1134.8h1M424.1 1127.2h1M447.7 1119.9h1M458.2 1141.2h1M430.3 1167.3h1M484.4 1119.0h1M390.0 1116.0h1M478.9 1113.6h1M476.2 1107.3h1M458.6 1129.1h1M469.2 1106.2h1M460.2 1126.7h1M480.1 1149.4h1M476.9 1113.2h1M404.9 1129.2h1M476.5 1143.1h1M411.7 1103.0h1M473.3 1098.0h1M459.4 1126.4h1M478.0 1119.0h1M476.5 1132.0h1M477.6 1114.9h1M374.0 1139.2h1M375.0 1118.5h1M479.5 1110.2h1M389.0 1163.5h1M449.3 1134.5h1M409.9 1114.2h1M465.9 1115.4h1M473.9 1109.1h1M373.6 1151.8h1M474.6 1109.2h1M455.3 1125.2h1M483.9 1112.4h1M456.7 1144.4h1M472.4 1117.1h1M458.1 1125.1h1M426.9 1123.1h1M465.5 1123.3h1M471.2 1105.7h1M454.9 1140.1h1M466.4 1125.2h1M458.7 1187.4h1M461.5 1136.4h1M410.2 1097.5h1M475.3 1107.3h1M474.1 1136.3h1M470.9 1131.9h1M428.1 1137.8h1M442.6 1144.1h1M424.3 1139.3h1M445.7 1142.8h1M463.6 1114.9h1M478.9 1144.7h1M483.4 1114.4h1M477.9 1129.9h1M471.4 1146.7h1M469.6 1120.9h1M370.8 1152.0h1M475.5 1106.8h1M468.0 1139.4h1M468.8 1127.6h1M482.2 1118.3h1M472.0 1133.4h1M379.0 1129.8h1M484.1 1128.5h1M450.9 1122.3h1M464.0 1113.1h1M483.9 1120.3h1M461.4 1113.8h1M481.0 1112.7h1M483.9 1109.6h1M447.4 1117.9h1M457.3 1101.5h1M454.7 1125.1h1M381.0 1125.2h1M379.3 1153.6h1M451.1 1129.4h1M377.4 1141.1h1M381.2 1121.8h1M448.5 1122.5h1M472.9 1127.4h1M462.3 1130.2h1M486.0 1143.6h1M374.9 1135.1h1M472.2 1131.5h1M441.8 1116.3h1M454.5 1139.5h1M381.9 1123.8h1M440.7 1130.9h1M396.9 1118.2h1M463.2 1115.9h1M464.5 1133.9h1M467.4 1106.3h1M474.8 1135.2h1M483.6 1146.8h1M435.5 1139.3h1M411.1 1171.1h1M456.6 1118.4h1M471.8 1142.0h1M373.6 1133.9h1M475.9 1149.6h1M440.3 1119.7h1M461.3 1137.3h1M454.6 1109.0h1M468.3 1119.4h1M467.6 1125.9h1M481.7 1125.4h1M416.0 1136.9h1M462.6 1139.4h1M395.4 1129.0h1M467.6 1123.7h1M473.7 1124.1h1M456.4 1137.1h1M473.1 1142.7h1M444.5 1091.3h1M467.4 1128.0h1M460.7 1118.2h1M371.8 1134.6h1M452.8 1135.6h1M384.0 1126.6h1M451.7 1109.3h1M377.6 1138.7h1M378.9 1131.8h1M431.0 1154.2h1M459.4 1125.9h1M380.4 1127.4h1M454.3 1101.4h1M452.3 1122.8h1M458.1 1116.8h1M476.0 1113.5h1M451.2 1115.6h1M482.9 1119.2h1M382.1 1129.8h1M392.5 1127.3h1M391.2 1112.0h1M450.4 1109.8h1M477.2 1136.1h1M422.9 1123.2h1M385.0 1141.1h1M386.9 1123.5h1M421.1 1150.3h1M457.2 1094.2h1M468.4 1106.2h1M475.6 1116.5h1M465.6 1143.5h1M476.8 1130.2h1M458.3 1125.0h1M369.1 1134.7h1M458.7 1168.3h1M459.0 1122.3h1M465.8 1128.2h1M472.7 1128.7h1M451.8 1118.2h1M379.3 1128.6h1M371.7 1130.5h1M464.2 1131.9h1M465.2 1111.4h1M435.0 1132.8h1M479.9 1126.1h1M474.3 1116.2h1M429.0 1162.3h1M380.8 1132.0h1M379.1 1144.6h1M471.6 1146.7h1M456.7 1134.4h1M460.6 1117.6h1M468.6 1112.2h1M369.8 1168.6h1M464.2 1145.3h1M474.9 1105.5h1M376.4 1133.5h1M421.5 1129.4h1M477.9 1122.1h1M478.4 1132.4h1M445.5 1141.9h1M376.9 1152.8h1M412.1 1123.2h1M485.8 1120.7h1M437.6 1168.0h1M383.9 1122.6h1M473.7 1099.4h1M451.2 1126.9h1M476.9 1096.7h1M385.7 1128.5h1M430.9 1113.6h1M421.9 1164.4h1M440.4 1180.2h1M411.3 1177.0h1M480.2 1141.7h1M369.7 1137.1h1M480.0 1133.7h1M453.8 1117.7h1M482.3 1134.1h1M387.7 1162.3h1M472.6 1095.8h1M459.6 1120.4h1M382.4 1133.6h1M491.7 1146.6h1M376.9 1140.6h1M470.9 1151.5h1M385.4 1128.1h1M372.5 1138.4h1M376.5 1127.8h1M468.5 1104.6h1M413.6 1111.7h1M433.1 1158.9h1M477.9 1125.4h1M375.6 1142.8h1M475.5 1102.1h1M463.1 1134.5h1M464.1 1107.4h1M467.3 1137.2h1M477.2 1164.7h1M435.7 1147.8h1M476.9 1134.4h1M461.6 1170.8h1M461.3 1114.9h1M478.2 1113.6h1M377.2 1128.5h1M474.4 1112.9h1M386.2 1095.8h1M479.2 1127.7h1M426.1 1151.8h1M481.8 1119.7h1M449.2 1106.2h1M473.4 1111.2h1M466.8 1142.4h1M439.1 1112.6h1M383.2 1152.6h1M386.7 1148.1h1M473.3 1109.6h1M469.9 1124.7h1M466.3 1137.0h1M379.5 1123.1h1M458.4 1156.4h1M388.2 1148.0h1M457.0 1153.8h1M431.1 1171.7h1M422.5 1138.0h1M463.2 1130.5h1M470.1 1114.3h1M437.7 1135.8h1M464.0 1107.6h1M476.2 1109.9h1M457.9 1110.7h1M439.3 1144.7h1M388.8 1168.1h1M370.4 1132.5h1M478.4 1128.1h1M387.0 1129.8h1M381.6 1157.0h1M476.3 1134.5h1M468.0 1150.4h1M376.6 1151.8h1M456.7 1120.0h1M476.8 1187.6h1M471.2 1113.7h1M376.6 1144.3h1M459.8 1119.5h1M382.3 1146.3h1M484.3 1123.6h1M457.6 1113.4h1M388.2 1128.8h1M404.6 1153.6h1M452.9 1124.3h1M478.0 1131.8h1M447.1 1122.5h1M464.1 1124.6h1M463.8 1116.9h1M371.0 1108.4h1M481.7 1123.6h1M454.4 1111.7h1M485.5 1147.7h1M380.3 1105.3h1M459.3 1131.6h1M453.3 1134.7h1M468.8 1121.1h1M479.2 1129.4h1M410.0 1116.5h1M379.4 1124.7h1M377.3 1137.2h1M372.7 1139.0h1M438.0 1132.7h1M435.4 1126.7h1M395.7 1136.5h1M395.0 1120.3h1M370.3 1146.3h1M369.9 1156.3h1M462.1 1129.7h1M476.8 1113.4h1M383.2 1128.6h1M436.9 1133.8h1M382.5 1134.8h1M425.5 1135.1h1M480.9 1113.4h1M470.9 1137.9h1M442.0 1118.2h1M446.1 1141.7h1M459.9 1126.7h1M480.5 1133.5h1M451.1 1135.2h1M475.0 1134.3h1M463.9 1115.3h1M379.5 1129.6h1M389.7 1132.9h1M455.1 1141.0h1M460.0 1143.0h1M411.6 1145.4h1M382.6 1142.6h1M459.5 1123.7h1M471.1 1147.6h1M475.4 1107.3h1M456.6 1099.1h1M407.8 1127.2h1M446.0 1122.4h1M460.1 1137.4h1M425.9 1099.4h1M374.8 1142.4h1M376.8 1136.4h1M474.1 1119.2h1M469.4 1117.4h1M387.2 1139.0h1M377.9 1138.6h1M465.6 1129.6h1M481.7 1109.1h1M459.7 1115.6h1M469.6 1121.5h1M462.5 1114.8h1M377.5 1113.4h1M384.4 1135.4h1M377.6 1138.2h1M426.1 1148.6h1M438.4 1141.1h1M479.8 1111.7h1M444.5 1147.4h1M376.8 1158.3h1M378.3 1127.8h1M474.1 1141.9h1M448.8 1131.7h1M478.4 1109.2h1M403.5 1120.8h1M374.7 1144.1h1M465.3 1119.4h1M448.7 1148.7h1M474.0 1125.9h1M470.8 1115.0h1M461.7 1132.9h1M465.5 1113.5h1M478.3 1117.1h1M482.3 1110.9h1M454.0 1136.2h1M478.7 1151.8h1M387.1 1125.0h1M472.9 1110.4h1M468.1 1115.6h1M458.4 1118.9h1M440.8 1139.2h1M464.6 1136.7h1M382.2 1129.0h1M451.0 1131.1h1M379.8 1124.7h1M479.1 1137.4h1M455.8 1146.4h1M438.9 1115.7h1M480.3 1116.3h1M375.9 1157.0h1M384.6 1118.0h1M470.1 1113.4h1M378.5 1136.5h1M381.8 1132.8h1M475.9 1135.2h1M454.7 1095.5h1M469.9 1119.1h1M465.3 1100.0h1M477.0 1126.0h1M382.8 1136.4h1M369.1 1144.2h1M466.0 1106.7h1M374.9 1142.3h1M428.5 1158.4h1M483.3 1118.3h1M474.4 1111.5h1M459.9 1140.5h1M448.6 1128.1h1M390.5 1127.3h1M477.4 1137.2h1M477.6 1126.0h1M384.6 1126.0h1M434.6 1127.1h1M469.3 1135.7h1M454.8 1130.8h1M380.5 1129.0h1M475.5 1135.1h1M380.5 1142.0h1M478.1 1122.6h1M431.4 1146.3h1M474.7 1139.8h1M474.8 1127.9h1M396.4 1116.6h1M470.7 1132.1h1M465.8 1116.7h1M415.5 1147.8h1M381.5 1131.6h1M391.0 1118.4h1M380.5 1133.7h1M475.2 1128.4h1M461.6 1138.9h1M466.2 1132.1h1M481.5 1110.0h1M460.4 1137.1h1M417.1 1164.6h1M475.2 1138.0h1M469.3 1121.7h1M372.1 1130.5h1M463.4 1141.5h1M384.4 1126.5h1M465.7 1138.1h1M472.5 1110.4h1M441.8 1149.2h1M452.1 1133.9h1M387.9 1179.6h1M460.3 1107.3h1M396.4 1133.2h1M450.1 1136.7h1M445.1 1115.9h1M402.9 1134.6h1M378.9 1146.3h1M470.2 1096.2h1M468.2 1137.3h1M483.4 1123.8h1M463.6 1108.1h1M455.9 1119.8h1M471.6 1115.2h1M471.4 1135.7h1M485.6 1135.5h1M477.9 1125.2h1M428.1 1124.8h1M476.7 1121.3h1M380.9 1137.1h1M456.3 1110.2h1M464.7 1114.8h1M461.4 1136.7h1M376.6 1121.8h1M453.2 1093.2h1M477.2 1100.7h1M387.8 1136.0h1M459.3 1125.5h1M470.4 1119.9h1M375.1 1126.7h1M478.2 1124.2h1M466.9 1137.5h1M480.5 1123.1h1M461.9 1134.5h1M462.7 1124.1h1M453.4 1125.8h1M460.5 1117.3h1M474.0 1117.8h1M381.3 1145.1h1M399.9 1126.5h1M426.5 1129.2h1M462.5 1126.9h1M403.5 1111.6h1M475.1 1122.7h1M457.0 1152.2h1M394.4 1142.6h1M445.6 1116.7h1M475.9 1136.3h1M459.6 1107.5h1M398.7 1124.8h1M459.3 1113.0h1M468.7 1145.7h1M410.6 1125.9h1M479.8 1121.8h1M470.9 1143.7h1M374.2 1131.1h1M374.1 1150.6h1M459.4 1130.8h1M484.1 1128.4h1M457.4 1137.5h1M476.4 1137.5h1M465.1 1144.3h1M394.5 1146.1h1M479.5 1110.5h1M429.0 1167.7h1M469.9 1153.9h1M445.4 1134.4h1M452.5 1160.1h1M460.9 1140.0h1M432.3 1151.6h1M377.2 1179.3h1M428.5 1158.9h1M392.2 1165.8h1M477.0 1135.6h1M387.3 1129.6h1M450.2 1151.8h1M416.6 1136.9h1M411.5 1147.2h1M380.8 1125.8h1M386.6 1125.2h1M480.9 1103.4h1M432.4 1173.7h1M469.3 1119.6h1M474.9 1120.1h1M447.0 1104.6h1M473.3 1136.1h1M427.4 1130.5h1M377.0 1140.2h1M460.1 1121.6h1M431.6 1129.9h1M477.6 1113.3h1M448.7 1127.9h1M468.5 1117.8h1M390.0 1127.4h1M473.0 1118.9h1M422.8 1135.0h1M471.2 1125.0h1M468.5 1122.3h1M463.0 1132.9h1M400.1 1135.2h1M444.9 1134.9h1M478.6 1129.4h1M406.4 1166.2h1M450.8 1125.0h1M383.4 1125.8h1M392.5 1119.0h1M387.0 1126.8h1M440.4 1138.8h1M376.0 1126.9h1M456.2 1124.2h1M380.3 1142.4h1M473.6 1116.5h1M475.5 1122.4h1M375.2 1125.4h1M481.3 1096.1h1M446.3 1122.8h1M485.3 1129.4h1M457.2 1138.9h1M481.5 1122.1h1M371.4 1129.9h1M481.4 1154.6h1M377.8 1103.0h1M457.6 1144.9h1M370.4 1135.8h1M460.8 1133.3h1M377.2 1142.5h1M458.9 1132.6h1M455.4 1102.4h1M416.6 1121.0h1M373.4 1134.3h1M478.9 1142.5h1M455.5 1135.5h1M478.9 1130.1h1M460.2 1118.0h1M478.8 1125.4h1M443.1 1118.2h1M468.1 1128.3h1M397.4 1129.5h1M446.7 1135.2h1M464.5 1137.0h1M393.4 1106.4h1M475.5 1123.6h1M398.4 1115.6h1M476.4 1118.9h1M440.4 1150.4h1M465.0 1130.8h1M393.1 1127.3h1M480.3 1126.5h1M462.9 1120.1h1M456.2 1117.5h1M460.5 1114.1h1M466.2 1122.1h1M465.7 1112.0h1M435.4 1154.7h1M473.5 1136.7h1M466.6 1131.9h1M464.8 1128.7h1M381.8 1145.3h1M456.4 1138.0h1M372.4 1147.4h1M417.3 1120.1h1M454.5 1116.4h1M424.7 1129.2h1M468.4 1126.5h1M476.1 1116.7h1M388.3 1124.1h1M370.3 1134.5h1M383.4 1131.8h1M480.3 1139.4h1M372.3 1126.7h1M374.0 1142.8h1M470.6 1116.8h1M466.7 1111.6h1M458.1 1131.7h1M481.9 1137.3h1M480.8 1117.7h1M383.5 1150.2h1M466.5 1113.0h1M463.0 1131.6h1M460.5 1127.7h1M454.5 1148.1h1M410.2 1171.7h1M441.5 1128.5h1M461.9 1109.2h1M390.0 1134.7h1M457.4 1124.6h1M482.2 1129.5h1M464.0 1156.3h1M479.4 1147.7h1M465.4 1091.5h1M464.3 1132.1h1M469.8 1122.2h1M383.4 1124.6h1M387.4 1128.5h1M479.5 1134.8h1M465.9 1179.9h1M473.2 1130.4h1M458.2 1131.2h1M474.2 1140.1h1M467.9 1122.1h1M468.8 1120.1h1M462.5 1141.8h1M475.3 1132.1h1M370.8 1139.5h1M482.7 1122.4h1M468.6 1136.2h1M381.3 1143.0h1M469.4 1146.1h1M463.6 1112.0h1M471.6 1124.4h1M463.6 1143.1h1M382.7 1129.1h1M458.7 1128.7h1M441.5 1117.2h1M470.0 1119.3h1M444.8 1115.2h1M382.7 1138.5h1M413.1 1157.3h1M478.3 1147.4h1M462.0 1145.3h1M466.7 1128.3h1M430.4 1118.0h1M441.7 1134.2h1M449.5 1128.4h1M386.5 1146.8h1M440.1 1097.7h1M431.5 1113.7h1M392.4 1118.2h1M480.9 1110.9h1M380.2 1159.5h1M449.6 1139.0h1M471.4 1133.4h1M460.0 1138.6h1M463.4 1117.0h1M465.3 1131.7h1M451.9 1132.5h1M425.1 1128.2h1M404.1 1121.5h1M465.5 1126.8h1M386.0 1148.2h1M378.0 1107.7h1M478.2 1111.5h1M404.0 1139.3h1M473.7 1128.9h1M474.8 1141.4h1M468.0 1118.5h1M442.8 1127.3h1M476.1 1100.6h1M458.5 1142.2h1M472.4 1127.5h1M368.2 1134.4h1M378.9 1120.4h1M480.2 1127.0h1M405.1 1139.1h1M383.1 1147.8h1M436.2 1119.9h1M477.7 1110.6h1M372.1 1097.8h1M464.7 1131.9h1M484.4 1106.9h1M386.6 1129.4h1M410.6 1142.8h1M379.7 1117.6h1M420.1 1125.4h1M379.4 1137.8h1M461.9 1118.8h1M474.5 1139.3h1M390.4 1111.6h1M462.1 1127.5h1M474.3 1121.5h1M433.3 1130.7h1M482.8 1120.2h1M473.0 1112.9h1M477.1 1131.0h1M428.2 1127.5h1M468.5 1118.6h1M457.8 1137.9h1M471.9 1114.1h1M462.0 1138.2h1M481.9 1127.3h1M476.1 1119.2h1M467.0 1130.2h1M449.3 1129.8h1M463.1 1128.9h1M475.5 1130.3h1M451.4 1131.6h1M384.0 1142.9h1M460.9 1111.5h1M456.7 1121.8h1M484.7 1111.3h1M462.1 1136.8h1M389.2 1131.4h1M461.5 1160.9h1M477.0 1127.7h1M390.8 1137.5h1M425.1 1163.2h1M473.6 1160.7h1M457.0 1125.8h1M393.5 1132.1h1M433.6 1133.1h1M449.1 1115.9h1M448.2 1125.6h1M381.2 1136.4h1M374.2 1128.5h1M461.6 1136.1h1M458.4 1133.7h1M476.1 1108.1h1M463.1 1118.0h1M430.4 1137.8h1M450.5 1120.0h1M476.1 1117.3h1M468.6 1115.4h1M489.8 1138.9h1M432.0 1139.3h1M454.0 1129.3h1M407.1 1129.2h1M419.4 1137.5h1M459.5 1133.9h1M485.6 1114.1h1M407.1 1125.1h1M451.3 1122.0h1M474.0 1123.2h1M471.3 1116.4h1M467.2 1145.0h1M383.9 1143.8h1M433.5 1162.5h1M424.7 1136.9h1M381.5 1139.3h1M469.4 1130.1h1M471.3 1124.6h1M462.0 1119.0h1M385.9 1122.4h1M480.9 1133.8h1M478.8 1130.2h1M481.8 1142.7h1M378.9 1096.4h1M467.5 1101.0h1M391.5 1140.4h1M409.8 1133.4h1M413.8 1124.6h1M462.5 1178.0h1M450.6 1124.3h1M483.2 1122.9h1M385.6 1118.0h1M413.6 1120.6h1M389.0 1114.3h1M463.0 1149.9h1M476.3 1118.6h1M443.6 1143.6h1M472.2 1122.9h1M462.7 1133.9h1M436.8 1098.4h1M450.0 1140.5h1M458.0 1116.7h1M485.1 1136.1h1M463.9 1126.6h1M451.5 1122.2h1M470.1 1109.1h1M456.9 1144.5h1M457.3 1108.9h1M442.6 1111.8h1M479.8 1130.0h1M375.5 1128.6h1M464.5 1125.8h1M465.8 1130.5h1M462.1 1121.4h1M451.9 1153.6h1M482.4 1143.1h1M402.6 1134.4h1M380.0 1132.4h1M472.2 1112.5h1M386.9 1132.9h1M472.4 1127.7h1M461.5 1119.7h1M384.5 1141.4h1M463.5 1149.5h1M470.8 1126.5h1M473.4 1102.0h1M417.5 1178.3h1M379.5 1142.0h1M463.7 1108.2h1M475.1 1114.5h1M477.6 1119.8h1M447.1 1133.9h1M426.0 1117.2h1M448.1 1104.5h1M471.8 1122.8h1M476.6 1129.7h1M381.8 1152.4h1M406.4 1120.2h1M375.5 1140.6h1M374.9 1128.2h1M407.9 1125.3h1M461.4 1099.7h1M385.2 1120.8h1M471.5 1126.1h1M374.2 1127.9h1M472.2 1130.8h1M404.2 1129.2h1M470.7 1128.9h1M465.8 1095.1h1M421.3 1128.4h1M430.5 1137.6h1M471.0 1122.2h1M468.9 1125.0h1M475.9 1123.5h1M377.0 1145.2h1M447.4 1126.3h1M455.7 1138.2h1M451.0 1127.7h1M473.0 1098.2h1M380.4 1140.4h1M485.3 1121.9h1M428.1 1130.6h1M370.6 1132.7h1M371.2 1145.8h1M449.1 1149.4h1M478.6 1121.3h1M384.5 1133.1h1M411.0 1119.3h1M375.9 1145.7h1M414.1 1108.2h1M371.7 1149.3h1M369.0 1153.1h1M471.9 1120.6h1M461.1 1124.9h1M472.8 1124.1h1M383.0 1142.3h1M410.7 1181.6h1M455.3 1125.5h1M462.3 1137.4h1M459.3 1147.0h1M480.7 1124.2h1M444.4 1141.6h1M455.6 1105.4h1M398.4 1118.4h1M372.0 1136.0h1M467.7 1141.1h1M416.0 1131.5h1M462.6 1146.0h1M465.3 1189.3h1M471.8 1125.8h1M396.0 1116.3h1M386.4 1111.7h1M468.2 1126.8h1M378.9 1129.5h1M455.7 1120.2h1M398.4 1138.3h1M442.6 1116.8h1M376.0 1146.2h1M456.7 1133.5h1M406.5 1136.9h1M470.1 1128.7h1M453.1 1119.4h1M379.0 1134.6h1M377.1 1121.4h1M481.9 1103.5h1M472.0 1099.8h1M456.9 1135.6h1M469.7 1115.1h1M472.7 1140.2h1M379.5 1124.8h1M478.6 1137.5h1M454.7 1143.1h1M452.5 1112.3h1M438.9 1148.4h1M428.3 1141.8h1M382.2 1126.0h1M466.9 1134.4h1M376.0 1131.3h1M477.2 1114.9h1M418.4 1129.5h1M381.1 1131.4h1M457.5 1128.7h1M480.3 1118.6h1M480.1 1129.4h1M477.5 1137.8h1M378.3 1139.2h1M376.3 1145.1h1M471.6 1124.6h1M464.9 1135.9h1M392.7 1136.7h1M422.5 1117.6h1M475.2 1113.9h1M394.6 1145.9h1M382.0 1127.2h1M421.3 1129.6h1M454.3 1124.8h1M386.8 1114.5h1M374.2 1134.9h1M463.7 1106.0h1M474.8 1131.8h1M405.9 1123.5h1M438.6 1146.3h1M458.8 1127.2h1M395.6 1186.8h1M439.8 1137.7h1M379.6 1128.2h1M459.1 1105.4h1M486.0 1131.8h1M468.2 1147.6h1M479.3 1116.6h1M382.2 1134.1h1M454.7 1130.5h1M425.8 1142.1h1M440.9 1132.7h1M387.7 1140.9h1M379.9 1114.7h1M386.2 1124.1h1M380.6 1139.0h1M471.8 1105.5h1M423.3 1126.8h1M428.6 1125.9h1M389.0 1115.1h1M483.2 1131.3h1M479.3 1115.0h1M470.3 1134.5h1M459.8 1138.5h1M444.3 1116.4h1M426.9 1119.2h1M397.6 1171.7h1M478.5 1131.4h1M372.4 1127.1h1M471.4 1113.9h1M399.5 1183.4h1M465.6 1117.6h1M380.9 1137.9h1M434.5 1132.9h1M473.7 1126.6h1M394.5 1138.8h1M468.2 1138.9h1M473.6 1117.2h1M478.6 1127.7h1M464.0 1125.7h1M383.5 1128.6h1M452.9 1110.0h1M455.5 1134.2h1M474.3 1119.4h1M478.1 1119.4h1M467.3 1125.0h1M473.2 1138.3h1M441.6 1124.4h1M384.9 1098.7h1M373.8 1121.5h1M414.4 1123.0h1M478.3 1107.7h1M462.4 1112.5h1M379.5 1131.1h1M411.4 1156.3h1M471.8 1120.2h1M480.0 1140.1h1M378.3 1126.8h1M461.1 1144.2h1M465.8 1126.2h1M456.4 1146.3h1M485.1 1112.2h1M453.0 1134.7h1M480.9 1100.8h1M480.7 1129.4h1M378.5 1152.0h1M379.1 1165.5h1M450.9 1123.8h1M410.1 1142.3h1M473.8 1107.4h1M465.9 1113.6h1M371.2 1149.4h1M433.8 1130.1h1M382.7 1146.0h1M477.0 1127.0h1M398.0 1138.4h1M378.8 1143.0h1M455.1 1139.9h1M481.7 1112.1h1M440.3 1146.8h1M438.8 1133.9h1M453.9 1123.0h1M467.3 1132.4h1M456.9 1133.0h1M376.3 1127.4h1M454.2 1112.9h1M382.9 1140.8h1M481.1 1138.7h1M470.5 1137.6h1M409.3 1141.8h1M380.7 1138.1h1M448.7 1120.1h1M442.3 1120.8h1M389.8 1137.2h1M394.0 1104.7h1M454.2 1118.2h1M477.2 1114.8h1M377.6 1143.1h1M401.0 1129.2h1M383.6 1142.7h1M447.8 1135.1h1M447.5 1127.1h1M485.9 1123.3h1M432.0 1136.2h1M477.1 1135.3h1M378.7 1140.5h1M470.8 1128.9h1M377.8 1129.3h1M443.5 1126.5h1M457.8 1121.2h1M479.2 1122.3h1M392.8 1115.7h1M481.0 1132.4h1M462.0 1122.4h1M450.8 1127.1h1M377.0 1121.9h1M454.3 1118.3h1M479.5 1151.7h1M382.9 1134.6h1M379.1 1145.5h1M476.6 1120.8h1M422.6 1141.1h1M376.7 1120.8h1M456.9 1128.3h1M480.3 1109.6h1M478.8 1144.7h1M471.2 1117.9h1M383.5 1114.6h1M387.1 1126.4h1M381.4 1123.5h1M408.6 1146.7h1M425.5 1132.2h1M374.7 1141.3h1M470.9 1127.3h1M476.8 1119.6h1M453.0 1139.4h1M475.7 1131.7h1M388.1 1131.1h1M466.5 1096.0h1M465.9 1120.1h1M474.0 1118.1h1M457.5 1105.1h1M473.9 1119.1h1M455.5 1111.1h1M467.5 1112.3h1M451.3 1110.3h1M471.2 1133.6h1M467.3 1114.1h1M475.7 1126.8h1M472.7 1125.8h1M461.6 1126.3h1M441.1 1131.6h1M412.1 1150.8h1M384.8 1133.6h1M397.1 1109.8h1M482.6 1114.8h1M454.0 1156.3h1M387.4 1148.3h1M374.4 1142.1h1M467.1 1120.8h1M451.9 1126.4h1M475.2 1146.6h1M478.7 1126.2h1M382.3 1138.0h1M483.9 1113.7h1M479.6 1120.9h1M376.6 1124.8h1M397.2 1135.0h1M418.6 1128.4h1M470.5 1112.8h1M469.3 1136.6h1M389.0 1177.0h1M450.0 1139.0h1M484.7 1113.7h1M449.7 1124.5h1M375.7 1187.0h1M393.4 1120.5h1M395.4 1137.3h1M442.7 1139.6h1M387.3 1128.4h1M457.6 1142.4h1M420.1 1130.7h1M477.4 1124.8h1M481.7 1124.2h1M471.2 1140.6h1M466.1 1128.9h1M461.2 1117.6h1M382.6 1144.5h1M466.4 1111.5h1M436.8 1146.6h1M436.5 1136.8h1M430.0 1128.7h1M451.1 1128.5h1M384.4 1156.1h1M479.0 1136.9h1M449.3 1124.2h1M454.1 1126.3h1M460.8 1138.5h1M416.2 1132.9h1M395.5 1109.0h1M453.5 1128.6h1M386.0 1119.3h1M451.1 1131.1h1M457.4 1114.3h1M460.1 1142.7h1M391.3 1126.2h1M456.2 1123.2h1M464.2 1143.3h1M457.5 1162.7h1M471.3 1147.9h1M448.4 1137.7h1M427.0 1132.8h1M459.2 1115.5h1M473.6 1115.3h1M451.5 1126.1h1M399.0 1099.7h1M471.5 1135.8h1M461.5 1135.7h1M371.3 1128.2h1M458.5 1129.9h1M452.6 1130.0h1M414.1 1152.3h1M370.2 1150.4h1M466.9 1176.1h1M442.3 1136.1h1M395.0 1106.3h1M401.9 1184.4h1M378.0 1119.7h1M438.8 1119.2h1M482.6 1103.5h1M418.3 1128.6h1M468.7 1121.4h1M457.2 1115.5h1M455.7 1126.2h1M469.4 1127.1h1M378.0 1145.4h1M473.7 1112.4h1M482.4 1109.1h1M467.0 1125.7h1M382.8 1125.7h1M442.2 1117.7h1M467.0 1109.6h1M473.3 1150.2h1M469.8 1123.1h1M451.7 1139.5h1M454.6 1136.9h1M456.2 1145.6h1M387.1 1124.8h1M460.8 1128.3h1M473.6 1122.8h1M464.2 1132.1h1M395.8 1130.0h1M419.7 1139.9h1M456.1 1120.0h1M454.6 1148.7h1M447.2 1141.3h1M389.1 1141.1h1M450.0 1111.1h1M478.0 1140.8h1M479.7 1113.8h1M391.1 1135.3h1M389.2 1122.5h1M469.9 1117.6h1M383.5 1121.5h1M446.0 1125.1h1M388.6 1119.7h1M406.2 1117.8h1M464.3 1109.3h1M467.6 1125.3h1M467.4 1126.5h1M477.5 1122.1h1M464.8 1105.3h1M390.0 1119.0h1M452.2 1146.4h1M438.5 1085.8h1M452.4 1151.0h1M384.6 1127.7h1M412.0 1136.6h1M458.3 1124.4h1M415.2 1105.7h1M467.0 1141.1h1M460.3 1121.8h1M372.7 1140.4h1M375.4 1140.9h1M378.4 1141.9h1M413.5 1136.2h1M368.7 1140.9h1M463.9 1132.5h1M446.4 1103.2h1M382.8 1125.8h1M444.7 1165.6h1M375.9 1189.9h1M472.1 1111.2h1M455.1 1119.1h1M469.7 1118.0h1M447.7 1117.5h1M482.3 1116.2h1M459.5 1123.3h1M444.9 1128.1h1M373.4 1141.3h1M483.8 1124.1h1M373.2 1126.0h1M480.6 1151.9h1M440.6 1131.7h1M463.0 1112.8h1M478.0 1138.5h1M465.3 1122.9h1M467.4 1119.1h1M374.9 1139.8h1M473.3 1131.9h1M433.4 1108.7h1M404.8 1129.0h1M379.0 1144.1h1M468.3 1129.3h1M474.4 1151.1h1M388.5 1085.4h1M471.2 1101.6h1M458.5 1107.7h1M422.1 1137.1h1M455.6 1131.8h1M483.0 1117.8h1M467.0 1123.8h1M480.1 1124.6h1M476.5 1120.4h1M464.9 1117.4h1M383.7 1129.1h1M466.0 1102.2h1M458.0 1132.1h1M472.5 1115.4h1M424.4 1173.8h1M476.0 1130.8h1M472.3 1121.8h1M459.6 1129.1h1M462.9 1111.9h1M465.6 1132.0h1M388.0 1116.9h1M474.1 1125.0h1M465.3 1146.2h1M376.5 1143.3h1M468.9 1106.3h1M444.0 1131.0h1M451.2 1099.8h1M389.9 1124.9h1M480.4 1148.6h1M394.7 1150.3h1M460.1 1122.7h1M478.0 1120.5h1M458.0 1129.7h1M380.3 1135.8h1M421.0 1108.5h1M469.3 1137.1h1M454.2 1136.0h1M380.4 1150.2h1M464.7 1120.3h1M468.4 1123.5h1M466.3 1125.4h1M463.4 1126.6h1M474.4 1128.8h1M482.1 1140.0h1M379.8 1134.1h1M385.8 1130.4h1M464.1 1115.6h1M480.2 1121.0h1M383.1 1126.5h1M468.5 1106.9h1M447.4 1122.4h1M377.7 1138.8h1M387.7 1140.0h1M456.1 1120.9h1M447.9 1108.6h1M390.0 1113.1h1M456.7 1125.9h1M468.9 1129.8h1M382.1 1129.6h1M480.4 1117.9h1M384.6 1139.7h1M389.8 1141.8h1M469.6 1100.6h1M378.4 1126.0h1M484.9 1131.0h1M373.9 1126.9h1M465.5 1134.2h1M465.7 1121.1h1M411.7 1118.4h1M432.0 1129.1h1M457.3 1153.8h1M472.0 1140.8h1M481.9 1123.5h1M479.5 1145.9h1M482.4 1110.9h1M468.9 1105.0h1M453.6 1173.1h1M396.7 1165.7h1M458.6 1121.3h1M480.2 1117.0h1M469.4 1112.9h1M377.6 1136.6h1M397.5 1137.1h1M481.7 1109.2h1M388.8 1135.6h1M476.6 1169.3h1M439.5 1122.0h1M391.8 1138.6h1M466.0 1136.2h1M378.7 1147.8h1M474.5 1119.0h1M475.3 1109.1h1M443.8 1135.3h1M451.5 1148.8h1M459.2 1116.1h1M397.0 1159.3h1M452.1 1126.0h1M475.3 1135.5h1M369.6 1141.5h1M388.8 1105.8h1M417.1 1153.5h1M462.3 1114.3h1M448.7 1151.9h1M396.8 1119.9h1M480.0 1103.3h1M469.0 1132.2h1M379.5 1111.6h1M380.4 1139.8h1M460.6 1113.4h1M436.1 1121.4h1M484.2 1131.7h1M470.8 1121.3h1M454.5 1119.2h1M474.2 1137.8h1M450.5 1124.2h1M387.4 1133.3h1M479.8 1132.8h1M484.9 1143.9h1M411.2 1134.7h1M471.1 1134.3h1M465.2 1137.5h1M469.3 1115.8h1M476.6 1104.4h1M421.8 1139.8h1M471.3 1114.1h1M372.6 1142.0h1M462.9 1123.3h1M459.7 1110.0h1M452.5 1121.1h1M397.0 1138.5h1M450.2 1102.3h1M471.0 1109.7h1M453.7 1129.0h1M399.7 1129.0h1M443.9 1124.5h1M460.8 1126.7h1M459.3 1117.4h1M417.6 1123.6h1M470.2 1115.0h1M393.7 1133.5h1M380.7 1099.5h1M386.8 1131.1h1M455.6 1134.9h1M475.6 1110.6h1M477.9 1124.3h1M451.5 1137.6h1M377.4 1150.1h1M467.0 1103.1h1M472.7 1128.7h1M445.8 1126.2h1M438.1 1129.6h1M477.7 1115.0h1M475.4 1133.5h1M480.4 1136.5h1M472.3 1172.4h1M398.9 1123.9h1M464.9 1119.4h1M386.4 1135.8h1M472.2 1123.7h1M384.6 1135.2h1M470.4 1124.6h1M469.7 1139.9h1M422.0 1116.3h1M471.2 1138.3h1M472.6 1125.7h1M467.0 1128.3h1M461.9 1123.4h1M463.1 1111.1h1M459.3 1128.4h1M456.7 1122.8h1M471.9 1124.7h1M450.5 1123.4h1M476.2 1116.1h1M467.9 1132.2h1M446.8 1116.6h1M482.2 1104.1h1M464.4 1139.7h1M375.2 1121.8h1M396.8 1127.8h1M377.6 1125.8h1M388.9 1131.7h1M479.9 1141.4h1M479.6 1115.0h1M448.8 1122.7h1M469.5 1140.1h1M466.9 1148.8h1M476.5 1098.8h1M469.6 1124.1h1M457.5 1127.5h1M442.0 1116.4h1M465.8 1129.0h1M466.9 1137.8h1M462.4 1125.6h1M440.5 1110.9h1M372.3 1121.9h1M458.7 1119.0h1M478.8 1127.1h1M472.6 1128.4h1M474.9 1131.0h1M468.5 1133.1h1M477.4 1141.5h1M409.0 1136.9h1M460.7 1142.6h1M470.9 1121.8h1M378.2 1129.2h1M375.9 1143.7h1M370.6 1143.1h1M430.8 1127.7h1M471.9 1121.0h1M449.0 1111.1h1M423.4 1128.5h1M473.7 1132.8h1M479.0 1132.2h1M457.3 1133.9h1M483.4 1125.8h1M474.8 1109.2h1M467.3 1103.9h1M369.7 1149.5h1M386.3 1148.5h1M399.3 1139.5h1M474.9 1126.2h1M474.8 1152.5h1M478.7 1106.5h1M477.2 1113.0h1M478.2 1116.7h1M395.1 1123.9h1M472.0 1097.4h1M473.3 1111.1h1M467.2 1107.2h1M478.1 1129.4h1M483.5 1127.2h1M465.6 1120.1h1M480.3 1100.7h1M441.2 1134.6h1M455.3 1138.5h1M394.6 1140.6h1M451.3 1134.6h1M480.5 1125.9h1M467.8 1112.9h1M470.8 1126.7h1M408.9 1142.7h1M383.8 1131.2h1M372.4 1126.8h1M482.7 1144.3h1M452.0 1127.3h1M436.4 1138.5h1M431.7 1162.0h1M462.8 1128.1h1M482.7 1113.8h1M483.4 1145.8h1M379.2 1139.2h1M482.8 1139.0h1M477.7 1117.0h1M387.6 1138.9h1M471.5 1128.8h1M446.4 1122.8h1M453.4 1122.4h1M468.7 1144.6h1M435.9 1119.9h1M469.5 1119.0h1M378.7 1153.1h1M454.1 1113.9h1M402.8 1135.3h1M468.3 1134.3h1M479.7 1134.3h1M400.0 1118.1h1M468.5 1104.6h1M388.1 1125.1h1M393.6 1129.3h1M373.0 1117.1h1M466.5 1133.5h1M472.3 1139.6h1M401.6 1133.2h1M458.1 1117.0h1M482.3 1134.0h1M427.2 1134.5h1M450.5 1104.7h1M465.8 1125.3h1M475.1 1111.4h1M376.1 1118.8h1M466.6 1119.3h1M484.6 1138.5h1M376.6 1144.2h1M474.0 1129.1h1M485.9 1113.9h1M467.0 1144.3h1M451.4 1120.1h1M454.4 1131.8h1M418.5 1131.6h1M472.7 1116.4h1M475.6 1123.6h1M391.6 1122.6h1M372.8 1174.5h1M453.9 1125.1h1M462.3 1120.7h1M371.9 1125.5h1M459.0 1173.8h1M478.5 1126.4h1M433.4 1115.0h1M464.8 1126.8h1M464.1 1136.3h1M476.0 1127.7h1M403.4 1123.5h1M462.9 1127.9h1M400.5 1110.7h1M480.8 1125.8h1M470.9 1110.6h1M383.4 1129.0h1M381.7 1130.4h1M482.8 1114.2h1M379.6 1165.7h1M412.7 1132.2h1M449.3 1112.3h1M455.1 1135.2h1M378.6 1137.0h1M465.9 1140.0h1M380.7 1152.6h1M476.6 1151.9h1M417.2 1113.1h1M473.7 1118.9h1M378.4 1138.3h1M454.9 1108.4h1M374.0 1143.0h1M391.1 1129.7h1M481.1 1109.9h1M457.5 1138.7h1M478.4 1127.1h1M411.0 1120.7h1M473.4 1141.6h1M464.3 1118.2h1M475.4 1112.7h1M440.5 1113.7h1M454.6 1128.2h1M445.4 1127.9h1M478.6 1099.9h1M455.2 1140.7h1M415.2 1125.0h1M475.7 1145.5h1M377.9 1147.0h1M441.9 1134.2h1M463.3 1122.3h1M452.0 1134.0h1M479.8 1113.9h1M392.5 1143.1h1M474.1 1181.5h1M462.8 1107.4h1M478.7 1106.1h1M452.4 1145.0h1M442.0 1134.9h1M398.9 1123.1h1M378.0 1151.1h1M472.9 1130.2h1M455.9 1129.2h1M451.8 1150.7h1M382.3 1121.8h1M466.2 1152.4h1M469.2 1148.7h1M466.0 1122.4h1M468.6 1119.6h1M470.4 1121.5h1M460.4 1120.0h1M446.8 1178.6h1M478.5 1112.4h1M483.6 1104.5h1M394.0 1118.9h1M468.9 1139.4h1M371.9 1143.4h1M379.5 1124.0h1M377.7 1162.8h1M476.7 1173.6h1M478.0 1140.5h1M446.4 1137.8h1M380.9 1126.3h1M446.8 1102.0h1M467.7 1136.4h1M452.1 1134.2h1M370.7 1127.9h1M475.1 1131.6h1M471.1 1137.3h1M379.6 1164.0h1M446.9 1113.1h1M410.7 1098.0h1M450.2 1107.5h1M474.5 1126.0h1M471.9 1120.0h1M468.8 1111.6h1M451.3 1154.3h1M480.9 1115.5h1M385.9 1124.7h1M438.6 1125.7h1M478.9 1103.4h1M405.7 1177.0h1M393.3 1106.8h1M470.8 1120.3h1M374.3 1117.1h1M447.6 1104.8h1M422.4 1127.4h1M455.4 1104.5h1M461.7 1133.3h1M387.4 1117.1h1M452.1 1133.8h1M372.9 1167.4h1M475.3 1135.0h1M473.8 1130.4h1M470.0 1108.2h1M398.3 1125.6h1M475.2 1133.5h1M443.4 1116.4h1M462.8 1121.1h1M451.5 1145.8h1M483.0 1127.9h1M468.7 1132.6h1M448.8 1114.8h1M448.9 1127.7h1M477.9 1108.2h1M464.5 1116.0h1M404.0 1119.7h1M477.8 1134.9h1M466.3 1123.6h1M385.8 1135.1h1M426.7 1132.0h1M370.7 1137.0h1M473.6 1100.3h1M486.3 1123.1h1M378.6 1136.0h1M471.0 1119.0h1M474.7 1107.8h1M478.1 1142.5h1M475.6 1127.8h1M448.8 1152.8h1M474.7 1109.1h1M396.5 1102.4h1M378.5 1124.2h1M437.3 1106.4h1M476.1 1118.7h1M434.2 1134.0h1M485.6 1117.3h1M460.4 1110.1h1M479.4 1116.7h1M462.8 1133.4h1M443.2 1111.2h1M481.6 1127.4h1M464.7 1134.4h1M481.5 1135.9h1M385.5 1140.4h1M457.2 1165.5h1M451.5 1111.7h1M379.5 1137.2h1M473.8 1121.0h1M475.4 1119.9h1M483.7 1139.4h1M457.3 1104.9h1M461.9 1115.0h1M449.0 1125.9h1M442.9 1135.0h1M432.8 1145.5h1M472.0 1129.4h1M465.5 1125.8h1M380.8 1136.3h1M371.6 1150.2h1M416.6 1169.0h1M467.2 1123.7h1M466.2 1106.1h1M465.5 1126.1h1M464.5 1124.3h1M450.5 1103.6h1M474.4 1134.5h1M469.6 1112.4h1M461.5 1118.1h1M459.9 1109.9h1M385.3 1120.7h1M473.9 1095.2h1M471.1 1123.8h1M473.5 1152.9h1M472.5 1116.9h1M484.6 1133.9h1M387.9 1129.3h1M471.8 1117.1h1M389.0 1131.5h1M475.2 1122.3h1M475.6 1123.0h1M372.8 1150.8h1M378.8 1136.8h1M457.4 1111.7h1M472.6 1115.1h1M452.1 1115.2h1M477.8 1112.4h1M385.2 1132.2h1M456.2 1125.6h1M402.2 1187.1h1M469.7 1105.7h1M452.3 1120.4h1M468.6 1114.4h1M393.1 1106.7h1M440.8 1128.5h1M454.3 1130.5h1M375.6 1145.3h1M447.7 1140.9h1M458.9 1127.3h1M470.4 1118.9h1M467.9 1164.0h1M377.7 1116.5h1M455.7 1123.6h1M477.3 1123.0h1M458.8 1100.8h1M480.9 1110.9h1M382.9 1132.5h1M444.3 1118.8h1M460.0 1121.8h1M372.0 1137.3h1M381.3 1132.3h1M470.1 1124.3h1M457.3 1116.9h1M484.9 1121.8h1M385.8 1109.6h1M453.4 1124.1h1M377.2 1143.1h1M388.5 1109.1h1M378.9 1119.2h1M473.6 1113.3h1M388.8 1120.3h1M431.8 1136.0h1M381.9 1147.9h1M453.9 1143.9h1M473.8 1111.1h1M380.8 1131.2h1M385.5 1137.4h1M466.7 1124.1h1M381.6 1119.5h1M484.6 1097.0h1M473.3 1141.5h1M462.4 1123.1h1M431.9 1162.1h1M480.2 1139.3h1M378.8 1127.0h1M435.6 1142.8h1M469.0 1132.6h1M459.5 1128.9h1M458.4 1118.8h1M388.4 1132.7h1M468.1 1134.4h1M485.2 1129.8h1M480.0 1135.1h1M480.2 1127.0h1M481.5 1123.2h1M463.4 1115.2h1M443.9 1140.2h1M464.9 1107.0h1M378.0 1142.1h1M476.3 1125.1h1M380.0 1143.2h1M396.1 1123.4h1M460.8 1122.6h1M469.5 1120.1h1M430.7 1134.8h1M397.6 1129.2h1M392.4 1113.1h1M475.3 1131.1h1M431.3 1119.6h1M472.5 1132.9h1M470.6 1113.9h1M464.1 1137.8h1M372.2 1143.3h1M381.5 1153.5h1M472.9 1113.3h1M471.7 1120.3h1M415.3 1125.6h1M408.0 1123.2h1M464.2 1133.2h1M427.8 1127.7h1M469.1 1116.4h1M451.1 1143.7h1M383.2 1148.8h1M474.4 1133.8h1M449.9 1134.1h1M397.3 1123.3h1M378.4 1139.1h1M421.0 1145.2h1M455.4 1134.3h1M463.4 1129.1h1M469.2 1115.7h1M382.4 1122.7h1M461.1 1132.6h1M463.4 1109.4h1M482.0 1129.0h1M371.1 1141.1h1M382.0 1125.2h1M482.3 1123.2h1M404.6 1163.6h1M442.2 1137.1h1M475.4 1115.0h1M462.6 1118.6h1M460.2 1145.6h1M471.0 1113.4h1M479.2 1128.5h1M469.7 1126.7h1M376.3 1151.4h1M376.1 1116.6h1M465.2 1145.0h1M468.6 1123.8h1M421.6 1115.0h1M370.9 1129.2h1M451.1 1130.3h1M456.0 1105.8h1M470.1 1128.4h1M476.1 1111.8h1M467.2 1111.7h1M466.4 1129.0h1M374.9 1129.9h1M466.1 1121.5h1M466.4 1142.1h1M466.1 1106.2h1M430.0 1106.4h1M444.5 1143.8h1M368.2 1136.5h1M392.5 1128.5h1M480.3 1134.1h1M466.3 1098.5h1M456.2 1107.3h1M458.1 1097.2h1M462.3 1141.5h1M410.3 1126.6h1M485.0 1129.3h1M477.7 1122.9h1M437.6 1100.4h1M474.0 1137.4h1M418.3 1130.0h1M449.6 1138.2h1M438.5 1109.4h1M389.1 1126.3h1M377.3 1132.8h1M381.2 1134.5h1M469.1 1131.5h1M466.4 1129.6h1M383.5 1133.9h1M377.7 1151.7h1M388.2 1121.5h1M459.9 1108.4h1M383.1 1136.5h1M392.3 1147.8h1M379.8 1137.1h1M451.7 1128.3h1M465.9 1123.1h1M479.0 1106.3h1M475.9 1148.8h1M460.2 1115.9h1M384.7 1107.8h1M385.5 1129.2h1M381.0 1117.7h1M480.8 1122.8h1M432.9 1128.3h1M464.5 1147.1h1M477.2 1130.1h1M396.3 1122.0h1M463.1 1119.3h1M473.0 1118.2h1M481.0 1133.4h1M471.7 1122.6h1M432.4 1133.7h1M467.5 1123.4h1M471.8 1117.8h1M466.8 1124.6h1M423.4 1132.5h1M382.8 1129.3h1M461.7 1117.9h1M463.3 1127.8h1M453.7 1137.2h1M471.4 1132.1h1M472.2 1139.4h1M479.3 1122.3h1M377.7 1137.2h1M469.2 1100.1h1M462.9 1126.3h1M479.7 1132.4h1M447.2 1135.7h1M456.2 1115.0h1M454.2 1129.2h1M472.0 1120.8h1M469.2 1121.5h1M372.4 1148.1h1M449.2 1120.8h1M377.8 1144.4h1M382.2 1145.2h1M404.0 1119.4h1M380.8 1127.9h1M390.5 1135.5h1M473.4 1117.9h1M472.0 1147.7h1M455.8 1140.8h1M455.7 1110.3h1M464.7 1115.6h1M442.4 1130.8h1M430.5 1150.1h1M372.7 1138.2h1M480.3 1141.2h1M465.9 1112.5h1M467.5 1111.6h1M389.0 1139.0h1M427.4 1116.3h1M468.2 1115.2h1M466.2 1143.4h1M463.8 1143.5h1M469.8 1136.3h1M475.0 1116.3h1M424.9 1133.3h1M386.0 1124.5h1M471.2 1129.8h1M384.6 1129.9h1M479.4 1164.2h1M410.6 1133.2h1M385.8 1135.5h1M473.4 1109.4h1M472.7 1122.1h1M387.2 1121.4h1M439.9 1124.4h1M469.7 1136.9h1M471.3 1153.4h1M480.8 1135.8h1M464.4 1125.0h1M430.1 1127.6h1M482.5 1106.4h1M385.4 1106.8h1M467.9 1121.8h1M481.8 1114.5h1M418.4 1138.7h1M471.2 1119.8h1M466.0 1146.2h1M453.9 1120.2h1M468.3 1118.5h1M426.0 1116.2h1M374.4 1139.0h1M372.0 1140.9h1M467.3 1108.7h1M471.8 1127.6h1M381.2 1132.1h1M381.9 1153.6h1M472.1 1122.6h1M459.5 1116.2h1M481.1 1145.5h1M456.7 1151.3h1M465.7 1129.6h1M457.4 1127.4h1M469.5 1140.4h1M380.8 1112.7h1M476.0 1105.8h1M375.3 1142.0h1M406.7 1112.1h1M477.0 1111.9h1M471.4 1126.4h1M455.8 1108.0h1M403.5 1131.5h1M470.4 1127.8h1M455.1 1126.5h1M458.9 1121.4h1M463.6 1120.9h1M371.3 1156.2h1M476.0 1123.1h1M473.4 1103.9h1M400.3 1136.7h1M476.0 1119.6h1M430.6 1129.7h1M471.8 1138.8h1M389.1 1130.6h1M433.1 1181.8h1M458.8 1109.2h1M484.8 1125.0h1M459.7 1138.8h1M451.6 1149.0h1M369.6 1146.4h1M386.3 1112.5h1M466.3 1121.6h1M382.9 1138.0h1M467.6 1111.3h1M396.8 1128.5h1M476.8 1122.7h1M398.9 1160.9h1M395.7 1177.1h1M468.9 1121.2h1M429.3 1122.3h1M395.0 1136.4h1M466.6 1118.3h1M463.2 1120.7h1M376.3 1138.2h1M466.9 1139.9h1M399.9 1118.2h1M462.4 1125.6h1M472.0 1128.0h1M481.0 1116.3h1M469.1 1145.7h1M481.9 1120.6h1M437.8 1134.9h1M428.7 1146.5h1M464.7 1110.2h1M465.6 1111.5h1M461.7 1113.3h1M466.4 1134.9h1M419.7 1122.0h1M473.0 1133.0h1M473.6 1124.4h1M466.3 1122.6h1M460.6 1121.3h1M448.1 1125.3h1M378.0 1134.7h1M452.6 1127.5h1M474.8 1122.7h1M420.5 1106.1h1M466.8 1132.7h1M446.3 1116.5h1M418.5 1141.8h1M454.9 1117.8h1M463.8 1170.9h1M471.5 1107.9h1M475.9 1102.5h1M438.2 1104.7h1M476.4 1132.4h1M457.4 1122.1h1M374.2 1141.2h1M467.4 1139.1h1M471.4 1123.0h1M471.7 1127.6h1M389.9 1168.8h1M406.3 1143.7h1M435.3 1131.6h1M439.0 1152.0h1M410.6 1151.7h1M473.9 1118.0h1M450.4 1098.0h1M432.9 1124.1h1M456.9 1120.3h1M452.7 1126.2h1M449.3 1121.6h1M446.3 1114.7h1M472.5 1121.2h1M477.6 1112.7h1M382.6 1140.0h1M463.4 1133.8h1M470.6 1120.7h1M464.0 1131.3h1M477.2 1131.0h1M482.8 1133.7h1M436.0 1115.9h1M481.0 1128.7h1M380.7 1132.5h1M459.0 1128.3h1M463.9 1114.8h1M463.6 1138.9h1M443.4 1115.2h1M467.3 1138.4h1M470.8 1103.4h1M482.2 1138.0h1M465.0 1132.2h1M390.0 1110.5h1M395.6 1174.8h1M384.6 1141.2h1M473.3 1133.6h1M484.2 1107.6h1M372.4 1121.4h1M383.5 1115.1h1M385.9 1124.8h1M474.3 1120.2h1M459.8 1140.7h1M467.8 1138.7h1M373.8 1123.2h1M463.6 1108.7h1M462.4 1115.9h1M445.9 1129.0h1M390.7 1107.6h1M468.5 1125.9h1M483.8 1130.3h1M397.2 1150.7h1M484.0 1132.0h1M402.1 1112.5h1M446.5 1131.7h1M458.0 1130.8h1M459.8 1113.5h1M472.7 1120.3h1M393.2 1127.3h1M380.6 1128.9h1M483.4 1133.3h1M454.1 1162.6h1M453.9 1115.3h1M483.6 1121.5h1M484.6 1113.6h1M456.9 1118.2h1M420.1 1103.1h1M420.3 1125.6h1M466.8 1115.6h1M475.9 1118.6h1M477.4 1127.6h1M435.8 1111.1h1M439.0 1137.3h1M411.1 1143.6h1M474.5 1118.9h1M464.2 1111.0h1M382.2 1188.9h1M462.9 1115.1h1M479.8 1149.5h1M445.9 1120.0h1M482.3 1116.8h1M461.4 1130.3h1M460.8 1121.6h1M457.1 1130.6h1M458.8 1136.1h1M462.7 1138.8h1M428.1 1129.4h1M446.0 1123.5h1M443.3 1142.0h1M454.5 1143.3h1M386.3 1167.7h1M381.7 1151.9h1M445.5 1129.5h1M436.8 1139.6h1M435.2 1157.0h1M400.9 1162.7h1M459.2 1145.1h1M476.2 1123.2h1M394.2 1125.1h1M465.3 1121.4h1M384.2 1144.3h1M470.6 1182.4h1M372.9 1139.2h1M443.7 1116.0h1M422.5 1130.7h1M384.9 1128.0h1M474.1 1133.3h1M475.2 1139.2h1M466.8 1101.4h1M477.9 1111.6h1M482.8 1156.3h1M482.0 1124.4h1M485.9 1130.9h1M461.5 1132.2h1M388.8 1120.0h1M450.8 1144.2h1M399.9 1098.2h1M470.9 1125.1h1M437.7 1125.1h1M465.1 1141.3h1M454.5 1114.7h1M472.3 1133.4h1M469.6 1126.6h1M422.2 1131.0h1M404.8 1119.1h1M396.0 1139.0h1M468.4 1135.4h1M464.9 1132.7h1M446.6 1118.8h1M472.4 1124.4h1M375.8 1138.5h1M374.7 1121.7h1M468.0 1133.9h1M466.4 1117.4h1M381.2 1138.8h1M484.2 1130.4h1M470.5 1119.1h1M459.1 1123.6h1M388.4 1114.1h1M480.0 1133.2h1M465.2 1123.4h1M379.7 1131.6h1M481.9 1091.0h1M477.1 1142.7h1M465.0 1134.7h1M377.8 1124.4h1M472.7 1124.9h1M465.7 1133.4h1M383.1 1141.0h1M392.1 1122.7h1M478.8 1136.2h1M474.4 1117.4h1M461.5 1124.4h1M436.5 1133.4h1M476.2 1127.5h1M468.3 1113.6h1M462.0 1129.4h1M486.0 1127.0h1M377.8 1109.1h1M457.3 1121.5h1M476.2 1150.9h1M375.9 1141.0h1M467.7 1129.7h1M394.5 1172.0h1M433.2 1146.2h1M442.7 1113.7h1M391.6 1129.4h1M426.0 1143.1h1M477.9 1129.0h1M386.3 1127.5h1M476.3 1126.9h1M483.8 1135.0h1M458.5 1104.5h1M458.9 1131.9h1M425.6 1179.7h1M454.7 1111.0h1M472.3 1124.9h1M461.9 1119.2h1M471.7 1120.2h1M450.9 1116.3h1M381.8 1141.2h1M444.8 1185.2h1M387.1 1135.4h1M474.8 1128.0h1M477.2 1118.2h1M459.2 1134.7h1M386.6 1130.3h1M465.7 1154.5h1M467.1 1131.8h1M379.9 1144.1h1M475.5 1109.5h1M432.4 1133.4h1M472.5 1126.4h1M463.4 1121.8h1M383.9 1106.0h1M374.9 1141.3h1M454.9 1116.1h1M402.6 1119.8h1M454.2 1106.1h1M467.2 1127.9h1M433.7 1130.6h1M439.8 1128.6h1M472.8 1129.2h1M442.5 1126.6h1M482.7 1132.9h1M448.9 1104.7h1M457.3 1124.4h1M392.5 1143.0h1M390.9 1127.3h1M378.7 1140.4h1M471.4 1116.9h1M465.4 1111.1h1M466.7 1128.2h1M470.0 1127.6h1M470.1 1132.4h1M476.4 1106.1h1M470.6 1133.5h1M477.0 1129.1h1M374.8 1130.3h1M468.8 1096.9h1M474.4 1119.4h1M471.3 1116.4h1M468.2 1134.8h1M419.8 1123.7h1M473.7 1119.5h1M472.6 1137.6h1M384.9 1141.7h1M383.3 1139.6h1M447.9 1126.4h1M411.8 1156.6h1M463.8 1108.2h1M472.6 1138.4h1M376.6 1147.4h1M467.5 1114.0h1M456.0 1137.2h1M438.7 1122.3h1M467.6 1139.0h1M410.3 1146.0h1M399.6 1122.6h1M452.7 1142.8h1M482.7 1141.1h1M451.1 1180.5h1M468.6 1123.8h1M460.9 1127.4h1M484.8 1147.8h1M471.5 1135.7h1M471.2 1128.4h1M384.9 1129.5h1M423.9 1113.5h1M480.7 1113.8h1M468.3 1129.7h1M437.8 1147.6h1M473.1 1122.2h1M471.8 1122.0h1M466.4 1120.3h1M475.9 1125.4h1M418.3 1142.1h1M472.2 1115.8h1M444.4 1143.4h1M448.7 1090.0h1M476.3 1119.1h1M465.4 1120.3h1M469.5 1103.1h1M483.1 1143.8h1M368.6 1155.8h1M475.2 1120.5h1M384.3 1130.4h1M478.4 1103.1h1M455.8 1110.8h1M376.2 1184.2h1M463.9 1125.5h1M389.1 1134.0h1M470.7 1133.3h1M467.0 1123.6h1M461.7 1134.2h1M387.2 1117.1h1M463.8 1138.0h1M453.3 1119.7h1M476.6 1111.9h1M425.6 1138.3h1M478.6 1125.6h1M389.0 1116.9h1M369.6 1136.5h1M476.3 1116.2h1M484.5 1127.5h1M474.5 1138.8h1M460.8 1125.4h1M468.3 1124.3h1M443.3 1134.4h1M480.9 1150.2h1M440.2 1121.1h1M403.0 1115.4h1M467.1 1096.7h1M456.8 1134.7h1M380.7 1112.0h1M412.8 1142.3h1M370.3 1155.3h1M412.4 1115.4h1M460.7 1127.7h1M376.2 1144.4h1M478.8 1124.1h1M450.0 1134.5h1M464.0 1146.0h1M470.7 1136.7h1M470.3 1117.3h1M444.7 1113.7h1M457.3 1117.9h1M387.9 1125.4h1M463.4 1112.4h1M381.0 1131.7h1M474.1 1120.2h1M461.4 1148.0h1M483.9 1096.5h1M450.7 1129.1h1M478.9 1121.6h1M420.7 1147.9h1M460.4 1123.4h1M390.6 1121.7h1M469.8 1093.3h1M391.9 1125.3h1M461.8 1135.1h1M459.5 1093.0h1M378.9 1144.8h1M377.8 1130.3h1M419.6 1131.4h1M462.7 1121.2h1M469.0 1128.0h1M429.9 1189.3h1M432.3 1125.2h1M393.8 1133.5h1M377.1 1140.0h1M481.7 1123.5h1M467.4 1118.2h1M377.8 1151.4h1M476.3 1111.4h1M448.1 1125.6h1M461.5 1143.3h1M467.0 1137.9h1M464.2 1126.5h1M464.7 1115.4h1M483.9 1124.5h1M457.9 1124.7h1M462.7 1116.4h1M386.9 1131.3h1M382.9 1166.4h1M485.9 1139.7h1M478.2 1121.6h1M479.4 1125.0h1M475.0 1136.8h1M456.5 1132.3h1M472.0 1114.0h1M443.9 1106.0h1M385.7 1145.4h1M437.0 1141.4h1M416.9 1130.2h1M472.9 1134.9h1M409.3 1120.5h1M465.4 1139.7h1M399.0 1122.9h1M468.6 1145.7h1M460.3 1131.5h1M466.5 1120.7h1M461.8 1125.6h1M466.3 1123.9h1M373.2 1140.2h1M459.4 1143.8h1M454.4 1122.5h1M451.3 1117.7h1M485.2 1132.8h1M396.0 1171.6h1M378.6 1127.5h1M468.5 1113.1h1M455.9 1145.0h1M378.3 1123.3h1M470.3 1143.1h1M441.9 1128.7h1M458.6 1102.3h1M463.8 1123.4h1M457.5 1140.2h1M463.8 1127.6h1M473.1 1131.1h1M388.6 1138.4h1M423.2 1136.2h1M396.2 1142.5h1M448.3 1172.0h1M430.5 1128.7h1M480.6 1117.8h1M467.1 1125.9h1M483.3 1119.7h1M420.7 1109.4h1M474.9 1122.4h1M472.3 1127.1h1M448.1 1182.7h1M467.1 1142.6h1M458.6 1132.3h1M474.5 1117.6h1M424.1 1151.9h1M477.2 1111.6h1M459.8 1130.5h1M461.2 1130.0h1M451.7 1115.3h1M475.5 1126.8h1M382.0 1128.2h1M477.2 1111.5h1M435.5 1139.9h1M373.1 1150.4h1M469.2 1107.4h1M381.8 1150.7h1M473.2 1123.0h1M388.3 1132.4h1M479.6 1145.8h1M429.1 1146.9h1M379.0 1117.0h1M469.0 1145.8h1M463.0 1124.1h1M464.6 1140.5h1M459.3 1129.5h1M393.5 1124.7h1M460.4 1123.7h1M451.7 1127.3h1M478.1 1153.3h1M461.5 1106.2h1M461.0 1128.7h1M473.0 1121.4h1M388.0 1119.1h1M453.9 1106.9h1M475.2 1127.3h1M447.7 1101.5h1M388.2 1108.2h1M381.0 1147.5h1M382.8 1125.5h1M476.9 1119.8h1M460.1 1139.2h1M394.2 1126.3h1M473.4 1132.4h1M376.3 1124.2h1M476.0 1167.3h1M431.6 1141.6h1M411.4 1146.6h1M384.4 1129.4h1M464.9 1115.0h1M468.3 1119.1h1M475.7 1130.6h1M471.6 1113.2h1M377.0 1137.2h1M469.4 1146.5h1M435.6 1126.7h1M481.1 1116.4h1M374.2 1147.3h1M471.2 1122.9h1M388.1 1113.0h1M451.7 1126.2h1M470.2 1118.5h1M457.5 1136.8h1M378.7 1148.5h1M381.3 1138.3h1M394.9 1126.7h1M468.7 1134.9h1M383.6 1146.1h1M478.6 1141.3h1M452.2 1106.7h1M376.7 1131.9h1M415.6 1133.2h1M395.6 1135.2h1M476.5 1137.4h1M418.1 1155.8h1M426.2 1130.2h1M457.6 1126.7h1M456.8 1126.9h1M411.2 1173.3h1M386.0 1135.7h1M385.1 1137.5h1M459.4 1143.2h1M457.4 1138.3h1M469.3 1136.3h1M474.4 1110.8h1M446.3 1131.8h1M385.5 1166.1h1M371.9 1151.2h1M463.2 1125.4h1M379.6 1128.9h1M477.0 1113.9h1M471.6 1118.4h1M419.6 1115.4h1M392.7 1135.5h1M391.1 1122.9h1M424.7 1103.7h1M383.1 1141.8h1M462.1 1120.9h1M455.8 1126.7h1M378.3 1139.9h1M392.3 1143.7h1M372.2 1178.9h1M465.7 1139.2h1M466.9 1124.5h1M472.4 1130.4h1M466.0 1103.6h1M465.6 1119.0h1M458.6 1099.2h1M458.1 1115.6h1M469.6 1116.8h1M458.5 1125.7h1M474.2 1129.1h1M480.4 1130.2h1M385.0 1139.2h1M401.3 1146.3h1M431.1 1120.9h1M400.0 1113.7h1M469.8 1112.8h1M455.6 1106.6h1M426.5 1134.5h1M375.4 1133.6h1M459.1 1116.0h1M442.1 1124.0h1M447.0 1118.4h1M468.9 1133.2h1M441.2 1140.7h1M389.1 1128.9h1M378.2 1148.8h1M480.2 1136.1h1M392.7 1119.9h1M456.3 1109.3h1M470.7 1121.9h1M482.6 1108.0h1M460.3 1134.3h1M464.3 1119.9h1M458.1 1131.5h1M477.9 1103.3h1M372.0 1122.4h1M441.8 1130.6h1M465.1 1100.7h1M373.7 1139.8h1M425.4 1139.1h1M382.1 1147.8h1M461.4 1111.5h1M431.3 1138.9h1M481.7 1124.9h1M395.8 1125.7h1M384.3 1118.1h1M409.4 1145.3h1M470.7 1141.7h1M387.2 1131.7h1M376.7 1149.0h1M468.3 1108.7h1M472.0 1125.2h1M477.0 1142.9h1M468.6 1116.6h1M390.0 1128.9h1M466.6 1125.7h1M451.8 1131.4h1M482.6 1127.8h1M483.9 1120.7h1M381.4 1132.1h1M440.8 1181.8h1M375.4 1136.8h1M468.6 1125.6h1M453.3 1142.5h1M439.2 1130.2h1M386.3 1117.6h1M453.7 1105.3h1M478.2 1132.5h1M467.0 1109.1h1M447.4 1152.8h1M457.1 1112.3h1M377.8 1119.3h1M485.7 1117.5h1M474.7 1118.1h1M461.9 1115.5h1M378.9 1127.4h1M396.2 1115.1h1M472.2 1126.7h1M469.5 1131.7h1M394.7 1144.3h1M472.5 1095.6h1M479.3 1103.0h1M470.2 1122.4h1M467.8 1126.8h1M464.4 1126.7h1M462.9 1123.6h1M382.0 1134.1h1M386.4 1153.2h1M458.8 1121.3h1M443.0 1132.4h1M477.2 1121.6h1M469.8 1146.5h1M483.1 1115.2h1M483.0 1137.6h1M473.0 1123.9h1M370.5 1143.6h1M466.8 1126.2h1M368.1 1141.4h1M374.6 1143.8h1M383.1 1162.0h1M458.2 1135.7h1M466.0 1114.9h1M477.0 1137.9h1M390.9 1136.2h1M398.3 1133.8h1M410.6 1123.9h1M466.5 1146.0h1M373.5 1159.4h1M380.9 1141.5h1M376.0 1168.0h1M391.6 1180.3h1M474.5 1112.8h1M466.8 1156.6h1M465.1 1127.9h1M464.7 1117.2h1M475.9 1128.3h1M461.2 1174.6h1M470.0 1119.6h1M458.1 1150.9h1M475.1 1091.6h1M447.2 1138.8h1M471.1 1121.4h1M446.8 1148.9h1M472.5 1130.9h1M387.2 1126.1h1M466.2 1140.9h1M480.1 1113.1h1M375.0 1123.1h1M466.9 1111.4h1M445.9 1121.1h1M437.9 1131.7h1M378.5 1134.8h1M384.6 1137.3h1M463.4 1096.6h1M464.7 1127.8h1M468.7 1132.2h1M429.3 1145.6h1M476.4 1120.2h1M369.7 1134.0h1M478.5 1143.8h1M386.8 1135.1h1M382.5 1176.5h1M465.0 1132.2h1M461.0 1130.1h1M469.6 1119.0h1M476.0 1110.9h1M443.9 1125.3h1M479.3 1134.2h1M387.3 1118.5h1M389.1 1085.8h1M383.1 1136.1h1M392.9 1135.6h1M374.2 1178.6h1M448.3 1130.3h1M441.0 1137.2h1M406.3 1145.2h1M446.6 1126.7h1M457.0 1123.1h1M480.6 1117.4h1M482.6 1148.3h1M483.2 1121.5h1M467.9 1134.6h1M391.1 1119.4h1M476.2 1111.8h1M457.9 1128.1h1M471.3 1126.7h1M452.6 1127.7h1M376.0 1141.9h1M479.8 1139.7h1M426.0 1128.8h1M477.5 1135.6h1M398.4 1096.7h1M465.4 1134.1h1M395.2 1134.9h1M373.2 1132.5h1M462.2 1152.4h1M388.1 1128.1h1M467.9 1119.7h1M467.2 1097.5h1M460.0 1125.5h1M467.7 1137.1h1M479.3 1120.7h1M376.9 1141.8h1M468.8 1115.2h1M390.8 1087.4h1M435.1 1102.0h1M432.9 1142.6h1M452.4 1132.3h1M463.5 1126.8h1M479.5 1109.5h1M445.3 1128.0h1M445.8 1154.2h1M474.4 1111.0h1M462.0 1130.8h1M473.5 1129.2h1M389.0 1132.1h1M452.5 1128.5h1M376.1 1151.9h1M438.0 1121.5h1M381.6 1135.4h1M448.2 1118.6h1M478.7 1122.0h1M390.0 1141.4h1M465.0 1141.2h1M474.8 1147.2h1M444.8 1119.7h1M435.1 1121.4h1M380.9 1136.6h1M468.3 1114.0h1M450.0 1126.4h1M445.0 1119.5h1M469.8 1119.7h1M450.8 1127.3h1M472.5 1104.4h1M463.6 1112.9h1M441.6 1128.7h1M390.3 1117.2h1M468.9 1143.9h1M374.7 1134.1h1M386.1 1119.2h1M386.4 1124.5h1M457.5 1137.7h1M479.3 1116.4h1M386.8 1106.7h1M473.6 1137.6h1M382.8 1122.3h1M371.3 1126.7h1M383.0 1138.8h1M398.7 1122.5h1M467.6 1132.3h1M466.8 1114.5h1M471.4 1141.9h1M425.7 1138.8h1M468.5 1113.7h1M472.5 1126.6h1M466.1 1126.6h1M464.1 1156.0h1M373.9 1137.0h1M460.3 1126.9h1M461.2 1127.3h1M480.1 1136.2h1M394.2 1119.8h1M377.8 1138.9h1M477.6 1110.5h1M452.8 1149.7h1M460.9 1100.4h1M468.3 1144.0h1M385.4 1131.7h1M461.3 1125.9h1M413.3 1128.0h1M469.1 1133.4h1M379.4 1134.8h1M477.5 1142.5h1M465.2 1122.7h1M370.1 1152.0h1M376.9 1131.9h1M471.5 1114.4h1M419.6 1147.2h1M397.7 1133.7h1M465.7 1125.6h1M467.3 1132.8h1M369.3 1128.9h1M375.5 1148.6h1M467.5 1129.4h1M380.5 1150.3h1M453.4 1134.2h1M430.4 1113.6h1M464.4 1130.8h1M462.7 1095.5h1M389.0 1136.0h1M460.4 1134.6h1M403.2 1143.8h1M470.2 1110.4h1M386.2 1130.5h1M470.9 1140.1h1M471.4 1125.0h1M421.7 1129.4h1M374.2 1131.6h1M474.8 1113.5h1M474.1 1125.0h1M389.4 1123.7h1M406.7 1189.2h1M459.1 1124.6h1M384.1 1115.3h1M472.4 1127.7h1M414.5 1142.8h1M458.4 1131.6h1M479.4 1104.6h1M443.1 1128.1h1M386.4 1150.6h1M373.1 1166.5h1M482.6 1133.8h1M416.4 1134.9h1M465.9 1120.7h1M380.6 1145.1h1M452.5 1121.9h1M462.9 1108.3h1M482.9 1112.5h1M461.7 1136.1h1M478.3 1140.6h1M435.9 1114.1h1M461.3 1139.0h1M427.1 1135.6h1M477.7 1111.6h1M483.2 1114.3h1M402.2 1120.0h1M484.3 1145.5h1M461.1 1121.2h1M480.9 1117.9h1M462.3 1148.5h1M455.8 1108.3h1M472.2 1125.6h1M460.7 1133.9h1M385.8 1135.0h1M420.9 1151.6h1M465.9 1112.5h1M479.9 1106.4h1M467.7 1142.9h1M471.5 1113.7h1M385.7 1118.6h1M405.8 1135.6h1M478.1 1132.3h1M456.8 1146.5h1M441.9 1140.0h1M388.7 1139.2h1M367.8 1170.4h1M472.1 1137.3h1M479.0 1127.7h1M459.7 1140.9h1M391.5 1121.9h1M475.0 1139.7h1M453.5 1142.5h1M381.1 1131.8h1M424.1 1136.1h1M453.0 1143.5h1M465.5 1109.6h1M418.5 1124.7h1M376.7 1116.6h1M473.0 1129.8h1M437.0 1109.6h1M388.8 1142.0h1M469.6 1105.7h1M480.8 1119.0h1M465.4 1117.6h1M396.4 1106.0h1M389.2 1117.9h1M458.5 1142.5h1M460.6 1121.2h1M472.9 1134.9h1M469.4 1105.0h1M451.5 1114.8h1M450.8 1146.8h1M443.3 1119.7h1M432.9 1132.6h1M444.6 1130.4h1M458.2 1157.6h1M456.0 1128.3h1M476.4 1114.1h1M480.9 1121.6h1M470.1 1139.7h1M374.7 1147.6h1M467.4 1107.0h1M471.3 1119.9h1M454.9 1120.1h1M466.5 1143.1h1M410.6 1147.6h1M466.0 1103.1h1M442.8 1131.6h1M415.4 1127.7h1M482.4 1102.4h1M424.6 1144.3h1M461.4 1114.2h1M397.4 1116.3h1M395.0 1140.2h1M476.2 1137.7h1M463.4 1131.4h1M386.7 1119.6h1M459.6 1114.8h1M386.9 1133.5h1M466.0 1126.1h1M449.1 1126.3h1M453.3 1146.2h1M450.9 1143.2h1M427.4 1134.3h1M437.7 1123.0h1M385.2 1133.8h1M468.7 1116.6h1M465.8 1125.5h1M479.6 1105.0h1M447.0 1141.2h1M427.5 1125.0h1M480.7 1127.7h1M443.7 1122.8h1M406.7 1105.5h1M470.4 1118.3h1M489.1 1108.7h1M377.9 1123.7h1M478.9 1114.0h1M382.4 1128.2h1M446.9 1124.5h1M380.9 1146.0h1M466.6 1120.5h1M403.6 1100.9h1M389.3 1115.4h1M458.0 1125.1h1M369.1 1142.7h1M410.7 1110.7h1M469.8 1118.1h1M467.7 1134.0h1M473.4 1149.5h1M463.8 1133.3h1M380.1 1138.0h1M452.1 1136.7h1M445.4 1135.2h1M423.5 1134.2h1M460.0 1137.5h1M482.8 1131.8h1M386.1 1139.8h1M464.7 1118.5h1M434.3 1137.1h1M467.8 1124.2h1M386.8 1140.2h1M426.0 1121.0h1M375.1 1141.8h1M473.6 1112.6h1M481.1 1130.9h1M476.9 1139.9h1M389.5 1121.3h1M391.8 1117.3h1M460.1 1100.5h1M479.6 1148.3h1M393.6 1138.0h1M397.4 1129.4h1M386.5 1123.9h1M461.5 1129.0h1M385.4 1125.7h1M409.6 1175.6h1M433.3 1187.3h1M473.3 1104.9h1M459.4 1113.1h1M471.8 1120.5h1M457.1 1121.6h1M463.3 1108.1h1M474.8 1129.0h1M467.0 1119.4h1M474.6 1121.9h1M458.9 1180.2h1M473.3 1098.0h1M454.7 1129.4h1M504.3 1141.5h1M446.7 1129.0h1M391.4 1126.1h1M475.4 1115.0h1M459.2 1129.2h1M471.4 1128.0h1M471.6 1117.3h1M373.6 1146.9h1M390.6 1112.5h1M485.1 1122.8h1M456.3 1112.8h1M452.4 1114.1h1M453.2 1115.4h1M467.3 1115.8h1M441.7 1111.0h1M468.2 1124.2h1M473.5 1145.3h1M476.2 1152.3h1M379.6 1151.0h1M422.6 1123.7h1M390.4 1134.7h1M442.8 1167.9h1M476.7 1108.3h1M474.2 1121.3h1M455.0 1100.7h1M461.2 1126.0h1M453.9 1100.8h1M461.7 1112.3h1M469.7 1120.9h1M479.4 1117.3h1M378.8 1139.8h1M452.4 1111.2h1M438.4 1122.2h1M445.7 1113.8h1M466.0 1120.1h1M400.4 1147.7h1M480.7 1126.0h1M478.3 1129.2h1M471.1 1124.9h1M422.0 1162.1h1M479.9 1164.5h1M434.5 1164.4h1M476.8 1128.0h1M389.7 1123.3h1M377.8 1132.6h1M454.3 1126.4h1M404.9 1176.7h1M469.8 1111.7h1M449.5 1113.6h1M470.5 1129.0h1M396.1 1137.6h1M435.7 1179.1h1M421.2 1125.0h1M492.0 1117.8h1M455.4 1111.5h1M385.4 1127.0h1M473.6 1127.3h1M453.7 1126.1h1M379.7 1132.5h1M463.7 1167.5h1M373.3 1144.2h1M376.9 1145.7h1M473.9 1131.4h1M474.9 1136.2h1M387.8 1135.0h1M387.6 1131.9h1M485.9 1110.1h1M462.0 1111.2h1M386.1 1136.4h1M462.2 1094.8h1M453.1 1147.3h1M459.2 1117.0h1M473.1 1110.7h1M457.1 1116.8h1M399.9 1126.2h1M470.7 1111.2h1M465.3 1122.1h1M474.2 1114.3h1M374.4 1145.9h1M384.3 1122.3h1M476.6 1118.4h1M470.2 1119.9h1M480.9 1101.7h1M464.8 1138.8h1M368.9 1131.8h1M451.4 1129.7h1M373.8 1137.1h1M461.0 1108.8h1M476.6 1121.4h1M445.2 1152.0h1M444.0 1144.3h1M378.6 1128.3h1M485.3 1103.6h1M474.4 1113.3h1M468.5 1126.2h1M477.7 1138.3h1M465.5 1120.4h1M477.9 1128.7h1M370.4 1125.7h1M464.3 1152.2h1M472.7 1128.9h1M476.8 1136.1h1M452.2 1144.0h1M465.8 1126.7h1M463.9 1118.0h1M430.6 1104.4h1M473.1 1154.4h1M469.4 1143.6h1M476.7 1135.0h1M467.4 1124.5h1M467.9 1124.3h1M469.4 1123.9h1M373.2 1157.9h1M376.3 1143.4h1M394.1 1130.7h1M376.7 1126.8h1M453.5 1131.2h1M383.7 1136.9h1M460.3 1117.0h1M484.2 1131.3h1M460.8 1147.8h1M432.0 1122.7h1M463.8 1121.4h1M431.6 1134.2h1M432.4 1171.3h1M479.2 1126.1h1M383.8 1121.7h1M468.8 1118.5h1M407.5 1135.7h1M466.2 1128.6h1M377.7 1138.7h1M478.0 1123.3h1M385.9 1149.3h1M476.7 1111.5h1M477.3 1151.2h1M406.2 1107.0h1M377.5 1148.3h1M453.7 1127.6h1M460.4 1136.9h1M477.6 1131.0h1M445.5 1135.2h1M450.7 1118.9h1M481.2 1109.9h1M425.4 1148.8h1M382.7 1127.2h1M443.9 1118.6h1M458.1 1147.3h1M456.0 1135.9h1M372.6 1150.7h1M392.1 1114.0h1M390.5 1123.7h1M373.5 1146.3h1M465.9 1136.3h1M471.4 1144.7h1M456.5 1126.2h1M442.8 1146.8h1M448.8 1139.1h1M383.8 1122.2h1M464.1 1120.5h1M432.8 1180.7h1M478.3 1114.4h1M465.8 1128.7h1M386.9 1108.0h1M373.1 1136.2h1M377.0 1145.8h1M469.7 1111.5h1M397.0 1127.4h1M466.2 1141.8h1M466.5 1126.1h1M473.7 1136.6h1M458.9 1126.7h1M468.0 1176.6h1M479.6 1129.6h1M466.4 1100.0h1M385.4 1121.3h1M462.7 1099.0h1M474.6 1095.6h1M479.5 1120.9h1M459.2 1127.6h1M474.1 1110.5h1M466.0 1110.1h1M468.8 1120.8h1M478.0 1124.1h1M441.5 1136.7h1M426.0 1166.8h1M485.7 1153.2h1M466.7 1112.3h1M474.9 1118.5h1M469.5 1124.3h1M479.0 1111.7h1M467.6 1100.5h1M479.4 1172.4h1M483.4 1106.8h1M474.5 1123.4h1M463.4 1139.1h1M384.1 1127.7h1M461.1 1138.9h1M394.8 1127.1h1M445.2 1106.2h1M456.4 1124.9h1M380.9 1151.8h1M383.7 1142.7h1M478.8 1113.5h1M463.3 1122.6h1M446.9 1123.5h1M475.3 1112.4h1M457.2 1132.4h1M457.9 1184.8h1M459.7 1125.3h1M461.5 1122.7h1M385.5 1135.9h1M400.7 1100.8h1M477.5 1127.9h1M388.3 1141.6h1M469.4 1109.3h1M454.6 1121.3h1M384.6 1146.3h1M456.2 1132.8h1M394.9 1129.4h1M476.1 1120.4h1M466.2 1143.2h1M472.2 1136.2h1M459.4 1131.8h1M386.8 1136.0h1M474.6 1126.9h1M482.9 1124.8h1M372.3 1141.6h1M477.4 1116.5h1M472.5 1121.5h1M474.6 1129.3h1M435.2 1122.3h1M468.3 1113.6h1M458.8 1136.5h1M472.3 1100.5h1M465.9 1110.0h1M462.5 1094.6h1M387.5 1119.6h1M471.9 1151.3h1M485.3 1127.4h1M460.7 1123.0h1M467.5 1116.8h1M436.8 1132.2h1M383.4 1137.2h1M399.0 1147.2h1M388.4 1121.9h1M376.8 1120.4h1M466.2 1126.4h1M428.7 1134.7h1M463.0 1117.6h1M465.6 1138.7h1M371.3 1153.6h1M382.8 1119.7h1M477.9 1133.4h1M481.1 1111.1h1M477.8 1136.7h1M458.6 1139.2h1M464.8 1082.0h1M386.4 1139.2h1M475.6 1127.6h1M483.6 1137.1h1M489.2 1091.7h1M374.1 1130.6h1M473.5 1100.1h1M437.1 1188.0h1M460.2 1135.8h1M425.2 1143.0h1M425.1 1135.7h1M449.3 1111.4h1M469.3 1106.5h1M471.1 1134.2h1M396.4 1109.6h1M467.8 1109.6h1M419.9 1129.1h1M419.6 1104.0h1M462.8 1134.2h1M473.2 1102.9h1M378.4 1152.6h1M467.9 1122.4h1M403.2 1138.4h1M388.4 1117.9h1M476.0 1117.3h1M377.7 1117.7h1M374.2 1141.6h1M471.9 1139.0h1M454.8 1103.3h1M479.2 1119.9h1M469.7 1124.7h1M472.4 1125.5h1M383.9 1134.2h1M381.6 1147.1h1M472.4 1113.2h1M388.1 1118.5h1M478.4 1121.5h1M470.6 1127.0h1M474.0 1129.2h1M468.0 1135.2h1M462.0 1105.9h1M370.0 1151.6h1M471.6 1138.9h1M395.9 1128.4h1M385.1 1138.8h1M380.8 1104.8h1M463.7 1170.0h1M375.3 1106.9h1M380.3 1141.1h1M382.1 1138.4h1M389.6 1120.0h1M466.0 1111.3h1M460.3 1129.5h1M477.6 1122.0h1M464.3 1117.0h1M467.6 1132.5h1M472.9 1110.5h1M393.6 1138.5h1M380.5 1140.6h1M483.7 1123.4h1M452.1 1131.4h1M474.1 1138.2h1M461.6 1108.4h1M459.3 1122.5h1M378.9 1112.8h1M448.9 1138.1h1M476.8 1131.0h1M458.6 1143.9h1M473.1 1136.4h1M480.3 1120.4h1M464.5 1103.4h1M389.3 1119.4h1M464.1 1133.0h1M386.6 1137.4h1M380.0 1125.3h1M466.1 1118.4h1M465.5 1122.1h1M445.2 1138.0h1M462.1 1129.3h1M374.7 1152.0h1M369.5 1152.1h1M467.3 1119.1h1M386.7 1127.2h1M423.4 1135.3h1M454.1 1118.5h1M470.1 1138.5h1M382.6 1143.7h1M438.7 1132.1h1M468.0 1119.0h1M474.6 1124.3h1M473.3 1122.1h1M471.3 1108.5h1M454.2 1118.2h1M485.0 1133.5h1M452.1 1119.1h1M456.2 1141.2h1M471.5 1102.8h1M389.8 1130.7h1M414.8 1140.0h1M466.1 1099.0h1M441.5 1130.4h1M480.0 1109.4h1M485.0 1150.8h1M479.9 1121.4h1M378.9 1131.5h1M478.6 1106.5h1M464.4 1129.0h1M469.1 1121.0h1M458.7 1128.7h1M386.7 1129.6h1M400.8 1091.0h1M475.8 1151.1h1M456.9 1139.0h1M389.4 1126.9h1M406.0 1132.5h1M465.1 1123.3h1M471.3 1101.9h1M462.5 1120.9h1M452.2 1105.9h1M449.4 1114.4h1M460.0 1122.1h1M467.1 1099.1h1M478.3 1114.2h1M470.2 1140.2h1M468.3 1136.4h1M451.4 1135.7h1M471.3 1145.1h1M445.6 1125.8h1M458.6 1120.1h1M380.5 1139.2h1M467.1 1112.5h1M470.7 1139.6h1M471.8 1114.8h1M463.6 1121.0h1M452.3 1153.0h1M458.3 1135.9h1M466.2 1139.4h1M374.3 1145.0h1M470.4 1116.4h1M478.7 1142.1h1M458.9 1121.1h1M402.6 1184.5h1M458.2 1109.0h1M478.0 1104.7h1M482.0 1144.3h1M468.1 1141.9h1M395.6 1145.8h1M430.1 1127.3h1M459.8 1118.1h1M412.8 1104.8h1M460.6 1106.8h1M465.2 1116.9h1M389.8 1130.1h1M471.6 1113.1h1M421.5 1112.3h1M459.0 1128.9h1M429.4 1115.3h1M475.4 1134.6h1M473.4 1124.8h1M478.3 1121.7h1M453.2 1136.9h1M422.2 1144.9h1M485.2 1118.8h1M453.7 1123.2h1M386.1 1126.4h1M473.7 1124.6h1M399.7 1132.6h1M461.5 1126.6h1M385.8 1124.5h1M458.9 1109.6h1M476.2 1105.7h1M474.4 1123.9h1M481.7 1113.6h1M466.3 1144.8h1M480.8 1127.6h1M388.5 1122.0h1M406.6 1107.2h1M449.4 1126.8h1M471.0 1128.1h1M454.8 1102.7h1M463.6 1122.7h1M483.3 1148.1h1M467.8 1126.3h1M470.0 1128.7h1M382.9 1126.7h1M465.0 1117.1h1M387.8 1143.5h1M470.2 1109.5h1M388.9 1131.2h1M476.4 1100.9h1M441.2 1139.9h1M445.5 1125.8h1M448.5 1141.0h1M400.5 1118.8h1M465.1 1121.0h1M468.1 1127.4h1M424.8 1135.3h1M375.8 1140.1h1M476.4 1129.1h1M378.6 1126.1h1M408.5 1144.5h1M460.2 1129.6h1M461.6 1099.6h1M471.5 1121.7h1M472.7 1114.5h1M386.5 1131.3h1M470.6 1114.2h1M462.7 1126.4h1M447.1 1161.9h1M476.7 1116.4h1M475.9 1115.0h1M476.5 1117.8h1M463.9 1119.4h1M464.5 1130.7h1M468.4 1141.8h1M456.4 1121.7h1M374.3 1113.1h1M474.8 1121.0h1M478.0 1115.5h1M445.2 1152.8h1M477.0 1125.9h1M368.0 1154.8h1M385.4 1142.9h1M479.0 1130.0h1M461.6 1114.1h1M482.6 1120.7h1M408.8 1140.7h1M471.7 1128.5h1M391.3 1110.3h1M446.8 1144.6h1M475.4 1136.6h1M384.5 1135.1h1M483.8 1138.5h1M453.0 1108.3h1M391.1 1135.0h1M461.6 1130.2h1M370.6 1144.7h1M484.1 1115.8h1M471.4 1132.4h1M391.6 1137.6h1M457.3 1123.7h1M383.7 1133.5h1M482.3 1118.2h1M467.0 1116.7h1M454.0 1106.5h1M443.1 1116.8h1M447.3 1132.9h1M457.7 1129.0h1M477.3 1133.0h1M456.9 1124.8h1M481.9 1129.6h1M466.9 1116.9h1M433.4 1121.8h1M464.9 1138.1h1M384.6 1143.4h1M475.8 1113.0h1M481.7 1121.4h1M479.7 1112.4h1M374.7 1122.9h1M476.2 1093.3h1M470.0 1123.5h1M465.6 1110.7h1M394.2 1129.5h1M475.8 1121.0h1M395.1 1136.4h1M390.0 1117.2h1M373.7 1131.8h1M388.3 1143.1h1M473.8 1092.6h1M380.2 1160.4h1M465.1 1106.1h1M480.7 1123.0h1M471.0 1108.0h1M480.2 1106.8h1M464.6 1098.0h1M473.7 1126.1h1M471.3 1114.7h1M437.1 1153.4h1M451.3 1096.3h1M379.2 1138.3h1M465.6 1122.2h1M477.3 1092.9h1M400.9 1131.6h1M471.7 1117.7h1M384.1 1118.5h1M475.9 1120.0h1M474.4 1112.3h1M473.4 1147.7h1M452.1 1139.9h1M448.6 1123.5h1M478.6 1126.0h1M453.3 1164.6h1M467.4 1131.0h1M467.8 1126.4h1M479.2 1099.7h1M407.5 1115.3h1M472.4 1124.1h1M443.3 1127.5h1M471.8 1115.6h1M479.5 1189.8h1M380.8 1129.6h1M454.6 1111.3h1M457.5 1103.9h1M456.6 1136.9h1M385.5 1123.7h1M455.4 1124.4h1M468.8 1111.0h1M458.0 1124.2h1M467.3 1124.7h1M456.9 1132.2h1M478.3 1132.5h1M391.4 1118.6h1M455.2 1135.3h1M380.6 1113.8h1M451.2 1136.2h1M399.2 1123.4h1M475.7 1125.4h1M385.9 1125.4h1M473.9 1131.0h1M474.6 1137.5h1M471.9 1126.2h1M481.8 1140.7h1M440.0 1147.4h1M399.0 1134.8h1M390.1 1129.8h1M476.4 1172.3h1M412.7 1117.0h1M463.0 1123.6h1M374.3 1134.6h1M473.8 1121.5h1M448.3 1126.3h1M459.7 1129.1h1M390.1 1137.7h1M374.8 1128.6h1M453.0 1122.8h1M454.5 1120.8h1M476.8 1140.1h1M376.6 1136.7h1M375.9 1136.0h1M453.2 1145.4h1M462.4 1120.2h1M374.3 1133.5h1M458.6 1129.7h1M415.7 1129.4h1M469.1 1107.9h1M452.1 1116.4h1M475.4 1128.9h1M459.9 1116.7h1M455.4 1122.3h1M466.0 1123.8h1M377.2 1140.2h1M376.9 1150.3h1M468.9 1115.7h1M378.0 1123.9h1M457.7 1124.4h1M481.7 1147.2h1M467.8 1141.4h1M374.8 1140.6h1M370.4 1143.8h1M429.2 1110.2h1M468.8 1143.2h1M432.8 1119.2h1M434.7 1111.5h1M461.1 1131.6h1M479.5 1133.0h1M416.1 1125.8h1M466.4 1116.3h1M374.2 1130.3h1M463.2 1117.0h1M457.9 1111.2h1M382.5 1153.6h1M389.3 1131.0h1M466.1 1132.4h1M379.9 1143.1h1M373.7 1138.5h1M478.9 1125.5h1M465.5 1114.9h1M466.9 1133.0h1M446.3 1116.9h1M414.7 1099.1h1M450.5 1126.8h1M469.3 1134.2h1M393.0 1124.9h1M463.1 1153.1h1M372.9 1141.9h1M450.2 1133.5h1M459.3 1138.4h1M453.6 1124.5h1M466.0 1129.6h1M477.5 1120.8h1M477.3 1130.5h1M473.4 1111.2h1M434.9 1123.3h1M379.5 1138.1h1M454.1 1132.0h1M431.8 1130.4h1M453.0 1123.9h1M394.3 1117.5h1M375.7 1129.7h1M378.8 1119.9h1M372.9 1134.5h1M469.1 1118.7h1M474.8 1124.5h1M461.4 1119.3h1M429.8 1146.1h1M431.6 1157.9h1M450.7 1132.6h1M385.8 1129.3h1M454.4 1144.7h1M478.2 1127.3h1M474.5 1131.5h1M463.4 1118.1h1M475.8 1130.4h1M472.0 1115.7h1M477.7 1138.7h1M470.5 1111.3h1M469.2 1130.5h1M407.5 1171.3h1M375.7 1149.7h1M412.4 1116.4h1M384.0 1123.8h1M458.2 1128.0h1M459.0 1110.5h1M376.7 1128.5h1M434.3 1134.0h1M451.1 1124.9h1M467.0 1128.3h1M473.9 1135.2h1M475.2 1125.3h1M462.3 1113.7h1M470.6 1159.8h1M445.4 1175.3h1M465.6 1144.9h1M460.3 1135.1h1M449.5 1120.1h1M401.6 1149.6h1M377.3 1135.8h1M468.1 1130.6h1M381.5 1136.3h1M482.9 1122.7h1M471.2 1117.1h1M464.2 1119.7h1M386.9 1126.1h1M432.9 1128.4h1M469.2 1112.1h1M449.3 1118.8h1M446.4 1136.3h1M385.6 1118.6h1M378.8 1115.0h1M380.8 1133.7h1M474.7 1099.4h1M417.3 1133.4h1M469.2 1128.5h1M388.1 1136.6h1M480.5 1145.2h1M417.2 1130.7h1M478.9 1132.0h1M449.1 1129.1h1M411.0 1134.1h1M441.1 1115.1h1M468.0 1126.3h1M467.0 1122.4h1M376.1 1139.9h1M378.7 1122.1h1M449.0 1110.1h1M485.3 1118.0h1M479.3 1110.5h1M379.0 1151.7h1M425.1 1120.7h1M468.1 1127.1h1M436.7 1126.8h1M473.3 1132.8h1M462.1 1145.4h1M401.6 1123.2h1M457.5 1124.7h1M472.7 1121.7h1M386.0 1145.0h1M475.6 1133.0h1M450.9 1145.8h1M444.1 1125.8h1M468.3 1153.4h1M469.9 1123.0h1M484.8 1128.3h1M442.5 1132.0h1M468.4 1123.3h1M404.2 1128.7h1M416.4 1130.3h1M459.8 1107.6h1M388.7 1122.8h1M442.2 1109.2h1M394.1 1136.2h1M472.9 1119.7h1M461.7 1123.7h1M469.4 1121.5h1M470.5 1099.6h1M482.9 1140.8h1M424.9 1103.3h1M472.2 1119.1h1M370.6 1150.5h1M471.1 1134.6h1M471.3 1154.0h1M467.2 1124.3h1M480.2 1125.4h1M477.5 1104.4h1M373.7 1157.5h1M465.5 1102.7h1M386.6 1126.8h1M469.6 1123.9h1M449.2 1128.5h1M472.4 1101.9h1M458.9 1127.4h1M461.4 1137.6h1M461.9 1118.4h1M478.4 1103.4h1M461.9 1120.6h1M377.6 1135.6h1M465.2 1124.3h1M419.4 1139.6h1M467.3 1126.6h1M474.4 1118.8h1M482.7 1121.4h1M378.1 1142.0h1M478.4 1125.8h1M451.6 1115.3h1M411.6 1125.8h1M379.1 1140.9h1M465.2 1128.7h1M473.5 1124.4h1M475.2 1117.5h1M432.0 1122.5h1M477.0 1120.7h1M483.2 1127.9h1M384.6 1130.2h1M379.9 1117.4h1M458.3 1130.9h1M426.0 1121.6h1M469.6 1112.6h1M473.0 1117.5h1M465.1 1139.2h1M386.8 1128.4h1M450.1 1117.8h1M465.2 1112.3h1M470.2 1110.1h1M454.0 1113.7h1M466.9 1117.1h1M456.2 1109.9h1M473.1 1125.0h1M470.1 1115.0h1M456.6 1109.1h1M483.1 1119.5h1M374.2 1133.2h1M466.5 1114.7h1M422.9 1123.0h1M471.0 1136.1h1M470.7 1100.2h1M484.0 1132.2h1M468.0 1138.1h1M378.5 1115.7h1M373.3 1165.6h1M377.2 1140.9h1M375.1 1134.2h1M403.0 1110.0h1M470.4 1109.9h1M475.7 1122.4h1M484.9 1087.8h1M480.1 1133.0h1M435.6 1176.3h1M419.1 1116.6h1M405.5 1122.8h1M404.4 1111.6h1M453.5 1116.7h1M462.0 1168.3h1M458.1 1147.2h1M462.1 1099.7h1M478.8 1124.8h1M454.5 1117.4h1M476.9 1118.7h1M456.2 1139.7h1M474.8 1110.5h1M476.3 1129.7h1M467.3 1136.8h1M466.9 1124.4h1M472.5 1127.9h1M463.6 1126.3h1M473.4 1116.7h1M476.0 1107.4h1M470.6 1115.9h1M472.1 1100.5h1M468.2 1135.1h1M375.7 1136.5h1M469.4 1123.1h1M378.1 1148.8h1M492.2 1119.7h1M470.9 1135.0h1M467.4 1128.2h1M463.9 1125.9h1M375.5 1092.1h1M466.4 1134.5h1M456.8 1138.3h1M482.8 1134.1h1M447.7 1138.0h1M383.0 1125.6h1M465.1 1138.5h1M467.1 1108.9h1M445.4 1116.4h1M468.4 1124.3h1M381.2 1146.5h1M456.8 1113.6h1M475.4 1147.8h1M466.6 1112.0h1M477.1 1135.1h1M461.3 1128.6h1M466.5 1120.5h1M460.1 1125.0h1M481.3 1119.0h1M466.5 1139.7h1M479.4 1130.4h1M383.6 1132.2h1M457.5 1142.1h1M381.9 1147.1h1M390.6 1133.5h1M461.8 1117.7h1M465.7 1134.5h1M465.4 1160.7h1M458.4 1130.3h1M473.5 1127.1h1M452.3 1124.9h1M472.1 1113.2h1M481.0 1126.1h1M478.6 1122.0h1M458.5 1129.9h1M484.3 1140.0h1M462.8 1139.6h1M389.3 1125.4h1M473.2 1111.8h1M468.1 1140.1h1M375.0 1145.0h1M376.2 1119.4h1M386.1 1159.8h1M376.3 1142.6h1M424.9 1126.6h1M466.0 1140.0h1M464.8 1124.8h1M382.5 1161.6h1M415.9 1134.5h1M428.2 1148.2h1M467.0 1111.0h1M370.7 1132.2h1M382.0 1124.3h1M474.0 1128.7h1M470.6 1114.4h1M411.8 1164.2h1M471.7 1123.4h1M422.7 1125.4h1M464.6 1116.7h1M466.3 1121.0h1M379.9 1124.5h1M456.8 1130.0h1M456.6 1118.7h1M470.3 1137.5h1M472.3 1130.7h1M427.7 1165.7h1M451.2 1142.1h1M382.0 1133.7h1M429.3 1123.7h1M428.7 1129.2h1M444.6 1099.5h1M477.4 1129.7h1M463.4 1129.4h1M463.0 1128.4h1M384.7 1130.6h1M475.7 1133.8h1M454.1 1131.1h1M422.1 1146.3h1M384.7 1117.7h1M376.6 1117.5h1M482.8 1112.4h1M457.1 1125.8h1M449.5 1125.8h1M473.9 1136.8h1M394.2 1121.4h1M391.3 1134.0h1M397.9 1102.8h1M371.0 1144.6h1M464.3 1136.5h1M469.3 1129.9h1M377.7 1130.5h1M469.0 1116.5h1M467.7 1122.5h1M418.3 1143.8h1M479.1 1123.0h1M470.7 1175.4h1M471.7 1140.8h1M480.7 1126.9h1M467.0 1127.8h1M452.1 1133.7h1M443.1 1153.1h1M377.2 1153.6h1M387.5 1114.4h1M415.1 1145.8h1M449.0 1126.1h1M463.7 1124.3h1M447.6 1161.6h1M471.0 1111.4h1M433.4 1118.9h1M474.4 1108.6h1M476.7 1129.9h1M454.7 1114.0h1M426.1 1121.6h1M376.7 1128.0h1M468.8 1122.9h1M377.3 1140.7h1M378.6 1141.5h1M470.1 1110.8h1M474.9 1136.0h1M477.8 1119.7h1M466.7 1167.5h1M471.6 1130.6h1M463.1 1146.6h1M463.4 1115.7h1M449.0 1105.5h1M483.6 1101.3h1M455.7 1157.6h1M469.4 1122.3h1M462.5 1111.7h1M404.7 1137.8h1M382.5 1138.7h1M476.0 1149.8h1M476.6 1107.8h1M374.9 1147.8h1M456.3 1115.8h1M391.1 1134.6h1M449.3 1144.9h1M369.2 1156.5h1M459.2 1125.0h1M381.0 1133.9h1M469.0 1136.1h1M390.5 1126.7h1M470.7 1102.4h1M450.8 1122.5h1M470.4 1131.6h1M463.7 1162.7h1M439.4 1128.4h1M463.7 1118.9h1M420.2 1116.9h1M384.0 1132.7h1M386.9 1141.7h1M458.2 1125.2h1M381.3 1132.3h1M372.7 1122.8h1M449.4 1116.7h1M467.8 1126.0h1M469.9 1110.9h1M382.2 1132.8h1M374.5 1144.6h1M374.4 1139.7h1M477.5 1135.6h1M475.8 1151.9h1M456.2 1121.5h1M373.1 1134.7h1M467.2 1129.8h1M390.2 1135.5h1M389.9 1140.8h1M390.7 1136.1h1M466.0 1117.2h1M437.2 1119.6h1M377.6 1150.4h1M463.2 1138.6h1M375.4 1162.1h1M456.3 1119.6h1M456.6 1108.8h1M472.7 1132.3h1M482.4 1118.7h1M474.2 1130.0h1M426.2 1139.3h1M468.8 1112.3h1M478.7 1096.5h1M453.0 1119.1h1M393.6 1126.4h1M483.7 1134.6h1M374.0 1128.2h1M459.9 1152.4h1M472.1 1126.4h1M382.3 1134.9h1M472.6 1110.4h1M474.7 1113.8h1M395.8 1119.1h1M468.5 1117.4h1M379.8 1130.4h1M459.2 1109.8h1M395.7 1117.3h1M443.9 1146.2h1M477.1 1135.4h1M410.0 1126.0h1M461.2 1116.3h1M371.5 1134.9h1M473.2 1124.2h1M461.1 1107.2h1M469.4 1108.6h1M465.1 1125.6h1M368.2 1143.7h1M471.7 1127.1h1M472.8 1126.0h1M461.4 1116.8h1M421.9 1141.6h1M471.7 1123.6h1M452.5 1126.6h1M372.2 1136.8h1M455.8 1136.4h1M376.6 1143.8h1M459.4 1130.4h1M476.0 1135.8h1M467.8 1115.0h1M462.0 1152.6h1M460.1 1119.3h1M475.5 1120.2h1M459.3 1130.7h1M453.0 1132.2h1M418.3 1165.0h1M471.6 1128.3h1M383.1 1134.8h1M402.9 1159.5h1M419.7 1152.1h1M459.1 1120.5h1M448.6 1144.9h1M442.5 1148.5h1M462.8 1129.8h1M473.1 1134.8h1M472.9 1145.7h1M472.6 1129.2h1M449.7 1131.5h1M379.8 1152.2h1M480.7 1124.2h1M418.2 1153.1h1M389.7 1135.4h1M463.2 1146.2h1M425.0 1135.8h1M469.8 1138.0h1M465.6 1151.4h1M379.0 1134.7h1M441.9 1129.4h1M402.7 1125.4h1M471.0 1123.7h1M472.1 1125.3h1M472.1 1115.1h1M377.2 1186.4h1M482.0 1133.3h1M464.8 1117.6h1M447.7 1112.2h1M397.1 1148.4h1M376.3 1140.7h1M412.2 1113.1h1M452.9 1116.7h1M454.6 1129.5h1M397.7 1141.7h1M466.3 1103.6h1M465.3 1127.4h1M371.4 1148.1h1M385.8 1135.3h1M475.9 1124.5h1M482.1 1134.6h1M482.9 1138.6h1M465.4 1112.7h1M463.2 1118.9h1M396.5 1141.5h1M389.2 1132.5h1M476.6 1140.0h1M468.9 1125.5h1M441.9 1167.0h1M479.4 1125.1h1M387.9 1147.9h1M406.2 1125.4h1M385.4 1142.0h1M468.6 1126.9h1M385.9 1122.8h1M379.5 1134.4h1M468.1 1141.0h1M479.2 1127.2h1M465.4 1109.7h1M454.5 1123.6h1M470.9 1116.4h1M463.4 1138.5h1M378.4 1125.4h1M460.0 1123.7h1M380.0 1126.6h1M461.9 1142.2h1M380.8 1132.3h1M379.8 1134.3h1M469.1 1103.9h1M470.7 1131.2h1M482.6 1125.0h1M471.2 1124.1h1M390.0 1128.7h1M409.0 1124.2h1M429.5 1124.9h1M467.2 1141.6h1M472.6 1119.2h1M457.5 1119.7h1M380.9 1148.5h1M462.8 1186.3h1M418.3 1123.0h1M452.5 1152.0h1M437.7 1149.3h1M402.4 1123.1h1M450.7 1132.1h1M475.1 1123.0h1M466.6 1116.7h1M466.2 1147.7h1M467.9 1173.2h1M389.6 1133.1h1M473.7 1127.8h1M467.7 1119.7h1M452.5 1128.0h1M482.2 1129.0h1M464.4 1130.2h1M392.9 1133.6h1M463.0 1149.2h1M380.2 1121.2h1M448.5 1160.7h1M381.9 1120.8h1M447.8 1130.1h1M474.9 1114.0h1M376.6 1134.6h1M387.0 1134.6h1M476.8 1104.0h1M385.7 1138.7h1M380.8 1126.8h1M468.5 1115.5h1M467.2 1102.2h1M395.6 1116.6h1M481.6 1128.9h1M449.8 1128.1h1M471.4 1123.3h1M388.6 1110.6h1M469.3 1124.6h1M379.2 1125.5h1M378.4 1142.1h1M460.8 1108.5h1M471.5 1127.8h1M445.6 1144.4h1M379.7 1129.5h1M472.4 1118.7h1M370.9 1132.2h1M450.5 1115.6h1M419.5 1142.7h1M483.8 1142.0h1M444.4 1188.0h1M431.6 1163.7h1M382.4 1160.2h1M481.3 1124.6h1M387.3 1129.6h1M414.1 1156.4h1M473.9 1104.8h1M395.9 1123.9h1M391.9 1119.6h1M462.1 1125.0h1M458.5 1155.3h1M473.1 1131.5h1M470.5 1151.7h1M458.8 1136.7h1M461.8 1109.6h1M467.1 1144.7h1M383.6 1168.0h1M470.2 1131.2h1M447.5 1127.4h1M481.1 1123.5h1M479.2 1120.1h1M458.5 1140.3h1M466.5 1120.1h1M485.2 1118.0h1M476.5 1133.5h1M368.4 1140.6h1M454.7 1111.0h1M393.5 1115.0h1M472.7 1131.0h1M416.4 1139.0h1M472.7 1109.0h1M430.7 1100.4h1M473.0 1118.8h1M467.9 1112.6h1M466.0 1119.2h1M474.2 1130.0h1M380.9 1132.6h1M467.4 1135.3h1M425.2 1126.0h1M461.1 1121.3h1M487.8 1085.5h1M472.1 1146.4h1M483.7 1131.6h1M469.2 1119.6h1M457.2 1172.7h1M463.3 1146.2h1M462.0 1113.3h1M466.5 1132.7h1M472.4 1114.7h1M476.1 1120.7h1M449.8 1165.8h1M474.0 1120.7h1M425.6 1126.1h1M469.2 1141.4h1M415.6 1116.3h1M381.0 1129.7h1M475.2 1143.1h1M482.6 1107.6h1M427.5 1119.4h1M465.4 1140.4h1M385.2 1138.2h1M478.4 1126.6h1M478.8 1102.1h1M469.6 1125.0h1M452.2 1146.6h1M411.8 1157.3h1M466.4 1106.6h1M470.2 1117.5h1M476.2 1149.6h1M465.2 1137.5h1M455.9 1108.2h1M465.6 1101.2h1M464.6 1130.6h1M392.5 1138.2h1M457.6 1128.4h1M468.2 1119.8h1M384.8 1140.8h1M462.4 1144.7h1M412.6 1165.0h1M461.3 1121.4h1M478.4 1122.9h1M470.2 1139.4h1M404.7 1187.8h1M419.1 1135.4h1M467.2 1153.7h1M440.4 1137.6h1M401.7 1129.4h1M465.0 1099.4h1M416.6 1127.1h1M472.2 1117.6h1M372.5 1149.7h1M467.8 1114.9h1M471.1 1121.1h1M414.1 1119.9h1M382.9 1119.8h1M411.7 1140.5h1M381.8 1124.1h1M454.6 1142.4h1M471.4 1148.9h1M466.1 1104.6h1M451.8 1112.2h1M379.4 1152.5h1M375.9 1167.3h1M478.1 1134.0h1M370.5 1150.3h1M443.4 1134.1h1M460.7 1118.9h1M449.5 1116.3h1M472.4 1121.2h1M463.6 1119.7h1M420.5 1109.9h1M401.6 1113.3h1M468.6 1129.6h1M374.8 1143.1h1M465.0 1107.1h1M465.9 1103.5h1M471.6 1124.6h1M483.8 1103.4h1M460.4 1163.2h1M472.6 1096.8h1M455.4 1115.7h1M432.0 1119.3h1M468.3 1119.5h1M411.5 1109.5h1M461.5 1139.0h1M433.3 1120.3h1M465.6 1106.9h1M375.1 1131.5h1M459.7 1130.2h1M464.7 1137.1h1M383.4 1138.8h1M468.2 1154.3h1M471.4 1111.0h1M458.5 1121.5h1M463.3 1121.8h1M465.3 1137.1h1M478.4 1111.9h1M479.7 1103.4h1M386.7 1119.4h1M465.6 1134.9h1M463.1 1133.0h1M474.7 1110.8h1M462.7 1134.8h1M388.6 1121.2h1M445.6 1147.0h1M478.2 1111.0h1M464.5 1115.3h1M480.1 1133.0h1M478.9 1113.1h1M473.7 1126.4h1M467.1 1118.8h1M462.6 1148.5h1M470.5 1131.5h1M461.0 1145.4h1M468.1 1111.5h1M465.5 1126.3h1M419.9 1115.9h1M386.4 1136.9h1M388.8 1122.3h1M482.1 1127.6h1M458.5 1131.1h1M471.6 1112.1h1M456.6 1138.5h1M454.5 1122.0h1M472.2 1105.2h1M465.5 1119.0h1M489.5 1131.4h1M480.2 1113.4h1M411.3 1126.2h1M375.2 1143.3h1M480.0 1116.5h1M415.0 1184.5h1M379.3 1146.6h1M394.2 1162.8h1M478.6 1116.6h1M382.8 1126.3h1M394.6 1107.4h1M459.2 1116.0h1M468.6 1125.4h1M465.0 1144.3h1M478.0 1145.5h1M482.1 1123.9h1M475.4 1141.5h1M464.7 1180.8h1M483.1 1105.7h1M468.8 1116.6h1M477.1 1128.6h1M474.7 1118.7h1M465.7 1111.7h1M483.4 1108.9h1M474.2 1150.5h1M446.7 1128.0h1M455.9 1108.0h1M481.1 1109.5h1M440.6 1138.4h1M474.0 1138.3h1M373.6 1131.7h1M467.3 1124.0h1M476.6 1140.4h1M376.7 1126.8h1M384.8 1145.0h1M453.9 1121.2h1M380.9 1180.4h1M483.1 1118.0h1M464.9 1114.0h1M478.0 1136.7h1M398.1 1113.9h1M468.0 1118.4h1M428.4 1111.8h1M474.2 1167.8h1M436.3 1115.8h1M450.1 1116.8h1M386.4 1164.9h1M481.2 1117.1h1M475.1 1108.0h1M457.7 1188.2h1M430.7 1129.9h1M466.2 1125.1h1M466.2 1118.3h1M469.0 1117.4h1M478.2 1110.3h1M433.5 1127.1h1M482.9 1106.0h1M455.7 1140.9h1M466.3 1128.6h1M475.7 1135.4h1M419.0 1131.7h1M474.2 1120.9h1M467.5 1117.1h1M470.1 1108.2h1M435.4 1108.7h1M405.3 1124.8h1M395.5 1132.0h1M471.5 1116.7h1M419.0 1108.6h1M449.1 1129.3h1M441.8 1124.1h1M472.0 1119.4h1M459.9 1139.2h1M368.7 1131.4h1M445.6 1144.1h1" stroke="#7a7a7a" stroke-width="1.15" stroke-opacity="0.8" fill="none"/>
<path d="M454.3 1116.8h1M376.4 1183.5h1M379.2 1142.0h1M473.1 1118.7h1M435.5 1121.8h1M389.8 1147.3h1M417.5 1126.0h1M466.4 1122.4h1M416.6 1128.4h1M448.5 1147.6h1M382.1 1132.2h1M475.1 1114.5h1M455.7 1127.7h1M374.3 1144.0h1M436.4 1127.8h1M472.1 1134.2h1M462.0 1104.7h1M446.8 1097.5h1M463.0 1142.1h1M370.3 1153.7h1M483.9 1121.0h1M456.9 1105.6h1M436.3 1119.9h1M465.9 1128.9h1M455.1 1128.4h1M383.7 1122.3h1M451.9 1125.3h1M415.8 1115.4h1M368.3 1157.1h1M463.7 1114.7h1M479.9 1145.3h1M435.9 1187.6h1M400.1 1121.1h1M477.8 1135.0h1M465.6 1153.5h1M484.1 1127.2h1M480.6 1103.0h1M464.4 1118.0h1M467.4 1130.3h1M455.5 1135.9h1M471.2 1123.1h1M461.1 1124.5h1M466.8 1133.0h1M451.7 1122.4h1M464.3 1126.1h1M450.0 1128.4h1M477.8 1126.3h1M464.2 1126.1h1M485.4 1117.4h1M457.5 1137.5h1M367.7 1138.1h1M449.2 1133.1h1M465.0 1127.6h1M458.9 1116.3h1M416.5 1136.8h1M458.2 1139.0h1M470.5 1124.4h1M455.0 1135.0h1M461.0 1130.1h1M418.1 1112.4h1M457.9 1130.2h1M467.4 1123.1h1M465.5 1125.3h1M387.6 1131.4h1M390.9 1131.5h1M417.1 1114.8h1M470.9 1133.4h1M384.7 1173.5h1M401.1 1163.3h1M460.0 1111.6h1M462.7 1116.1h1M484.4 1134.7h1M480.8 1118.5h1M463.2 1133.9h1M420.3 1127.7h1M385.4 1137.1h1M388.5 1141.5h1M448.8 1130.0h1M472.4 1110.7h1M421.7 1118.4h1M475.6 1121.3h1M466.8 1141.5h1M463.0 1145.7h1M480.0 1132.4h1M375.8 1138.9h1M478.1 1140.0h1M478.9 1121.2h1M474.3 1108.1h1M467.2 1150.7h1M464.5 1138.1h1M463.8 1127.4h1M407.3 1148.8h1M388.8 1095.7h1M462.3 1127.2h1M463.8 1118.2h1M405.1 1123.8h1M478.1 1134.0h1M471.2 1118.3h1M450.1 1092.5h1M482.9 1134.9h1M375.5 1134.0h1M374.9 1133.9h1M433.1 1137.7h1M450.0 1125.9h1M466.0 1116.2h1M436.2 1148.0h1M483.1 1115.3h1M390.5 1112.0h1M448.4 1135.5h1M471.5 1115.6h1M459.8 1133.3h1M445.1 1149.3h1M461.3 1111.4h1M471.3 1132.5h1M447.3 1165.8h1M453.6 1129.5h1M457.4 1139.8h1M475.2 1106.2h1M446.8 1121.1h1M469.7 1109.5h1M434.2 1130.1h1M477.6 1118.9h1M424.0 1140.8h1M483.6 1124.5h1M375.2 1135.6h1M457.9 1136.3h1M474.1 1134.0h1M475.8 1122.6h1M438.8 1129.1h1M478.0 1144.0h1M464.6 1118.3h1M372.8 1127.3h1M484.0 1120.2h1M458.1 1154.0h1M470.6 1095.5h1M449.6 1136.4h1M480.0 1111.2h1M370.1 1170.3h1M383.9 1143.1h1M468.9 1135.4h1M458.7 1132.0h1M471.1 1133.1h1M471.2 1118.2h1M432.5 1139.1h1M472.8 1120.4h1M450.8 1132.3h1M455.9 1125.4h1M373.5 1136.9h1M388.1 1127.8h1M424.7 1138.2h1M421.5 1120.5h1M480.5 1120.2h1M464.2 1143.3h1M469.3 1124.4h1M393.5 1130.5h1M381.6 1151.4h1M460.9 1132.7h1M459.6 1113.9h1M456.9 1136.2h1M461.3 1160.2h1M387.6 1138.0h1M403.2 1114.8h1M449.5 1130.0h1M380.3 1141.3h1M418.3 1133.9h1M459.1 1132.4h1M472.1 1124.4h1M382.6 1141.1h1M473.5 1146.9h1M472.0 1109.4h1M484.7 1128.6h1M382.2 1117.5h1M452.7 1129.5h1M474.1 1091.2h1M481.2 1119.9h1M380.4 1109.0h1M475.9 1101.9h1M473.7 1125.6h1M471.4 1116.4h1M470.5 1109.8h1M379.2 1142.3h1M382.0 1134.4h1M483.4 1115.2h1M476.1 1122.1h1M387.6 1122.6h1M481.4 1116.4h1M470.9 1100.7h1M447.1 1111.8h1M469.0 1124.4h1M473.7 1134.5h1M482.8 1119.5h1M459.8 1124.2h1M388.8 1126.2h1M471.8 1119.0h1M452.1 1120.9h1M469.9 1139.1h1M459.2 1105.6h1M472.5 1124.9h1M420.0 1130.2h1M468.4 1120.7h1M404.7 1128.7h1M397.6 1125.7h1M463.6 1128.5h1M481.5 1124.0h1M467.6 1118.5h1M472.7 1134.6h1M378.8 1129.6h1M460.6 1120.1h1M450.9 1108.4h1M456.7 1112.2h1M469.4 1116.9h1M463.8 1106.1h1M473.1 1125.2h1M389.4 1124.4h1M455.8 1127.0h1M427.5 1126.6h1M374.0 1145.6h1M389.5 1130.9h1M458.9 1127.0h1M476.4 1137.6h1M380.2 1115.5h1M440.0 1106.3h1M449.4 1136.3h1M477.8 1109.8h1M467.2 1135.2h1M384.6 1124.5h1M432.9 1118.2h1M461.8 1153.8h1M471.4 1121.0h1M476.8 1118.1h1M374.4 1180.8h1M479.4 1116.7h1M383.0 1117.5h1M470.7 1123.2h1M382.9 1137.0h1M458.8 1121.7h1M486.9 1156.1h1M474.5 1103.7h1M460.5 1136.5h1M470.1 1111.0h1M395.4 1112.3h1M470.2 1132.9h1M458.3 1104.0h1M454.4 1136.3h1M410.3 1137.0h1M479.4 1097.4h1M450.6 1130.7h1M472.0 1113.5h1M439.3 1131.8h1M452.9 1115.1h1M467.4 1124.2h1M448.9 1115.4h1M393.8 1128.1h1M484.2 1126.4h1M474.6 1118.0h1M368.6 1154.4h1M385.5 1144.2h1M469.3 1106.3h1M428.2 1135.0h1M378.7 1114.5h1M472.7 1139.9h1M456.9 1141.8h1M383.8 1120.5h1M372.7 1161.3h1M458.5 1121.7h1M379.1 1143.6h1M468.1 1119.8h1M467.9 1142.5h1M478.8 1131.6h1M455.0 1125.9h1M395.2 1117.7h1M473.7 1154.2h1M481.2 1131.3h1M386.1 1135.0h1M476.2 1112.0h1M377.2 1123.4h1M472.6 1136.4h1M485.0 1145.1h1M478.8 1117.2h1M450.6 1099.1h1M381.3 1151.1h1M480.4 1113.9h1M391.3 1112.9h1M473.2 1102.5h1M473.2 1132.9h1M472.9 1119.7h1M481.8 1129.6h1M456.8 1123.3h1M387.0 1125.2h1M457.4 1128.9h1M475.0 1119.6h1M448.5 1130.4h1M444.6 1117.5h1M452.7 1133.5h1M460.7 1118.9h1M386.0 1141.2h1M470.2 1124.2h1M468.9 1128.9h1M440.1 1141.3h1M415.8 1144.5h1M477.7 1119.9h1M484.7 1152.7h1M468.2 1136.7h1M383.2 1127.5h1M474.3 1127.2h1M473.8 1131.2h1M476.3 1118.8h1M466.3 1137.2h1M484.2 1118.2h1M414.6 1126.9h1M382.3 1129.1h1M458.4 1131.4h1M399.7 1131.0h1M474.0 1119.1h1M465.9 1124.3h1M484.4 1132.7h1M424.1 1168.8h1M478.7 1122.4h1M458.5 1114.2h1M472.9 1147.4h1M461.7 1132.3h1M447.5 1132.6h1M389.4 1182.9h1M485.0 1139.3h1M471.2 1183.3h1M437.8 1144.5h1M470.0 1144.0h1M445.3 1123.2h1M473.9 1128.2h1M444.3 1127.2h1M439.3 1138.2h1M469.0 1124.2h1M478.6 1136.9h1M477.1 1116.4h1M473.1 1122.5h1M381.2 1142.8h1M479.2 1131.6h1M410.3 1156.3h1M462.2 1127.4h1M479.3 1113.6h1M469.2 1129.2h1M470.2 1139.8h1M402.0 1140.8h1M373.9 1159.8h1M385.3 1126.6h1M388.1 1137.7h1M426.9 1145.6h1M482.2 1122.7h1M472.3 1155.0h1M455.3 1118.0h1M378.3 1123.4h1M467.6 1128.6h1M464.3 1109.2h1M393.5 1187.6h1M373.5 1127.8h1M481.0 1125.3h1M445.5 1116.5h1M452.5 1134.4h1M396.7 1115.8h1M475.4 1102.9h1M455.0 1132.6h1M386.2 1140.8h1M402.8 1129.4h1M369.9 1125.9h1M465.1 1114.5h1M469.6 1163.3h1M372.2 1132.9h1M467.2 1143.7h1M465.6 1131.1h1M448.8 1113.6h1M393.0 1131.7h1M474.9 1138.2h1M479.3 1131.5h1M473.2 1136.4h1M466.1 1118.3h1M431.0 1139.4h1M479.6 1115.6h1M477.0 1145.4h1M478.4 1118.1h1M390.5 1136.5h1M444.2 1129.9h1M469.8 1109.4h1M469.6 1128.0h1M432.5 1141.7h1M380.0 1147.7h1M445.4 1124.4h1M465.8 1126.8h1M460.5 1137.8h1M472.3 1118.9h1M449.8 1138.6h1M444.7 1186.1h1M468.9 1125.1h1M414.5 1133.8h1M477.5 1125.9h1M448.1 1129.0h1M448.7 1180.5h1M456.0 1117.0h1M478.3 1122.7h1M478.4 1110.4h1M391.8 1124.9h1M440.2 1117.8h1M464.7 1142.9h1M414.7 1145.5h1M402.1 1181.3h1M467.0 1126.9h1M387.3 1137.6h1M452.0 1134.8h1M482.2 1115.6h1M376.2 1161.0h1M383.3 1141.5h1M467.1 1112.6h1M468.8 1114.9h1M459.7 1123.2h1M478.4 1106.0h1M443.5 1097.0h1M468.9 1125.1h1M379.3 1183.3h1M460.4 1116.5h1M392.3 1124.7h1M407.6 1125.2h1M430.7 1106.9h1M400.7 1124.5h1M474.0 1121.0h1M480.2 1135.6h1M376.7 1137.3h1M445.5 1181.0h1M470.2 1135.3h1M462.7 1151.3h1M455.6 1128.6h1M414.6 1129.7h1M479.7 1177.7h1M466.4 1105.0h1M380.1 1132.7h1M472.1 1112.7h1M464.1 1136.8h1M409.0 1133.9h1M461.3 1126.5h1M452.7 1136.0h1M455.7 1115.4h1M377.1 1152.8h1M481.2 1110.7h1M471.7 1102.5h1M469.9 1116.6h1M476.5 1111.1h1M469.6 1132.2h1M476.8 1115.0h1M467.6 1126.3h1M476.9 1120.5h1M446.9 1137.4h1M381.4 1186.1h1M464.1 1133.6h1M467.0 1126.3h1M469.8 1137.5h1M477.9 1126.8h1M454.4 1120.1h1M463.2 1114.6h1M468.2 1111.0h1M466.8 1123.1h1M439.5 1142.0h1M390.1 1112.1h1M462.7 1117.4h1M462.1 1121.4h1M428.6 1157.3h1M464.1 1135.4h1M465.6 1130.7h1M458.4 1147.3h1M423.5 1159.5h1M466.9 1125.4h1M405.8 1129.1h1M393.2 1120.3h1M467.8 1129.3h1M373.7 1177.6h1M386.0 1118.0h1M474.1 1117.8h1M467.1 1185.3h1M413.5 1130.1h1M410.1 1119.3h1M466.9 1124.7h1M472.6 1131.2h1M470.4 1124.2h1M424.7 1134.0h1M395.4 1126.9h1M448.4 1144.9h1M432.0 1123.6h1M396.4 1135.0h1M407.6 1133.0h1M388.4 1142.7h1M476.4 1118.4h1M418.7 1121.9h1M475.0 1129.2h1M413.2 1178.6h1M455.9 1143.1h1M469.2 1133.4h1M469.1 1131.5h1M456.7 1123.1h1M449.9 1134.5h1M478.6 1121.0h1M391.9 1142.1h1M373.4 1153.0h1M464.9 1123.1h1M460.0 1128.4h1M473.7 1133.0h1M445.8 1144.7h1M461.1 1140.9h1M468.3 1124.5h1M398.5 1141.6h1M424.6 1153.3h1M459.0 1132.9h1M434.3 1119.3h1M406.9 1186.2h1M484.0 1125.8h1M459.5 1116.9h1M459.7 1134.3h1M452.7 1123.1h1M387.4 1114.5h1M468.3 1122.0h1M377.7 1139.3h1M447.0 1129.4h1M462.7 1117.8h1M387.0 1123.2h1M476.6 1107.2h1M375.1 1127.1h1M469.2 1134.6h1M418.2 1125.4h1M406.4 1143.1h1M405.6 1147.6h1M387.0 1119.0h1M478.1 1116.1h1M484.5 1149.7h1M477.6 1139.7h1M461.9 1152.9h1M392.7 1114.9h1M374.7 1136.3h1M459.4 1134.9h1M458.4 1119.6h1M474.1 1142.4h1M393.8 1129.2h1M428.2 1127.9h1M482.3 1112.2h1M464.9 1126.2h1M434.1 1121.7h1M455.3 1140.1h1M466.4 1110.1h1M485.2 1117.1h1M480.6 1124.3h1M452.8 1118.1h1M496.1 1105.0h1M389.0 1105.5h1M456.7 1122.0h1M380.6 1143.9h1M466.2 1144.8h1M419.5 1188.3h1M382.1 1140.7h1M470.5 1127.0h1M420.4 1123.8h1M441.5 1136.1h1M399.7 1176.3h1M424.1 1123.8h1M435.0 1165.7h1M475.7 1127.1h1M424.1 1146.7h1M478.3 1128.5h1M454.6 1108.7h1M441.0 1129.7h1M448.4 1143.8h1M479.7 1137.0h1M469.0 1128.8h1M476.5 1124.1h1M437.4 1131.7h1M412.8 1126.0h1M470.8 1106.3h1M464.5 1131.7h1M382.2 1147.1h1M436.1 1138.4h1M462.8 1135.5h1M469.4 1133.2h1M406.0 1113.5h1M473.1 1117.5h1M469.6 1117.8h1M380.6 1132.7h1M451.3 1120.2h1M482.0 1137.9h1M468.2 1122.2h1M476.1 1136.1h1M464.1 1106.7h1M376.3 1156.4h1M465.1 1132.7h1M417.6 1138.6h1M469.5 1126.4h1M470.8 1125.3h1M484.2 1118.8h1M373.9 1147.9h1M431.7 1127.5h1M390.6 1096.2h1M484.8 1124.8h1M456.3 1130.1h1M473.7 1112.4h1M472.5 1129.4h1M467.3 1172.7h1M377.0 1127.2h1M377.8 1143.9h1M373.5 1146.6h1M469.0 1114.2h1M415.9 1139.7h1M382.0 1112.9h1M481.9 1101.9h1M453.6 1116.7h1M472.2 1136.3h1M480.4 1127.4h1M467.0 1101.8h1M476.2 1112.5h1M474.3 1108.3h1M381.3 1133.6h1M452.6 1091.3h1M372.0 1162.0h1M465.1 1106.9h1M387.5 1126.1h1M452.9 1102.2h1M389.3 1132.4h1M404.8 1128.5h1M467.0 1133.8h1M470.8 1133.9h1M454.1 1113.5h1M475.6 1123.1h1M449.5 1122.0h1M474.3 1121.4h1M466.1 1110.0h1M465.8 1126.8h1M457.1 1142.7h1M466.6 1121.5h1M475.6 1140.0h1M371.9 1120.6h1M467.0 1112.7h1M459.6 1119.9h1M470.5 1130.8h1M475.2 1124.6h1M472.5 1137.6h1M410.3 1113.0h1M435.6 1127.0h1M469.8 1165.6h1M410.9 1132.1h1M432.8 1136.1h1M469.7 1120.3h1M445.0 1132.8h1M378.5 1145.3h1M464.7 1139.0h1M471.2 1123.0h1M473.3 1113.7h1M453.8 1128.2h1M456.8 1133.6h1M408.4 1098.7h1M448.1 1178.9h1M465.4 1135.9h1M371.5 1140.2h1M474.5 1127.6h1M468.9 1131.9h1M373.0 1126.4h1M474.0 1102.4h1M466.3 1098.0h1M468.7 1116.5h1M485.3 1130.5h1M466.4 1102.5h1M445.1 1127.1h1M412.7 1169.8h1M474.9 1110.5h1M385.0 1127.2h1M463.8 1133.9h1M478.3 1149.4h1M482.7 1107.6h1M481.0 1142.3h1M471.4 1120.8h1M466.2 1109.6h1M482.9 1119.0h1M466.0 1123.2h1M440.4 1135.0h1M401.0 1119.0h1M475.4 1130.6h1M473.9 1134.4h1M442.6 1120.2h1M399.5 1165.8h1M469.1 1116.6h1M436.8 1120.6h1M475.8 1092.3h1M372.4 1130.6h1M428.6 1130.3h1M455.8 1178.8h1M468.0 1135.7h1M464.2 1108.0h1M464.1 1136.7h1M389.3 1125.7h1M370.4 1149.7h1M383.6 1131.3h1M481.2 1102.7h1M471.8 1128.5h1M386.4 1135.6h1M469.3 1128.4h1M375.6 1153.0h1M382.4 1123.4h1M446.4 1129.9h1M451.4 1152.4h1M375.0 1154.5h1M473.7 1125.8h1M464.6 1141.0h1M449.3 1141.9h1M464.7 1115.4h1M451.2 1122.8h1M469.2 1116.9h1M482.3 1133.6h1M463.5 1149.6h1M472.6 1130.7h1M464.9 1119.1h1M467.1 1141.1h1M441.1 1131.4h1M468.2 1125.3h1M440.9 1187.1h1M379.2 1103.4h1M438.5 1188.6h1M379.5 1143.1h1M385.1 1136.9h1M473.2 1116.2h1M468.0 1126.9h1M461.4 1130.6h1M463.9 1133.0h1M471.7 1135.2h1M459.9 1134.7h1M413.2 1123.1h1M481.6 1125.9h1M475.4 1127.6h1M479.7 1143.3h1M466.3 1114.9h1M387.6 1151.8h1M472.0 1105.1h1M475.9 1124.8h1M470.3 1110.8h1M463.8 1121.4h1M434.3 1136.8h1M393.3 1120.1h1M467.6 1109.7h1M453.7 1142.7h1M406.6 1168.7h1M474.9 1109.5h1M471.4 1128.2h1M469.7 1123.7h1M457.6 1123.5h1M415.8 1101.3h1M476.3 1128.9h1M417.9 1149.2h1M393.1 1131.5h1M460.7 1116.9h1M451.3 1178.3h1M460.6 1109.3h1M462.4 1103.5h1M465.5 1127.8h1M401.1 1123.9h1M473.3 1099.6h1M465.6 1116.7h1M440.4 1131.7h1M467.3 1125.8h1M468.3 1127.7h1M470.8 1143.5h1M457.5 1120.6h1M426.8 1132.8h1M456.2 1117.4h1M474.5 1138.4h1M385.1 1138.0h1M379.1 1144.6h1M374.3 1145.2h1M381.0 1112.6h1M371.6 1130.2h1M387.9 1136.5h1M377.2 1145.1h1M422.2 1122.3h1M374.8 1133.2h1M462.5 1127.4h1M470.6 1122.8h1M371.0 1153.3h1M463.1 1139.9h1M377.3 1117.0h1M447.7 1113.5h1M461.1 1147.3h1M478.3 1128.8h1M465.8 1139.7h1M464.0 1111.9h1M428.1 1111.9h1M457.6 1134.2h1M458.2 1136.5h1M474.8 1131.5h1M476.9 1123.8h1M455.8 1135.5h1M483.6 1113.0h1M420.1 1130.5h1M478.1 1132.2h1M384.7 1118.8h1M460.1 1117.4h1M458.2 1149.4h1M464.5 1132.4h1M474.0 1141.5h1M383.0 1146.7h1M478.9 1122.0h1M380.8 1135.2h1M467.6 1136.2h1M483.7 1108.8h1M450.5 1125.1h1M446.5 1133.3h1M384.2 1116.0h1M404.7 1143.3h1M448.9 1132.2h1M449.8 1124.5h1M446.7 1131.6h1M385.1 1127.0h1M468.7 1122.5h1M370.2 1128.1h1M400.3 1108.6h1M469.4 1121.8h1M459.4 1110.4h1M452.3 1114.0h1M406.8 1138.7h1M440.3 1128.0h1M370.2 1128.1h1M472.1 1119.7h1M383.8 1128.3h1M478.5 1141.3h1M477.4 1131.6h1M473.1 1139.8h1M469.1 1112.6h1M389.6 1152.7h1M458.6 1131.1h1M472.0 1122.0h1M396.9 1140.2h1M375.2 1141.2h1M386.2 1142.4h1M461.7 1142.4h1M375.8 1119.8h1M382.4 1130.8h1M373.9 1131.1h1M373.2 1145.9h1M463.7 1128.3h1M466.6 1118.3h1M373.9 1147.2h1M406.3 1123.7h1M465.9 1121.1h1M462.8 1117.6h1M474.8 1118.6h1M474.6 1121.2h1M426.0 1133.9h1M468.6 1129.7h1M455.5 1134.5h1M413.4 1137.2h1M373.8 1152.9h1M470.4 1123.9h1M467.3 1127.6h1M458.0 1144.4h1M455.4 1138.0h1M462.7 1119.2h1M476.4 1132.5h1M471.1 1123.0h1M450.5 1149.0h1M476.1 1135.4h1M371.7 1133.4h1M500.0 1090.1h1M473.8 1140.5h1M421.5 1137.0h1M465.9 1133.5h1M470.5 1113.5h1M475.4 1108.5h1M380.1 1147.6h1M405.0 1118.2h1M400.9 1117.9h1M467.3 1121.8h1M432.8 1141.5h1M384.5 1121.7h1M467.5 1106.1h1M446.8 1136.8h1M478.5 1126.3h1M375.9 1143.3h1M384.8 1134.4h1M483.3 1135.3h1M469.5 1110.0h1M415.2 1135.8h1M470.2 1127.8h1M476.6 1123.5h1M373.7 1138.5h1M447.0 1099.3h1M434.4 1111.6h1M477.3 1119.2h1M475.2 1130.2h1M470.9 1128.1h1M460.8 1106.9h1M475.3 1132.8h1M447.5 1143.3h1M399.5 1112.1h1M465.5 1110.1h1M420.6 1117.8h1M465.4 1106.9h1M475.9 1113.7h1M481.1 1128.9h1M384.5 1142.7h1M482.1 1110.8h1M461.4 1121.6h1M466.3 1125.7h1M478.6 1133.4h1M475.5 1138.4h1M373.7 1126.6h1M452.9 1132.3h1M449.9 1116.4h1M480.4 1128.9h1M474.2 1113.6h1M395.5 1119.1h1M473.0 1131.9h1M398.3 1139.1h1M468.2 1134.9h1M376.3 1120.4h1M480.8 1134.2h1M436.7 1123.6h1M477.6 1120.9h1M393.5 1129.2h1M369.2 1138.3h1M370.9 1135.5h1M370.3 1145.6h1M479.5 1133.8h1M393.4 1126.0h1M482.1 1147.4h1M370.9 1138.9h1M441.7 1119.8h1M409.9 1140.0h1M459.1 1138.5h1M452.6 1109.2h1M427.5 1122.1h1M379.2 1118.4h1M455.0 1139.1h1M375.6 1134.6h1M456.2 1117.7h1M388.5 1112.8h1M377.4 1139.2h1M458.1 1121.3h1M480.4 1120.1h1M446.5 1120.3h1M460.8 1112.4h1M454.8 1139.9h1M484.1 1142.1h1M459.4 1117.9h1M469.4 1130.1h1M483.2 1123.2h1M447.9 1095.6h1M405.9 1121.3h1M390.9 1156.1h1M482.2 1123.9h1M460.7 1113.3h1M456.4 1147.2h1M477.6 1128.9h1M472.7 1141.7h1M480.4 1130.7h1M404.2 1126.9h1M454.4 1126.2h1M473.3 1132.1h1M480.5 1125.2h1M381.1 1141.5h1M396.7 1122.6h1M471.2 1115.9h1M456.4 1181.7h1M374.5 1122.3h1M484.5 1141.0h1M437.5 1138.7h1M474.8 1105.7h1M470.7 1125.4h1M467.6 1125.9h1M464.0 1134.0h1M459.8 1152.0h1M389.3 1145.9h1M375.7 1147.3h1M473.6 1102.5h1M464.0 1118.8h1M388.9 1137.1h1M471.7 1132.6h1M371.8 1133.8h1M467.4 1134.5h1M480.9 1112.2h1M479.3 1113.2h1M375.9 1110.3h1M475.7 1123.8h1M444.6 1133.0h1M384.5 1146.5h1M386.5 1130.6h1M483.7 1132.7h1M457.4 1107.7h1M387.4 1144.8h1M478.2 1134.6h1M468.9 1116.9h1M461.6 1107.1h1M386.7 1122.5h1M450.5 1128.2h1M478.2 1117.6h1M452.4 1138.6h1M454.8 1131.7h1M375.9 1117.4h1M372.9 1133.3h1M483.7 1134.5h1M381.0 1144.6h1M469.4 1126.0h1M475.2 1123.9h1M469.4 1129.9h1M475.2 1132.6h1M476.4 1110.7h1M460.9 1133.4h1M449.2 1134.5h1M476.6 1135.2h1M476.5 1111.4h1M454.9 1182.5h1M452.1 1143.2h1M476.7 1122.3h1M397.5 1116.6h1M476.4 1129.8h1M457.4 1147.8h1M447.6 1113.0h1M442.0 1121.8h1M399.6 1121.5h1M390.8 1128.0h1M483.6 1124.1h1M383.6 1132.9h1M472.7 1124.8h1M476.7 1135.4h1M384.9 1124.8h1M446.6 1142.0h1M475.0 1143.9h1M425.4 1125.6h1M480.9 1132.7h1M433.3 1117.1h1M451.9 1143.0h1M420.6 1137.9h1M469.9 1128.0h1M477.7 1114.3h1M459.4 1120.6h1M387.6 1145.5h1M464.5 1124.8h1M422.9 1132.4h1M451.1 1138.7h1M386.3 1125.9h1M454.4 1129.8h1M472.8 1149.7h1M389.2 1127.8h1M419.6 1130.6h1M475.4 1116.5h1M381.7 1127.8h1M460.7 1121.1h1M473.4 1120.1h1M478.8 1121.0h1M479.2 1110.5h1M480.2 1133.3h1M381.7 1136.3h1M465.1 1117.9h1M459.9 1130.5h1M472.7 1119.7h1M455.9 1119.8h1M450.4 1176.1h1M463.1 1128.9h1M451.2 1124.2h1M395.6 1119.0h1M375.2 1132.5h1M474.0 1144.5h1M402.0 1134.8h1M428.8 1134.3h1M468.5 1142.9h1M413.3 1088.8h1M472.3 1130.6h1M382.5 1121.8h1M378.8 1134.1h1M382.8 1119.2h1M472.6 1133.0h1M387.9 1134.8h1M376.1 1131.2h1M455.5 1117.2h1M477.3 1120.3h1M399.3 1145.6h1M477.7 1145.9h1M382.2 1143.6h1M445.1 1145.7h1M384.8 1132.1h1M398.7 1174.8h1M480.8 1107.4h1M388.2 1148.4h1M473.8 1128.8h1M464.7 1137.0h1M375.1 1142.9h1M461.7 1124.0h1M481.9 1146.7h1M464.3 1133.5h1M466.0 1122.4h1M471.2 1140.5h1M465.7 1141.9h1M447.1 1112.8h1M379.3 1143.8h1M438.8 1139.0h1M469.6 1138.2h1M465.5 1117.6h1M471.5 1107.7h1M453.8 1123.1h1M402.3 1117.2h1M472.2 1140.3h1M465.3 1128.5h1M394.4 1136.0h1M480.7 1121.9h1M448.3 1145.2h1M476.1 1131.0h1M445.5 1114.5h1M466.1 1119.9h1M400.5 1132.9h1M475.3 1113.6h1M478.4 1116.3h1M402.4 1119.5h1M465.0 1138.2h1M457.9 1132.5h1M450.9 1129.8h1M475.4 1121.8h1M474.2 1108.7h1M472.9 1126.1h1M464.2 1118.8h1M371.1 1125.7h1M460.4 1132.6h1M464.7 1105.7h1M394.7 1127.3h1M446.2 1139.6h1M473.0 1097.9h1M483.8 1116.4h1M421.5 1148.1h1M392.3 1126.1h1M437.1 1127.2h1M417.5 1117.2h1M475.8 1130.0h1M468.5 1130.7h1M469.9 1132.3h1M457.0 1133.6h1M471.0 1128.6h1M387.5 1102.8h1M479.6 1119.1h1M376.7 1140.9h1M441.8 1121.4h1M466.0 1156.2h1M474.4 1118.9h1M428.4 1142.1h1M471.6 1140.9h1M401.9 1186.1h1M378.7 1127.2h1M376.7 1144.8h1M467.1 1134.0h1M477.5 1145.3h1M482.6 1129.4h1M405.1 1136.9h1M449.2 1136.6h1M477.2 1153.5h1M477.9 1131.1h1M454.6 1130.4h1M392.7 1149.1h1M475.4 1118.6h1M409.1 1181.5h1M465.0 1125.5h1M393.4 1129.0h1M449.5 1103.6h1M383.2 1137.1h1M468.5 1124.0h1M415.6 1163.8h1M458.2 1123.0h1M448.9 1149.5h1M473.4 1145.4h1M485.1 1116.5h1M438.9 1145.8h1M462.2 1123.9h1M444.0 1130.9h1M389.3 1161.6h1M470.2 1116.6h1M396.6 1123.6h1M479.6 1115.0h1M475.2 1126.6h1M457.3 1122.7h1M461.7 1124.9h1M371.4 1136.5h1M470.7 1126.5h1M444.4 1132.4h1M485.0 1127.9h1M472.1 1114.6h1M460.1 1115.6h1M468.1 1114.9h1M436.7 1116.5h1M390.0 1157.9h1M382.1 1132.0h1M381.1 1145.2h1M472.7 1126.7h1M454.4 1142.1h1M476.3 1142.0h1M394.1 1115.0h1M427.5 1154.1h1M420.1 1129.4h1M459.2 1122.4h1M394.1 1150.2h1M444.3 1119.6h1M473.7 1104.2h1M443.1 1103.1h1M445.8 1137.5h1M435.4 1125.9h1M384.9 1134.3h1M414.2 1145.3h1M452.6 1126.0h1M464.1 1130.9h1M396.9 1119.3h1M411.5 1124.9h1M370.3 1134.0h1M386.4 1121.2h1M469.5 1129.8h1M382.2 1140.2h1M388.5 1135.9h1M468.7 1128.1h1M470.6 1132.2h1M382.8 1131.9h1M462.9 1148.0h1M411.6 1156.7h1M459.3 1122.7h1M469.9 1149.8h1M471.8 1093.8h1M463.9 1118.4h1M433.0 1127.8h1M478.6 1124.5h1M479.8 1127.4h1M387.3 1136.7h1M468.6 1119.8h1M462.6 1130.6h1M474.4 1114.0h1M435.5 1115.8h1M462.4 1123.0h1M460.6 1118.5h1M384.5 1117.8h1M440.2 1131.2h1M473.3 1109.1h1M432.4 1138.7h1M410.2 1185.0h1M381.9 1137.2h1M472.7 1119.6h1M381.3 1110.3h1M457.7 1117.8h1M465.0 1113.7h1M416.9 1160.8h1M467.7 1116.5h1M469.6 1139.3h1M381.7 1125.7h1M465.4 1125.5h1M386.3 1133.6h1M450.8 1124.9h1M482.3 1111.7h1M457.5 1125.6h1M474.3 1093.8h1M455.0 1111.6h1M465.4 1118.5h1M480.8 1088.3h1M402.0 1127.0h1M457.1 1118.2h1M464.9 1145.4h1M476.4 1127.8h1M479.3 1126.8h1M478.1 1127.9h1M386.1 1106.0h1M373.3 1126.7h1M455.9 1139.1h1M482.9 1118.8h1M385.7 1127.7h1M478.1 1127.3h1M480.2 1123.9h1M439.2 1121.9h1M465.9 1142.0h1M452.4 1137.1h1M462.5 1136.9h1M471.8 1110.0h1M438.6 1138.1h1" stroke="#3a3a3a" stroke-width="1.1" stroke-opacity="0.8" fill="none"/>
<rect x="49.6" y="1054.2" width="142.2" height="142.2" fill="none" stroke="#000" stroke-width="2"/>
<line x1="83.4" y1="1054.2" x2="83.4" y2="1196.4" stroke="#000" stroke-width="2" />
<line x1="49.6" y1="1148.6" x2="191.8" y2="1148.6" stroke="#000" stroke-width="2" />
<path d="M51.1 1196.4v4.6M49.6 1196.4h-4.6M61.6 1196.4v3.0M49.6 1185.7h-3.0M67.8 1196.4v3.0M49.6 1179.4h-3.0M72.1 1196.4v3.0M49.6 1175.0h-3.0M75.5 1196.4v3.0M49.6 1171.6h-3.0M78.3 1196.4v3.0M49.6 1168.7h-3.0M80.6 1196.4v3.0M49.6 1166.4h-3.0M82.6 1196.4v3.0M49.6 1164.3h-3.0M84.4 1196.4v3.0M49.6 1162.5h-3.0M86.0 1196.4v4.6M49.6 1160.9h-4.6M96.5 1196.4v3.0M49.6 1150.1h-3.0M102.7 1196.4v3.0M49.6 1143.9h-3.0M107.1 1196.4v3.0M49.6 1139.4h-3.0M110.4 1196.4v3.0M49.6 1136.0h-3.0M113.2 1196.4v3.0M49.6 1133.2h-3.0M115.5 1196.4v3.0M49.6 1130.8h-3.0M117.6 1196.4v3.0M49.6 1128.7h-3.0M119.4 1196.4v3.0M49.6 1126.9h-3.0M121.0 1196.4v4.6M49.6 1125.3h-4.6M131.5 1196.4v3.0M49.6 1114.6h-3.0M137.6 1196.4v3.0M49.6 1108.3h-3.0M142.0 1196.4v3.0M49.6 1103.9h-3.0M145.4 1196.4v3.0M49.6 1100.5h-3.0M148.1 1196.4v3.0M49.6 1097.6h-3.0M150.5 1196.4v3.0M49.6 1095.3h-3.0M152.5 1196.4v3.0M49.6 1093.2h-3.0M154.3 1196.4v3.0M49.6 1091.4h-3.0M155.9 1196.4v4.6M49.6 1089.8h-4.6M166.4 1196.4v3.0M49.6 1079.0h-3.0M172.5 1196.4v3.0M49.6 1072.8h-3.0M176.9 1196.4v3.0M49.6 1068.3h-3.0M180.3 1196.4v3.0M49.6 1064.9h-3.0M183.1 1196.4v3.0M49.6 1062.1h-3.0M185.4 1196.4v3.0M49.6 1059.7h-3.0M187.4 1196.4v3.0M49.6 1057.6h-3.0M189.2 1196.4v3.0M49.6 1055.8h-3.0" stroke="#000" stroke-width="1" fill="none"/>
<text transform="translate(43.7,1218.1) scale(0.98,1)" font-size="12.8" font-weight="bold" stroke="#000" stroke-width="0.35">10<tspan dy="-8.8" dx="-0.3" font-size="7.5" stroke-width="0.2">0</tspan></text>
<text transform="translate(78.6,1218.1) scale(0.98,1)" font-size="12.8" font-weight="bold" stroke="#000" stroke-width="0.35">10<tspan dy="-8.8" dx="-0.3" font-size="7.5" stroke-width="0.2">1</tspan></text>
<text transform="translate(113.6,1218.1) scale(0.98,1)" font-size="12.8" font-weight="bold" stroke="#000" stroke-width="0.35">10<tspan dy="-8.8" dx="-0.3" font-size="7.5" stroke-width="0.2">2</tspan></text>
<text transform="translate(148.5,1218.1) scale(0.98,1)" font-size="12.8" font-weight="bold" stroke="#000" stroke-width="0.35">10<tspan dy="-8.8" dx="-0.3" font-size="7.5" stroke-width="0.2">3</tspan></text>
<text transform="translate(183.4,1218.1) scale(0.98,1)" font-size="12.8" font-weight="bold" stroke="#000" stroke-width="0.35">10<tspan dy="-8.8" dx="-0.3" font-size="7.5" stroke-width="0.2">4</tspan></text>
<rect x="209.5" y="1054.2" width="143.1" height="142.2" fill="none" stroke="#000" stroke-width="2"/>
<line x1="243.5" y1="1054.2" x2="243.5" y2="1196.4" stroke="#000" stroke-width="2" />
<line x1="209.5" y1="1148.6" x2="352.6" y2="1148.6" stroke="#000" stroke-width="2" />
<path d="M211.0 1196.4v4.6M209.5 1196.4h-4.6M221.6 1196.4v3.0M209.5 1185.7h-3.0M227.8 1196.4v3.0M209.5 1179.4h-3.0M232.2 1196.4v3.0M209.5 1175.0h-3.0M235.6 1196.4v3.0M209.5 1171.6h-3.0M238.4 1196.4v3.0M209.5 1168.7h-3.0M240.7 1196.4v3.0M209.5 1166.4h-3.0M242.7 1196.4v3.0M209.5 1164.3h-3.0M244.5 1196.4v3.0M209.5 1162.5h-3.0M246.2 1196.4v4.6M209.5 1160.9h-4.6M256.7 1196.4v3.0M209.5 1150.1h-3.0M262.9 1196.4v3.0M209.5 1143.9h-3.0M267.3 1196.4v3.0M209.5 1139.4h-3.0M270.7 1196.4v3.0M209.5 1136.0h-3.0M273.5 1196.4v3.0M209.5 1133.2h-3.0M275.9 1196.4v3.0M209.5 1130.8h-3.0M277.9 1196.4v3.0M209.5 1128.7h-3.0M279.7 1196.4v3.0M209.5 1126.9h-3.0M281.3 1196.4v4.6M209.5 1125.3h-4.6M291.9 1196.4v3.0M209.5 1114.6h-3.0M298.1 1196.4v3.0M209.5 1108.3h-3.0M302.5 1196.4v3.0M209.5 1103.9h-3.0M305.9 1196.4v3.0M209.5 1100.5h-3.0M308.7 1196.4v3.0M209.5 1097.6h-3.0M311.0 1196.4v3.0M209.5 1095.3h-3.0M313.0 1196.4v3.0M209.5 1093.2h-3.0M314.8 1196.4v3.0M209.5 1091.4h-3.0M316.5 1196.4v4.6M209.5 1089.8h-4.6M327.0 1196.4v3.0M209.5 1079.0h-3.0M333.2 1196.4v3.0M209.5 1072.8h-3.0M337.6 1196.4v3.0M209.5 1068.3h-3.0M341.0 1196.4v3.0M209.5 1064.9h-3.0M343.8 1196.4v3.0M209.5 1062.1h-3.0M346.2 1196.4v3.0M209.5 1059.7h-3.0M348.2 1196.4v3.0M209.5 1057.6h-3.0M350.0 1196.4v3.0M209.5 1055.8h-3.0" stroke="#000" stroke-width="1" fill="none"/>
<text transform="translate(203.6,1218.1) scale(0.98,1)" font-size="12.8" font-weight="bold" stroke="#000" stroke-width="0.35">10<tspan dy="-8.8" dx="-0.3" font-size="7.5" stroke-width="0.2">0</tspan></text>
<text transform="translate(238.8,1218.1) scale(0.98,1)" font-size="12.8" font-weight="bold" stroke="#000" stroke-width="0.35">10<tspan dy="-8.8" dx="-0.3" font-size="7.5" stroke-width="0.2">1</tspan></text>
<text transform="translate(273.9,1218.1) scale(0.98,1)" font-size="12.8" font-weight="bold" stroke="#000" stroke-width="0.35">10<tspan dy="-8.8" dx="-0.3" font-size="7.5" stroke-width="0.2">2</tspan></text>
<text transform="translate(309.1,1218.1) scale(0.98,1)" font-size="12.8" font-weight="bold" stroke="#000" stroke-width="0.35">10<tspan dy="-8.8" dx="-0.3" font-size="7.5" stroke-width="0.2">3</tspan></text>
<text transform="translate(344.2,1218.1) scale(0.98,1)" font-size="12.8" font-weight="bold" stroke="#000" stroke-width="0.35">10<tspan dy="-8.8" dx="-0.3" font-size="7.5" stroke-width="0.2">4</tspan></text>
<rect x="366.6" y="1054.2" width="144.0" height="142.2" fill="none" stroke="#000" stroke-width="2"/>
<line x1="403.8" y1="1054.2" x2="403.8" y2="1196.4" stroke="#000" stroke-width="2" />
<line x1="366.6" y1="1154.3" x2="510.6" y2="1154.3" stroke="#000" stroke-width="2" />
<path d="M368.1 1196.4v4.6M366.6 1196.4h-4.6M378.7 1196.4v3.0M366.6 1185.7h-3.0M385.0 1196.4v3.0M366.6 1179.4h-3.0M389.4 1196.4v3.0M366.6 1175.0h-3.0M392.8 1196.4v3.0M366.6 1171.6h-3.0M395.6 1196.4v3.0M366.6 1168.7h-3.0M398.0 1196.4v3.0M366.6 1166.4h-3.0M400.0 1196.4v3.0M366.6 1164.3h-3.0M401.9 1196.4v3.0M366.6 1162.5h-3.0M403.5 1196.4v4.6M366.6 1160.9h-4.6M414.1 1196.4v3.0M366.6 1150.1h-3.0M420.4 1196.4v3.0M366.6 1143.9h-3.0M424.8 1196.4v3.0M366.6 1139.4h-3.0M428.2 1196.4v3.0M366.6 1136.0h-3.0M431.0 1196.4v3.0M366.6 1133.2h-3.0M433.4 1196.4v3.0M366.6 1130.8h-3.0M435.4 1196.4v3.0M366.6 1128.7h-3.0M437.2 1196.4v3.0M366.6 1126.9h-3.0M438.9 1196.4v4.6M366.6 1125.3h-4.6M449.5 1196.4v3.0M366.6 1114.6h-3.0M455.7 1196.4v3.0M366.6 1108.3h-3.0M460.1 1196.4v3.0M366.6 1103.9h-3.0M463.6 1196.4v3.0M366.6 1100.5h-3.0M466.4 1196.4v3.0M366.6 1097.6h-3.0M468.7 1196.4v3.0M366.6 1095.3h-3.0M470.8 1196.4v3.0M366.6 1093.2h-3.0M472.6 1196.4v3.0M366.6 1091.4h-3.0M474.2 1196.4v4.6M366.6 1089.8h-4.6M484.9 1196.4v3.0M366.6 1079.0h-3.0M491.1 1196.4v3.0M366.6 1072.8h-3.0M495.5 1196.4v3.0M366.6 1068.3h-3.0M499.0 1196.4v3.0M366.6 1064.9h-3.0M501.8 1196.4v3.0M366.6 1062.1h-3.0M504.1 1196.4v3.0M366.6 1059.7h-3.0M506.2 1196.4v3.0M366.6 1057.6h-3.0M508.0 1196.4v3.0M366.6 1055.8h-3.0" stroke="#000" stroke-width="1" fill="none"/>
<text transform="translate(360.7,1218.1) scale(0.98,1)" font-size="12.8" font-weight="bold" stroke="#000" stroke-width="0.35">10<tspan dy="-8.8" dx="-0.3" font-size="7.5" stroke-width="0.2">0</tspan></text>
<text transform="translate(396.1,1218.1) scale(0.98,1)" font-size="12.8" font-weight="bold" stroke="#000" stroke-width="0.35">10<tspan dy="-8.8" dx="-0.3" font-size="7.5" stroke-width="0.2">1</tspan></text>
<text transform="translate(431.5,1218.1) scale(0.98,1)" font-size="12.8" font-weight="bold" stroke="#000" stroke-width="0.35">10<tspan dy="-8.8" dx="-0.3" font-size="7.5" stroke-width="0.2">2</tspan></text>
<text transform="translate(466.8,1218.1) scale(0.98,1)" font-size="12.8" font-weight="bold" stroke="#000" stroke-width="0.35">10<tspan dy="-8.8" dx="-0.3" font-size="7.5" stroke-width="0.2">3</tspan></text>
<text transform="translate(502.2,1218.1) scale(0.98,1)" font-size="12.8" font-weight="bold" stroke="#000" stroke-width="0.35">10<tspan dy="-8.8" dx="-0.3" font-size="7.5" stroke-width="0.2">4</tspan></text>
<text transform="translate(28.2,1200.0) scale(0.98,1)" font-size="12.8" font-weight="bold" stroke="#000" stroke-width="0.35">10<tspan dy="-8.8" dx="-0.3" font-size="7.5" stroke-width="0.2">0</tspan></text>
<text transform="translate(28.2,1164.5) scale(0.98,1)" font-size="12.8" font-weight="bold" stroke="#000" stroke-width="0.35">10<tspan dy="-8.8" dx="-0.3" font-size="7.5" stroke-width="0.2">1</tspan></text>
<text transform="translate(28.2,1128.9) scale(0.98,1)" font-size="12.8" font-weight="bold" stroke="#000" stroke-width="0.35">10<tspan dy="-8.8" dx="-0.3" font-size="7.5" stroke-width="0.2">2</tspan></text>
<text transform="translate(28.2,1093.3) scale(0.98,1)" font-size="12.8" font-weight="bold" stroke="#000" stroke-width="0.35">10<tspan dy="-8.8" dx="-0.3" font-size="7.5" stroke-width="0.2">3</tspan></text>
<text transform="translate(28.2,1057.8) scale(0.98,1)" font-size="12.8" font-weight="bold" stroke="#000" stroke-width="0.35">10<tspan dy="-8.8" dx="-0.3" font-size="7.5" stroke-width="0.2">4</tspan></text>
<text x="190.0" y="1076.2" font-size="19.6" font-weight="bold" text-anchor="end" fill="#000" stroke="#000" stroke-width="0.35" >10%</text>
<text x="190.0" y="1189.2" font-size="19.6" font-weight="bold" text-anchor="end" fill="#000" stroke="#000" stroke-width="0.35" >39%</text>
<text x="349" y="1076.6" font-size="19.6" font-weight="bold" text-anchor="end" fill="#000" stroke="#000" stroke-width="0.35" >4%</text>
<text x="349" y="1189.3" font-size="19.6" font-weight="bold" text-anchor="end" fill="#000" stroke="#000" stroke-width="0.35" >4%</text>
<text x="506" y="1076.6" font-size="19.6" font-weight="bold" text-anchor="end" fill="#000" stroke="#000" stroke-width="0.35" >74%</text>
<path d="M18.1,1104 V1040" fill="none" stroke="#000" stroke-width="2.5"/>
<path d="M18.1,1023 L23.8,1042 H12.4 Z" fill="#000"/>
<text transform="translate(22.5,1140.1) rotate(-90) scale(0.99,1)" stroke="#000" stroke-width="0.4" font-size="19.4" font-weight="bold" text-anchor="middle">Mac-1</text>
<path d="M18.1,1172.5 V1237 H260.5" fill="none" stroke="#000" stroke-width="2.3"/>
<text x="285" y="1244.3" font-size="19.5" font-weight="bold" text-anchor="middle" fill="#000" stroke="#000" stroke-width="0.35" >GFP</text>
<path d="M311,1237 H501" fill="none" stroke="#000" stroke-width="2.3"/>
<path d="M518,1237 L499,1231.4 V1242.6 Z" fill="#000"/>
</g>
</svg>
</body></html>
